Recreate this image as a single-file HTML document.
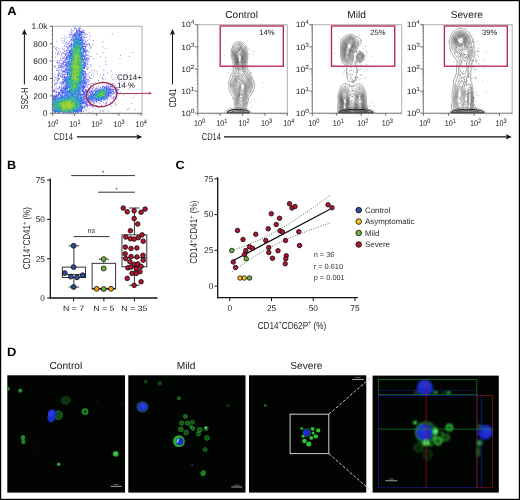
<!DOCTYPE html>
<html><head><meta charset="utf-8"><title>Figure</title>
<style>
html,body{margin:0;padding:0;background:#fff;}
body{width:520px;height:500px;overflow:hidden;}
svg{display:block;font-family:"Liberation Sans",sans-serif;text-rendering:geometricPrecision;will-change:transform;}
</style></head><body>
<svg width="520" height="500" viewBox="0 0 520 500">
<defs><filter id="dblur" x="-5%" y="-5%" width="110%" height="110%"><feGaussianBlur stdDeviation="0.3"/></filter>
<filter id="mblur" x="-5%" y="-5%" width="110%" height="110%"><feGaussianBlur stdDeviation="0.65"/></filter>
<filter id="mblur2" x="-5%" y="-5%" width="110%" height="110%"><feGaussianBlur stdDeviation="0.8"/></filter>
<clipPath id="c1"><rect x="7.3" y="375.3" width="117.7" height="117.3"/></clipPath>
<clipPath id="c5"><rect x="372.6" y="379.4" width="126.2" height="15.6"/></clipPath>
<clipPath id="c4"><rect x="372.6" y="375.6" width="126.2" height="117"/></clipPath></defs>
<rect x="0" y="0" width="520" height="500" fill="#fff"/>
<text transform="translate(7.2,15.3) scale(1.08,1)" font-size="12" font-weight="bold" fill="#000">A</text>
<g stroke-width="0.8" fill="none" filter="url(#dblur)">
<path d="M85.8 105.2h.8M85.3 109.5h.8M80.7 112.3h.8M86.2 109.9h.8M53.6 91.7h.8M85.9 106.1h.8M56.0 90.9h.8M81.2 111.3h.8M53.9 96.4h.8M53.7 112.3h.8M89.2 104.5h.8M57.9 92.3h.8M90.8 106.1h.8M53.3 95.6h.8M61.1 88.7h.8M80.9 111.6h.8M79.3 110.2h.8M82.6 29.3h.8M82.9 36.5h.8M72.6 31.0h.8M79.8 34.9h.8M63.8 86.9h.8M74.2 28.1h.8M83.6 30.6h.8M69.0 45.5h.8M87.4 67.4h.8M76.1 29.4h.8M84.4 71.8h.8M84.2 49.8h.8M73.7 26.5h.8M87.4 55.6h.8M74.0 29.0h.8M81.2 37.5h.8M64.4 51.7h.8M78.6 29.0h.8M71.0 30.6h.8M71.7 37.0h.8M83.7 39.6h.8M84.0 32.2h.8M89.2 39.0h.8M75.2 28.5h.8M87.7 59.5h.8M89.4 77.2h.8M84.0 46.5h.8M86.7 34.2h.8M72.7 35.6h.8M82.5 50.7h.8M73.1 34.6h.8M85.0 53.1h.8M78.9 28.8h.8M61.8 74.8h.8M68.5 51.6h.8M85.4 57.3h.8M82.3 34.7h.8M85.4 41.8h.8M69.2 46.0h.8M69.4 37.2h.8M85.7 89.9h.8M70.8 39.9h.8M66.7 54.9h.8M80.2 28.6h.8M86.4 82.1h.8M67.6 50.0h.8M82.6 32.8h.8M76.5 38.1h.8M86.2 44.5h.8M87.5 74.8h.8M69.1 34.8h.8M71.6 41.3h.8M83.9 37.7h.8M86.8 68.7h.8M76.6 29.7h.8M76.5 30.2h.8M77.6 34.5h.8M79.7 26.7h.8M82.8 30.6h.8M73.9 33.5h.8M86.3 37.5h.8M87.8 82.7h.8M84.5 56.8h.8M86.6 105.3h.8M86.2 51.9h.8M66.9 50.5h.8M87.6 80.6h.8M86.1 73.6h.8M89.8 48.5h.8M59.3 73.5h.8M86.9 59.3h.8M86.2 46.4h.8M63.8 56.7h.8M65.8 43.1h.8M86.5 50.3h.8M84.4 86.4h.8M81.1 33.0h.8M74.8 26.9h.8M66.1 56.8h.8M59.2 68.1h.8M64.6 59.8h.8M85.6 59.3h.8M65.5 58.4h.8M56.9 62.1h.8M61.8 84.2h.8M63.7 50.8h.8M57.0 80.3h.8M72.5 30.6h.8M89.3 46.0h.8M85.5 106.1h.8M88.6 72.8h.8M55.1 77.6h.8M85.5 67.0h.8M82.1 32.0h.8M85.1 41.1h.8M89.0 77.6h.8M90.8 105.6h.8M61.4 88.9h.8M65.2 64.8h.8M61.2 71.1h.8M86.9 69.2h.8M86.5 76.8h.8M56.0 92.4h.8M89.2 80.3h.8M88.5 53.0h.8M84.7 35.2h.8M87.7 89.7h.8M53.5 95.5h.8M70.8 32.2h.8M82.0 90.4h.8M87.6 55.4h.8M87.5 69.3h.8M96.8 54.0h.8M89.6 78.4h.8M90.4 56.5h.8M54.4 84.8h.8M84.3 101.0h.8M65.6 47.3h.8M88.6 32.9h.8M64.1 71.6h.8M82.7 95.4h.8M92.5 73.2h.8M65.1 62.6h.8M94.8 82.7h.8M65.9 42.2h.8M86.2 74.7h.8M89.5 72.2h.8M59.5 83.5h.8M59.6 67.6h.8M88.5 76.0h.8M86.2 44.6h.8M89.2 89.2h.8M87.9 43.5h.8M57.9 73.7h.8M68.5 46.4h.8M60.0 76.4h.8M61.0 65.8h.8M84.3 78.6h.8M87.0 44.9h.8M89.2 58.9h.8M88.7 105.8h.8M89.5 55.9h.8M84.5 95.1h.8M66.4 72.6h.8M62.7 57.8h.8M60.4 90.0h.8M65.8 51.0h.8M86.4 91.5h.8M90.9 75.3h.8M54.4 80.6h.8M93.2 87.2h.8M87.3 40.5h.8M85.4 34.1h.8M59.2 87.6h.8M60.2 65.9h.8M93.3 100.8h.8M90.9 65.8h.8M84.3 87.0h.8M73.8 28.5h.8M63.8 72.8h.8M85.6 103.5h.8M83.7 41.7h.8M70.2 34.1h.8M85.6 42.4h.8M64.1 36.1h.8M90.8 47.5h.8M89.3 44.9h.8M59.3 54.6h.8M89.1 44.4h.8M90.5 83.5h.8M70.8 34.5h.8M56.6 62.7h.8M75.7 33.0h.8M88.6 58.0h.8M93.2 40.5h.8M84.2 63.2h.8M61.9 48.2h.8M87.4 50.9h.8M83.5 43.3h.8M87.1 87.2h.8M72.6 39.8h.8M86.7 44.5h.8M86.3 86.2h.8M63.7 82.3h.8M70.3 40.2h.8M62.6 42.9h.8M83.9 33.6h.8M64.1 65.0h.8M70.4 38.8h.8M83.6 37.7h.8M85.1 75.6h.8M68.5 53.4h.8M88.7 67.2h.8M67.0 47.6h.8M86.7 81.6h.8M84.0 56.7h.8M71.6 35.5h.8M77.6 90.4h.8M75.7 32.8h.8M71.1 29.2h.8M88.6 51.4h.8M57.7 75.5h.8M89.7 35.8h.8M88.3 105.3h.8M68.5 37.1h.8M88.0 89.1h.8M60.8 74.4h.8M83.8 37.4h.8M62.2 72.7h.8M78.2 30.2h.8M86.5 51.7h.8M71.6 34.4h.8M88.8 61.1h.8M66.2 53.5h.8M60.9 83.3h.8M84.1 81.0h.8M67.3 61.7h.8M88.6 81.8h.8M87.6 84.8h.8M93.2 75.9h.8M62.3 70.8h.8M62.0 68.0h.8M87.1 80.1h.8M89.3 92.6h.8M62.8 95.8h.8M57.9 79.9h.8M69.3 32.0h.8M84.6 37.2h.8M90.2 46.8h.8M54.2 76.7h.8M86.4 103.1h.8M90.1 85.7h.8M57.7 63.6h.8M91.6 83.5h.8M55.8 84.1h.8M53.9 91.2h.8M58.8 87.0h.8M62.7 79.7h.8M55.1 48.7h.8M56.7 80.0h.8M58.5 72.7h.8M61.8 82.1h.8M57.7 70.4h.8M67.6 48.0h.8M53.8 90.7h.8M58.7 79.0h.8M53.6 89.3h.8M66.5 41.5h.8M58.6 75.2h.8M56.6 88.5h.8M58.0 66.8h.8M61.6 74.9h.8M55.0 89.1h.8M66.1 37.7h.8M57.2 54.1h.8M62.4 53.3h.8M87.1 50.6h.8M90.0 64.8h.8M53.6 65.8h.8M63.7 67.0h.8M67.1 52.8h.8M56.9 75.9h.8M56.6 68.4h.8M85.1 45.8h.8M89.8 92.6h.8M57.4 81.7h.8M57.9 74.2h.8M62.0 58.8h.8M54.9 66.9h.8M64.2 45.7h.8M86.4 79.4h.8M58.3 88.3h.8M93.0 107.2h.8M55.3 91.4h.8M69.4 41.3h.8M57.0 69.7h.8M54.3 79.6h.8M58.9 65.1h.8M61.2 86.2h.8M58.6 48.6h.8M62.5 52.5h.8M79.3 93.0h.8M56.6 82.5h.8M58.1 71.1h.8M81.0 89.0h.8M56.1 70.5h.8M63.3 53.5h.8M60.8 90.3h.8M63.8 83.0h.8M54.9 57.2h.8M60.9 73.2h.8M83.2 103.3h.8M57.9 53.4h.8M67.8 53.8h.8M62.8 75.2h.8M71.3 39.7h.8M63.6 61.2h.8M67.0 46.3h.8M61.0 85.1h.8M60.8 60.0h.8M57.4 52.9h.8M58.1 67.7h.8M55.7 95.2h.8M54.2 90.8h.8M58.2 76.1h.8M64.5 70.9h.8M57.8 77.5h.8M84.6 76.8h.8M63.4 49.3h.8M55.0 53.2h.8M59.0 78.6h.8M57.4 89.0h.8M61.2 69.3h.8M85.8 76.3h.8M59.4 62.2h.8M57.4 95.1h.8M95.9 88.0h.8M63.8 57.5h.8M59.8 87.4h.8M53.7 46.9h.8M66.6 44.9h.8M56.5 47.2h.8M54.7 74.0h.8M68.7 47.8h.8M63.4 77.2h.8M54.7 84.0h.8M63.6 38.3h.8M62.3 61.1h.8M59.4 66.8h.8M57.0 78.5h.8M61.5 55.7h.8M64.8 68.9h.8M67.9 43.9h.8M54.4 66.7h.8M59.8 75.3h.8M65.7 62.0h.8M61.9 92.6h.8M58.6 89.4h.8M54.3 85.2h.8M65.3 85.1h.8M63.9 40.8h.8M68.8 43.4h.8M66.3 50.3h.8M71.0 40.0h.8M61.6 40.7h.8M85.5 77.2h.8M64.5 39.0h.8M62.1 66.5h.8M62.5 66.5h.8M67.4 44.0h.8M57.1 60.9h.8M59.3 70.7h.8M62.0 66.1h.8M61.2 54.2h.8M113.7 87.0h.8M89.8 96.8h.8M110.7 89.2h.8M110.6 85.1h.8M112.1 89.4h.8M107.5 98.1h.8M107.0 97.6h.8M115.6 92.8h.8M89.2 101.0h.8M91.6 100.1h.8M102.8 102.9h.8M96.3 102.7h.8M112.4 91.5h.8M115.1 90.1h.8M106.6 99.6h.8M114.6 85.3h.8M93.6 103.5h.8M114.2 92.5h.8M86.3 95.0h.8M92.7 90.5h.8M95.9 89.3h.8M113.4 96.6h.8M89.3 91.3h.8M120.4 92.0h.8M105.9 102.8h.8M111.0 97.9h.8M116.6 88.1h.8M101.1 105.8h.8M116.4 88.1h.8M112.5 98.8h.8M109.9 95.5h.8M92.4 88.5h.8M102.8 79.7h.8M113.7 97.5h.8M116.7 97.2h.8M112.3 84.9h.8M102.3 87.9h.8M129.7 86.4h.8M106.1 98.4h.8M115.1 94.1h.8M107.7 85.3h.8M106.4 102.9h.8M90.8 91.6h.8M89.5 112.5h.8M94.0 103.2h.8M88.6 95.4h.8M93.7 102.3h.8M97.4 88.6h.8M117.6 92.3h.8M97.8 107.2h.8M117.1 89.7h.8M105.6 103.5h.8M105.4 101.2h.8M113.0 92.9h.8M110.6 87.0h.8M97.1 106.1h.8M95.9 87.8h.8M112.8 98.5h.8M95.0 89.3h.8M117.7 93.2h.8M102.0 83.6h.8M108.1 86.9h.8M99.7 87.0h.8M115.2 87.5h.8M116.8 91.6h.8M121.4 84.8h.8M99.4 103.3h.8M112.8 97.7h.8M89.2 88.1h.8M89.3 90.1h.8M92.7 87.7h.8M99.8 87.5h.8M115.0 89.5h.8M85.5 90.5h.8M106.1 86.2h.8M94.7 108.8h.8M114.6 88.3h.8M110.0 84.5h.8M115.7 91.2h.8M95.8 88.5h.8M114.0 87.3h.8M85.9 99.1h.8M118.7 89.9h.8M102.5 86.4h.8M115.3 99.1h.8M111.9 89.4h.8M102.3 86.8h.8M105.0 103.8h.8M111.4 84.6h.8M98.0 86.7h.8M100.6 106.5h.8M87.2 90.5h.8M113.0 91.7h.8M109.6 94.3h.8M105.6 85.0h.8M94.0 70.7h.8M135.3 76.5h.8M54.3 60.6h.8M58.1 51.4h.8M87.7 91.4h.8M112.8 79.8h.8M57.7 65.4h.8M100.7 105.1h.8M119.0 77.5h.8M102.3 106.6h.8M107.3 73.1h.8M58.5 60.5h.8M58.0 51.7h.8M109.8 99.1h.8M129.1 108.7h.8M55.9 50.3h.8M55.7 78.1h.8M116.6 91.0h.8M60.1 52.4h.8M62.9 74.3h.8M63.9 48.9h.8M69.1 41.7h.8M116.4 74.5h.8M67.2 73.0h.8M98.2 107.2h.8M59.5 63.8h.8M117.3 90.7h.8M87.8 110.5h.8M57.8 78.2h.8M53.7 81.8h.8M55.8 41.5h.8M63.3 62.0h.8M53.6 90.0h.8M56.7 54.7h.8M55.0 83.1h.8M119.2 80.9h.8M105.4 104.4h.8M107.3 84.9h.8M105.1 79.0h.8M131.0 103.4h.8M53.8 47.2h.8M88.4 84.7h.8M101.8 78.6h.8M108.3 86.8h.8M91.1 88.9h.8M96.9 73.7h.8M64.8 51.3h.8M64.8 44.1h.8M66.4 46.3h.8M90.1 105.1h.8M56.6 62.1h.8M105.7 64.4h.8M103.5 75.4h.8M82.8 111.6h.8M120.1 55.3h.8M102.8 52.7h.8M99.9 111.0h.8M60.9 82.6h.8M133.0 97.9h.8M99.1 66.2h.8M111.5 76.8h.8M102.0 110.9h.8M102.9 111.1h.8M91.1 78.5h.8M111.1 71.0h.8M119.0 85.4h.8M102.1 77.7h.8M56.0 49.5h.8M61.1 38.5h.8M89.6 87.9h.8M119.6 58.4h.8M105.0 48.4h.8M118.2 89.6h.8M132.3 52.5h.8M113.4 94.1h.8M60.2 58.5h.8M115.1 103.0h.8M89.4 108.3h.8M92.5 111.8h.8M61.7 81.2h.8M87.2 102.1h.8M111.9 33.9h.8M131.3 85.4h.8M58.0 79.0h.8M63.9 54.1h.8M128.8 88.8h.8M91.6 101.2h.8M92.7 106.7h.8M100.1 75.1h.8M60.6 94.9h.8M120.8 75.1h.8M56.5 83.2h.8M112.7 83.8h.8M98.1 80.4h.8M87.7 64.2h.8M111.7 74.4h.8M112.5 83.6h.8M105.4 61.5h.8M83.8 108.4h.8M134.6 109.6h.8M60.5 60.6h.8M126.2 77.0h.8M114.7 79.1h.8M126.8 73.8h.8M92.9 83.4h.8M92.7 59.0h.8M110.1 105.5h.8M62.7 57.9h.8M100.2 56.7h.8M114.5 97.7h.8M91.4 70.2h.8M96.6 71.2h.8M89.7 104.7h.8M116.2 87.5h.8M115.4 97.0h.8M114.5 105.0h.8M119.2 84.0h.8M102.8 74.5h.8M92.1 107.1h.8M63.6 42.3h.8M123.4 94.9h.8M59.1 73.0h.8M90.7 91.3h.8M126.6 85.8h.8M92.0 101.6h.8M120.6 81.7h.8M102.1 42.0h.8M116.2 105.2h.8M96.7 83.3h.8M61.2 87.9h.8M87.8 79.7h.8M96.3 105.6h.8M127.3 109.5h.8M99.8 112.0h.8M108.3 110.9h.8M110.3 101.8h.8M92.9 105.0h.8M129.1 56.5h.8M103.4 70.1h.8M106.3 105.6h.8M68.6 34.3h.8M108.1 83.8h.8M111.8 103.1h.8M88.3 44.1h.8M63.8 45.9h.8M111.5 107.0h.8M135.6 94.4h.8M54.3 67.0h.8M92.4 44.7h.8M112.7 93.8h.8M105.4 57.3h.8M102.6 46.9h.8M53.5 91.7h.8" stroke="#5a4ee6"/>
<path d="M66.2 112.0h.8M66.6 98.8h.8M59.6 107.7h.8M70.7 112.2h.8M53.4 105.1h.8M67.0 112.2h.8M55.3 108.7h.8M57.3 111.4h.8M53.7 110.2h.8M59.9 102.3h.8M83.9 107.4h.8M78.5 110.6h.8M53.6 111.1h.8M63.2 110.1h.8M54.7 108.1h.8M77.5 106.0h.8M83.3 110.8h.8M55.6 102.0h.8M59.8 95.0h.8M68.1 95.4h.8M84.3 105.7h.8M84.6 106.8h.8M64.8 95.6h.8M61.2 96.6h.8M56.4 94.7h.8M59.0 97.4h.8M59.0 93.5h.8M55.1 96.8h.8M59.8 105.3h.8M53.8 103.0h.8M68.5 96.7h.8M68.0 91.0h.8M69.6 112.1h.8M60.9 98.2h.8M53.6 97.1h.8M62.1 91.0h.8M55.0 99.3h.8M53.6 101.1h.8M81.7 105.2h.8M64.6 99.2h.8M57.4 102.8h.8M83.2 102.4h.8M78.6 111.2h.8M71.5 95.6h.8M62.5 112.2h.8M54.0 100.6h.8M83.8 101.3h.8M54.5 111.5h.8M73.8 99.9h.8M79.0 107.5h.8M61.0 111.2h.8M53.3 110.5h.8M77.5 112.3h.8M85.0 104.2h.8M77.2 111.3h.8M77.0 112.1h.8M54.8 112.4h.8M58.5 95.9h.8M79.5 109.9h.8M54.7 96.7h.8M61.0 99.5h.8M60.7 99.0h.8M65.3 112.0h.8M64.6 93.1h.8M87.4 105.5h.8M57.7 106.5h.8M62.8 96.6h.8M54.8 106.3h.8M54.4 110.0h.8M81.1 102.0h.8M59.0 93.1h.8M70.1 94.7h.8M54.1 97.6h.8M59.6 112.1h.8M82.7 100.6h.8M54.3 111.6h.8M61.4 95.6h.8M78.2 97.7h.8M64.2 96.3h.8M76.9 109.8h.8M81.9 108.6h.8M75.0 112.4h.8M81.0 110.0h.8M79.5 104.9h.8M58.1 112.4h.8M80.6 103.2h.8M76.3 111.1h.8M54.3 98.0h.8M53.9 97.6h.8M60.5 96.8h.8M81.1 110.1h.8M81.1 110.7h.8M73.9 111.4h.8M53.3 99.1h.8M70.2 112.1h.8M78.7 107.9h.8M53.7 109.5h.8M54.0 110.7h.8M77.3 96.9h.8M57.6 112.0h.8M61.8 111.6h.8M81.5 100.6h.8M80.3 111.4h.8M58.7 107.1h.8M77.1 103.0h.8M79.5 109.7h.8M57.7 98.9h.8M63.7 112.2h.8M79.3 111.1h.8M80.9 111.2h.8M57.1 112.2h.8M77.2 111.3h.8M78.7 101.5h.8M81.6 108.8h.8M80.4 106.7h.8M77.6 107.2h.8M79.3 109.5h.8M70.0 97.2h.8M78.0 112.3h.8M81.4 107.1h.8M57.5 98.9h.8M59.4 98.4h.8M80.4 108.2h.8M60.0 97.8h.8M80.0 107.0h.8M81.6 100.8h.8M80.9 107.3h.8M74.1 33.8h.8M80.1 31.8h.8M72.9 46.5h.8M76.8 34.0h.8M82.1 32.4h.8M77.1 97.8h.8M81.2 43.1h.8M84.3 73.2h.8M84.8 85.4h.8M79.2 42.2h.8M83.5 84.3h.8M80.7 37.7h.8M80.8 42.8h.8M68.0 43.1h.8M76.9 93.7h.8M78.6 29.9h.8M84.0 57.8h.8M80.2 42.9h.8M81.2 85.1h.8M80.7 32.3h.8M83.3 70.4h.8M74.2 34.8h.8M71.3 44.2h.8M84.1 46.9h.8M75.7 43.6h.8M80.5 31.6h.8M67.0 74.5h.8M78.0 44.8h.8M79.6 41.1h.8M83.8 59.5h.8M78.6 89.4h.8M70.7 47.8h.8M73.1 95.4h.8M80.2 97.2h.8M79.2 31.1h.8M78.7 34.7h.8M81.7 82.1h.8M82.3 60.1h.8M82.5 56.6h.8M82.6 32.4h.8M73.4 36.9h.8M80.6 95.7h.8M74.2 35.3h.8M83.6 86.8h.8M67.6 76.4h.8M83.3 82.5h.8M64.8 54.1h.8M66.1 64.0h.8M84.5 34.3h.8M80.8 49.1h.8M83.6 77.3h.8M69.7 56.8h.8M81.1 53.7h.8M82.1 57.2h.8M72.3 40.4h.8M82.2 76.1h.8M79.8 40.3h.8M70.7 77.6h.8M80.1 93.6h.8M84.1 67.4h.8M83.6 62.1h.8M84.0 80.4h.8M71.0 43.2h.8M84.9 46.7h.8M81.7 43.1h.8M78.2 37.9h.8M79.3 87.6h.8M71.6 60.6h.8M76.1 33.2h.8M73.6 41.1h.8M74.9 34.2h.8M66.8 73.8h.8M78.9 36.4h.8M79.8 35.2h.8M72.5 34.9h.8M85.5 51.2h.8M82.9 74.5h.8M87.0 64.3h.8M79.6 53.6h.8M83.5 49.4h.8M79.6 91.5h.8M82.1 46.8h.8M84.2 59.4h.8M65.4 88.9h.8M83.9 43.5h.8M84.7 51.8h.8M78.2 29.1h.8M84.9 64.6h.8M82.8 49.5h.8M68.7 78.7h.8M70.5 56.5h.8M82.7 62.7h.8M65.0 87.3h.8M83.7 55.4h.8M75.9 31.3h.8M70.0 36.0h.8M67.3 83.6h.8M77.7 94.7h.8M69.0 51.6h.8M67.0 66.5h.8M83.2 49.1h.8M69.1 72.8h.8M69.7 52.7h.8M69.2 61.4h.8M69.6 84.0h.8M73.6 35.6h.8M84.2 59.5h.8M81.3 38.3h.8M79.2 44.4h.8M83.3 53.1h.8M77.9 38.9h.8M70.8 58.5h.8M82.4 45.5h.8M69.8 78.9h.8M84.2 83.2h.8M79.4 27.5h.8M69.1 50.5h.8M77.4 32.4h.8M66.8 94.6h.8M83.7 71.5h.8M71.6 44.4h.8M77.2 35.6h.8M78.1 30.8h.8M68.7 86.9h.8M63.8 77.1h.8M83.0 94.1h.8M70.3 45.2h.8M79.5 31.2h.8M72.1 72.6h.8M66.4 89.2h.8M83.5 57.0h.8M83.1 32.3h.8M82.2 70.1h.8M71.3 32.9h.8M77.2 39.0h.8M66.6 57.1h.8M82.6 87.5h.8M70.1 54.9h.8M82.5 80.8h.8M74.3 38.9h.8M77.5 41.5h.8M82.5 38.0h.8M83.8 50.1h.8M79.8 40.4h.8M80.5 43.0h.8M74.0 51.9h.8M68.6 60.3h.8M72.6 39.0h.8M70.9 46.8h.8M81.3 54.6h.8M79.8 31.0h.8M81.7 77.5h.8M74.9 39.6h.8M80.3 39.2h.8M79.4 87.6h.8M75.3 42.9h.8M84.7 77.6h.8M80.1 66.7h.8M82.4 55.7h.8M77.9 40.5h.8M67.4 61.7h.8M64.6 85.5h.8M82.8 49.4h.8M66.5 68.5h.8M64.9 78.8h.8M71.4 38.9h.8M64.7 53.6h.8M81.2 56.1h.8M69.8 55.6h.8M68.9 69.3h.8M85.3 63.5h.8M80.6 36.8h.8M71.7 94.4h.8M83.2 46.2h.8M83.1 52.1h.8M66.7 76.0h.8M76.3 36.6h.8M84.6 64.3h.8M68.8 83.8h.8M80.3 84.4h.8M80.3 57.3h.8M83.4 89.6h.8M79.5 37.6h.8M68.9 68.7h.8M80.5 40.6h.8M70.0 45.2h.8M75.6 32.5h.8M79.4 55.8h.8M70.1 56.0h.8M69.2 58.6h.8M81.2 72.7h.8M79.0 32.3h.8M68.5 55.8h.8M85.4 49.4h.8M71.5 42.4h.8M82.0 74.3h.8M83.7 98.3h.8M83.5 74.9h.8M60.9 77.2h.8M85.6 54.7h.8M81.1 33.0h.8M82.7 86.7h.8M78.1 32.1h.8M67.4 88.3h.8M71.7 38.1h.8M80.7 41.1h.8M79.1 39.6h.8M80.0 37.7h.8M82.3 46.4h.8M83.2 78.0h.8M86.0 55.6h.8M78.9 30.3h.8M76.9 34.0h.8M79.2 49.7h.8M67.4 55.1h.8M74.5 42.7h.8M83.2 48.6h.8M74.5 45.6h.8M73.4 40.2h.8M80.6 46.2h.8M67.5 84.3h.8M78.8 30.0h.8M81.8 55.0h.8M82.5 75.0h.8M83.6 62.4h.8M74.4 35.7h.8M80.2 44.4h.8M67.3 73.3h.8M82.7 91.7h.8M85.7 54.1h.8M84.5 68.6h.8M81.4 40.3h.8M82.0 43.9h.8M79.8 42.9h.8M76.9 58.3h.8M79.5 37.3h.8M80.4 39.2h.8M70.4 53.8h.8M85.0 96.8h.8M66.7 72.6h.8M83.7 43.1h.8M67.1 94.5h.8M82.8 47.0h.8M84.5 78.4h.8M84.8 52.8h.8M78.9 33.6h.8M80.9 98.5h.8M84.4 75.7h.8M77.2 31.6h.8M85.0 47.9h.8M64.1 60.9h.8M79.5 95.3h.8M74.4 36.0h.8M85.5 64.4h.8M67.0 64.9h.8M71.2 46.5h.8M62.6 81.8h.8M68.6 66.7h.8M84.1 50.9h.8M70.0 54.1h.8M85.1 59.2h.8M68.0 72.7h.8M84.1 93.4h.8M80.1 104.2h.8M78.7 99.9h.8M76.2 32.9h.8M66.4 88.8h.8M83.2 93.3h.8M85.9 66.1h.8M83.4 52.7h.8M80.2 50.5h.8M82.1 34.7h.8M82.2 55.6h.8M86.7 57.6h.8M88.6 89.3h.8M83.2 61.6h.8M81.1 33.0h.8M67.2 57.9h.8M83.4 40.4h.8M63.5 62.2h.8M79.9 88.1h.8M84.7 94.9h.8M66.8 88.7h.8M85.0 73.0h.8M79.6 95.4h.8M85.0 83.4h.8M84.5 77.6h.8M82.2 94.6h.8M82.5 74.2h.8M81.9 83.2h.8M63.3 81.9h.8M64.5 91.4h.8M65.2 81.1h.8M65.3 88.4h.8M84.4 50.1h.8M82.4 80.5h.8M83.3 86.1h.8M65.4 81.3h.8M82.7 88.2h.8M84.1 62.2h.8M65.7 72.1h.8M69.0 87.5h.8M85.4 74.6h.8M83.1 92.4h.8M85.3 81.6h.8M64.1 77.6h.8M84.8 65.6h.8M76.0 31.9h.8M67.4 48.7h.8M69.3 50.9h.8M77.3 95.4h.8M84.6 44.4h.8M62.0 77.2h.8M86.4 85.2h.8M86.8 63.4h.8M69.7 45.1h.8M78.1 95.9h.8M69.0 93.5h.8M79.5 80.2h.8M81.3 33.5h.8M83.5 88.1h.8M84.7 63.4h.8M80.9 34.3h.8M55.4 94.7h.8M70.0 91.9h.8M69.8 61.5h.8M80.9 97.1h.8M84.4 78.2h.8M81.0 103.9h.8M65.6 64.1h.8M60.4 63.9h.8M85.2 56.1h.8M67.6 61.3h.8M81.4 31.6h.8M83.9 65.3h.8M66.5 82.8h.8M85.2 93.1h.8M60.9 88.5h.8M65.4 86.2h.8M86.1 100.1h.8M71.0 45.2h.8M82.3 99.9h.8M82.1 57.9h.8M82.1 70.6h.8M81.5 87.5h.8M74.3 97.2h.8M84.1 102.5h.8M67.0 56.8h.8M65.4 88.5h.8M86.2 83.2h.8M81.8 30.9h.8M70.8 43.6h.8M72.4 37.4h.8M80.7 95.2h.8M85.1 60.5h.8M66.6 59.8h.8M80.7 91.1h.8M73.9 34.8h.8M84.9 99.7h.8M62.0 77.4h.8M72.1 37.1h.8M84.5 106.5h.8M62.0 90.1h.8M70.8 61.3h.8M63.4 66.8h.8M62.0 90.6h.8M69.7 50.6h.8M84.6 76.9h.8M84.5 91.6h.8M59.2 92.4h.8M65.7 65.7h.8M82.3 47.3h.8M69.5 52.5h.8M83.3 97.7h.8M80.3 109.7h.8M85.8 82.8h.8M67.2 56.0h.8M79.8 86.7h.8M60.1 91.4h.8M61.0 97.6h.8M74.8 35.1h.8M68.6 47.7h.8M65.8 77.5h.8M65.0 95.7h.8M82.3 101.7h.8M80.4 94.8h.8M82.5 97.9h.8M77.1 34.5h.8M84.1 91.9h.8M82.9 52.0h.8M78.0 92.1h.8M63.3 81.2h.8M71.7 58.0h.8M83.4 32.7h.8M86.5 62.0h.8M84.7 102.0h.8M63.4 93.8h.8M75.8 42.3h.8M83.4 86.9h.8M75.5 36.8h.8M81.8 36.3h.8M68.7 55.7h.8M85.5 83.0h.8M71.5 84.7h.8M85.7 84.3h.8M82.5 40.0h.8M83.5 76.6h.8M81.8 94.3h.8M85.1 89.5h.8M60.5 76.4h.8M70.4 81.5h.8M86.1 92.1h.8M78.9 35.8h.8M83.3 79.8h.8M65.9 67.6h.8M80.6 52.5h.8M82.7 81.9h.8M76.7 34.1h.8M67.8 52.1h.8M84.0 103.9h.8M86.0 59.9h.8M83.7 51.1h.8M83.1 43.5h.8M63.6 90.4h.8M65.0 65.6h.8M84.3 93.2h.8M76.4 38.5h.8M80.4 91.4h.8M64.0 79.8h.8M68.4 59.6h.8M71.1 49.0h.8M63.2 68.2h.8M87.4 61.4h.8M77.3 92.6h.8M63.6 90.5h.8M83.2 71.3h.8M66.4 53.1h.8M53.3 90.8h.8M81.4 56.0h.8M83.9 44.0h.8M85.9 90.1h.8M84.3 87.2h.8M74.4 93.9h.8M81.8 106.3h.8M69.3 50.6h.8M82.0 87.2h.8M84.8 83.7h.8M76.1 31.2h.8M69.2 57.9h.8M65.8 77.1h.8M69.9 89.4h.8M79.2 90.1h.8M73.1 39.5h.8M83.2 102.8h.8M89.3 84.3h.8M68.8 92.6h.8M72.5 88.4h.8M82.4 41.9h.8M58.3 94.7h.8M82.4 39.9h.8M66.6 96.7h.8M82.5 106.7h.8M63.3 81.9h.8M78.9 94.6h.8M83.3 84.1h.8M73.7 45.7h.8M76.2 102.2h.8M77.1 101.8h.8M82.7 90.6h.8M86.6 92.1h.8M83.8 73.2h.8M84.0 58.6h.8M84.8 90.8h.8M83.0 75.5h.8M85.6 79.4h.8M67.2 75.5h.8M83.1 67.7h.8M67.5 68.2h.8M66.2 66.6h.8M65.1 77.4h.8M65.5 78.7h.8M67.2 66.2h.8M59.9 98.0h.8M79.0 93.6h.8M64.1 96.0h.8M60.8 91.1h.8M66.7 74.8h.8M65.6 68.2h.8M62.8 89.2h.8M86.5 91.8h.8M67.3 65.3h.8M88.1 58.2h.8M82.2 41.1h.8M84.9 66.6h.8M65.6 70.2h.8M81.8 85.7h.8M86.1 54.8h.8M86.3 83.3h.8M67.0 74.7h.8M82.7 103.6h.8M68.1 91.9h.8M85.5 61.3h.8M84.4 44.0h.8M84.5 84.6h.8M69.8 52.6h.8M63.3 61.8h.8M83.4 107.7h.8M85.3 51.4h.8M66.2 79.3h.8M81.9 82.4h.8M86.3 104.4h.8M66.7 91.8h.8M79.1 34.1h.8M84.2 68.5h.8M85.2 91.5h.8M85.6 99.1h.8M66.7 93.4h.8M69.3 53.4h.8M81.9 31.3h.8M60.1 89.7h.8M86.1 58.3h.8M77.2 94.0h.8M69.1 64.5h.8M84.2 82.0h.8M65.5 88.7h.8M84.4 77.8h.8M80.6 40.0h.8M78.2 92.4h.8M79.4 41.5h.8M80.3 32.2h.8M64.3 62.4h.8M72.6 94.8h.8M88.2 102.3h.8M76.4 30.5h.8M61.0 85.7h.8M63.8 62.3h.8M85.1 59.3h.8M72.7 91.2h.8M77.9 38.7h.8M79.1 90.7h.8M84.3 55.4h.8M83.3 54.2h.8M69.6 89.5h.8M70.8 82.6h.8M79.6 91.7h.8M84.7 71.7h.8M74.6 36.3h.8M67.7 86.1h.8M87.4 60.3h.8M62.9 74.9h.8M81.0 79.4h.8M85.1 47.0h.8M83.5 67.7h.8M82.7 86.6h.8M64.3 77.1h.8M66.9 62.7h.8M84.1 95.1h.8M85.7 82.0h.8M88.4 99.3h.8M64.8 58.4h.8M61.2 93.1h.8M79.0 109.3h.8M60.8 63.2h.8M83.0 82.3h.8M66.5 63.4h.8M65.7 84.4h.8M67.2 59.1h.8M81.0 107.1h.8M65.1 90.5h.8M67.4 52.9h.8M58.6 62.2h.8M65.9 95.5h.8M66.8 70.1h.8M65.8 64.1h.8M80.8 110.2h.8M66.6 69.5h.8M80.2 100.6h.8M67.2 84.0h.8M69.4 89.7h.8M70.0 62.5h.8M66.4 64.8h.8M66.8 89.4h.8M53.4 96.4h.8M83.6 101.5h.8M55.7 87.0h.8M64.3 66.7h.8M67.5 61.8h.8M80.4 98.7h.8M81.5 99.3h.8M63.3 87.6h.8M65.9 56.9h.8M79.4 110.6h.8M65.8 54.1h.8M60.6 92.5h.8M64.4 92.9h.8M77.5 109.8h.8M65.9 94.7h.8M65.8 94.2h.8M63.0 85.9h.8M62.3 63.4h.8M84.5 98.5h.8M84.2 67.2h.8M75.8 110.6h.8M64.6 83.8h.8M66.5 50.5h.8M58.0 93.0h.8M65.5 85.7h.8M70.3 95.1h.8M65.4 65.5h.8M69.2 59.8h.8M86.7 79.1h.8M54.9 111.7h.8M62.8 71.8h.8M65.4 69.5h.8M58.6 91.9h.8M65.4 80.8h.8M63.7 77.9h.8M61.5 65.0h.8M83.2 94.6h.8M55.7 92.1h.8M64.8 86.3h.8M64.1 71.8h.8M81.3 85.3h.8M81.8 103.3h.8M81.3 102.3h.8M64.0 71.5h.8M61.7 88.1h.8M59.2 87.0h.8M84.1 80.7h.8M64.9 80.8h.8M63.9 71.5h.8M70.2 94.9h.8M65.2 58.6h.8M64.6 97.1h.8M65.0 87.3h.8M70.4 58.6h.8M65.6 71.2h.8M83.6 87.6h.8M86.9 58.5h.8M61.0 98.6h.8M63.9 94.9h.8M61.2 67.1h.8M85.4 96.3h.8M64.7 84.8h.8M70.0 57.8h.8M65.7 62.6h.8M66.1 82.4h.8M82.3 106.5h.8M86.8 104.3h.8M66.0 92.7h.8M53.6 108.2h.8M73.8 96.2h.8M64.4 74.4h.8M64.5 90.2h.8M57.5 95.1h.8M60.1 66.0h.8M60.8 90.1h.8M60.4 94.6h.8M61.5 92.4h.8M67.7 97.9h.8M66.2 57.9h.8M59.7 82.7h.8M67.7 90.6h.8M77.6 109.3h.8M90.6 100.3h.8M61.1 90.7h.8M64.2 76.2h.8M66.4 83.7h.8M63.3 64.2h.8M85.1 80.9h.8M65.8 87.1h.8M59.9 76.3h.8M67.0 72.5h.8M65.1 55.6h.8M62.1 58.2h.8M64.7 69.8h.8M66.5 56.0h.8M63.1 63.3h.8M81.9 109.1h.8M65.1 79.7h.8M81.7 107.6h.8M62.8 70.5h.8M68.4 62.5h.8M68.7 84.7h.8M64.9 89.8h.8M70.0 46.6h.8M60.9 67.0h.8M63.5 71.0h.8M79.0 108.3h.8M85.3 62.9h.8M56.3 92.2h.8M57.4 98.1h.8M64.1 76.9h.8M63.8 80.5h.8M64.8 76.6h.8M65.8 91.7h.8M53.9 96.1h.8M84.4 82.2h.8M65.6 58.8h.8M63.0 71.6h.8M60.2 95.4h.8M78.7 93.1h.8M83.1 97.1h.8M59.3 93.1h.8M63.5 64.6h.8M64.2 87.8h.8M57.9 92.9h.8M62.3 79.2h.8M75.4 45.5h.8M60.9 95.8h.8M62.3 71.3h.8M85.8 104.9h.8M82.1 91.4h.8M83.4 74.7h.8M62.0 76.6h.8M80.2 84.9h.8M65.2 72.9h.8M65.1 74.4h.8M66.6 69.3h.8M62.4 63.6h.8M67.3 84.8h.8M66.7 91.0h.8M62.4 94.8h.8M78.8 93.7h.8M66.2 59.2h.8M64.9 60.4h.8M65.0 96.7h.8M88.0 93.8h.8M62.0 83.6h.8M104.2 96.0h.8M110.1 87.1h.8M92.3 93.5h.8M105.1 99.0h.8M103.4 97.6h.8M88.5 99.9h.8M106.3 89.7h.8M93.6 100.8h.8M88.9 92.4h.8M97.0 100.2h.8M90.3 101.9h.8M106.1 87.5h.8M108.8 87.4h.8M105.6 97.7h.8M93.2 93.9h.8M109.6 90.3h.8M107.2 87.9h.8M88.3 96.0h.8M91.9 100.2h.8M91.8 99.2h.8M96.9 99.0h.8M99.1 99.0h.8M107.4 92.0h.8M110.6 92.4h.8M91.3 92.6h.8M89.5 95.9h.8M99.2 100.5h.8M100.9 97.2h.8M89.8 94.0h.8M100.3 90.8h.8M110.4 86.2h.8M91.7 100.5h.8M93.1 98.2h.8M108.4 88.9h.8M110.9 89.1h.8M95.7 99.3h.8M109.3 93.4h.8M108.7 96.7h.8M96.4 98.6h.8M112.6 90.5h.8M88.5 97.6h.8M89.7 97.1h.8M105.5 96.5h.8M108.3 92.3h.8M104.4 88.9h.8M106.1 91.5h.8M111.2 89.6h.8M88.0 99.9h.8M104.4 87.0h.8M88.3 99.8h.8M98.5 98.2h.8M110.1 90.6h.8M111.9 93.9h.8M105.9 93.2h.8M108.6 91.7h.8M106.3 94.3h.8M106.0 97.9h.8M89.2 97.7h.8M108.3 95.3h.8M103.0 86.4h.8M100.3 89.5h.8M113.2 89.6h.8M94.0 94.4h.8M106.8 92.9h.8M108.7 95.8h.8M91.0 98.7h.8M87.4 98.7h.8M92.6 95.7h.8M93.5 96.6h.8M98.5 91.6h.8M106.0 88.8h.8M96.3 100.8h.8M99.3 91.3h.8M107.7 89.0h.8M105.5 94.2h.8M94.5 99.1h.8M89.9 90.6h.8M89.2 101.7h.8M106.2 96.2h.8M98.4 89.3h.8M103.7 88.4h.8M112.8 89.7h.8M96.8 97.8h.8M100.5 89.4h.8M86.2 103.2h.8M105.0 97.9h.8M112.0 87.4h.8M100.2 101.6h.8M93.3 98.6h.8M111.0 86.7h.8M86.1 91.4h.8M108.8 94.9h.8M96.0 91.4h.8M107.6 96.3h.8M85.7 95.9h.8M110.7 92.3h.8M97.8 102.1h.8M90.9 95.6h.8M94.5 90.8h.8M95.2 91.9h.8M86.0 101.8h.8M89.9 98.8h.8M94.1 99.7h.8M112.6 91.2h.8M108.9 92.7h.8M84.2 98.5h.8M107.1 87.1h.8M92.1 97.6h.8M110.0 93.5h.8M95.9 100.2h.8M90.1 93.2h.8M92.8 102.1h.8M101.5 99.5h.8M101.4 92.4h.8M82.2 103.1h.8M114.5 89.1h.8M91.8 93.0h.8M105.8 87.2h.8M91.1 91.7h.8M103.6 86.4h.8M107.1 97.1h.8M110.1 96.2h.8M92.9 96.5h.8M82.8 94.9h.8M85.4 94.4h.8M110.1 91.4h.8M110.6 93.6h.8M111.9 86.2h.8M104.0 87.3h.8M92.2 89.2h.8M82.2 91.4h.8M91.2 91.2h.8M108.4 86.5h.8M87.3 91.8h.8M108.3 93.1h.8M92.6 94.6h.8M88.4 99.0h.8M88.3 100.3h.8M110.2 88.9h.8M109.6 88.3h.8M97.0 96.1h.8M96.5 99.3h.8M104.2 98.5h.8M85.3 103.4h.8M94.5 89.0h.8M108.6 88.7h.8M106.5 89.4h.8M105.4 99.2h.8M85.6 101.6h.8M96.7 90.5h.8M89.3 97.7h.8M93.6 90.6h.8M104.2 87.7h.8M110.6 91.3h.8M86.3 101.9h.8M87.0 94.9h.8M91.2 94.1h.8M109.8 86.1h.8M113.9 93.2h.8M101.9 98.0h.8M97.2 91.9h.8M107.9 89.2h.8M108.6 89.7h.8M105.1 94.2h.8M96.0 92.1h.8M101.2 101.5h.8M108.5 89.2h.8M82.6 100.0h.8M87.8 97.6h.8M93.3 95.0h.8M106.2 96.2h.8M90.6 102.3h.8M98.8 96.2h.8M105.4 89.4h.8M101.2 88.7h.8M105.5 87.2h.8M106.0 91.7h.8M92.5 93.3h.8M83.7 87.4h.8M82.7 94.2h.8M87.5 98.3h.8M91.3 91.1h.8M84.3 99.2h.8M102.5 99.4h.8M103.7 100.4h.8M89.0 95.4h.8M110.7 96.3h.8M109.0 89.3h.8M98.1 89.9h.8M101.2 99.1h.8M87.1 100.1h.8M95.6 101.6h.8M94.0 93.5h.8M90.9 94.8h.8M108.3 95.2h.8M93.5 91.2h.8M107.2 99.5h.8M105.7 88.3h.8M100.8 100.4h.8M95.9 90.8h.8M103.5 99.7h.8M106.4 97.8h.8M92.3 92.2h.8M102.6 90.4h.8M114.9 90.1h.8M111.3 95.1h.8M107.4 95.6h.8M97.0 92.0h.8M90.7 105.3h.8M85.0 98.1h.8M81.8 95.0h.8M103.1 99.2h.8M92.7 91.5h.8M104.2 88.0h.8M90.9 98.9h.8M84.3 65.6h.8M83.2 86.8h.8M80.5 38.5h.8M57.9 94.2h.8M94.3 95.0h.8M58.0 96.2h.8M82.2 86.7h.8M115.1 91.7h.8M60.9 67.6h.8M87.2 107.0h.8M87.2 106.9h.8M65.2 69.9h.8M65.0 61.0h.8M86.3 86.7h.8M57.5 74.8h.8M86.9 104.4h.8M62.9 87.9h.8M57.2 96.6h.8M62.9 83.6h.8M85.3 72.1h.8M63.1 91.9h.8M66.5 59.7h.8M75.7 111.2h.8M96.0 101.5h.8M61.9 82.7h.8M57.9 94.3h.8M83.3 79.7h.8M66.7 66.2h.8M83.7 100.8h.8M83.2 99.5h.8M65.5 59.8h.8M83.3 96.6h.8M63.5 88.7h.8M98.5 90.7h.8M66.9 92.5h.8M82.3 88.3h.8M82.6 92.0h.8M55.0 96.0h.8M87.0 101.1h.8M92.3 91.7h.8M84.9 90.2h.8M64.4 74.3h.8M86.7 98.1h.8M60.4 91.0h.8M77.3 109.5h.8M106.5 86.5h.8M83.7 96.4h.8M60.4 69.7h.8M83.8 96.6h.8" stroke="#3b3fe8"/>
<path d="M53.4 104.5h.8M64.6 109.7h.8M57.9 108.8h.8M73.1 110.1h.8M60.3 101.8h.8M54.0 108.5h.8M73.4 109.1h.8M59.2 108.2h.8M76.3 102.7h.8M76.7 106.6h.8M80.3 97.7h.8M56.2 104.9h.8M73.4 110.7h.8M63.1 111.5h.8M56.1 111.1h.8M72.9 101.2h.8M79.7 104.2h.8M80.5 107.0h.8M69.7 111.2h.8M55.8 111.0h.8M64.9 100.0h.8M66.1 109.5h.8M72.0 110.3h.8M58.1 107.3h.8M56.1 105.7h.8M72.8 110.0h.8M66.6 112.3h.8M53.3 106.9h.8M59.6 106.1h.8M77.3 104.1h.8M73.4 109.4h.8M72.7 109.5h.8M79.8 100.3h.8M76.4 106.3h.8M55.2 101.1h.8M58.2 107.5h.8M90.6 99.2h.8M60.8 110.0h.8M71.7 112.4h.8M55.5 107.9h.8M60.0 102.5h.8M63.6 98.1h.8M76.9 107.2h.8M75.7 106.5h.8M65.1 111.3h.8M77.9 101.3h.8M69.0 112.5h.8M75.9 110.0h.8M65.3 105.4h.8M55.9 111.4h.8M57.8 106.8h.8M80.7 106.6h.8M63.9 108.6h.8M58.8 110.8h.8M82.2 107.8h.8M77.1 108.8h.8M75.2 108.5h.8M58.7 100.5h.8M75.9 90.7h.8M53.5 103.4h.8M53.3 98.6h.8M53.3 102.8h.8M54.2 104.1h.8M59.9 111.0h.8M57.6 97.9h.8M76.5 110.9h.8M72.4 110.6h.8M56.3 103.9h.8M60.5 98.8h.8M54.9 101.3h.8M61.3 111.5h.8M55.2 109.8h.8M56.6 96.1h.8M63.3 111.9h.8M66.8 111.1h.8M64.9 98.9h.8M55.2 109.6h.8M71.5 91.8h.8M89.7 97.1h.8M60.4 110.2h.8M77.4 111.5h.8M81.6 96.9h.8M73.7 102.2h.8M59.8 105.6h.8M56.6 111.5h.8M59.4 102.0h.8M62.3 96.9h.8M76.0 104.6h.8M60.5 100.3h.8M70.0 112.1h.8M61.0 105.3h.8M62.6 102.9h.8M54.7 109.2h.8M58.2 103.1h.8M76.4 101.9h.8M81.5 101.1h.8M71.8 110.1h.8M79.7 109.0h.8M62.0 100.6h.8M63.0 99.8h.8M55.9 101.9h.8M62.8 96.7h.8M55.4 99.7h.8M69.1 97.9h.8M67.9 97.7h.8M70.9 110.1h.8M55.4 101.4h.8M57.4 102.4h.8M82.5 99.3h.8M80.2 97.1h.8M71.3 97.7h.8M63.9 101.9h.8M53.4 110.4h.8M60.9 109.9h.8M58.0 107.0h.8M65.1 111.8h.8M80.8 105.3h.8M58.3 94.1h.8M64.7 95.7h.8M73.4 111.5h.8M62.6 104.3h.8M68.3 111.3h.8M55.6 108.9h.8M61.3 96.2h.8M54.7 108.3h.8M71.5 112.1h.8M62.2 98.0h.8M55.7 97.0h.8M67.7 111.7h.8M76.1 91.6h.8M74.8 110.7h.8M60.4 101.8h.8M78.3 101.9h.8M61.7 92.8h.8M73.2 96.7h.8M75.4 101.3h.8M55.6 97.6h.8M58.1 104.2h.8M73.8 110.2h.8M68.8 101.6h.8M54.6 111.0h.8M62.0 102.9h.8M55.0 104.5h.8M72.3 107.6h.8M56.1 111.3h.8M56.1 98.6h.8M76.7 98.0h.8M57.0 98.3h.8M60.6 111.5h.8M57.4 99.0h.8M55.9 101.0h.8M72.2 100.7h.8M73.7 98.3h.8M75.0 105.5h.8M74.4 106.0h.8M80.2 103.5h.8M55.0 99.9h.8M61.4 97.7h.8M80.0 105.6h.8M71.8 99.6h.8M73.5 112.2h.8M55.1 100.5h.8M54.4 102.9h.8M54.4 111.6h.8M55.9 110.2h.8M58.5 108.4h.8M60.9 110.5h.8M65.1 92.2h.8M64.4 112.1h.8M61.7 98.7h.8M62.3 92.5h.8M61.1 107.4h.8M70.2 109.1h.8M55.0 96.7h.8M62.4 112.1h.8M76.8 105.7h.8M80.1 95.9h.8M76.9 104.9h.8M62.1 111.9h.8M79.0 102.8h.8M69.7 99.1h.8M74.0 100.7h.8M78.0 111.3h.8M54.3 111.6h.8M59.0 99.2h.8M71.0 95.6h.8M54.9 97.8h.8M55.9 95.1h.8M60.4 107.1h.8M53.9 104.3h.8M61.3 110.1h.8M69.6 97.7h.8M53.4 97.4h.8M53.6 100.1h.8M57.8 109.7h.8M59.1 102.7h.8M54.4 104.3h.8M74.4 100.2h.8M56.9 111.8h.8M53.4 101.5h.8M66.5 97.0h.8M56.3 104.7h.8M54.4 101.0h.8M71.4 108.3h.8M56.2 96.6h.8M60.5 109.6h.8M77.8 104.2h.8M54.1 98.9h.8M58.4 108.2h.8M58.0 109.3h.8M82.2 100.6h.8M69.7 111.3h.8M55.2 100.3h.8M59.1 111.7h.8M55.1 112.0h.8M58.5 111.3h.8M61.2 111.4h.8M59.3 94.1h.8M78.2 110.8h.8M57.9 105.1h.8M79.5 101.9h.8M56.3 103.0h.8M64.0 111.4h.8M60.4 96.9h.8M80.9 109.8h.8M54.7 101.2h.8M79.7 104.0h.8M56.2 109.4h.8M65.8 98.2h.8M53.4 99.6h.8M72.5 111.7h.8M57.5 98.6h.8M78.6 105.3h.8M56.4 108.5h.8M59.7 102.1h.8M81.0 99.6h.8M62.7 100.9h.8M73.5 104.8h.8M70.4 101.9h.8M53.8 99.3h.8M75.2 98.6h.8M71.9 101.3h.8M80.7 100.6h.8M60.4 111.8h.8M77.2 100.4h.8M56.9 109.7h.8M75.4 107.2h.8M55.5 99.7h.8M75.8 105.0h.8M68.9 99.5h.8M73.3 111.4h.8M69.9 98.8h.8M78.5 107.2h.8M53.4 110.2h.8M78.2 101.2h.8M59.8 100.1h.8M78.8 104.3h.8M54.5 103.4h.8M54.0 99.0h.8M76.3 97.6h.8M58.6 110.8h.8M73.1 110.1h.8M65.3 100.5h.8M74.6 106.0h.8M58.4 110.9h.8M69.9 99.4h.8M76.4 98.5h.8M58.1 111.8h.8M81.2 101.2h.8M68.7 98.9h.8M71.1 108.7h.8M71.3 111.8h.8M75.2 109.4h.8M65.6 110.1h.8M81.0 98.8h.8M53.5 107.0h.8M71.0 110.3h.8M67.4 110.2h.8M72.2 107.3h.8M75.4 112.4h.8M80.0 103.7h.8M78.2 102.7h.8M54.7 98.1h.8M81.7 107.2h.8M57.8 99.4h.8M70.1 96.8h.8M56.5 108.9h.8M53.8 98.3h.8M80.6 102.8h.8M76.1 99.4h.8M74.8 110.5h.8M59.5 99.3h.8M57.7 108.7h.8M67.4 99.3h.8M76.4 111.8h.8M80.2 107.2h.8M53.9 106.3h.8M70.4 98.5h.8M79.6 104.4h.8M56.6 101.9h.8M81.1 103.4h.8M53.5 101.7h.8M53.6 103.8h.8M79.6 101.6h.8M75.4 111.9h.8M57.8 103.0h.8M78.0 108.6h.8M57.6 101.6h.8M58.3 108.7h.8M74.6 111.8h.8M58.3 109.0h.8M75.4 111.2h.8M80.3 101.7h.8M76.7 97.3h.8M75.1 96.9h.8M75.8 100.9h.8M56.3 111.1h.8M78.7 106.1h.8M81.6 98.0h.8M63.6 112.5h.8M54.9 111.5h.8M59.6 105.7h.8M57.9 99.0h.8M53.6 103.0h.8M74.7 103.7h.8M53.4 99.1h.8M74.1 100.8h.8M56.2 97.4h.8M53.4 109.4h.8M54.0 104.6h.8M62.6 109.1h.8M60.2 108.9h.8M58.0 101.2h.8M77.5 97.9h.8M76.8 109.0h.8M58.2 111.4h.8M56.8 110.1h.8M57.1 111.0h.8M54.4 98.8h.8M77.0 109.1h.8M73.4 106.2h.8M66.3 99.9h.8M79.6 98.7h.8M79.9 54.2h.8M65.8 65.9h.8M71.2 50.7h.8M82.6 83.5h.8M72.9 94.1h.8M70.1 83.4h.8M73.2 44.0h.8M78.9 62.3h.8M79.0 77.5h.8M69.2 56.3h.8M75.7 72.0h.8M76.7 49.5h.8M72.0 55.9h.8M82.4 68.0h.8M81.4 79.6h.8M77.6 43.1h.8M68.4 65.9h.8M73.5 93.4h.8M70.6 88.4h.8M75.5 82.9h.8M73.9 50.9h.8M76.5 84.9h.8M71.3 55.5h.8M71.3 87.1h.8M79.8 47.5h.8M63.0 84.0h.8M73.4 44.7h.8M77.2 94.1h.8M80.4 37.1h.8M79.5 81.2h.8M78.4 33.6h.8M68.3 87.1h.8M80.3 58.9h.8M75.1 86.3h.8M82.6 66.6h.8M73.7 48.1h.8M79.0 80.1h.8M81.3 56.1h.8M71.2 86.0h.8M67.1 86.5h.8M80.0 70.7h.8M72.1 75.9h.8M73.0 52.8h.8M78.8 40.2h.8M74.3 34.4h.8M76.5 87.9h.8M68.7 69.2h.8M75.2 41.2h.8M81.1 87.7h.8M68.1 79.5h.8M76.4 49.4h.8M71.4 93.8h.8M73.1 75.0h.8M81.7 78.7h.8M79.7 89.0h.8M71.3 63.0h.8M71.4 75.1h.8M72.9 70.9h.8M71.0 60.8h.8M79.6 86.2h.8M77.0 97.3h.8M73.5 36.0h.8M73.7 47.4h.8M83.7 86.4h.8M70.8 59.2h.8M76.0 83.1h.8M72.2 51.6h.8M70.9 54.2h.8M68.2 64.2h.8M77.7 55.9h.8M69.9 70.5h.8M72.8 69.5h.8M75.2 90.5h.8M76.2 42.1h.8M71.4 44.6h.8M80.2 33.1h.8M77.9 65.4h.8M80.1 53.7h.8M68.5 92.6h.8M84.3 78.5h.8M75.5 93.4h.8M79.3 45.6h.8M78.1 45.4h.8M70.1 78.6h.8M75.3 96.3h.8M71.9 56.4h.8M76.5 97.3h.8M80.2 49.9h.8M70.2 44.8h.8M69.3 69.7h.8M80.0 75.8h.8M77.2 44.5h.8M71.8 57.3h.8M76.9 74.5h.8M83.6 56.1h.8M80.2 83.2h.8M83.5 68.2h.8M78.7 33.3h.8M81.0 38.2h.8M81.7 72.5h.8M83.5 58.5h.8M75.3 42.2h.8M80.8 60.1h.8M84.1 92.3h.8M76.4 85.0h.8M72.3 73.8h.8M74.5 74.4h.8M77.4 44.5h.8M82.7 78.2h.8M81.7 58.9h.8M80.0 53.3h.8M71.4 51.4h.8M72.4 47.3h.8M81.0 84.0h.8M78.5 92.3h.8M70.6 50.8h.8M69.7 64.3h.8M79.7 89.9h.8M79.2 87.9h.8M76.3 97.7h.8M73.2 91.0h.8M73.2 82.2h.8M81.3 58.3h.8M67.4 95.5h.8M79.3 45.1h.8M83.4 62.9h.8M68.3 56.3h.8M71.5 68.1h.8M70.1 63.0h.8M76.6 43.7h.8M72.1 69.0h.8M75.5 86.2h.8M76.7 85.5h.8M69.7 51.9h.8M71.8 86.7h.8M79.2 40.4h.8M81.6 42.9h.8M82.9 44.1h.8M76.3 62.1h.8M74.5 89.3h.8M81.4 73.0h.8M81.7 38.0h.8M80.3 83.8h.8M81.1 39.3h.8M77.8 94.7h.8M68.0 54.4h.8M70.7 93.3h.8M73.6 46.2h.8M80.8 61.1h.8M74.3 91.6h.8M73.2 49.5h.8M78.0 90.7h.8M78.9 83.2h.8M68.3 55.2h.8M75.4 45.0h.8M70.5 86.6h.8M73.4 54.4h.8M82.4 84.2h.8M79.3 79.6h.8M69.9 52.5h.8M81.4 40.7h.8M77.9 37.0h.8M71.7 79.9h.8M78.7 39.0h.8M72.0 96.8h.8M75.8 44.3h.8M79.2 34.9h.8M78.1 95.7h.8M74.2 53.2h.8M80.9 53.1h.8M77.4 61.3h.8M74.0 90.6h.8M78.5 82.4h.8M80.9 95.0h.8M82.1 52.9h.8M74.7 35.5h.8M82.1 71.4h.8M77.6 39.2h.8M75.2 75.7h.8M78.1 82.3h.8M77.9 89.6h.8M67.0 80.8h.8M71.0 60.7h.8M78.4 97.8h.8M75.0 47.5h.8M80.7 63.3h.8M80.1 53.9h.8M69.5 90.8h.8M81.2 61.7h.8M72.7 64.9h.8M74.1 34.9h.8M78.1 91.6h.8M77.9 83.6h.8M81.4 48.2h.8M82.4 89.6h.8M75.5 51.8h.8M82.6 46.3h.8M74.6 37.9h.8M73.2 45.8h.8M77.8 38.6h.8M78.8 35.2h.8M72.9 46.1h.8M82.8 65.2h.8M74.8 43.9h.8M69.2 57.2h.8M72.4 52.2h.8M69.8 54.0h.8M69.5 87.6h.8M68.9 63.4h.8M77.6 62.6h.8M79.4 61.5h.8M82.2 71.1h.8M80.6 48.2h.8M71.3 59.0h.8M79.6 74.3h.8M70.4 53.9h.8M75.5 38.1h.8M85.1 80.0h.8M73.7 43.0h.8M80.5 39.9h.8M71.3 66.6h.8M70.8 93.4h.8M79.1 62.2h.8M73.2 91.7h.8M79.2 82.4h.8M77.7 65.5h.8M80.7 79.5h.8M74.3 91.6h.8M71.3 58.5h.8M80.7 55.4h.8M69.6 78.9h.8M72.6 86.9h.8M70.4 92.3h.8M78.9 68.0h.8M73.2 38.3h.8M73.0 66.5h.8M80.8 47.3h.8M81.2 70.3h.8M82.1 58.5h.8M78.8 46.5h.8M82.2 71.2h.8M75.8 38.3h.8M70.9 90.3h.8M74.8 76.8h.8M76.5 40.2h.8M69.5 84.7h.8M71.8 61.4h.8M79.5 69.8h.8M69.7 78.2h.8M80.0 48.7h.8M77.7 39.0h.8M80.2 40.0h.8M82.4 51.1h.8M68.0 81.9h.8M65.9 89.3h.8M69.3 75.9h.8M79.4 67.2h.8M66.5 80.0h.8M73.0 88.4h.8M78.2 56.3h.8M67.9 70.9h.8M71.3 75.7h.8M67.2 84.9h.8M82.8 52.6h.8M78.8 61.3h.8M78.7 35.3h.8M76.5 85.0h.8M77.9 42.7h.8M80.5 40.4h.8M72.3 49.3h.8M81.3 42.1h.8M79.2 90.6h.8M67.9 81.5h.8M74.0 90.7h.8M70.6 66.4h.8M75.8 34.6h.8M66.5 88.2h.8M68.7 73.4h.8M68.8 79.8h.8M78.9 80.1h.8M77.8 98.3h.8M78.7 42.8h.8M77.2 90.8h.8M72.1 95.8h.8M75.2 60.2h.8M80.3 47.5h.8M74.2 57.1h.8M76.5 43.5h.8M71.9 62.9h.8M70.5 64.6h.8M78.8 72.8h.8M83.5 79.2h.8M70.4 64.6h.8M81.1 63.0h.8M75.2 75.1h.8M75.2 43.1h.8M77.6 95.4h.8M75.6 91.7h.8M78.0 37.9h.8M80.9 81.4h.8M68.1 92.4h.8M68.8 86.2h.8M66.7 80.1h.8M77.8 35.5h.8M81.4 75.8h.8M68.8 74.5h.8M77.3 59.5h.8M79.8 55.5h.8M82.1 40.1h.8M74.7 93.2h.8M80.8 69.2h.8M80.7 61.6h.8M69.3 77.6h.8M75.9 40.2h.8M71.4 52.1h.8M79.1 79.0h.8M74.7 87.9h.8M77.6 39.4h.8M73.1 67.7h.8M74.1 63.8h.8M77.6 43.2h.8M75.7 39.5h.8M78.3 84.7h.8M68.4 76.5h.8M73.8 49.8h.8M81.4 69.8h.8M67.9 84.9h.8M66.4 98.9h.8M81.1 80.4h.8M70.6 83.8h.8M71.0 91.1h.8M72.8 56.4h.8M79.7 50.5h.8M78.1 40.9h.8M65.5 96.0h.8M72.1 86.2h.8M76.7 81.7h.8M69.3 80.1h.8M81.3 45.7h.8M80.3 77.2h.8M71.3 44.6h.8M77.4 78.9h.8M69.3 93.0h.8M82.9 54.6h.8M77.9 43.0h.8M74.1 42.7h.8M78.1 37.8h.8M80.6 35.5h.8M74.7 75.3h.8M72.4 57.2h.8M74.9 36.8h.8M77.3 38.2h.8M80.6 76.7h.8M83.6 70.4h.8M73.7 66.0h.8M70.6 80.9h.8M75.1 72.4h.8M73.2 60.2h.8M82.1 74.4h.8M71.3 96.0h.8M80.9 33.2h.8M80.6 48.0h.8M80.5 94.1h.8M77.6 44.6h.8M65.7 82.7h.8M75.2 59.3h.8M79.9 85.2h.8M74.4 43.9h.8M73.2 49.7h.8M81.8 44.2h.8M75.0 94.2h.8M81.9 52.6h.8M71.9 96.4h.8M69.4 81.3h.8M74.0 48.0h.8M76.6 88.8h.8M74.8 45.7h.8M84.4 64.0h.8M82.6 81.1h.8M74.9 42.1h.8M69.9 74.5h.8M78.7 88.6h.8M85.2 63.7h.8M82.3 42.3h.8M71.3 57.8h.8M79.2 48.0h.8M73.4 61.2h.8M75.5 45.4h.8M83.0 64.7h.8M79.4 31.8h.8M72.2 61.5h.8M78.6 37.4h.8M71.4 46.7h.8M79.8 40.1h.8M79.7 52.8h.8M69.7 97.8h.8M70.4 57.8h.8M82.1 67.1h.8M80.1 48.4h.8M75.8 40.7h.8M70.6 83.9h.8M79.5 62.8h.8M78.9 40.1h.8M75.2 96.2h.8M72.6 63.8h.8M71.8 94.5h.8M75.5 37.0h.8M67.9 69.8h.8M78.0 38.4h.8M78.3 62.8h.8M66.9 98.6h.8M71.1 54.0h.8M70.4 49.6h.8M81.3 47.9h.8M76.0 36.1h.8M70.5 63.4h.8M76.5 36.1h.8M74.6 92.9h.8M75.7 81.8h.8M73.6 61.5h.8M70.0 76.0h.8M79.6 52.7h.8M71.9 52.9h.8M68.5 68.3h.8M80.3 47.6h.8M79.1 67.9h.8M70.9 64.7h.8M69.9 56.7h.8M71.9 52.0h.8M80.9 38.8h.8M75.9 90.6h.8M68.6 81.5h.8M75.8 52.5h.8M77.3 80.8h.8M66.8 77.9h.8M72.4 51.2h.8M76.7 94.1h.8M70.0 77.4h.8M72.5 52.9h.8M73.1 87.6h.8M75.7 46.6h.8M81.0 52.8h.8M77.9 41.8h.8M67.9 49.2h.8M84.5 50.2h.8M78.0 59.0h.8M75.1 95.2h.8M76.1 35.8h.8M79.7 43.7h.8M73.5 86.1h.8M84.8 49.0h.8M70.4 98.1h.8M73.9 89.1h.8M70.6 51.8h.8M76.4 39.2h.8M76.1 68.2h.8M77.0 72.9h.8M66.4 84.5h.8M78.3 94.0h.8M75.5 93.8h.8M73.6 43.0h.8M70.6 77.0h.8M73.0 70.4h.8M72.7 62.7h.8M83.3 79.8h.8M69.1 70.9h.8M70.6 54.8h.8M66.4 85.7h.8M91.2 96.0h.8M56.7 100.3h.8M78.9 101.1h.8M84.5 73.6h.8M81.2 75.7h.8M85.4 102.2h.8M80.4 87.9h.8M80.1 74.6h.8M80.9 44.9h.8M79.5 81.8h.8M81.1 47.2h.8M79.2 53.8h.8M68.4 87.7h.8M83.0 46.0h.8M82.3 59.9h.8M68.9 86.8h.8M73.0 93.3h.8M82.6 62.1h.8M72.7 57.8h.8M66.5 94.8h.8M79.2 74.8h.8M76.6 98.1h.8M78.5 79.5h.8M67.7 91.7h.8M71.3 94.1h.8M69.0 94.0h.8M62.9 92.1h.8M77.8 84.7h.8M71.7 81.8h.8M64.9 93.4h.8M79.8 87.7h.8M67.1 89.0h.8M82.0 73.1h.8M68.9 86.8h.8M78.0 87.8h.8M78.0 94.9h.8M65.9 63.7h.8M88.8 99.6h.8M75.4 94.2h.8M80.2 88.6h.8M78.3 53.6h.8M65.4 89.6h.8M81.1 77.1h.8M83.3 79.2h.8M84.6 59.3h.8M67.0 76.6h.8M67.1 87.5h.8M81.8 60.1h.8M69.8 73.4h.8M80.7 94.9h.8M70.1 49.5h.8M82.0 65.4h.8M69.8 63.8h.8M71.5 78.1h.8M75.5 48.3h.8M80.7 73.9h.8M70.8 76.6h.8M71.5 55.0h.8M83.9 61.9h.8M81.1 59.5h.8M67.5 70.9h.8M71.2 46.4h.8M63.4 88.3h.8M69.3 51.2h.8M81.6 89.5h.8M68.8 56.9h.8M72.4 66.9h.8M68.0 78.0h.8M82.2 58.2h.8M79.1 96.5h.8M79.9 34.4h.8M80.1 84.7h.8M67.7 62.8h.8M83.9 82.9h.8M79.2 51.9h.8M83.8 82.9h.8M83.3 48.8h.8M65.9 80.9h.8M73.9 108.3h.8M79.3 62.6h.8M68.6 70.6h.8M71.7 93.5h.8M84.4 58.8h.8M64.2 88.4h.8M73.1 44.6h.8M70.7 86.3h.8M69.9 95.7h.8M69.0 89.4h.8M81.5 82.9h.8M89.3 101.4h.8M83.3 73.9h.8M79.5 74.7h.8M64.0 89.7h.8M75.5 103.7h.8M72.7 100.5h.8M65.4 97.5h.8M69.7 58.0h.8M73.1 98.3h.8M82.1 89.9h.8M82.6 88.5h.8M81.8 86.5h.8M72.9 95.5h.8M80.3 94.3h.8M75.4 84.4h.8M88.4 99.9h.8M67.1 94.8h.8M79.8 37.4h.8M76.2 41.7h.8M77.0 101.2h.8M70.9 64.1h.8M68.5 98.6h.8M81.3 70.2h.8M69.3 87.3h.8M79.8 75.6h.8M81.1 54.4h.8M73.6 92.4h.8M67.4 81.0h.8M67.7 70.5h.8M68.4 78.9h.8M65.9 78.4h.8M77.7 87.1h.8M66.7 94.2h.8M85.2 95.8h.8M74.4 94.5h.8M77.3 95.6h.8M67.4 82.3h.8M80.1 77.9h.8M65.8 93.9h.8M79.0 33.3h.8M78.7 44.3h.8M67.6 78.0h.8M71.4 62.6h.8M71.6 87.4h.8M70.4 71.8h.8M83.4 82.4h.8M77.4 43.8h.8M70.8 72.4h.8M76.9 96.9h.8M83.9 66.7h.8M82.6 72.6h.8M68.2 85.2h.8M81.4 91.3h.8M83.6 66.6h.8M81.1 79.7h.8M79.9 35.4h.8M80.6 75.3h.8M80.8 34.3h.8M71.1 91.3h.8M83.0 60.3h.8M76.4 61.4h.8M74.0 46.9h.8M72.2 75.1h.8M80.1 82.5h.8M81.9 73.6h.8M71.1 67.1h.8M67.6 80.8h.8M73.4 57.2h.8M78.7 86.9h.8M66.5 69.8h.8M72.6 97.2h.8M81.0 63.8h.8M81.7 89.9h.8M70.4 99.5h.8M83.3 91.2h.8M83.9 63.5h.8M75.8 38.0h.8M70.2 51.9h.8M76.3 83.6h.8M82.6 59.6h.8M75.7 53.2h.8M78.5 43.9h.8M65.3 89.0h.8M74.4 80.7h.8M70.7 71.6h.8M69.6 76.2h.8M77.0 74.8h.8M80.6 106.0h.8M64.3 89.9h.8M80.2 82.2h.8M78.7 46.4h.8M69.0 96.1h.8M67.3 73.9h.8M76.0 49.9h.8M67.3 73.0h.8M81.0 55.7h.8M70.6 68.0h.8M83.5 80.4h.8M71.0 62.9h.8M82.4 42.8h.8M69.6 58.3h.8M73.7 94.1h.8M70.7 85.2h.8M81.3 56.6h.8M80.1 84.3h.8M82.1 47.9h.8M76.5 50.4h.8M83.2 65.5h.8M80.5 92.6h.8M61.5 93.1h.8M78.6 94.3h.8M73.7 106.6h.8M75.1 37.4h.8M71.8 100.2h.8M84.5 51.5h.8M75.2 89.6h.8M69.8 90.3h.8M82.3 102.7h.8M81.8 59.6h.8M73.4 83.6h.8M81.4 35.9h.8M74.9 108.4h.8M64.8 88.0h.8M62.9 97.9h.8M60.5 94.9h.8M65.2 94.9h.8M83.0 89.5h.8M82.8 76.1h.8M62.0 98.7h.8M80.0 45.6h.8M79.1 42.9h.8M68.9 54.8h.8M82.7 97.6h.8M72.7 50.7h.8M73.1 52.8h.8M80.6 47.8h.8M83.0 50.8h.8M71.2 49.0h.8M77.7 31.8h.8M74.1 97.2h.8M83.3 56.2h.8M83.3 59.3h.8M71.0 71.4h.8M65.8 71.0h.8M71.0 53.5h.8M68.4 66.6h.8M81.3 66.1h.8M73.8 56.8h.8M84.9 87.6h.8M76.9 55.4h.8M81.3 76.6h.8M85.0 102.7h.8M66.4 67.6h.8M68.9 65.8h.8M67.4 73.2h.8M71.5 86.8h.8M70.1 95.0h.8M84.1 87.9h.8M62.2 90.5h.8M79.0 65.1h.8M80.4 50.0h.8M76.5 39.5h.8M68.0 96.7h.8M73.0 40.1h.8M82.2 102.3h.8M83.8 48.7h.8M83.8 94.2h.8M70.0 91.4h.8M80.0 51.4h.8M62.4 90.0h.8M69.2 71.0h.8M66.7 62.4h.8M68.4 87.5h.8M72.1 101.9h.8M73.5 61.2h.8M76.3 102.8h.8M53.4 102.9h.8M80.5 48.9h.8M71.2 92.0h.8M85.5 51.9h.8M84.3 96.3h.8M68.3 94.3h.8M78.6 50.0h.8M81.0 73.6h.8M75.4 42.1h.8M66.9 84.3h.8M79.3 64.6h.8M65.2 89.6h.8M71.6 54.9h.8M80.9 72.6h.8M71.8 95.5h.8M79.5 33.8h.8M63.5 92.7h.8M81.2 97.6h.8M71.2 48.7h.8M66.3 82.2h.8M83.8 93.4h.8M67.4 87.3h.8M76.8 88.8h.8M81.4 61.4h.8M66.7 88.3h.8M75.7 94.6h.8M66.7 72.4h.8M73.3 46.6h.8M69.9 65.5h.8M61.8 95.4h.8M65.2 80.7h.8M83.3 68.3h.8M82.1 70.7h.8M81.2 69.1h.8M73.1 59.8h.8M78.7 88.8h.8M76.8 97.3h.8M83.4 85.6h.8M70.4 86.0h.8M75.2 85.2h.8M83.6 51.3h.8M68.9 88.1h.8M74.9 35.1h.8M73.4 53.6h.8M76.0 98.0h.8M79.8 58.2h.8M78.5 89.2h.8M80.9 81.0h.8M81.5 82.7h.8M82.5 65.9h.8M80.6 52.5h.8M75.4 83.6h.8M77.1 70.2h.8M81.5 81.8h.8M80.3 80.9h.8M80.6 77.8h.8M65.3 79.2h.8M66.8 72.7h.8M79.9 107.2h.8M71.4 72.0h.8M82.2 48.5h.8M71.5 91.1h.8M73.6 82.6h.8M69.1 58.5h.8M70.9 75.7h.8M67.6 84.4h.8M77.8 77.1h.8M79.9 94.2h.8M82.7 46.2h.8M78.2 81.9h.8M67.7 82.9h.8M66.1 95.8h.8M71.6 61.2h.8M82.2 44.4h.8M75.0 93.9h.8M72.0 74.5h.8M73.6 41.1h.8M67.0 58.2h.8M81.3 86.0h.8M91.8 99.3h.8M84.7 71.7h.8M73.0 54.8h.8M81.8 83.8h.8M66.8 92.0h.8M78.1 89.2h.8M77.3 46.9h.8M73.0 88.7h.8M81.3 73.8h.8M67.1 70.7h.8M68.9 70.4h.8M76.7 96.5h.8M83.2 79.8h.8M67.7 94.4h.8M75.2 91.8h.8M76.1 99.5h.8M84.5 80.6h.8M74.9 92.8h.8M71.9 77.0h.8M71.3 62.5h.8M78.0 86.7h.8M80.3 77.0h.8M69.9 90.8h.8M78.6 34.6h.8M71.5 75.3h.8M78.3 100.6h.8M68.9 59.9h.8M75.9 87.6h.8M82.9 99.4h.8M82.9 73.3h.8M69.4 55.8h.8M83.7 84.9h.8M83.2 56.0h.8M80.1 58.4h.8M81.6 85.6h.8M53.6 97.1h.8M75.4 97.2h.8M74.2 97.6h.8M70.9 53.4h.8M79.6 87.9h.8M69.9 74.5h.8M69.4 76.7h.8M79.5 56.2h.8M74.4 81.1h.8M81.5 66.7h.8M62.3 97.6h.8M66.0 82.7h.8M79.3 109.7h.8M67.6 63.8h.8M65.3 55.6h.8M55.6 99.1h.8M76.6 101.6h.8M68.6 73.3h.8M64.0 101.7h.8M79.5 100.9h.8M66.8 79.2h.8M69.4 51.7h.8M92.1 97.2h.8M77.2 93.7h.8M71.0 58.2h.8M71.6 54.5h.8M58.5 102.5h.8M74.0 109.2h.8M77.0 90.9h.8M67.5 90.9h.8M67.4 72.0h.8M80.1 82.5h.8M80.6 108.7h.8M67.1 83.2h.8M69.6 51.8h.8M65.5 81.8h.8M77.5 98.2h.8M74.9 46.8h.8M57.4 102.4h.8M62.3 93.6h.8M61.7 64.6h.8M70.4 64.9h.8M68.4 109.8h.8M53.4 99.5h.8M81.1 53.7h.8M76.1 93.2h.8M56.4 95.4h.8M65.8 58.4h.8M70.5 88.8h.8M66.8 80.4h.8M70.1 83.2h.8M61.8 96.6h.8M70.8 95.0h.8M75.2 102.4h.8M71.7 60.3h.8M80.0 102.3h.8M65.9 78.0h.8M66.9 82.2h.8M80.4 64.6h.8M63.6 93.2h.8M68.5 85.4h.8M53.8 103.2h.8M79.9 103.3h.8M70.6 108.7h.8M63.8 94.6h.8M75.5 110.4h.8M88.3 91.9h.8M82.6 71.4h.8M68.8 74.5h.8M66.2 87.2h.8M70.6 80.5h.8M76.1 108.7h.8M77.7 72.6h.8M70.6 89.6h.8M70.7 86.4h.8M77.2 103.4h.8M69.2 99.4h.8M70.1 111.5h.8M68.6 90.7h.8M63.1 82.1h.8M81.6 81.0h.8M69.8 55.1h.8M70.4 77.5h.8M69.1 86.3h.8M81.6 104.3h.8M69.0 91.4h.8M73.3 110.4h.8M72.2 81.4h.8M63.8 98.2h.8M58.5 98.2h.8M71.5 55.3h.8M65.0 91.0h.8M66.6 86.8h.8M67.5 96.1h.8M81.0 107.4h.8M68.9 92.1h.8M68.5 78.8h.8M70.3 93.8h.8M79.2 100.8h.8M63.8 109.3h.8M83.5 92.5h.8M86.0 92.3h.8M65.2 97.9h.8M70.0 51.7h.8M77.9 100.5h.8M63.2 79.2h.8M71.1 92.7h.8M64.0 99.2h.8M76.0 91.1h.8M67.6 92.7h.8M70.7 83.4h.8M79.6 72.7h.8M64.3 79.8h.8M63.3 87.2h.8M71.2 55.2h.8M66.7 93.7h.8M81.0 97.2h.8M77.7 104.7h.8M67.6 96.4h.8M66.1 98.2h.8M62.2 92.9h.8M71.4 67.5h.8M79.6 81.5h.8M78.1 92.2h.8M66.6 92.1h.8M74.0 99.5h.8M66.0 88.0h.8M73.8 97.6h.8M68.8 82.0h.8M71.9 71.8h.8M82.0 90.6h.8M68.4 57.6h.8M80.6 84.9h.8M72.7 81.1h.8M77.8 78.6h.8M78.0 84.4h.8M69.3 81.2h.8M72.7 44.4h.8M76.7 92.6h.8M72.7 67.6h.8M63.3 91.5h.8M59.8 93.8h.8M62.3 91.6h.8M68.5 70.2h.8M80.6 107.0h.8M84.6 100.1h.8M71.1 60.5h.8M76.5 51.2h.8M72.8 100.5h.8M71.6 95.3h.8M65.1 92.0h.8M70.7 73.3h.8M73.4 110.9h.8M71.1 96.9h.8M69.4 78.4h.8M67.9 61.4h.8M66.0 98.3h.8M66.1 57.5h.8M68.8 46.0h.8M72.1 74.3h.8M72.3 96.7h.8M82.7 103.2h.8M81.4 98.6h.8M67.8 64.0h.8M70.7 95.0h.8M66.1 85.4h.8M66.0 89.2h.8M67.1 95.1h.8M65.5 80.3h.8M73.1 63.1h.8M78.2 54.5h.8M83.7 64.3h.8M69.2 63.5h.8M66.0 92.0h.8M69.9 68.2h.8M65.1 65.1h.8M80.3 110.3h.8M76.8 53.2h.8M75.4 90.4h.8M67.7 91.9h.8M77.2 98.5h.8M64.3 80.6h.8M64.1 81.1h.8M88.0 97.7h.8M104.3 92.2h.8M89.5 99.8h.8M95.5 96.6h.8M92.4 96.2h.8M84.3 103.0h.8M105.8 95.7h.8M97.8 97.6h.8M104.3 90.8h.8M106.0 90.5h.8M105.4 92.0h.8M95.7 99.4h.8M102.7 96.2h.8M94.8 97.2h.8M104.8 91.5h.8M98.6 99.3h.8M98.7 99.1h.8M95.4 96.2h.8M106.6 95.3h.8M102.3 98.3h.8M108.3 94.4h.8M105.9 89.1h.8M95.1 98.3h.8M88.2 97.2h.8M113.1 89.6h.8M95.4 95.4h.8M105.5 94.3h.8M107.5 91.8h.8M91.6 96.2h.8M100.3 93.8h.8M105.4 93.3h.8M99.8 98.8h.8M100.3 91.8h.8M107.0 93.1h.8M109.8 92.3h.8M99.9 92.8h.8M109.1 91.6h.8M107.0 93.2h.8M97.2 95.1h.8M92.3 97.3h.8M93.5 97.5h.8M96.9 99.0h.8M111.8 92.0h.8M110.9 92.2h.8M105.5 95.2h.8M101.6 96.9h.8M101.6 93.5h.8M109.4 89.7h.8M98.4 96.3h.8M96.3 94.4h.8M101.6 98.2h.8M102.0 87.4h.8M105.4 91.3h.8M93.0 95.6h.8M106.8 91.2h.8M99.4 93.4h.8M101.4 90.0h.8M103.9 95.5h.8M109.4 89.2h.8M93.9 97.3h.8M103.6 98.1h.8M108.2 92.3h.8M97.8 96.9h.8M106.7 88.6h.8M106.1 90.7h.8M108.6 91.3h.8M109.7 93.1h.8M95.6 91.8h.8M100.9 98.2h.8M95.0 93.0h.8M96.5 99.6h.8M102.9 90.0h.8M101.8 97.8h.8M110.1 93.3h.8M92.6 95.3h.8M103.2 95.8h.8M92.9 94.8h.8M90.8 97.8h.8M93.1 95.0h.8M106.5 88.4h.8M107.8 90.5h.8M94.8 95.1h.8M96.7 94.0h.8M98.6 98.8h.8M92.2 97.2h.8M104.0 96.3h.8M90.1 94.7h.8M110.5 90.5h.8M102.1 88.1h.8M91.0 96.4h.8M105.6 91.7h.8M99.9 96.0h.8M99.9 91.5h.8M92.2 98.5h.8M96.6 91.6h.8M96.7 98.8h.8M95.1 92.3h.8M108.1 95.3h.8M103.9 91.2h.8M93.8 98.9h.8M94.5 94.5h.8M94.6 94.5h.8M96.7 98.8h.8M101.2 91.8h.8M100.1 90.0h.8M93.7 95.7h.8M90.4 96.9h.8M99.5 98.8h.8M104.1 93.8h.8M94.4 93.9h.8M102.8 91.5h.8M93.1 94.9h.8M109.9 90.3h.8M88.7 96.4h.8M107.8 96.0h.8M103.1 90.5h.8M94.0 98.3h.8M94.7 101.1h.8M99.8 89.9h.8M93.0 100.7h.8M91.9 98.6h.8M95.9 97.8h.8M107.4 93.5h.8M96.9 93.6h.8M98.1 98.7h.8M100.0 92.0h.8M97.2 97.0h.8M91.9 93.5h.8M105.4 94.5h.8M90.2 95.9h.8M91.2 95.4h.8M90.2 93.4h.8M97.2 96.5h.8M95.4 92.3h.8M111.9 89.2h.8M89.3 96.4h.8M95.2 92.3h.8M103.5 98.2h.8M97.8 98.7h.8M95.1 96.0h.8M92.8 98.9h.8M101.2 99.2h.8M100.6 98.9h.8M83.9 92.9h.8M98.2 93.7h.8M106.9 89.4h.8M104.8 87.9h.8M89.5 98.3h.8M106.6 91.4h.8M94.9 99.8h.8M104.2 96.4h.8M91.1 98.8h.8M86.7 94.0h.8M97.3 94.1h.8M99.6 92.5h.8M111.4 93.1h.8M91.1 96.3h.8M97.3 92.8h.8M98.9 89.7h.8M105.7 92.5h.8M108.0 94.8h.8M100.3 91.1h.8M86.2 97.8h.8M91.6 98.2h.8M102.8 97.5h.8M104.1 97.1h.8M92.0 92.5h.8M107.5 93.4h.8M97.5 90.2h.8M101.4 99.5h.8M99.3 99.6h.8M98.2 100.4h.8M102.1 98.7h.8M108.3 93.8h.8M107.6 96.0h.8M100.2 91.3h.8M85.5 97.9h.8M80.9 97.8h.8M112.3 91.5h.8M94.3 97.9h.8M94.3 94.4h.8M90.4 99.7h.8M83.5 97.4h.8M102.5 96.7h.8M102.4 97.7h.8M105.4 94.4h.8M92.4 94.2h.8M109.6 90.5h.8M98.5 100.1h.8M89.9 98.1h.8M103.8 99.7h.8M100.1 97.8h.8M108.1 95.9h.8M88.5 94.0h.8M96.8 100.2h.8M102.5 88.0h.8M99.8 100.5h.8M105.0 93.3h.8M97.4 92.8h.8M89.5 98.0h.8M90.2 98.6h.8M98.1 90.6h.8M101.9 96.5h.8M99.3 88.7h.8M108.0 91.6h.8M103.2 90.9h.8M96.5 99.4h.8M100.1 90.5h.8M95.0 91.0h.8M104.0 88.2h.8M107.9 95.9h.8M95.2 92.6h.8M88.7 99.1h.8M103.5 89.3h.8M102.0 97.2h.8M111.2 92.8h.8M84.5 93.6h.8M94.9 94.3h.8M93.6 95.7h.8M101.1 90.6h.8M68.0 97.6h.8M67.8 63.4h.8M66.6 68.7h.8M54.4 99.5h.8M63.1 88.7h.8M75.4 95.6h.8M76.4 110.7h.8M64.5 92.1h.8M55.8 107.0h.8M75.3 111.9h.8M78.6 74.8h.8M75.3 109.4h.8M56.3 100.1h.8M89.2 98.2h.8M75.6 109.4h.8M71.6 53.9h.8M54.9 111.6h.8M80.2 44.7h.8M78.9 81.1h.8M69.5 111.4h.8M103.2 89.7h.8M55.2 99.5h.8M66.7 85.9h.8M67.5 79.0h.8M79.2 56.9h.8M65.6 81.6h.8M78.4 103.8h.8M61.8 97.6h.8M65.7 83.8h.8M81.8 94.4h.8M63.2 92.1h.8M53.8 99.5h.8M76.7 72.2h.8M55.7 105.1h.8M78.1 88.3h.8M64.3 78.2h.8M72.6 112.3h.8M68.7 94.3h.8M89.6 97.1h.8M78.5 36.5h.8M81.4 69.1h.8M77.4 90.3h.8M82.9 85.4h.8" stroke="#2a55ee"/>
<path d="M74.3 104.6h.8M62.5 100.1h.8M70.6 105.0h.8M71.6 102.2h.8M65.0 108.4h.8M55.7 103.6h.8M66.2 106.7h.8M72.1 109.0h.8M73.5 109.7h.8M57.3 109.8h.8M61.0 109.8h.8M68.7 103.2h.8M68.4 109.3h.8M71.3 104.3h.8M63.0 106.8h.8M70.1 109.3h.8M70.3 110.0h.8M74.6 104.7h.8M72.0 107.7h.8M57.4 104.0h.8M74.9 103.0h.8M53.9 111.8h.8M74.2 100.5h.8M83.5 105.8h.8M60.4 102.8h.8M67.3 101.9h.8M53.8 106.4h.8M69.9 110.6h.8M69.7 109.9h.8M67.7 103.1h.8M60.4 106.1h.8M67.4 104.7h.8M60.9 101.2h.8M64.9 109.3h.8M60.2 106.7h.8M55.4 105.8h.8M78.2 104.5h.8M70.3 110.7h.8M62.6 107.4h.8M77.5 108.3h.8M72.5 104.8h.8M55.7 107.6h.8M71.6 103.7h.8M68.1 110.0h.8M64.5 108.3h.8M70.8 110.3h.8M71.0 108.9h.8M74.6 104.3h.8M68.5 101.7h.8M57.9 108.8h.8M74.3 107.0h.8M58.1 103.7h.8M55.0 107.1h.8M70.3 105.2h.8M66.3 100.7h.8M67.0 110.2h.8M58.8 104.8h.8M68.3 110.2h.8M62.5 103.3h.8M77.1 109.1h.8M74.6 99.5h.8M79.1 107.3h.8M72.1 106.7h.8M55.5 108.4h.8M69.6 107.5h.8M58.1 109.7h.8M55.8 107.7h.8M72.7 107.6h.8M76.9 106.5h.8M54.0 106.2h.8M76.6 107.1h.8M68.5 101.6h.8M69.7 102.4h.8M64.1 112.0h.8M56.4 107.8h.8M55.9 107.8h.8M78.4 102.5h.8M61.3 110.4h.8M56.2 101.9h.8M55.7 100.2h.8M72.4 106.2h.8M54.3 108.6h.8M75.2 105.2h.8M63.5 109.2h.8M73.3 103.1h.8M54.9 107.1h.8M70.6 106.1h.8M55.5 111.0h.8M72.4 109.8h.8M55.5 106.2h.8M66.6 110.3h.8M62.9 98.5h.8M70.2 96.9h.8M64.1 97.6h.8M53.5 105.9h.8M61.6 109.4h.8M66.6 110.2h.8M71.3 98.2h.8M63.6 100.6h.8M55.0 104.3h.8M64.4 97.9h.8M56.6 104.4h.8M53.4 99.5h.8M53.5 101.2h.8M53.8 105.4h.8M53.4 101.7h.8M78.3 106.7h.8M55.1 104.0h.8M70.0 110.8h.8M69.3 106.2h.8M54.9 109.6h.8M64.2 104.0h.8M70.6 110.6h.8M75.7 101.7h.8M66.9 98.4h.8M71.2 105.4h.8M53.4 109.8h.8M79.4 99.8h.8M73.0 112.4h.8M56.3 110.1h.8M67.1 109.2h.8M70.9 111.9h.8M66.1 109.0h.8M77.1 105.6h.8M62.9 100.8h.8M73.0 107.0h.8M72.2 103.9h.8M64.0 103.5h.8M62.8 101.7h.8M69.4 105.3h.8M78.3 97.9h.8M55.6 108.9h.8M53.6 103.2h.8M79.4 101.0h.8M69.6 104.5h.8M76.9 105.2h.8M54.4 99.5h.8M71.5 106.9h.8M62.6 106.2h.8M56.2 102.3h.8M55.2 110.7h.8M59.4 105.0h.8M54.7 108.1h.8M68.0 111.7h.8M58.9 105.0h.8M72.4 111.1h.8M54.0 103.6h.8M54.0 100.0h.8M65.6 106.7h.8M67.2 97.2h.8M76.8 105.8h.8M77.1 105.6h.8M57.9 104.8h.8M63.7 100.5h.8M54.4 105.6h.8M57.9 110.1h.8M70.7 102.0h.8M62.0 110.0h.8M53.5 106.4h.8M57.3 96.2h.8M53.4 107.8h.8M64.0 106.9h.8M60.9 106.2h.8M54.5 111.2h.8M53.7 106.0h.8M74.1 103.3h.8M63.6 102.0h.8M57.4 103.9h.8M58.3 103.9h.8M55.5 110.1h.8M60.5 106.7h.8M62.0 98.6h.8M75.1 104.8h.8M75.6 107.3h.8M58.1 105.4h.8M59.3 104.6h.8M59.5 103.4h.8M78.4 99.4h.8M57.4 104.0h.8M56.7 106.8h.8M55.8 98.8h.8M75.8 106.6h.8M58.8 110.2h.8M67.8 109.2h.8M55.8 105.6h.8M53.5 106.4h.8M55.0 100.6h.8M59.8 102.3h.8M63.8 104.8h.8M76.3 111.5h.8M61.0 100.6h.8M60.9 108.2h.8M53.7 104.2h.8M60.5 108.7h.8M55.0 109.8h.8M70.3 103.0h.8M70.2 98.6h.8M71.7 99.7h.8M79.4 101.5h.8M79.8 94.0h.8M61.0 97.5h.8M70.5 101.9h.8M65.0 103.0h.8M71.1 102.2h.8M68.2 106.3h.8M55.2 101.8h.8M76.6 102.6h.8M69.0 98.2h.8M58.9 101.9h.8M53.6 106.7h.8M75.1 108.6h.8M57.8 102.2h.8M70.8 96.3h.8M68.1 111.0h.8M74.0 105.3h.8M59.9 99.2h.8M61.4 99.4h.8M75.4 101.3h.8M72.3 105.6h.8M59.8 109.3h.8M66.2 97.9h.8M71.9 101.4h.8M61.9 107.3h.8M54.7 108.8h.8M56.6 102.5h.8M59.3 101.4h.8M56.3 103.9h.8M69.2 107.5h.8M66.4 99.9h.8M61.4 108.3h.8M55.1 99.3h.8M62.4 101.7h.8M61.2 103.3h.8M77.4 99.6h.8M68.6 110.2h.8M55.0 108.4h.8M53.4 106.4h.8M54.5 103.9h.8M55.8 101.3h.8M62.5 102.3h.8M70.1 97.3h.8M55.3 102.0h.8M68.3 104.2h.8M66.9 96.1h.8M75.5 107.1h.8M72.2 105.9h.8M76.7 108.1h.8M73.7 104.6h.8M59.7 108.6h.8M63.4 112.4h.8M63.5 98.3h.8M73.9 109.3h.8M65.7 110.6h.8M56.2 111.2h.8M56.1 103.4h.8M56.8 102.3h.8M60.9 110.8h.8M65.9 106.0h.8M66.7 107.9h.8M56.8 108.4h.8M76.3 99.6h.8M69.7 101.5h.8M54.7 102.3h.8M53.6 110.4h.8M75.5 108.6h.8M63.5 106.7h.8M75.4 108.1h.8M69.4 101.3h.8M56.5 106.1h.8M56.8 104.4h.8M59.7 110.2h.8M66.9 101.5h.8M56.6 103.0h.8M63.7 101.8h.8M74.9 94.8h.8M62.4 109.7h.8M55.4 100.5h.8M62.9 102.9h.8M73.4 104.7h.8M54.1 108.5h.8M75.5 107.0h.8M58.0 100.5h.8M74.3 103.4h.8M81.0 103.3h.8M56.1 105.1h.8M72.6 93.4h.8M54.6 103.6h.8M69.4 103.8h.8M61.0 110.4h.8M78.4 104.7h.8M57.0 109.1h.8M62.5 109.1h.8M74.9 92.1h.8M54.0 108.7h.8M61.7 111.6h.8M64.0 106.8h.8M62.0 110.7h.8M59.7 112.0h.8M62.1 103.3h.8M80.1 100.8h.8M56.7 99.9h.8M60.9 100.1h.8M66.8 103.5h.8M68.0 111.8h.8M79.8 105.8h.8M79.8 104.7h.8M55.0 100.6h.8M55.1 106.6h.8M76.7 110.4h.8M68.6 111.1h.8M71.4 107.8h.8M63.9 111.7h.8M56.1 102.7h.8M77.4 99.2h.8M64.7 106.5h.8M75.1 106.6h.8M70.7 111.7h.8M73.8 111.6h.8M59.8 110.1h.8M76.0 104.3h.8M81.0 100.4h.8M67.0 111.3h.8M80.1 101.4h.8M56.5 103.6h.8M55.8 110.7h.8M59.8 110.7h.8M61.4 108.1h.8M56.0 105.8h.8M67.2 105.9h.8M55.9 105.9h.8M78.2 111.5h.8M78.7 103.8h.8M80.0 106.7h.8M58.2 110.5h.8M66.2 109.5h.8M72.2 110.8h.8M62.0 101.5h.8M67.3 107.4h.8M78.2 107.9h.8M59.9 107.4h.8M63.3 110.5h.8M78.1 105.4h.8M56.6 104.3h.8M80.8 103.4h.8M81.0 98.3h.8M58.2 111.8h.8M59.8 108.8h.8M75.4 98.9h.8M62.0 102.2h.8M55.0 102.1h.8M75.8 99.9h.8M63.2 111.1h.8M73.6 103.7h.8M64.5 109.8h.8M55.3 108.0h.8M75.3 99.2h.8M70.5 110.7h.8M56.2 109.1h.8M62.0 111.3h.8M55.8 102.3h.8M56.8 100.3h.8M71.0 109.1h.8M78.7 99.6h.8M53.7 106.4h.8M53.4 103.6h.8M58.2 101.6h.8M72.7 106.6h.8M67.3 102.4h.8M63.9 110.3h.8M57.6 110.7h.8M61.4 107.3h.8M58.6 102.8h.8M64.8 101.0h.8M81.0 108.1h.8M61.0 97.6h.8M78.7 106.3h.8M74.2 101.3h.8M65.3 105.8h.8M75.7 101.2h.8M54.9 100.1h.8M79.4 102.4h.8M64.1 102.9h.8M64.4 99.8h.8M62.2 105.1h.8M69.5 111.3h.8M77.5 111.1h.8M65.1 112.4h.8M78.7 103.4h.8M59.6 111.1h.8M66.1 98.5h.8M69.9 110.3h.8M80.7 98.3h.8M68.1 109.7h.8M68.5 98.2h.8M72.0 105.4h.8M61.5 109.3h.8M53.9 99.9h.8M60.6 103.8h.8M71.6 97.9h.8M70.5 110.0h.8M72.2 110.2h.8M63.3 105.6h.8M66.3 100.5h.8M54.0 106.0h.8M76.1 102.2h.8M69.9 104.8h.8M59.1 101.9h.8M73.5 104.2h.8M65.2 111.3h.8M76.8 108.0h.8M72.9 108.1h.8M68.7 111.2h.8M69.5 109.8h.8M62.4 107.9h.8M75.6 98.0h.8M67.1 101.2h.8M76.3 98.1h.8M57.1 104.0h.8M75.5 104.9h.8M61.6 111.8h.8M74.6 100.3h.8M73.6 98.0h.8M71.7 61.3h.8M76.3 95.7h.8M71.0 46.6h.8M72.7 67.7h.8M70.3 77.4h.8M74.1 61.5h.8M77.0 53.6h.8M80.3 60.5h.8M79.6 59.6h.8M80.4 65.2h.8M76.9 61.8h.8M76.1 77.7h.8M75.1 55.9h.8M77.1 62.1h.8M74.5 92.5h.8M78.8 70.7h.8M73.8 62.0h.8M71.1 85.1h.8M76.6 73.5h.8M78.3 38.5h.8M78.0 79.6h.8M71.3 71.5h.8M79.0 40.0h.8M71.8 58.2h.8M70.8 56.9h.8M72.2 55.5h.8M76.7 56.0h.8M76.2 63.6h.8M69.5 70.7h.8M79.5 62.9h.8M74.7 69.3h.8M76.0 44.2h.8M74.7 69.5h.8M63.6 90.1h.8M74.7 52.4h.8M74.9 43.9h.8M76.6 51.4h.8M74.3 55.1h.8M70.9 79.1h.8M72.6 89.2h.8M79.1 98.5h.8M75.8 62.4h.8M77.7 76.1h.8M76.5 88.2h.8M77.5 84.0h.8M74.4 40.9h.8M76.7 81.7h.8M81.5 42.5h.8M70.4 63.9h.8M78.7 84.6h.8M71.5 94.4h.8M72.6 51.8h.8M78.1 47.9h.8M70.3 69.4h.8M81.2 48.4h.8M77.8 58.0h.8M80.7 73.3h.8M79.8 55.8h.8M74.1 90.7h.8M80.1 68.7h.8M78.6 75.2h.8M75.8 83.8h.8M71.7 72.9h.8M77.5 77.8h.8M79.8 67.4h.8M70.2 70.3h.8M71.6 61.9h.8M79.3 47.6h.8M76.1 39.1h.8M70.3 66.4h.8M76.2 69.3h.8M76.5 34.1h.8M75.6 49.7h.8M75.0 70.2h.8M77.7 83.9h.8M69.6 74.7h.8M74.3 55.8h.8M77.2 74.9h.8M69.8 73.9h.8M80.3 61.0h.8M75.2 45.2h.8M80.4 57.5h.8M76.6 39.4h.8M73.7 73.1h.8M72.6 78.8h.8M82.0 48.9h.8M75.6 87.2h.8M76.6 79.7h.8M74.2 39.6h.8M71.9 67.2h.8M75.6 54.2h.8M79.8 65.0h.8M76.9 87.5h.8M71.5 68.6h.8M72.4 68.6h.8M80.5 50.4h.8M77.1 43.7h.8M75.3 49.9h.8M79.1 78.7h.8M75.2 64.9h.8M71.9 84.4h.8M76.9 81.5h.8M76.7 61.7h.8M73.4 59.6h.8M80.3 50.7h.8M77.0 73.6h.8M75.5 55.6h.8M74.7 40.1h.8M76.5 48.8h.8M74.7 65.3h.8M77.1 83.6h.8M75.9 47.2h.8M74.7 59.9h.8M75.1 46.8h.8M78.1 39.2h.8M80.0 66.9h.8M72.4 81.4h.8M74.1 79.6h.8M81.1 77.6h.8M75.4 66.3h.8M77.6 38.7h.8M71.9 76.7h.8M74.0 76.1h.8M70.5 88.6h.8M78.3 70.4h.8M69.9 88.2h.8M75.0 64.8h.8M76.5 76.9h.8M78.1 69.0h.8M66.9 84.2h.8M68.2 83.3h.8M79.3 67.2h.8M74.8 44.8h.8M78.5 54.2h.8M71.6 101.1h.8M81.0 77.0h.8M77.6 61.9h.8M77.1 87.2h.8M78.6 73.1h.8M78.1 64.7h.8M72.4 77.0h.8M78.6 62.5h.8M72.3 74.8h.8M74.0 92.6h.8M79.2 74.5h.8M75.4 50.1h.8M80.7 71.2h.8M72.7 97.1h.8M78.4 48.9h.8M72.3 98.0h.8M76.7 92.9h.8M75.3 74.8h.8M69.7 64.7h.8M77.1 79.0h.8M79.2 41.0h.8M76.9 71.4h.8M74.3 78.5h.8M80.8 42.4h.8M79.7 42.7h.8M79.1 70.1h.8M74.9 48.2h.8M77.8 40.1h.8M70.0 59.4h.8M78.4 67.4h.8M70.7 76.6h.8M70.4 81.8h.8M74.7 74.8h.8M75.9 48.8h.8M73.3 82.4h.8M75.8 73.0h.8M74.6 52.4h.8M78.2 50.1h.8M76.9 77.8h.8M68.1 76.9h.8M78.5 55.3h.8M76.0 76.5h.8M69.9 85.4h.8M78.6 54.7h.8M79.1 67.5h.8M72.2 54.3h.8M72.5 66.4h.8M77.2 37.8h.8M73.1 87.2h.8M80.3 65.9h.8M74.8 64.9h.8M77.7 50.2h.8M81.5 86.3h.8M75.2 81.3h.8M76.1 68.0h.8M71.5 78.3h.8M65.9 100.9h.8M76.6 60.1h.8M77.3 80.0h.8M71.5 81.4h.8M76.2 58.8h.8M72.7 63.4h.8M76.0 46.5h.8M73.0 74.7h.8M78.3 87.8h.8M77.3 65.1h.8M69.2 82.9h.8M74.9 86.4h.8M69.4 70.2h.8M78.5 59.0h.8M81.3 52.3h.8M74.8 67.6h.8M71.7 72.1h.8M74.4 67.6h.8M72.6 57.7h.8M70.1 80.4h.8M78.0 51.0h.8M71.2 64.2h.8M69.1 72.8h.8M76.9 41.4h.8M74.9 67.5h.8M75.9 51.2h.8M75.9 42.4h.8M73.8 75.9h.8M70.3 68.6h.8M66.2 79.6h.8M77.6 37.1h.8M71.6 68.4h.8M80.6 62.8h.8M75.0 63.1h.8M70.3 73.6h.8M80.4 57.1h.8M77.2 73.1h.8M73.6 73.2h.8M71.6 56.4h.8M73.4 46.0h.8M82.5 71.4h.8M77.0 71.3h.8M77.4 64.8h.8M75.6 42.1h.8M82.4 66.0h.8M73.0 55.3h.8M75.5 90.6h.8M77.8 83.6h.8M72.2 70.0h.8M77.0 40.7h.8M75.4 53.4h.8M73.0 53.7h.8M69.9 68.5h.8M78.5 61.6h.8M73.4 44.7h.8M78.8 49.0h.8M79.3 83.1h.8M73.5 63.6h.8M76.5 55.5h.8M79.5 55.9h.8M75.7 96.6h.8M77.5 63.7h.8M74.8 54.0h.8M81.7 47.6h.8M72.1 71.1h.8M80.5 62.2h.8M78.8 58.3h.8M79.5 62.3h.8M77.4 86.8h.8M74.2 52.5h.8M75.0 44.3h.8M70.8 65.3h.8M74.0 56.7h.8M80.8 82.5h.8M75.6 64.7h.8M77.0 78.3h.8M74.4 41.4h.8M83.3 51.0h.8M75.8 62.8h.8M72.5 70.7h.8M80.9 80.2h.8M81.2 59.6h.8M75.5 41.1h.8M70.7 76.6h.8M77.6 41.4h.8M75.4 59.6h.8M73.7 79.5h.8M78.3 58.0h.8M75.0 40.7h.8M75.1 76.1h.8M71.1 70.9h.8M76.1 49.3h.8M79.9 52.9h.8M82.8 59.2h.8M76.4 50.3h.8M82.2 71.5h.8M71.3 78.6h.8M71.4 58.7h.8M77.4 71.5h.8M76.0 64.0h.8M81.8 59.6h.8M73.0 72.8h.8M75.4 86.7h.8M71.5 70.7h.8M73.5 68.2h.8M74.6 55.0h.8M80.7 72.0h.8M70.4 56.7h.8M77.0 60.3h.8M76.3 69.3h.8M73.0 49.1h.8M71.2 91.3h.8M78.2 91.3h.8M72.1 49.6h.8M71.3 65.6h.8M82.5 60.9h.8M79.0 43.2h.8M72.2 89.1h.8M77.6 53.3h.8M79.8 53.6h.8M69.9 80.9h.8M79.7 73.7h.8M73.6 48.2h.8M73.3 73.7h.8M71.8 91.4h.8M80.7 72.8h.8M72.2 63.9h.8M75.6 36.6h.8M73.7 59.2h.8M77.8 83.5h.8M81.9 65.0h.8M76.5 88.0h.8M75.1 65.6h.8M81.6 67.7h.8M82.0 65.8h.8M79.4 73.8h.8M76.7 48.7h.8M74.2 87.1h.8M82.3 89.3h.8M81.1 82.5h.8M81.1 65.3h.8M74.2 41.5h.8M79.1 76.4h.8M73.3 86.4h.8M79.5 62.8h.8M75.9 69.7h.8M76.8 49.4h.8M78.0 41.6h.8M75.9 69.7h.8M80.7 64.9h.8M74.6 50.5h.8M69.3 96.0h.8M72.3 72.0h.8M70.6 69.1h.8M75.9 49.3h.8M75.9 72.1h.8M74.5 90.3h.8M75.3 54.2h.8M70.6 75.8h.8M79.7 84.7h.8M75.9 44.8h.8M72.9 58.6h.8M75.7 93.4h.8M70.4 67.6h.8M71.6 72.0h.8M76.8 84.5h.8M73.5 67.8h.8M78.4 67.1h.8M77.3 74.6h.8M74.1 79.8h.8M73.8 64.2h.8M77.1 52.9h.8M77.2 99.0h.8M69.4 65.1h.8M78.0 57.9h.8M75.8 66.0h.8M78.0 97.9h.8M75.6 57.8h.8M79.7 47.6h.8M73.1 85.6h.8M77.8 47.6h.8M75.5 90.0h.8M70.8 64.3h.8M70.1 94.4h.8M79.1 62.8h.8M72.1 53.6h.8M79.4 59.0h.8M77.6 65.0h.8M75.5 89.8h.8M72.3 91.7h.8M69.6 99.5h.8M81.4 55.3h.8M78.2 34.0h.8M76.1 40.5h.8M76.7 67.1h.8M76.9 82.8h.8M74.5 74.8h.8M74.9 71.0h.8M78.0 59.0h.8M80.7 53.8h.8M78.8 45.1h.8M74.9 88.2h.8M80.4 52.0h.8M78.3 99.9h.8M76.9 83.2h.8M79.0 61.0h.8M69.2 79.7h.8M80.0 79.7h.8M70.2 79.0h.8M71.9 83.8h.8M77.9 43.9h.8M74.7 89.9h.8M80.3 73.9h.8M76.9 43.2h.8M77.4 68.8h.8M78.4 59.5h.8M76.2 73.4h.8M76.5 64.6h.8M76.9 45.8h.8M78.0 50.5h.8M78.5 86.3h.8M72.4 71.1h.8M77.0 63.2h.8M76.7 50.1h.8M76.4 44.2h.8M79.4 50.6h.8M78.8 45.3h.8M72.9 78.8h.8M75.0 91.2h.8M79.0 40.0h.8M69.1 77.4h.8M78.2 93.1h.8M71.0 85.7h.8M75.9 41.0h.8M71.2 67.2h.8M78.2 83.2h.8M71.3 89.7h.8M76.0 38.7h.8M70.2 77.9h.8M72.4 91.5h.8M74.4 57.8h.8M75.5 67.6h.8M78.2 70.9h.8M79.7 53.1h.8M73.8 54.1h.8M71.2 90.3h.8M77.5 47.5h.8M71.7 84.5h.8M80.5 46.0h.8M78.4 60.4h.8M81.4 54.9h.8M79.4 47.6h.8M78.3 61.0h.8M77.0 88.6h.8M72.9 83.2h.8M75.7 57.7h.8M79.9 57.0h.8M78.9 57.8h.8M75.3 92.7h.8M76.3 83.5h.8M76.9 86.9h.8M76.5 55.8h.8M73.9 53.6h.8M74.9 60.5h.8M71.7 62.0h.8M75.4 74.7h.8M70.8 67.4h.8M76.4 72.9h.8M80.4 49.5h.8M80.0 56.5h.8M73.5 61.0h.8M79.5 64.7h.8M80.8 65.0h.8M75.8 56.6h.8M79.8 46.7h.8M76.9 55.3h.8M71.8 78.5h.8M79.5 72.6h.8M77.2 99.2h.8M80.2 52.0h.8M73.9 96.2h.8M74.5 82.1h.8M73.1 39.6h.8M71.1 67.3h.8M73.2 49.3h.8M71.9 45.6h.8M72.9 41.5h.8M79.6 79.4h.8M78.9 41.8h.8M78.2 61.8h.8M79.5 99.3h.8M78.9 46.9h.8M79.6 49.0h.8M76.8 47.7h.8M73.6 60.8h.8M74.5 88.2h.8M73.6 51.8h.8M75.3 95.4h.8M71.8 93.9h.8M71.6 54.8h.8M66.6 79.6h.8M73.0 41.3h.8M72.4 57.4h.8M78.8 52.6h.8M82.0 43.6h.8M75.3 97.5h.8M74.4 54.9h.8M77.1 73.4h.8M76.7 50.7h.8M76.3 40.8h.8M69.6 76.3h.8M77.4 38.3h.8M71.7 76.2h.8M74.4 70.0h.8M72.4 61.3h.8M80.5 43.0h.8M68.7 66.3h.8M76.3 53.2h.8M67.7 81.6h.8M71.0 79.5h.8M71.8 84.4h.8M79.3 46.8h.8M79.6 42.5h.8M76.1 99.5h.8M79.2 52.0h.8M78.1 45.4h.8M69.8 65.1h.8M81.3 50.6h.8M77.3 47.4h.8M77.3 85.4h.8M76.9 64.2h.8M78.9 63.3h.8M79.1 66.1h.8M77.2 48.5h.8M71.3 83.3h.8M80.1 71.1h.8M76.4 45.5h.8M68.9 74.8h.8M73.7 54.1h.8M77.6 76.3h.8M72.5 81.1h.8M70.1 88.8h.8M72.6 36.5h.8M70.0 69.5h.8M76.0 87.3h.8M79.5 90.6h.8M68.9 78.3h.8M80.6 64.1h.8M72.9 53.4h.8M73.4 81.3h.8M72.5 88.7h.8M72.8 68.0h.8M74.7 77.9h.8M76.7 49.5h.8M74.8 84.8h.8M75.6 91.3h.8M79.9 44.2h.8M72.8 85.2h.8M75.8 39.8h.8M76.5 90.8h.8M72.3 48.3h.8M75.7 80.7h.8M70.9 50.2h.8M79.4 34.0h.8M68.8 70.0h.8M79.5 64.7h.8M81.5 74.8h.8M78.0 39.9h.8M76.8 57.8h.8M69.2 73.7h.8M81.7 70.0h.8M74.1 64.2h.8M72.9 55.2h.8M77.6 75.3h.8M75.3 82.8h.8M79.1 77.2h.8M73.0 59.3h.8M78.0 66.5h.8M77.5 76.7h.8M79.0 43.9h.8M73.0 72.3h.8M77.4 42.4h.8M74.0 82.6h.8M71.8 66.3h.8M72.8 68.0h.8M78.1 45.5h.8M76.5 63.3h.8M73.7 60.6h.8M76.4 58.2h.8M79.6 53.0h.8M78.3 45.4h.8M72.9 91.2h.8M72.2 64.9h.8M77.3 88.9h.8M71.0 67.3h.8M75.2 46.2h.8M77.6 79.2h.8M78.9 67.8h.8M77.5 77.3h.8M78.6 56.1h.8M68.5 65.1h.8M79.9 68.8h.8M78.4 65.1h.8M76.6 55.9h.8M69.3 90.2h.8M75.3 38.3h.8M80.3 68.4h.8M77.3 61.4h.8M75.8 66.0h.8M74.1 58.4h.8M72.7 58.9h.8M79.8 65.6h.8M80.2 70.9h.8M77.6 65.3h.8M74.8 90.8h.8M75.6 41.8h.8M77.5 68.5h.8M78.2 55.1h.8M67.5 62.0h.8M77.1 63.2h.8M76.8 40.2h.8M83.5 61.7h.8M73.3 91.8h.8M76.8 85.4h.8M68.9 72.7h.8M80.4 97.3h.8M71.8 71.8h.8M71.8 91.2h.8M69.5 67.3h.8M74.0 58.8h.8M68.4 101.5h.8M66.9 103.5h.8M80.1 98.7h.8M71.9 75.1h.8M68.5 82.4h.8M73.5 86.1h.8M79.1 46.5h.8M74.4 49.2h.8M81.5 73.5h.8M79.5 79.5h.8M69.2 93.1h.8M66.7 91.2h.8M75.6 58.3h.8M78.6 59.6h.8M69.3 89.9h.8M73.3 52.7h.8M79.1 75.3h.8M70.4 83.0h.8M80.7 59.6h.8M74.5 77.3h.8M73.4 43.8h.8M82.0 57.2h.8M80.6 66.5h.8M77.3 101.3h.8M71.1 65.5h.8M75.6 43.5h.8M77.1 80.3h.8M73.6 86.8h.8M69.1 69.1h.8M80.3 97.2h.8M66.1 78.2h.8M78.6 82.1h.8M81.0 44.0h.8M71.1 68.7h.8M76.7 98.9h.8M68.3 77.8h.8M70.3 89.2h.8M78.2 102.3h.8M73.8 86.3h.8M71.8 87.0h.8M69.4 67.6h.8M72.1 76.2h.8M75.4 63.6h.8M81.0 52.7h.8M79.8 49.2h.8M71.5 88.7h.8M79.7 73.0h.8M70.9 101.6h.8M73.9 87.0h.8M63.9 100.6h.8M76.8 103.6h.8M78.5 77.9h.8M71.6 51.1h.8M80.0 77.3h.8M75.4 84.4h.8M77.7 43.6h.8M71.4 91.4h.8M76.2 56.6h.8M69.8 92.0h.8M71.4 90.3h.8M77.3 81.5h.8M73.8 42.5h.8M79.9 58.2h.8M77.3 61.9h.8M72.8 47.3h.8M73.4 86.1h.8M61.6 105.0h.8M84.9 61.1h.8M77.5 98.6h.8M75.5 62.2h.8M83.0 61.1h.8M73.0 58.0h.8M70.9 56.7h.8M78.2 64.2h.8M79.7 72.7h.8M76.2 76.1h.8M81.1 70.0h.8M66.2 85.9h.8M66.8 80.8h.8M80.0 75.7h.8M74.3 83.9h.8M72.8 72.9h.8M73.8 56.5h.8M70.3 78.8h.8M82.2 65.5h.8M72.4 72.4h.8M71.5 84.6h.8M79.3 59.2h.8M73.7 98.5h.8M81.8 64.8h.8M68.1 87.4h.8M81.2 59.9h.8M74.7 97.7h.8M71.2 84.9h.8M80.1 67.1h.8M69.9 82.2h.8M74.7 60.4h.8M67.9 65.5h.8M81.2 79.6h.8M76.2 86.0h.8M73.4 73.8h.8M71.7 77.5h.8M80.8 44.4h.8M78.4 45.3h.8M71.8 68.0h.8M71.4 89.5h.8M72.4 105.5h.8M78.8 54.7h.8M80.6 68.3h.8M81.3 80.4h.8M70.2 82.3h.8M72.5 60.4h.8M79.9 83.8h.8M69.8 87.1h.8M71.4 93.4h.8M70.6 103.4h.8M83.7 66.5h.8M69.6 84.2h.8M77.2 42.5h.8M73.3 103.3h.8M69.7 56.6h.8M76.0 41.2h.8M71.4 95.0h.8M81.0 98.8h.8M68.2 96.6h.8M69.6 100.8h.8M76.4 60.7h.8M75.5 91.2h.8M70.9 60.8h.8M74.8 89.1h.8M67.4 80.3h.8M77.9 84.7h.8M82.6 70.0h.8M84.9 65.4h.8M77.2 41.9h.8M69.5 52.6h.8M75.3 38.0h.8M77.1 53.0h.8M75.9 101.0h.8M67.7 106.0h.8M80.9 61.7h.8M78.8 46.6h.8M68.1 80.3h.8M83.5 80.2h.8M74.3 52.6h.8M72.4 91.5h.8M79.4 86.8h.8M78.9 82.9h.8M76.6 100.5h.8M74.7 87.5h.8M81.7 97.1h.8M65.3 91.5h.8M80.2 77.0h.8M77.2 81.1h.8M71.8 86.2h.8M72.1 83.6h.8M69.9 83.2h.8M74.0 48.8h.8M79.9 80.8h.8M70.8 93.2h.8M69.1 90.1h.8M77.3 90.5h.8M69.1 57.7h.8M69.4 91.6h.8M79.9 104.7h.8M78.2 56.2h.8M68.9 91.0h.8M73.9 63.8h.8M78.2 92.8h.8M74.5 106.7h.8M81.9 65.6h.8M80.0 55.0h.8M78.1 79.2h.8M72.1 71.2h.8M70.9 68.7h.8M79.1 83.5h.8M78.2 45.3h.8M73.0 81.0h.8M71.6 88.5h.8M71.1 62.2h.8M80.3 64.7h.8M74.1 93.7h.8M73.0 98.4h.8M76.2 57.5h.8M73.4 83.2h.8M81.1 66.4h.8M77.6 47.6h.8M75.8 89.4h.8M79.1 65.2h.8M77.3 51.4h.8M79.4 93.6h.8M75.8 48.1h.8M80.5 75.0h.8M75.0 39.6h.8M75.3 91.5h.8M78.6 61.8h.8M73.0 98.5h.8M72.9 58.4h.8M72.3 97.5h.8M74.9 97.0h.8M71.9 90.2h.8M76.7 103.0h.8M73.5 83.1h.8M73.3 80.6h.8M70.7 75.5h.8M74.6 83.9h.8M74.8 48.6h.8M78.7 67.2h.8M75.9 80.2h.8M69.9 105.8h.8M61.5 98.9h.8M82.7 74.5h.8M77.8 74.5h.8M82.7 79.2h.8M69.3 62.2h.8M82.8 93.6h.8M69.0 77.3h.8M81.3 68.6h.8M80.0 81.0h.8M71.6 82.2h.8M78.3 78.5h.8M70.2 93.4h.8M77.9 76.5h.8M80.2 79.9h.8M84.2 59.2h.8M82.1 64.9h.8M76.1 62.7h.8M66.4 99.7h.8M73.2 81.4h.8M67.5 84.7h.8M76.7 88.6h.8M72.6 61.4h.8M71.6 74.6h.8M71.6 68.3h.8M73.2 46.4h.8M80.9 78.1h.8M78.8 104.1h.8M69.5 74.5h.8M78.7 84.8h.8M76.4 87.8h.8M78.3 45.0h.8M78.5 98.3h.8M71.9 52.3h.8M69.9 90.7h.8M78.0 69.8h.8M69.5 83.6h.8M64.6 99.9h.8M82.8 65.6h.8M72.9 54.8h.8M76.7 100.6h.8M80.3 72.4h.8M61.7 100.3h.8M76.8 74.9h.8M71.4 61.8h.8M77.8 70.9h.8M71.6 93.2h.8M79.5 84.0h.8M79.4 76.1h.8M74.1 60.0h.8M60.4 96.6h.8M76.5 43.8h.8M77.0 87.9h.8M67.6 57.2h.8M67.6 95.4h.8M70.4 88.9h.8M67.9 74.5h.8M76.3 49.3h.8M69.5 72.7h.8M67.8 97.1h.8M78.5 67.4h.8M73.4 81.9h.8M73.1 84.0h.8M71.7 54.6h.8M75.7 84.6h.8M74.2 46.3h.8M79.5 81.7h.8M81.5 69.0h.8M76.5 50.4h.8M68.6 70.9h.8M71.6 84.5h.8M76.3 62.3h.8M70.4 88.1h.8M69.3 99.7h.8M79.0 87.6h.8M76.4 74.1h.8M75.1 82.0h.8M75.1 87.5h.8M74.1 84.5h.8M75.4 42.2h.8M72.1 66.9h.8M80.6 61.9h.8M72.7 50.4h.8M64.9 104.1h.8M80.1 64.9h.8M71.2 89.2h.8M77.4 47.6h.8M75.5 89.8h.8M69.7 60.3h.8M82.0 71.1h.8M70.4 80.3h.8M72.6 84.6h.8M66.9 99.7h.8M81.0 78.7h.8M74.9 36.4h.8M72.9 84.1h.8M80.4 44.8h.8M74.3 47.5h.8M74.3 102.8h.8M73.1 90.3h.8M76.0 57.7h.8M73.1 97.9h.8M68.9 97.0h.8M73.9 51.3h.8M67.1 95.3h.8M82.5 72.9h.8M76.8 65.4h.8M74.4 101.9h.8M81.5 40.8h.8M80.6 70.6h.8M75.7 91.0h.8M69.4 75.0h.8M69.1 76.4h.8M70.8 50.2h.8M81.3 59.0h.8M68.8 81.6h.8M67.9 96.1h.8M79.8 37.8h.8M70.4 68.3h.8M80.4 99.4h.8M76.8 46.5h.8M81.6 53.3h.8M73.7 45.3h.8M71.5 82.6h.8M68.0 97.5h.8M57.4 102.3h.8M79.3 53.8h.8M68.6 58.5h.8M75.3 45.5h.8M77.9 47.4h.8M71.1 60.4h.8M73.2 77.9h.8M72.4 92.8h.8M73.4 70.2h.8M71.9 65.6h.8M79.2 73.2h.8M77.1 81.3h.8M82.1 86.3h.8M70.5 80.4h.8M75.7 60.5h.8M70.9 68.9h.8M70.5 94.4h.8M75.5 75.3h.8M79.0 41.2h.8M73.8 64.7h.8M68.9 79.2h.8M71.6 97.1h.8M67.5 78.0h.8M67.6 98.8h.8M69.0 93.1h.8M75.6 95.6h.8M77.2 91.4h.8M69.2 82.2h.8M71.4 73.3h.8M79.1 96.9h.8M69.8 57.0h.8M73.9 49.0h.8M81.3 57.6h.8M78.1 102.7h.8M79.6 51.7h.8M66.1 77.8h.8M70.8 85.6h.8M75.8 90.4h.8M78.3 83.4h.8M80.1 78.6h.8M79.2 102.2h.8M74.6 64.9h.8M69.6 106.8h.8M71.7 51.2h.8M58.8 100.7h.8M69.6 61.5h.8M75.7 42.5h.8M78.7 80.4h.8M74.0 68.4h.8M66.4 107.0h.8M77.9 58.8h.8M67.2 81.3h.8M71.1 74.3h.8M73.8 89.9h.8M62.4 106.8h.8M74.1 44.5h.8M81.3 62.2h.8M80.9 68.7h.8M73.0 105.6h.8M78.7 92.0h.8M79.3 68.6h.8M76.4 67.5h.8M73.7 49.8h.8M65.2 101.4h.8M69.6 77.0h.8M82.6 73.8h.8M76.0 59.0h.8M81.1 53.7h.8M68.2 84.2h.8M74.7 108.5h.8M70.3 74.9h.8M68.8 98.0h.8M79.4 77.0h.8M80.8 55.0h.8M67.3 92.9h.8M75.3 56.3h.8M73.8 73.1h.8M74.6 90.3h.8M71.7 93.4h.8M83.5 73.5h.8M81.1 71.7h.8M74.4 99.1h.8M69.9 111.8h.8M68.0 78.2h.8M55.1 110.0h.8M66.6 98.7h.8M72.1 84.3h.8M63.9 109.6h.8M72.7 100.1h.8M72.6 87.9h.8M74.3 79.3h.8M76.2 106.6h.8M78.8 101.9h.8M72.6 49.1h.8M73.1 97.3h.8M64.9 111.7h.8M72.9 94.2h.8M76.1 95.4h.8M69.6 68.0h.8M65.2 99.9h.8M69.4 61.3h.8M71.2 101.0h.8M59.3 109.8h.8M70.9 68.3h.8M71.5 101.3h.8M67.7 67.2h.8M67.4 79.8h.8M64.3 99.0h.8M69.1 59.8h.8M75.6 95.7h.8M68.6 103.5h.8M71.8 82.0h.8M61.1 108.5h.8M77.1 95.0h.8M79.2 84.5h.8M71.8 89.8h.8M75.8 101.0h.8M70.3 86.5h.8M80.4 93.4h.8M69.5 94.6h.8M55.9 101.4h.8M75.4 67.6h.8M70.1 75.4h.8M65.3 82.1h.8M68.6 67.8h.8M69.5 98.9h.8M74.3 91.5h.8M70.6 84.0h.8M67.0 72.6h.8M71.2 100.9h.8M78.8 85.9h.8M79.0 47.9h.8M57.9 105.9h.8M71.2 95.5h.8M78.3 100.0h.8M78.3 76.1h.8M73.0 91.4h.8M75.2 85.4h.8M79.5 70.3h.8M64.5 100.8h.8M58.6 101.7h.8M70.6 110.4h.8M71.9 83.4h.8M72.5 59.6h.8M68.6 87.3h.8M68.9 72.4h.8M79.4 74.3h.8M76.0 100.5h.8M72.5 89.1h.8M67.9 99.7h.8M66.7 82.3h.8M72.8 77.2h.8M71.2 95.9h.8M64.2 110.1h.8M66.2 103.9h.8M53.9 105.5h.8M62.5 110.6h.8M70.7 99.4h.8M72.5 59.7h.8M78.4 107.0h.8M70.5 102.0h.8M68.0 78.2h.8M69.5 79.1h.8M76.9 109.3h.8M67.2 79.8h.8M69.6 67.8h.8M75.4 110.6h.8M68.8 63.1h.8M77.1 104.1h.8M79.4 72.2h.8M74.4 77.2h.8M71.3 67.4h.8M57.5 100.8h.8M73.7 103.9h.8M78.8 45.8h.8M68.8 57.9h.8M64.9 98.6h.8M78.1 98.7h.8M78.6 85.8h.8M76.7 89.8h.8M72.4 104.7h.8M59.4 98.0h.8M79.7 66.6h.8M58.7 98.0h.8M62.3 96.3h.8M75.1 108.4h.8M76.8 96.0h.8M75.9 55.2h.8M71.7 55.9h.8M73.6 86.3h.8M78.2 73.3h.8M80.4 89.4h.8M70.7 61.4h.8M69.9 94.3h.8M71.5 64.0h.8M73.2 91.9h.8M79.4 66.0h.8M73.1 85.7h.8M54.7 105.3h.8M74.4 106.8h.8M79.3 69.1h.8M67.2 97.4h.8M75.4 78.4h.8M80.0 71.6h.8M66.8 86.4h.8M70.0 95.5h.8M73.8 110.8h.8M58.1 110.7h.8M73.5 103.7h.8M56.3 109.6h.8M60.0 109.0h.8M67.1 97.0h.8M68.7 73.2h.8M59.1 101.2h.8M77.8 52.2h.8M69.6 65.8h.8M66.7 99.6h.8M72.3 68.5h.8M68.5 97.2h.8M83.0 97.6h.8M54.4 109.7h.8M67.2 80.9h.8M71.7 87.5h.8M66.3 107.3h.8M77.8 98.7h.8M72.2 83.8h.8M69.8 69.7h.8M74.9 90.8h.8M72.5 94.3h.8M70.3 79.7h.8M74.1 45.8h.8M75.1 100.6h.8M73.6 102.7h.8M78.6 85.5h.8M73.8 97.6h.8M74.4 102.2h.8M65.4 94.6h.8M62.8 97.4h.8M74.5 90.6h.8M76.6 51.5h.8M75.7 109.3h.8M71.6 81.3h.8M73.8 96.2h.8M70.3 94.4h.8M67.1 84.7h.8M69.6 67.5h.8M69.7 79.9h.8M80.8 105.6h.8M71.9 86.1h.8M69.5 107.5h.8M98.4 98.7h.8M103.6 92.3h.8M106.1 90.8h.8M106.4 92.1h.8M103.0 96.4h.8M94.7 98.0h.8M103.1 89.3h.8M104.2 90.8h.8M96.3 95.5h.8M96.0 98.8h.8M102.4 97.9h.8M102.8 91.7h.8M103.1 92.4h.8M97.4 95.2h.8M101.9 92.2h.8M98.9 93.8h.8M96.8 94.8h.8M99.1 90.8h.8M96.8 93.5h.8M102.8 90.5h.8M103.7 97.2h.8M97.4 98.7h.8M95.2 98.9h.8M101.3 92.2h.8M90.9 98.3h.8M102.8 89.7h.8M103.5 94.1h.8M98.4 94.0h.8M100.3 97.4h.8M95.2 97.3h.8M97.2 96.4h.8M91.4 96.7h.8M98.0 92.9h.8M99.1 92.6h.8M104.1 96.8h.8M102.2 92.9h.8M103.9 91.5h.8M97.0 98.4h.8M101.9 93.6h.8M101.7 92.4h.8M107.3 94.6h.8M95.8 95.0h.8M102.7 95.4h.8M104.8 91.6h.8M103.3 91.4h.8M99.7 90.7h.8M104.6 96.4h.8M99.0 96.9h.8M100.9 95.1h.8M93.1 96.2h.8M95.5 90.5h.8M104.4 91.1h.8M93.9 93.2h.8M96.3 94.3h.8M101.0 94.1h.8M98.0 93.7h.8M103.0 97.6h.8M100.6 91.8h.8M91.7 96.4h.8M99.0 95.9h.8M106.1 93.1h.8M101.3 95.4h.8M102.5 96.6h.8M100.8 92.5h.8M101.0 91.0h.8M96.5 95.4h.8M99.5 96.1h.8M101.6 95.5h.8M107.1 90.9h.8M100.7 89.8h.8M100.9 95.5h.8M98.3 96.6h.8M99.0 92.1h.8M99.0 97.0h.8M108.3 94.4h.8M103.1 95.0h.8M100.7 95.9h.8M103.6 94.1h.8M97.8 99.9h.8M98.7 93.9h.8M102.0 90.5h.8M99.4 92.0h.8M105.3 92.4h.8M96.6 95.8h.8M98.0 92.0h.8M95.5 99.6h.8M94.5 100.0h.8M97.5 93.9h.8M100.3 96.7h.8M93.9 98.3h.8M107.0 94.9h.8M96.6 95.5h.8M98.8 96.5h.8M92.6 96.3h.8M89.7 97.2h.8M98.2 94.9h.8M103.1 92.3h.8M95.6 94.1h.8M102.6 92.8h.8M99.8 97.4h.8M98.7 91.8h.8M95.2 93.8h.8M104.4 91.8h.8M99.1 96.0h.8M94.1 98.9h.8M101.2 97.2h.8M98.3 93.2h.8M108.5 93.2h.8M103.0 95.4h.8M93.1 98.5h.8M98.2 94.8h.8M97.8 97.0h.8M100.2 92.5h.8M100.8 98.0h.8M100.9 94.8h.8M103.9 94.3h.8M104.2 96.3h.8M105.8 90.0h.8M96.4 91.6h.8M104.2 90.2h.8M104.3 91.5h.8M98.6 92.3h.8M96.9 94.0h.8M96.6 94.1h.8M98.9 98.2h.8M89.8 98.7h.8M100.6 94.8h.8M105.9 88.7h.8M103.5 94.4h.8M101.4 95.8h.8M104.3 94.7h.8M101.6 93.7h.8M104.2 91.8h.8M96.7 95.6h.8M101.6 93.0h.8M106.3 91.5h.8M96.8 92.4h.8M95.9 95.4h.8M100.3 97.2h.8M97.8 94.4h.8M96.7 90.6h.8M87.8 99.3h.8M105.2 93.9h.8M103.1 94.4h.8M103.5 91.5h.8M104.4 93.7h.8M100.0 90.8h.8M91.5 96.7h.8M104.8 90.5h.8M99.8 94.3h.8M104.2 91.5h.8M93.7 97.2h.8M97.7 90.9h.8M95.5 99.7h.8M103.6 90.2h.8M103.1 94.4h.8M99.1 97.8h.8M100.5 99.5h.8M96.9 92.7h.8M104.2 92.0h.8M80.3 100.0h.8M102.6 90.0h.8M92.2 98.1h.8M97.8 97.8h.8M102.5 95.5h.8M101.8 92.4h.8M98.8 100.6h.8M104.9 95.7h.8M95.5 98.5h.8M101.1 90.4h.8M104.3 97.7h.8M96.5 92.2h.8M105.0 97.4h.8M97.9 96.0h.8M99.2 99.3h.8M101.1 98.0h.8M101.4 94.4h.8M102.3 97.5h.8M107.1 90.0h.8M100.7 91.1h.8M100.6 90.3h.8M94.5 91.2h.8M103.0 96.6h.8M98.1 96.9h.8M100.7 97.5h.8M106.7 91.1h.8M100.5 97.1h.8M97.2 92.9h.8M104.6 97.4h.8M103.8 95.2h.8M102.1 97.8h.8M73.1 100.2h.8M90.7 97.5h.8M104.2 91.6h.8M101.9 96.6h.8M105.8 92.5h.8M98.5 92.3h.8M103.9 92.0h.8M103.0 94.8h.8M91.9 97.5h.8M102.1 92.4h.8M87.9 99.3h.8M95.2 92.1h.8M58.4 110.2h.8M68.0 112.5h.8M82.1 54.2h.8M59.9 106.4h.8M76.0 69.4h.8M64.1 93.3h.8M104.2 92.1h.8M75.8 68.4h.8M75.7 105.1h.8M80.2 95.0h.8M66.2 86.7h.8M62.9 100.6h.8M56.1 108.5h.8M62.0 103.0h.8M55.5 106.1h.8M79.3 98.4h.8M82.5 67.9h.8M76.9 86.1h.8M62.1 106.5h.8M79.4 105.5h.8M74.1 101.8h.8M80.5 98.2h.8M75.8 99.0h.8M73.2 98.3h.8M79.0 56.1h.8M63.8 105.0h.8M66.3 102.5h.8M75.7 100.8h.8M93.9 95.5h.8M70.0 107.8h.8M103.6 90.4h.8M79.4 65.1h.8" stroke="#2a86e2"/>
<path d="M64.0 106.0h.8M62.4 103.5h.8M76.7 106.8h.8M65.1 109.8h.8M69.1 104.9h.8M60.1 107.2h.8M54.6 107.8h.8M60.5 107.3h.8M62.8 104.1h.8M55.9 109.0h.8M60.9 106.1h.8M64.0 108.7h.8M69.7 102.3h.8M64.6 103.9h.8M60.5 106.0h.8M67.7 107.9h.8M61.5 108.9h.8M54.2 104.4h.8M70.3 107.5h.8M72.5 103.2h.8M56.9 104.0h.8M70.2 107.5h.8M70.1 107.0h.8M64.3 102.2h.8M65.3 109.4h.8M62.5 105.7h.8M64.8 107.3h.8M78.2 103.8h.8M74.5 101.0h.8M63.9 102.7h.8M57.1 103.9h.8M79.8 106.3h.8M64.6 102.8h.8M61.0 110.4h.8M68.6 107.8h.8M64.5 110.9h.8M57.3 104.2h.8M56.2 101.7h.8M75.1 107.2h.8M66.4 107.4h.8M75.0 108.3h.8M70.1 110.9h.8M63.6 107.3h.8M62.0 107.3h.8M65.4 111.1h.8M54.1 106.2h.8M65.5 109.8h.8M67.5 101.9h.8M61.6 108.0h.8M61.1 107.8h.8M71.1 106.7h.8M78.5 104.5h.8M67.2 107.1h.8M71.6 107.1h.8M63.0 99.4h.8M68.6 102.2h.8M57.0 110.0h.8M62.2 103.1h.8M58.7 108.9h.8M74.9 104.5h.8M66.3 103.5h.8M66.1 100.5h.8M69.7 111.2h.8M68.0 102.7h.8M69.2 111.0h.8M71.4 106.4h.8M58.6 106.4h.8M59.0 108.5h.8M56.0 105.2h.8M63.1 110.8h.8M60.1 102.2h.8M56.0 108.0h.8M64.6 109.2h.8M77.7 109.8h.8M63.2 103.2h.8M70.8 104.3h.8M73.1 104.9h.8M63.4 111.9h.8M61.8 106.0h.8M70.1 105.5h.8M62.2 108.9h.8M57.5 105.5h.8M65.9 104.0h.8M61.3 107.1h.8M67.8 105.1h.8M74.0 104.2h.8M61.2 101.8h.8M68.3 109.7h.8M62.7 103.0h.8M75.1 103.6h.8M63.5 103.1h.8M67.0 101.9h.8M68.7 104.1h.8M67.3 109.8h.8M58.2 103.1h.8M67.2 103.7h.8M65.8 105.1h.8M66.9 111.6h.8M60.9 109.3h.8M65.0 102.3h.8M65.7 108.2h.8M74.7 104.4h.8M67.3 109.9h.8M60.6 105.9h.8M62.2 109.0h.8M61.7 107.9h.8M73.1 104.0h.8M69.0 102.7h.8M54.5 109.8h.8M65.2 101.1h.8M71.2 103.0h.8M68.7 110.5h.8M62.2 109.1h.8M60.9 107.1h.8M57.4 104.6h.8M62.3 104.4h.8M60.9 106.5h.8M60.5 102.9h.8M65.7 103.4h.8M64.5 106.1h.8M71.1 110.2h.8M70.1 104.8h.8M72.4 102.0h.8M67.1 110.1h.8M57.4 105.2h.8M60.9 106.6h.8M67.0 99.9h.8M64.7 102.0h.8M69.9 108.7h.8M67.0 109.8h.8M55.8 103.2h.8M70.8 104.9h.8M61.0 104.2h.8M70.9 107.2h.8M71.4 107.6h.8M73.2 107.4h.8M57.1 110.8h.8M74.5 102.9h.8M69.5 107.2h.8M56.4 103.9h.8M68.7 103.5h.8M68.5 102.6h.8M54.0 107.4h.8M65.7 104.5h.8M62.8 106.2h.8M66.1 98.2h.8M69.8 106.4h.8M55.7 106.1h.8M64.5 108.2h.8M54.2 106.5h.8M71.4 107.5h.8M63.9 103.0h.8M77.2 104.0h.8M64.5 106.2h.8M76.9 106.1h.8M78.0 104.8h.8M63.1 107.9h.8M65.2 104.7h.8M70.0 103.7h.8M68.4 109.9h.8M57.8 104.5h.8M62.1 110.9h.8M68.2 101.1h.8M62.2 104.9h.8M63.5 108.4h.8M61.4 99.9h.8M62.6 103.3h.8M62.1 101.8h.8M67.5 106.8h.8M66.5 109.2h.8M65.2 107.5h.8M57.2 107.4h.8M63.8 103.7h.8M71.0 106.3h.8M76.5 103.8h.8M57.4 103.6h.8M70.1 106.3h.8M68.6 100.7h.8M67.0 107.7h.8M61.4 109.9h.8M54.2 107.9h.8M65.6 99.5h.8M72.5 102.6h.8M61.0 99.1h.8M54.9 106.1h.8M64.3 107.2h.8M63.4 106.4h.8M57.6 108.1h.8M72.7 105.3h.8M68.2 107.9h.8M59.6 112.4h.8M71.2 106.7h.8M56.1 100.7h.8M60.3 102.7h.8M61.1 103.4h.8M55.6 106.9h.8M72.5 99.9h.8M55.6 103.5h.8M69.5 100.2h.8M64.6 111.8h.8M58.4 106.1h.8M67.7 108.6h.8M64.4 108.2h.8M61.5 111.2h.8M56.3 105.6h.8M56.9 102.1h.8M63.5 103.5h.8M63.8 106.4h.8M74.2 105.5h.8M72.6 106.4h.8M74.3 104.4h.8M66.4 106.5h.8M62.4 105.9h.8M55.1 106.7h.8M63.7 107.0h.8M70.9 106.3h.8M63.9 110.5h.8M63.7 96.6h.8M67.1 108.3h.8M70.4 106.0h.8M67.4 102.2h.8M59.4 108.8h.8M65.1 111.1h.8M79.5 100.2h.8M54.6 105.5h.8M70.6 107.8h.8M77.2 98.8h.8M75.5 107.9h.8M64.8 111.7h.8M62.5 106.8h.8M70.1 102.8h.8M66.5 100.5h.8M56.2 107.5h.8M62.5 109.7h.8M72.7 101.3h.8M54.8 105.9h.8M70.3 98.2h.8M60.9 101.8h.8M74.9 104.1h.8M62.7 109.8h.8M71.7 110.4h.8M67.2 99.4h.8M66.7 104.1h.8M68.5 107.5h.8M68.1 110.7h.8M68.0 101.6h.8M70.0 105.3h.8M55.2 98.0h.8M67.6 111.0h.8M68.0 99.8h.8M63.9 101.5h.8M67.2 106.3h.8M72.0 105.6h.8M72.3 106.1h.8M63.3 98.9h.8M64.2 110.1h.8M66.9 107.5h.8M64.2 102.4h.8M67.9 100.5h.8M67.9 106.0h.8M66.1 109.3h.8M78.3 103.6h.8M68.3 101.8h.8M68.3 106.2h.8M70.6 97.1h.8M70.7 100.6h.8M60.5 104.4h.8M69.0 105.4h.8M53.5 102.9h.8M74.9 101.8h.8M71.3 107.5h.8M60.1 100.2h.8M65.6 108.0h.8M61.6 103.9h.8M61.5 110.0h.8M73.3 101.2h.8M69.8 105.0h.8M56.6 107.9h.8M68.1 102.7h.8M77.4 105.6h.8M79.9 102.6h.8M71.0 111.1h.8M65.6 103.7h.8M61.2 106.0h.8M60.0 105.4h.8M61.3 102.0h.8M63.8 108.6h.8M63.2 103.5h.8M79.2 104.2h.8M65.8 111.9h.8M73.2 99.0h.8M55.7 105.8h.8M55.9 107.9h.8M68.8 105.4h.8M73.0 102.0h.8M67.2 103.8h.8M65.0 102.5h.8M73.6 102.6h.8M74.7 105.5h.8M69.9 109.9h.8M62.7 104.3h.8M67.3 109.3h.8M63.2 106.0h.8M57.0 105.5h.8M54.0 104.7h.8M65.4 108.3h.8M67.7 109.5h.8M70.5 106.7h.8M56.2 101.6h.8M62.5 106.0h.8M73.7 107.7h.8M78.8 103.4h.8M72.6 98.1h.8M73.4 106.7h.8M71.1 100.5h.8M69.8 108.8h.8M69.1 101.6h.8M78.4 105.2h.8M58.3 108.5h.8M56.0 108.8h.8M72.5 105.7h.8M54.6 106.4h.8M60.1 107.4h.8M66.2 108.3h.8M78.5 111.1h.8M64.5 105.4h.8M78.6 100.6h.8M67.6 103.6h.8M78.5 101.1h.8M77.4 101.0h.8M71.7 104.9h.8M62.2 102.2h.8M72.0 105.8h.8M65.1 100.3h.8M65.9 105.6h.8M62.6 100.9h.8M68.9 101.6h.8M74.0 106.2h.8M58.7 106.9h.8M62.8 101.7h.8M70.5 104.8h.8M66.9 100.1h.8M57.0 102.4h.8M69.5 105.7h.8M80.8 103.1h.8M69.8 101.8h.8M64.4 105.8h.8M61.4 108.5h.8M75.8 106.2h.8M69.2 99.4h.8M54.1 105.7h.8M77.6 108.6h.8M71.9 97.9h.8M60.4 110.2h.8M70.3 101.9h.8M64.3 100.7h.8M79.7 106.7h.8M56.7 101.8h.8M74.7 104.0h.8M55.1 108.5h.8M59.4 105.8h.8M56.4 106.5h.8M59.4 102.7h.8M68.7 107.1h.8M55.2 109.4h.8M60.1 101.6h.8M53.7 104.4h.8M54.9 104.2h.8M72.1 104.8h.8M72.2 109.3h.8M66.4 108.0h.8M75.5 104.1h.8M67.0 101.1h.8M76.9 108.9h.8M69.7 108.5h.8M79.1 100.2h.8M64.0 106.8h.8M55.9 110.3h.8M57.7 102.2h.8M57.1 106.8h.8M61.2 100.2h.8M71.2 103.0h.8M77.6 102.6h.8M58.6 102.2h.8M71.6 99.5h.8M67.2 102.9h.8M73.0 98.0h.8M69.5 104.2h.8M66.6 101.4h.8M60.0 104.0h.8M62.6 104.8h.8M56.8 106.4h.8M62.0 104.2h.8M56.6 101.1h.8M53.7 103.6h.8M65.4 110.6h.8M55.5 104.1h.8M64.1 99.6h.8M68.9 107.6h.8M64.1 109.6h.8M72.7 75.9h.8M74.4 77.2h.8M73.8 49.8h.8M68.5 98.1h.8M78.4 68.0h.8M76.1 81.5h.8M77.5 53.6h.8M75.9 68.2h.8M76.7 74.7h.8M74.5 69.9h.8M77.3 61.0h.8M77.9 50.4h.8M76.0 79.6h.8M69.4 80.6h.8M71.7 69.7h.8M77.5 79.4h.8M78.0 56.2h.8M76.2 50.7h.8M75.0 61.4h.8M76.7 66.3h.8M74.7 48.0h.8M80.5 65.4h.8M78.8 72.8h.8M79.1 48.0h.8M70.6 70.6h.8M75.9 64.5h.8M74.3 65.0h.8M75.9 53.8h.8M76.9 59.5h.8M72.7 88.4h.8M77.0 48.7h.8M75.0 63.1h.8M76.9 71.5h.8M79.4 63.2h.8M78.3 46.8h.8M76.5 48.5h.8M80.7 51.8h.8M75.9 49.9h.8M79.1 85.4h.8M78.4 65.9h.8M74.7 80.8h.8M79.2 65.0h.8M76.3 43.7h.8M75.5 52.7h.8M76.4 70.1h.8M79.0 72.8h.8M76.0 49.6h.8M74.8 62.3h.8M74.1 44.6h.8M76.8 60.3h.8M81.8 53.4h.8M75.0 58.0h.8M77.4 47.5h.8M77.9 73.0h.8M76.2 40.7h.8M69.4 64.0h.8M79.2 55.1h.8M78.9 65.8h.8M70.8 81.5h.8M79.9 71.9h.8M70.0 90.5h.8M73.6 85.0h.8M75.8 54.4h.8M73.7 68.9h.8M72.2 92.3h.8M69.4 82.5h.8M75.3 86.2h.8M80.0 80.4h.8M74.0 76.9h.8M77.3 57.3h.8M78.6 45.1h.8M74.8 65.2h.8M80.1 67.3h.8M72.1 85.3h.8M79.7 76.6h.8M77.9 54.5h.8M76.2 70.6h.8M81.8 75.4h.8M77.3 73.7h.8M71.3 63.6h.8M73.4 61.5h.8M81.8 58.2h.8M81.4 62.6h.8M69.7 82.8h.8M71.9 86.3h.8M78.0 84.9h.8M75.6 75.6h.8M73.4 72.7h.8M81.4 44.0h.8M79.2 49.6h.8M76.3 63.7h.8M71.4 70.2h.8M75.0 79.5h.8M74.0 55.3h.8M77.2 40.8h.8M68.7 86.0h.8M80.8 78.5h.8M73.2 45.4h.8M74.8 38.6h.8M74.1 59.7h.8M74.4 44.3h.8M74.1 82.3h.8M74.3 76.1h.8M70.5 83.3h.8M72.0 74.9h.8M72.1 66.0h.8M81.0 60.0h.8M72.3 71.1h.8M75.7 69.1h.8M78.1 78.3h.8M74.9 81.9h.8M73.1 82.3h.8M74.5 52.8h.8M72.8 85.0h.8M73.8 62.0h.8M79.1 58.6h.8M77.7 40.5h.8M73.0 53.2h.8M71.6 66.0h.8M71.0 64.7h.8M76.2 59.1h.8M75.0 88.7h.8M68.6 88.7h.8M71.3 57.0h.8M74.6 79.2h.8M76.6 77.1h.8M75.0 60.2h.8M80.9 56.0h.8M73.9 98.3h.8M76.1 50.2h.8M72.5 68.1h.8M70.6 77.6h.8M75.2 64.6h.8M75.6 49.0h.8M80.0 74.2h.8M77.7 73.8h.8M81.2 52.0h.8M81.4 76.4h.8M79.9 60.6h.8M76.1 50.5h.8M76.3 62.3h.8M76.4 48.9h.8M78.9 65.2h.8M76.0 65.6h.8M78.8 68.5h.8M78.9 45.3h.8M77.9 59.7h.8M70.7 77.9h.8M75.2 62.3h.8M75.9 70.2h.8M80.3 60.0h.8M71.1 69.3h.8M77.6 50.6h.8M70.4 74.2h.8M74.3 38.4h.8M72.4 71.1h.8M79.0 72.5h.8M76.3 44.7h.8M72.1 63.1h.8M77.8 76.9h.8M73.1 64.4h.8M73.9 60.8h.8M69.8 83.3h.8M77.7 48.5h.8M80.2 66.4h.8M73.9 55.4h.8M74.3 45.0h.8M74.1 38.1h.8M76.6 51.5h.8M78.1 58.0h.8M70.7 91.5h.8M74.0 72.5h.8M79.6 68.4h.8M76.8 50.3h.8M74.6 69.9h.8M71.8 79.0h.8M72.9 50.3h.8M75.3 77.5h.8M70.4 83.5h.8M72.4 76.4h.8M70.7 92.3h.8M71.6 71.5h.8M74.2 57.3h.8M74.8 82.6h.8M78.2 54.6h.8M73.4 71.3h.8M78.9 51.3h.8M67.1 83.7h.8M72.0 91.4h.8M74.5 92.4h.8M79.1 75.1h.8M76.8 65.0h.8M76.5 72.2h.8M79.6 48.6h.8M77.5 70.2h.8M70.2 63.5h.8M76.7 89.8h.8M77.7 59.2h.8M74.4 85.5h.8M71.9 83.7h.8M74.4 76.2h.8M80.2 73.2h.8M72.4 73.2h.8M77.2 82.0h.8M76.6 75.2h.8M71.8 88.4h.8M72.1 68.2h.8M75.6 52.5h.8M74.9 59.2h.8M77.8 68.0h.8M73.4 75.6h.8M76.1 77.1h.8M71.7 76.0h.8M77.1 46.2h.8M77.7 73.7h.8M78.9 75.4h.8M79.5 51.5h.8M75.3 55.9h.8M73.4 85.1h.8M81.2 49.2h.8M70.1 78.6h.8M74.8 60.1h.8M72.0 67.5h.8M76.0 49.3h.8M74.9 77.0h.8M80.2 67.6h.8M70.9 78.4h.8M74.0 79.1h.8M74.8 78.9h.8M79.8 83.6h.8M71.4 69.3h.8M77.6 76.9h.8M72.7 66.7h.8M79.3 48.9h.8M73.1 49.0h.8M77.7 77.9h.8M77.3 58.5h.8M70.8 64.6h.8M69.6 99.4h.8M78.9 51.5h.8M71.3 51.2h.8M75.3 48.4h.8M76.5 37.1h.8M70.0 88.6h.8M67.7 84.8h.8M77.0 46.0h.8M80.8 63.8h.8M74.0 65.2h.8M77.4 45.4h.8M77.0 86.4h.8M71.1 66.6h.8M72.0 74.8h.8M75.5 79.1h.8M74.2 68.6h.8M79.1 71.7h.8M69.8 98.2h.8M74.2 82.6h.8M75.2 59.9h.8M74.7 79.9h.8M78.5 47.4h.8M78.1 70.5h.8M74.6 71.1h.8M79.2 67.4h.8M78.8 61.2h.8M71.1 50.3h.8M76.2 90.0h.8M75.9 65.6h.8M72.4 71.4h.8M76.5 52.4h.8M77.3 51.4h.8M70.8 74.0h.8M76.3 70.6h.8M78.1 79.7h.8M73.4 83.9h.8M75.5 50.4h.8M76.5 64.2h.8M76.4 64.6h.8M72.8 68.4h.8M70.7 68.3h.8M74.1 83.1h.8M75.5 51.4h.8M81.3 62.8h.8M79.2 54.1h.8M77.8 70.3h.8M70.7 94.4h.8M74.0 49.5h.8M77.5 82.4h.8M73.0 68.3h.8M74.3 80.9h.8M77.4 67.3h.8M76.1 50.3h.8M73.0 60.0h.8M73.1 89.6h.8M78.0 49.4h.8M74.4 58.8h.8M71.6 75.3h.8M79.7 79.5h.8M71.9 71.6h.8M77.7 68.2h.8M81.0 55.4h.8M71.2 71.7h.8M74.2 82.1h.8M73.0 63.6h.8M71.1 50.7h.8M73.3 64.7h.8M76.7 50.6h.8M76.3 81.2h.8M74.5 85.7h.8M79.9 51.4h.8M79.4 70.6h.8M74.2 52.1h.8M77.3 65.2h.8M77.6 87.9h.8M73.5 69.8h.8M77.2 42.1h.8M74.6 77.2h.8M74.3 66.5h.8M72.2 76.8h.8M79.2 48.4h.8M73.4 78.0h.8M77.1 51.1h.8M71.7 60.0h.8M75.0 71.6h.8M72.5 62.3h.8M77.6 53.0h.8M76.7 57.8h.8M70.9 64.3h.8M80.6 64.3h.8M75.5 74.4h.8M70.5 67.5h.8M74.1 60.1h.8M73.5 53.9h.8M72.4 87.6h.8M72.3 58.5h.8M78.3 75.0h.8M74.5 56.1h.8M74.7 45.3h.8M73.2 84.7h.8M77.5 78.0h.8M78.5 79.3h.8M74.4 83.8h.8M76.8 66.7h.8M71.9 78.3h.8M75.5 85.7h.8M77.8 71.5h.8M81.6 59.9h.8M76.6 82.5h.8M72.2 74.6h.8M80.2 59.7h.8M75.5 44.9h.8M77.7 64.1h.8M77.3 82.9h.8M75.6 60.8h.8M74.4 88.7h.8M71.4 52.2h.8M70.9 62.4h.8M79.3 76.8h.8M72.4 83.1h.8M81.7 63.5h.8M74.1 80.0h.8M77.2 46.0h.8M70.3 82.3h.8M75.7 87.2h.8M73.6 83.8h.8M73.2 77.1h.8M74.1 89.3h.8M72.0 78.9h.8M66.2 95.1h.8M74.8 40.9h.8M77.5 70.0h.8M72.6 50.2h.8M72.7 92.7h.8M75.0 80.6h.8M72.4 64.3h.8M72.8 64.8h.8M69.3 75.3h.8M76.9 71.5h.8M76.5 83.6h.8M77.8 54.3h.8M73.2 61.2h.8M76.2 63.1h.8M76.5 68.8h.8M74.8 84.0h.8M73.3 52.1h.8M70.0 75.4h.8M77.3 67.1h.8M77.2 51.8h.8M74.0 74.8h.8M77.3 70.8h.8M77.2 81.1h.8M71.5 84.8h.8M78.4 65.1h.8M73.2 56.9h.8M73.6 54.8h.8M74.8 53.0h.8M76.1 87.3h.8M76.4 53.7h.8M69.9 88.5h.8M75.5 77.3h.8M78.5 52.1h.8M79.2 52.4h.8M70.8 59.4h.8M76.2 49.4h.8M77.5 89.2h.8M81.6 53.8h.8M75.4 73.4h.8M79.0 60.1h.8M75.6 74.5h.8M77.8 90.6h.8M76.0 82.6h.8M77.9 83.4h.8M77.7 75.5h.8M75.3 75.7h.8M80.7 71.6h.8M73.6 69.7h.8M79.1 46.7h.8M79.3 66.2h.8M74.5 48.5h.8M74.9 70.1h.8M73.2 74.2h.8M71.4 87.0h.8M74.8 48.5h.8M80.3 59.7h.8M77.4 65.7h.8M78.6 70.9h.8M79.0 68.9h.8M77.0 55.8h.8M74.1 72.8h.8M73.7 80.5h.8M69.7 89.0h.8M73.7 81.7h.8M77.4 53.4h.8M71.5 85.2h.8M77.8 53.5h.8M76.2 57.5h.8M72.4 79.7h.8M80.0 43.5h.8M77.2 69.0h.8M76.1 50.7h.8M78.9 70.8h.8M77.9 62.1h.8M80.1 75.7h.8M78.3 73.4h.8M79.3 47.8h.8M73.4 62.8h.8M75.3 54.9h.8M76.3 75.3h.8M79.6 62.7h.8M75.6 52.1h.8M74.2 76.6h.8M75.3 84.1h.8M76.5 65.3h.8M74.4 59.4h.8M71.6 56.7h.8M76.1 46.4h.8M77.5 70.5h.8M77.3 51.7h.8M73.9 86.3h.8M69.4 76.8h.8M74.1 86.2h.8M69.2 57.5h.8M81.8 67.6h.8M73.4 83.1h.8M76.3 68.8h.8M74.6 58.2h.8M74.3 78.9h.8M78.7 69.0h.8M74.5 51.1h.8M77.2 58.2h.8M77.9 53.0h.8M74.8 89.1h.8M74.3 92.9h.8M74.1 73.0h.8M73.9 82.7h.8M71.3 64.6h.8M81.1 59.9h.8M77.8 61.7h.8M75.8 89.0h.8M80.4 52.8h.8M79.2 64.6h.8M71.3 66.2h.8M74.3 73.9h.8M73.4 74.7h.8M76.4 53.9h.8M77.8 74.4h.8M76.3 76.5h.8M77.2 71.0h.8M72.7 54.2h.8M74.5 66.7h.8M73.2 88.9h.8M75.2 72.2h.8M75.7 63.5h.8M75.1 61.5h.8M69.9 71.9h.8M74.0 43.2h.8M72.0 57.4h.8M75.4 87.1h.8M75.2 64.1h.8M74.8 43.8h.8M78.9 64.5h.8M78.5 58.1h.8M76.7 51.1h.8M74.6 48.6h.8M77.5 57.9h.8M75.1 95.7h.8M72.6 53.3h.8M78.7 48.7h.8M76.3 67.0h.8M72.5 50.7h.8M70.3 69.0h.8M74.7 58.6h.8M75.8 97.7h.8M76.8 67.1h.8M76.2 55.3h.8M71.5 71.2h.8M78.4 86.7h.8M78.2 63.8h.8M79.5 45.2h.8M77.5 42.7h.8M72.9 70.1h.8M72.9 54.1h.8M76.4 83.6h.8M72.1 75.1h.8M75.7 62.6h.8M75.9 81.3h.8M79.1 69.1h.8M76.1 52.0h.8M75.5 54.8h.8M79.3 75.5h.8M76.2 76.4h.8M79.9 56.6h.8M70.7 71.3h.8M80.1 81.0h.8M75.3 44.7h.8M76.4 86.3h.8M79.7 47.4h.8M73.8 77.3h.8M78.3 61.6h.8M75.5 57.0h.8M76.1 70.3h.8M72.0 68.1h.8M70.9 83.5h.8M81.5 48.9h.8M74.2 90.5h.8M75.7 56.5h.8M71.0 81.7h.8M78.0 50.7h.8M74.6 81.0h.8M69.4 81.1h.8M73.6 63.2h.8M67.5 99.5h.8M68.7 73.2h.8M79.1 57.8h.8M73.9 48.9h.8M71.0 98.9h.8M76.1 45.9h.8M79.8 75.1h.8M75.3 71.0h.8M75.8 73.1h.8M73.7 76.5h.8M78.8 73.1h.8M82.0 65.7h.8M70.2 78.1h.8M73.3 58.5h.8M80.9 76.3h.8M72.8 72.1h.8M76.7 80.2h.8M65.2 78.9h.8M71.9 64.5h.8M78.4 45.9h.8M69.5 59.8h.8M78.2 47.6h.8M74.5 75.5h.8M69.6 72.9h.8M78.3 65.4h.8M68.0 83.3h.8M75.6 49.7h.8M75.0 49.7h.8M71.3 67.6h.8M72.0 98.8h.8M72.8 66.8h.8M74.5 80.0h.8M78.8 57.6h.8M77.1 62.6h.8M73.3 93.0h.8M79.4 53.5h.8M78.4 66.6h.8M76.0 82.7h.8M72.4 76.6h.8M61.8 102.9h.8M77.2 83.0h.8M79.2 61.3h.8M73.5 52.6h.8M72.8 90.0h.8M70.7 101.4h.8M76.1 90.6h.8M75.4 86.3h.8M76.5 63.2h.8M69.8 98.2h.8M77.3 85.8h.8M73.0 59.3h.8M73.2 61.4h.8M61.0 102.7h.8M74.2 47.4h.8M68.6 105.2h.8M75.2 81.2h.8M81.3 70.7h.8M73.1 77.3h.8M73.1 84.6h.8M72.6 53.5h.8M77.8 70.2h.8M78.2 70.3h.8M73.3 65.9h.8M74.6 76.9h.8M77.3 75.3h.8M78.5 67.9h.8M72.6 92.0h.8M82.0 60.8h.8M80.1 64.7h.8M72.3 92.5h.8M72.6 76.3h.8M74.4 50.3h.8M75.5 80.8h.8M79.2 49.5h.8M77.6 64.8h.8M72.0 68.7h.8M64.7 103.9h.8M77.9 75.4h.8M74.5 58.6h.8M79.7 71.4h.8M75.9 54.4h.8M81.0 67.3h.8M72.0 65.2h.8M74.1 79.6h.8M74.1 61.7h.8M77.9 60.4h.8M73.0 87.9h.8M65.6 99.6h.8M79.7 73.4h.8M74.6 88.8h.8M78.9 80.8h.8M71.2 77.3h.8M73.3 64.6h.8M73.5 63.0h.8M72.1 78.9h.8M77.2 102.1h.8M79.7 98.2h.8M70.7 57.3h.8M71.7 102.7h.8M79.0 53.1h.8M74.6 65.6h.8M77.4 61.7h.8M75.5 88.3h.8M76.1 60.6h.8M74.4 72.1h.8M70.0 65.0h.8M70.1 85.3h.8M72.0 80.8h.8M75.9 91.4h.8M66.4 101.9h.8M74.4 59.3h.8M77.8 48.9h.8M73.6 56.2h.8M75.1 81.1h.8M74.2 107.6h.8M72.2 65.9h.8M80.7 47.0h.8M78.8 86.2h.8M67.4 86.7h.8M72.4 91.3h.8M75.8 67.6h.8M76.3 93.1h.8M76.4 60.2h.8M78.2 95.3h.8M77.8 99.5h.8M79.0 61.5h.8M69.5 68.6h.8M76.1 91.6h.8M65.7 107.9h.8M74.1 70.3h.8M76.3 52.5h.8M73.8 78.3h.8M75.8 48.2h.8M72.2 75.1h.8M71.5 106.0h.8M78.8 85.2h.8M77.8 67.3h.8M70.2 67.6h.8M78.1 77.7h.8M77.3 48.5h.8M71.8 56.0h.8M74.9 60.1h.8M69.5 103.1h.8M80.7 61.6h.8M79.2 67.0h.8M76.5 54.2h.8M77.9 81.2h.8M77.1 53.7h.8M66.3 99.7h.8M73.6 81.7h.8M75.1 69.5h.8M74.3 64.8h.8M73.8 88.8h.8M75.1 71.7h.8M71.9 100.3h.8M69.4 68.9h.8M73.6 77.2h.8M69.9 84.9h.8M79.3 68.4h.8M75.9 72.1h.8M77.6 62.0h.8M70.2 62.5h.8M78.6 79.6h.8M79.3 78.4h.8M71.0 89.1h.8M68.2 104.3h.8M70.8 67.5h.8M74.1 72.5h.8M79.2 61.9h.8M74.9 70.9h.8M73.6 98.4h.8M74.5 85.9h.8M71.3 98.3h.8M73.8 84.3h.8M79.1 42.1h.8M64.8 109.0h.8M65.8 103.8h.8M77.9 41.8h.8M73.3 50.7h.8M68.2 82.9h.8M80.8 58.2h.8M74.3 57.6h.8M71.9 88.1h.8M74.7 97.2h.8M68.1 79.4h.8M76.4 36.5h.8M75.0 106.9h.8M75.9 55.6h.8M81.9 60.0h.8M80.2 53.1h.8M74.7 70.2h.8M77.7 46.0h.8M71.7 71.5h.8M77.4 48.6h.8M73.2 66.1h.8M81.7 98.5h.8M77.6 44.9h.8M75.3 96.7h.8M72.3 98.5h.8M76.1 52.0h.8M78.5 65.0h.8M72.3 76.2h.8M80.8 79.6h.8M69.0 84.5h.8M69.2 107.5h.8M78.1 74.5h.8M69.4 97.6h.8M73.4 87.4h.8M74.6 54.4h.8M74.2 61.1h.8M71.9 57.6h.8M75.4 53.5h.8M77.8 58.9h.8M72.8 88.1h.8M71.3 69.6h.8M73.8 81.7h.8M75.2 56.1h.8M69.0 104.7h.8M78.3 53.0h.8M72.1 74.3h.8M72.3 59.6h.8M77.2 72.3h.8M76.4 77.9h.8M79.4 60.0h.8M72.0 97.1h.8M77.8 74.3h.8M79.6 78.2h.8M74.0 67.5h.8M78.3 105.3h.8M80.0 56.9h.8M65.5 107.7h.8M68.8 99.5h.8M75.1 58.4h.8M71.5 93.9h.8M74.1 73.0h.8M69.8 71.7h.8M70.2 84.7h.8M77.4 49.1h.8M73.1 91.5h.8M75.1 87.4h.8M76.4 42.1h.8M77.5 84.7h.8M69.8 87.6h.8M75.0 38.3h.8M71.2 98.1h.8M80.9 79.7h.8M72.3 55.9h.8M75.6 64.9h.8M75.9 37.6h.8M76.8 82.4h.8M73.4 81.0h.8M73.7 62.7h.8M64.8 103.9h.8M66.0 84.6h.8M73.3 63.3h.8M80.1 67.7h.8M69.1 82.2h.8M75.0 44.2h.8M71.5 74.6h.8M76.7 103.6h.8M74.7 89.2h.8M71.7 67.7h.8M55.6 105.1h.8M79.0 73.2h.8M77.9 96.7h.8M80.7 58.4h.8M76.2 51.0h.8M76.8 59.6h.8M75.4 57.1h.8M75.9 69.0h.8M70.7 71.0h.8M76.7 95.7h.8M79.4 60.2h.8M64.1 103.7h.8M74.9 61.0h.8M57.4 100.6h.8M72.2 89.7h.8M74.5 84.6h.8M69.8 71.2h.8M71.8 75.2h.8M71.5 85.0h.8M76.7 75.3h.8M78.0 70.2h.8M75.6 106.5h.8M69.5 103.1h.8M77.9 77.3h.8M74.3 75.4h.8M64.1 107.4h.8M69.4 100.1h.8M54.3 102.9h.8M80.2 69.2h.8M76.7 76.5h.8M72.2 69.8h.8M68.7 103.3h.8M74.6 88.3h.8M74.1 47.7h.8M72.8 90.5h.8M62.5 98.0h.8M76.2 57.1h.8M72.3 101.6h.8M70.1 97.5h.8M71.0 94.8h.8M66.1 102.5h.8M80.9 66.6h.8M64.6 108.1h.8M77.3 107.1h.8M70.5 84.2h.8M67.2 81.1h.8M76.2 76.1h.8M67.6 100.3h.8M72.2 84.9h.8M69.6 83.2h.8M71.7 89.6h.8M70.8 82.4h.8M76.3 103.6h.8M75.1 96.8h.8M75.8 62.6h.8M75.9 109.4h.8M55.2 100.1h.8M75.6 80.4h.8M77.1 51.1h.8M77.1 100.0h.8M79.5 80.4h.8M71.1 78.0h.8M73.2 87.3h.8M69.6 91.5h.8M70.5 89.6h.8M67.2 96.0h.8M75.8 56.8h.8M72.3 103.2h.8M80.1 71.8h.8M70.6 103.3h.8M78.8 67.7h.8M71.5 101.9h.8M78.0 80.1h.8M76.6 102.3h.8M75.5 76.8h.8M74.8 102.2h.8M64.3 107.2h.8M64.9 100.9h.8M71.2 68.9h.8M69.8 79.1h.8M75.3 94.1h.8M76.6 103.9h.8M73.4 79.2h.8M77.1 82.1h.8M69.2 69.2h.8M81.4 75.2h.8M65.6 106.2h.8M78.5 73.5h.8M69.8 92.6h.8M61.8 110.0h.8M68.5 76.2h.8M73.5 60.5h.8M73.6 96.7h.8M60.5 98.8h.8M74.0 58.0h.8M64.1 89.3h.8M71.5 70.7h.8M67.2 108.7h.8M74.3 106.7h.8M77.3 51.7h.8M72.0 100.2h.8M68.7 108.4h.8M64.7 100.1h.8M71.6 89.0h.8M69.4 106.2h.8M73.2 57.9h.8M71.4 101.9h.8M68.3 110.8h.8M77.1 77.2h.8M74.1 70.7h.8M71.8 70.2h.8M71.0 81.2h.8M71.3 101.3h.8M63.1 90.4h.8M65.0 110.4h.8M74.1 107.9h.8M70.2 110.3h.8M73.0 79.9h.8M74.3 85.6h.8M77.8 80.4h.8M75.0 55.6h.8M68.8 104.5h.8M69.5 107.2h.8M66.5 89.9h.8M61.9 96.1h.8M75.6 96.7h.8M76.5 92.0h.8M75.3 43.0h.8M72.3 83.7h.8M78.2 86.1h.8M84.5 55.5h.8M67.2 108.5h.8M59.8 106.5h.8M74.4 61.9h.8M72.1 102.2h.8M76.1 98.2h.8M75.0 65.1h.8M71.5 93.6h.8M71.6 72.1h.8M75.7 92.8h.8M100.1 91.8h.8M98.1 92.6h.8M100.0 93.6h.8M102.1 95.0h.8M100.4 95.1h.8M98.8 94.2h.8M97.3 96.3h.8M100.8 95.0h.8M102.3 94.1h.8M102.6 93.9h.8M100.8 95.1h.8M98.6 94.0h.8M104.0 91.4h.8M101.6 94.7h.8M98.7 97.9h.8M101.3 93.4h.8M97.2 95.3h.8M95.0 94.1h.8M97.4 93.8h.8M101.1 93.3h.8M97.6 94.1h.8M100.8 93.1h.8M95.5 92.4h.8M98.4 94.1h.8M98.1 97.7h.8M103.1 93.9h.8M98.8 93.2h.8M105.5 92.3h.8M96.6 93.8h.8M96.3 97.0h.8M95.9 95.3h.8M101.5 95.3h.8M97.5 92.6h.8M100.1 93.0h.8M96.9 97.7h.8M100.6 91.2h.8M98.4 94.2h.8M96.9 94.3h.8M100.0 94.3h.8M100.4 95.3h.8M102.1 96.4h.8M104.4 95.5h.8M101.3 90.5h.8M101.5 92.8h.8M100.7 91.1h.8M98.0 95.4h.8M99.1 94.7h.8M102.5 95.6h.8M103.0 92.3h.8M101.1 96.3h.8M100.8 91.7h.8M98.3 94.3h.8M96.9 93.1h.8M95.9 97.7h.8M100.0 98.8h.8M100.4 91.6h.8M96.9 97.5h.8M100.4 94.6h.8M104.4 91.9h.8M102.7 91.5h.8M96.6 96.7h.8M99.9 95.1h.8M105.3 90.3h.8M92.5 96.1h.8M99.7 96.0h.8M96.8 96.1h.8M102.5 93.5h.8M96.6 93.4h.8M100.7 91.7h.8M98.0 95.9h.8M93.9 99.0h.8M103.5 94.4h.8M101.2 95.1h.8M101.6 93.7h.8M96.9 95.6h.8M102.7 91.3h.8M104.2 90.2h.8M97.4 99.6h.8M103.1 94.5h.8M96.1 95.1h.8M105.8 91.7h.8M102.9 95.0h.8M106.4 91.3h.8M99.0 91.7h.8M99.8 94.2h.8M99.8 95.2h.8M105.3 92.2h.8M104.0 92.2h.8M97.1 95.5h.8M104.0 96.3h.8M94.2 95.6h.8M100.3 95.8h.8M101.0 94.7h.8M101.4 93.6h.8M101.1 95.7h.8M101.4 90.1h.8M99.8 95.5h.8M100.4 95.8h.8M101.4 92.6h.8M102.3 93.6h.8M97.6 95.6h.8M99.8 95.2h.8M103.6 90.0h.8M105.7 90.8h.8M99.5 97.6h.8M98.9 93.5h.8M103.6 98.0h.8M102.7 94.3h.8M106.8 91.3h.8M89.9 98.7h.8M98.1 93.4h.8M106.5 92.4h.8M97.1 97.5h.8M100.7 93.7h.8M100.5 93.2h.8M103.3 92.1h.8M99.1 97.0h.8M101.6 93.1h.8M100.6 93.0h.8M98.2 95.7h.8M97.2 96.2h.8M76.0 82.1h.8M74.1 83.1h.8M71.2 98.6h.8M64.0 104.6h.8M55.2 102.1h.8M77.1 94.7h.8M74.6 71.2h.8M61.8 106.5h.8M63.3 105.7h.8M95.1 96.3h.8M67.2 102.5h.8M77.5 70.9h.8M75.2 107.8h.8M77.2 106.1h.8M80.0 85.2h.8M70.9 98.7h.8M78.3 105.5h.8M61.6 110.6h.8M73.2 71.6h.8M80.7 80.4h.8M65.8 101.7h.8M76.6 56.1h.8M69.8 81.9h.8M74.5 110.5h.8M79.0 67.1h.8M82.0 65.7h.8M73.5 87.0h.8M68.9 110.3h.8M73.0 93.4h.8M53.4 105.0h.8M62.9 104.7h.8" stroke="#27b4b4"/>
<path d="M66.2 102.5h.8M75.2 108.8h.8M69.9 107.0h.8M65.6 102.7h.8M71.1 109.1h.8M63.4 107.0h.8M68.7 103.1h.8M61.4 103.9h.8M70.9 105.9h.8M68.4 102.0h.8M75.4 106.3h.8M65.9 102.2h.8M68.3 104.5h.8M60.0 109.5h.8M69.3 106.2h.8M55.3 106.6h.8M69.2 107.5h.8M65.4 106.7h.8M69.9 106.5h.8M55.1 102.7h.8M67.7 105.6h.8M65.9 108.5h.8M68.1 100.1h.8M65.4 108.6h.8M62.7 109.3h.8M69.6 100.7h.8M61.6 108.2h.8M72.2 103.1h.8M75.0 108.5h.8M65.2 109.6h.8M61.3 103.6h.8M61.0 106.9h.8M62.3 102.5h.8M69.9 105.4h.8M68.6 104.1h.8M69.8 107.1h.8M66.9 102.6h.8M68.1 109.7h.8M62.6 106.9h.8M60.8 104.1h.8M68.0 108.7h.8M62.1 102.8h.8M72.5 103.3h.8M67.1 106.2h.8M62.5 106.7h.8M62.9 107.6h.8M65.2 105.7h.8M67.3 102.9h.8M65.8 104.4h.8M69.9 105.6h.8M72.4 106.4h.8M76.5 102.9h.8M68.4 104.1h.8M70.1 104.6h.8M63.1 109.2h.8M69.2 110.9h.8M64.6 103.9h.8M68.0 106.8h.8M69.7 106.2h.8M67.9 103.9h.8M61.5 107.9h.8M67.9 106.1h.8M64.5 102.7h.8M68.3 103.6h.8M61.2 105.5h.8M64.8 105.2h.8M72.3 108.0h.8M67.3 103.3h.8M74.8 109.3h.8M69.6 103.3h.8M65.5 107.6h.8M69.9 106.3h.8M64.4 108.2h.8M66.2 107.0h.8M72.5 109.0h.8M68.4 109.4h.8M69.1 105.3h.8M65.9 101.0h.8M62.0 109.6h.8M65.3 107.0h.8M66.8 106.4h.8M67.7 106.0h.8M70.2 109.4h.8M62.0 108.0h.8M65.4 106.0h.8M68.5 107.9h.8M68.4 107.4h.8M68.9 109.0h.8M72.7 103.1h.8M74.6 99.6h.8M66.8 109.5h.8M66.8 106.6h.8M71.1 105.7h.8M64.1 104.4h.8M63.6 103.0h.8M69.1 108.6h.8M67.8 105.6h.8M65.9 104.8h.8M70.9 108.6h.8M67.6 105.6h.8M65.6 109.0h.8M67.1 102.9h.8M66.8 111.8h.8M69.3 108.3h.8M66.3 101.6h.8M63.7 107.4h.8M68.4 103.2h.8M72.1 108.5h.8M66.2 104.2h.8M73.9 106.6h.8M66.9 103.1h.8M59.1 105.3h.8M64.0 104.9h.8M69.1 104.1h.8M69.8 105.1h.8M67.5 107.5h.8M67.4 108.3h.8M69.6 109.7h.8M67.0 102.5h.8M63.0 111.1h.8M70.9 107.2h.8M73.2 106.8h.8M72.1 108.2h.8M67.6 111.1h.8M56.2 105.8h.8M67.2 110.3h.8M73.8 105.0h.8M65.5 106.1h.8M53.6 108.5h.8M77.1 101.5h.8M64.1 107.8h.8M57.8 110.7h.8M66.7 105.0h.8M60.5 105.3h.8M66.0 106.0h.8M59.6 105.7h.8M55.8 99.3h.8M61.4 105.2h.8M55.8 104.8h.8M65.0 103.5h.8M64.6 104.7h.8M68.6 101.0h.8M62.3 100.2h.8M72.1 103.6h.8M71.2 104.0h.8M60.1 111.0h.8M69.2 108.9h.8M65.2 104.4h.8M64.9 109.3h.8M71.7 106.4h.8M70.1 103.2h.8M77.2 95.0h.8M71.0 96.8h.8M69.9 107.0h.8M72.1 107.0h.8M57.4 105.4h.8M64.0 103.2h.8M64.0 108.9h.8M61.5 102.9h.8M64.6 103.1h.8M60.5 105.5h.8M74.8 103.2h.8M67.1 103.4h.8M65.5 100.7h.8M73.9 106.2h.8M54.0 102.9h.8M71.4 106.8h.8M54.3 102.9h.8M65.6 100.6h.8M63.9 102.9h.8M70.7 106.9h.8M62.3 106.0h.8M66.0 103.3h.8M73.6 103.5h.8M61.9 105.5h.8M76.7 106.6h.8M61.3 107.5h.8M69.8 105.4h.8M57.3 106.7h.8M67.0 102.3h.8M67.0 111.2h.8M68.2 101.3h.8M69.6 107.9h.8M57.1 109.6h.8M67.8 106.3h.8M59.2 105.5h.8M67.0 106.8h.8M60.4 103.5h.8M65.5 105.3h.8M61.1 101.6h.8M65.1 105.9h.8M74.7 103.4h.8M68.6 106.4h.8M61.5 102.4h.8M61.1 107.2h.8M67.0 105.3h.8M64.9 104.2h.8M64.9 108.0h.8M57.1 106.8h.8M67.2 110.3h.8M69.8 107.1h.8M74.1 105.4h.8M70.3 101.6h.8M56.6 108.3h.8M64.2 105.5h.8M61.3 101.8h.8M69.3 105.0h.8M63.2 103.0h.8M60.8 103.2h.8M69.5 103.4h.8M55.9 106.1h.8M72.8 107.4h.8M63.3 104.2h.8M66.9 106.0h.8M60.5 107.0h.8M62.6 100.9h.8M67.2 105.0h.8M66.2 104.7h.8M58.8 108.0h.8M56.1 100.2h.8M75.4 92.9h.8M64.2 107.7h.8M79.6 104.9h.8M61.6 106.2h.8M66.0 103.0h.8M61.5 106.8h.8M61.6 102.5h.8M65.5 107.2h.8M62.9 101.7h.8M68.8 100.0h.8M67.4 101.4h.8M61.4 104.9h.8M54.9 105.7h.8M67.6 105.5h.8M59.3 102.2h.8M67.8 101.9h.8M65.5 104.3h.8M71.7 104.8h.8M65.4 103.4h.8M69.2 98.3h.8M55.0 107.5h.8M64.6 104.6h.8M69.7 107.9h.8M67.7 100.4h.8M72.0 105.7h.8M65.8 101.3h.8M75.5 106.5h.8M66.3 108.5h.8M63.0 103.6h.8M76.0 102.4h.8M61.3 104.3h.8M63.1 105.2h.8M67.5 103.9h.8M78.3 108.9h.8M73.2 108.1h.8M57.0 108.1h.8M76.0 107.4h.8M77.4 105.9h.8M55.2 107.0h.8M54.7 100.8h.8M63.5 111.0h.8M73.5 104.9h.8M76.6 105.7h.8M60.5 106.9h.8M65.9 102.6h.8M71.8 105.5h.8M67.5 103.6h.8M63.9 106.7h.8M64.3 101.1h.8M58.4 106.7h.8M62.3 111.4h.8M73.8 106.5h.8M72.8 101.9h.8M68.3 105.5h.8M64.1 109.1h.8M63.5 103.1h.8M77.0 105.2h.8M67.7 106.3h.8M69.5 107.0h.8M54.6 106.2h.8M74.6 102.2h.8M69.0 107.9h.8M69.1 110.6h.8M71.5 105.2h.8M62.0 110.4h.8M76.8 105.3h.8M71.2 111.6h.8M75.3 105.2h.8M61.2 101.2h.8M70.8 106.8h.8M77.8 101.0h.8M53.9 103.5h.8M60.1 109.5h.8M71.9 108.8h.8M69.2 100.8h.8M63.0 107.6h.8M59.1 106.6h.8M64.6 112.1h.8M66.0 104.2h.8M68.7 104.4h.8M60.8 101.6h.8M75.6 107.8h.8M61.3 102.8h.8M74.7 104.5h.8M60.7 107.0h.8M71.0 107.1h.8M63.7 109.1h.8M61.4 105.3h.8M63.3 106.5h.8M62.2 104.0h.8M59.5 102.2h.8M65.0 105.1h.8M66.8 100.2h.8M57.8 102.0h.8M76.2 58.5h.8M78.0 57.9h.8M78.1 67.6h.8M71.4 69.8h.8M78.4 61.0h.8M72.4 87.2h.8M75.8 70.9h.8M75.0 75.0h.8M74.2 84.3h.8M78.4 73.0h.8M78.7 59.0h.8M73.2 57.9h.8M73.2 73.5h.8M78.5 52.8h.8M74.3 59.2h.8M75.6 62.2h.8M79.6 76.3h.8M80.7 81.1h.8M71.7 66.0h.8M74.9 62.9h.8M78.4 40.3h.8M72.0 80.6h.8M75.9 75.9h.8M79.8 59.3h.8M76.9 67.8h.8M72.9 80.6h.8M79.7 68.7h.8M76.5 46.6h.8M76.5 75.5h.8M82.9 77.7h.8M75.3 74.1h.8M73.4 75.1h.8M75.1 53.5h.8M74.6 57.4h.8M72.0 77.9h.8M76.6 58.6h.8M77.8 62.0h.8M73.5 77.5h.8M75.2 72.6h.8M72.5 80.2h.8M77.9 60.6h.8M75.2 77.3h.8M77.9 71.7h.8M75.9 56.3h.8M76.7 40.9h.8M74.1 65.7h.8M76.2 48.0h.8M78.9 53.9h.8M74.1 50.7h.8M78.0 46.6h.8M72.1 62.8h.8M76.4 55.3h.8M78.1 60.4h.8M74.9 56.9h.8M78.9 63.0h.8M75.3 59.3h.8M74.6 71.1h.8M76.0 48.2h.8M76.7 68.7h.8M78.8 66.3h.8M78.8 53.0h.8M79.4 64.3h.8M78.5 57.2h.8M78.4 62.6h.8M77.5 51.2h.8M77.6 52.4h.8M74.5 72.2h.8M75.3 56.5h.8M78.5 59.6h.8M79.0 46.1h.8M78.2 70.0h.8M75.0 70.4h.8M77.5 69.3h.8M71.3 76.4h.8M76.0 77.2h.8M75.8 65.9h.8M75.2 63.8h.8M72.7 65.6h.8M75.5 58.0h.8M75.1 87.1h.8M74.6 47.8h.8M79.8 64.5h.8M77.1 62.0h.8M78.5 59.9h.8M75.8 79.6h.8M71.5 79.5h.8M75.9 71.2h.8M77.2 59.3h.8M75.0 72.2h.8M75.7 77.4h.8M76.0 57.4h.8M72.7 70.6h.8M75.2 69.6h.8M74.3 45.8h.8M72.8 57.5h.8M75.9 65.1h.8M76.1 52.4h.8M78.4 64.9h.8M73.3 81.3h.8M80.2 67.5h.8M76.0 71.1h.8M75.2 70.9h.8M75.8 73.2h.8M73.0 52.5h.8M78.9 55.1h.8M74.8 45.1h.8M75.4 49.6h.8M79.3 55.6h.8M77.5 65.5h.8M76.0 55.3h.8M74.5 73.5h.8M73.3 79.3h.8M74.8 79.9h.8M74.8 62.0h.8M76.1 71.2h.8M72.9 64.6h.8M74.6 99.2h.8M79.0 72.4h.8M74.1 64.7h.8M73.7 82.2h.8M76.2 55.1h.8M73.7 70.6h.8M74.5 72.0h.8M71.5 73.4h.8M77.7 55.5h.8M76.1 73.0h.8M78.7 59.2h.8M77.8 71.3h.8M70.2 91.8h.8M77.1 64.6h.8M76.4 62.5h.8M75.3 67.0h.8M76.1 82.5h.8M75.7 77.7h.8M74.6 87.3h.8M78.7 66.0h.8M74.2 83.3h.8M72.7 86.3h.8M80.8 60.2h.8M74.6 71.1h.8M74.9 52.7h.8M73.5 85.8h.8M76.0 66.7h.8M77.9 78.3h.8M74.1 75.7h.8M76.1 68.4h.8M74.6 49.9h.8M70.3 101.6h.8M72.3 67.6h.8M75.4 46.3h.8M71.5 85.7h.8M77.8 51.0h.8M70.5 80.7h.8M78.7 55.4h.8M76.4 73.2h.8M74.5 54.6h.8M74.7 55.0h.8M78.4 68.1h.8M76.5 66.1h.8M79.9 56.0h.8M77.0 73.1h.8M73.9 60.2h.8M77.7 49.5h.8M73.6 56.4h.8M75.3 70.5h.8M72.4 84.3h.8M71.8 79.9h.8M74.5 54.7h.8M79.1 73.8h.8M77.1 59.4h.8M76.8 50.4h.8M79.5 65.3h.8M80.0 52.7h.8M72.5 78.8h.8M76.9 56.2h.8M74.5 58.2h.8M78.0 49.6h.8M71.1 67.2h.8M71.6 63.3h.8M77.4 47.2h.8M74.1 78.6h.8M75.5 79.0h.8M76.9 66.0h.8M73.1 85.3h.8M76.4 63.5h.8M72.0 84.5h.8M78.6 70.6h.8M76.6 50.0h.8M78.1 70.5h.8M78.4 63.1h.8M73.6 55.9h.8M75.3 52.9h.8M74.7 58.9h.8M75.6 82.4h.8M74.1 89.2h.8M73.0 71.4h.8M75.8 75.9h.8M75.0 52.9h.8M74.2 61.9h.8M75.3 47.8h.8M76.2 58.1h.8M76.6 65.9h.8M76.9 56.8h.8M73.2 67.6h.8M77.7 55.7h.8M78.5 63.4h.8M78.3 52.1h.8M74.0 60.9h.8M75.7 74.8h.8M75.2 71.9h.8M75.2 71.3h.8M76.2 75.2h.8M76.8 65.0h.8M78.0 58.8h.8M76.2 68.0h.8M79.5 74.5h.8M74.7 49.5h.8M77.5 80.5h.8M73.5 76.6h.8M80.9 60.8h.8M75.7 51.1h.8M77.6 75.8h.8M74.8 73.7h.8M75.5 54.7h.8M76.9 76.2h.8M77.2 60.2h.8M77.4 80.0h.8M76.7 71.0h.8M77.3 89.1h.8M73.8 69.1h.8M74.5 77.5h.8M76.9 79.5h.8M76.6 66.5h.8M77.0 85.0h.8M75.3 81.8h.8M71.3 72.6h.8M77.1 79.0h.8M77.2 85.6h.8M73.4 65.8h.8M76.3 67.5h.8M74.2 57.0h.8M74.7 55.4h.8M75.2 85.9h.8M78.9 76.0h.8M74.4 77.2h.8M77.1 76.8h.8M75.2 87.0h.8M71.4 59.3h.8M73.0 79.0h.8M74.9 54.7h.8M72.5 90.8h.8M76.3 50.2h.8M74.9 73.1h.8M76.3 54.1h.8M74.1 77.8h.8M75.4 70.8h.8M73.9 98.1h.8M77.8 74.2h.8M76.8 71.3h.8M74.1 74.1h.8M74.4 65.5h.8M69.1 81.5h.8M73.9 62.8h.8M76.8 51.7h.8M76.5 58.9h.8M78.4 41.7h.8M74.4 54.5h.8M77.4 48.0h.8M76.5 63.2h.8M78.8 59.7h.8M78.5 64.4h.8M77.0 60.9h.8M75.4 69.1h.8M76.6 85.8h.8M73.5 69.9h.8M70.8 76.3h.8M75.7 74.6h.8M73.5 66.2h.8M76.6 44.9h.8M76.7 78.2h.8M80.2 77.1h.8M78.3 59.4h.8M73.7 86.0h.8M76.9 85.2h.8M78.7 61.0h.8M75.9 49.5h.8M75.2 79.0h.8M74.9 68.0h.8M72.4 55.3h.8M75.0 79.8h.8M75.5 62.1h.8M76.8 53.9h.8M78.0 65.8h.8M74.0 64.5h.8M76.1 59.1h.8M69.5 80.9h.8M76.1 59.7h.8M75.5 71.3h.8M75.1 66.0h.8M75.2 87.8h.8M78.4 63.4h.8M75.0 70.7h.8M73.8 69.9h.8M78.9 64.2h.8M75.6 77.7h.8M75.0 68.6h.8M77.7 63.1h.8M77.5 47.7h.8M76.9 67.8h.8M71.6 82.7h.8M71.8 73.2h.8M72.0 68.6h.8M75.6 74.0h.8M75.7 67.8h.8M76.3 71.9h.8M78.7 69.7h.8M77.6 70.7h.8M77.6 72.5h.8M78.9 70.2h.8M79.7 67.8h.8M73.5 71.0h.8M74.6 79.6h.8M72.5 62.9h.8M73.2 75.0h.8M78.0 81.4h.8M78.7 74.6h.8M73.9 61.8h.8M72.0 67.7h.8M76.2 85.7h.8M73.5 63.3h.8M72.0 85.2h.8M75.9 69.6h.8M71.3 73.6h.8M77.5 80.8h.8M74.9 79.7h.8M71.3 67.1h.8M78.5 51.1h.8M77.6 63.2h.8M74.5 78.6h.8M77.7 66.5h.8M79.2 63.3h.8M76.7 59.5h.8M75.6 71.0h.8M78.9 79.1h.8M78.7 75.0h.8M76.5 61.7h.8M75.6 57.0h.8M75.8 69.6h.8M71.2 100.4h.8M73.2 59.8h.8M73.2 67.3h.8M77.6 47.8h.8M74.3 76.3h.8M72.6 51.7h.8M77.0 55.3h.8M76.3 79.0h.8M75.8 58.5h.8M72.6 62.1h.8M76.1 60.9h.8M74.6 63.2h.8M70.9 80.9h.8M76.9 46.7h.8M80.0 62.2h.8M75.8 51.7h.8M72.8 56.2h.8M71.1 70.7h.8M73.3 72.1h.8M66.6 100.5h.8M68.5 99.6h.8M68.8 63.1h.8M79.6 74.2h.8M75.4 81.0h.8M67.3 80.8h.8M76.3 67.4h.8M76.8 47.1h.8M74.9 63.3h.8M75.6 83.4h.8M79.1 68.1h.8M71.8 90.6h.8M77.7 49.7h.8M67.5 100.6h.8M76.6 70.5h.8M73.3 63.3h.8M59.5 107.4h.8M77.1 65.5h.8M73.1 64.5h.8M70.1 73.9h.8M69.4 89.7h.8M76.8 49.4h.8M71.3 89.6h.8M73.1 78.5h.8M74.8 81.1h.8M75.3 66.4h.8M71.9 78.9h.8M74.5 48.8h.8M76.2 69.5h.8M70.9 100.3h.8M80.2 70.5h.8M77.7 61.2h.8M74.4 61.0h.8M74.1 55.3h.8M75.7 58.7h.8M71.7 76.2h.8M66.7 103.0h.8M75.3 102.6h.8M71.6 77.5h.8M76.5 74.3h.8M71.0 102.9h.8M70.8 81.8h.8M75.5 85.7h.8M77.8 79.9h.8M76.0 79.1h.8M72.7 102.5h.8M69.4 100.7h.8M69.6 76.2h.8M80.5 65.8h.8M77.1 62.5h.8M74.4 98.8h.8M69.1 102.2h.8M79.4 55.6h.8M69.3 71.6h.8M77.9 72.1h.8M76.6 67.1h.8M74.3 83.9h.8M79.5 62.7h.8M78.9 66.9h.8M70.7 68.7h.8M75.1 46.4h.8M76.2 64.3h.8M79.3 47.4h.8M71.4 62.6h.8M77.8 53.8h.8M77.4 64.7h.8M76.4 69.7h.8M75.3 64.0h.8M73.8 75.7h.8M76.8 67.1h.8M74.2 72.0h.8M75.2 60.5h.8M64.8 104.6h.8M73.6 75.0h.8M79.2 68.6h.8M77.0 70.6h.8M75.8 76.4h.8M70.6 82.6h.8M72.8 60.1h.8M73.6 97.5h.8M77.8 58.3h.8M77.0 39.9h.8M78.9 41.9h.8M78.0 63.0h.8M78.7 81.8h.8M74.7 76.7h.8M73.4 77.8h.8M77.8 68.9h.8M78.0 54.2h.8M74.7 72.1h.8M78.1 59.9h.8M75.1 55.5h.8M73.6 62.3h.8M75.2 45.9h.8M76.2 70.4h.8M78.8 79.8h.8M79.7 51.1h.8M71.3 107.2h.8M73.0 76.9h.8M63.9 101.7h.8M70.9 78.6h.8M64.6 101.8h.8M78.7 76.2h.8M71.9 89.6h.8M75.9 82.1h.8M71.9 68.6h.8M75.9 77.9h.8M80.5 68.9h.8M72.6 55.3h.8M79.3 65.9h.8M70.2 95.6h.8M78.0 73.2h.8M72.6 78.8h.8M75.5 74.8h.8M76.7 93.6h.8M72.8 87.6h.8M74.6 56.1h.8M75.2 105.0h.8M78.1 44.8h.8M61.6 103.4h.8M73.1 61.3h.8M79.5 78.0h.8M73.8 55.4h.8M72.4 79.5h.8M70.9 74.9h.8M80.8 86.6h.8M72.3 86.0h.8M79.6 80.1h.8M69.8 103.0h.8M78.6 77.7h.8M70.5 58.3h.8M79.1 53.7h.8M77.9 50.6h.8M78.7 53.2h.8M67.2 98.7h.8M80.1 66.4h.8M77.3 49.4h.8M76.2 86.7h.8M72.4 67.9h.8M65.8 106.1h.8M71.3 55.9h.8M69.4 80.1h.8M77.3 69.1h.8M78.4 70.6h.8M72.9 61.0h.8M74.5 57.2h.8M77.0 72.8h.8M77.8 62.4h.8M72.6 103.1h.8M74.4 68.8h.8M65.9 102.5h.8M73.3 78.5h.8M74.7 50.2h.8M76.0 78.2h.8M75.6 72.8h.8M76.9 81.2h.8M74.9 82.4h.8M69.2 101.9h.8M79.2 85.3h.8M77.8 78.7h.8M75.4 75.9h.8M75.5 65.9h.8M79.2 74.6h.8M75.1 79.7h.8M74.7 85.6h.8M80.1 64.4h.8M69.4 109.2h.8M76.5 77.1h.8M71.8 102.1h.8M76.6 78.1h.8M67.5 106.6h.8M61.6 101.1h.8M71.5 77.7h.8M75.1 50.5h.8M76.9 75.4h.8M57.8 102.8h.8M67.9 103.9h.8M70.6 71.3h.8M73.0 107.8h.8M74.6 79.2h.8M62.7 103.5h.8M74.0 63.9h.8M70.9 70.3h.8M67.0 105.6h.8M70.6 104.5h.8M66.0 108.6h.8M73.6 103.3h.8M62.6 100.5h.8M57.4 104.6h.8M74.6 108.4h.8M70.2 76.3h.8M74.7 60.4h.8M69.4 106.8h.8M77.5 82.0h.8M78.3 75.4h.8M59.8 101.4h.8M77.9 70.9h.8M72.2 80.6h.8M60.2 99.7h.8M77.7 69.8h.8M73.2 79.5h.8M67.2 105.5h.8M72.6 71.6h.8M75.6 51.0h.8M75.0 81.2h.8M58.8 107.3h.8M79.7 61.2h.8M73.1 81.0h.8M72.6 109.7h.8M69.0 71.5h.8M75.2 76.7h.8M65.9 102.9h.8M73.0 103.8h.8M75.5 62.9h.8M55.0 105.4h.8M78.1 80.4h.8M64.6 106.4h.8M72.6 83.3h.8M55.5 106.7h.8M73.6 107.4h.8M75.1 65.9h.8M79.8 74.2h.8M76.2 82.5h.8M63.7 107.1h.8M80.2 105.5h.8M66.0 105.2h.8M69.3 107.6h.8M71.7 66.8h.8M71.5 66.6h.8M58.7 100.2h.8M63.5 104.7h.8M75.2 105.3h.8M69.2 82.7h.8M76.5 71.0h.8M56.1 99.7h.8M74.7 80.4h.8M71.8 72.3h.8M70.0 78.8h.8M71.9 101.1h.8M75.5 74.0h.8M74.9 86.4h.8M61.2 102.5h.8M76.8 83.8h.8M72.2 66.0h.8M72.0 54.6h.8M72.1 59.4h.8M75.6 86.4h.8M77.3 83.1h.8M102.5 93.3h.8M103.3 92.1h.8M97.1 92.5h.8M100.2 96.7h.8M104.8 95.0h.8M104.0 92.7h.8M102.0 93.3h.8M97.8 94.7h.8M102.4 90.2h.8M97.7 95.5h.8M100.9 92.9h.8M100.1 96.6h.8M95.9 94.1h.8M101.9 94.6h.8M99.0 96.6h.8M100.2 92.8h.8M98.5 94.3h.8M98.9 94.6h.8M99.8 91.2h.8M98.8 96.8h.8M102.6 95.4h.8M99.4 95.1h.8M96.2 93.2h.8M104.8 91.4h.8M104.0 94.6h.8M100.1 92.9h.8M99.1 94.6h.8M104.6 91.7h.8M101.1 94.8h.8M101.4 93.4h.8M102.5 94.5h.8M100.9 94.0h.8M101.5 96.3h.8M102.2 94.1h.8M100.0 89.9h.8M96.5 96.6h.8M101.1 93.1h.8M98.9 93.4h.8M101.0 91.9h.8M98.9 98.3h.8M97.6 95.1h.8M103.0 92.2h.8M99.9 93.8h.8M97.6 97.3h.8M102.2 94.6h.8M103.8 94.8h.8M103.7 94.0h.8M98.9 91.2h.8M94.9 94.6h.8M102.7 92.4h.8M105.5 92.5h.8M102.3 91.7h.8M100.9 95.4h.8M95.5 98.9h.8M96.6 94.2h.8M100.1 92.2h.8M99.3 97.3h.8M102.8 95.1h.8M99.5 93.3h.8M99.4 92.1h.8M73.9 85.9h.8M66.5 104.1h.8M69.9 104.8h.8M78.9 73.6h.8M80.5 77.2h.8M77.9 64.3h.8M103.8 97.0h.8M64.3 103.3h.8M66.1 109.6h.8" stroke="#34c25c"/>
<path d="M65.3 104.5h.8M64.4 105.4h.8M68.6 107.5h.8M66.9 104.8h.8M69.6 103.3h.8M62.1 105.9h.8M70.8 109.8h.8M68.9 102.7h.8M60.9 105.7h.8M68.0 103.2h.8M60.4 105.5h.8M64.2 108.0h.8M71.4 106.6h.8M71.5 101.8h.8M62.7 103.1h.8M58.3 106.0h.8M63.7 105.9h.8M73.4 105.8h.8M69.1 106.0h.8M62.8 106.0h.8M70.2 109.4h.8M61.0 103.1h.8M64.7 108.8h.8M55.6 108.7h.8M67.8 105.6h.8M68.3 104.0h.8M65.1 105.3h.8M68.5 108.6h.8M64.2 104.1h.8M69.4 104.3h.8M67.1 106.8h.8M64.1 103.6h.8M63.9 102.5h.8M69.1 101.7h.8M65.7 103.2h.8M65.7 102.1h.8M67.4 105.7h.8M68.3 105.7h.8M72.9 104.4h.8M64.5 106.9h.8M68.5 106.5h.8M67.5 107.1h.8M62.3 103.6h.8M68.9 106.9h.8M62.7 107.2h.8M65.7 108.0h.8M62.4 107.3h.8M65.7 108.8h.8M65.5 102.2h.8M62.6 103.4h.8M64.8 108.9h.8M74.8 107.0h.8M69.4 103.6h.8M63.0 102.0h.8M73.1 103.3h.8M62.9 104.5h.8M61.0 104.1h.8M64.7 108.4h.8M64.9 105.7h.8M56.8 104.1h.8M62.2 104.4h.8M62.0 109.4h.8M69.5 103.4h.8M65.5 109.0h.8M62.2 110.0h.8M65.8 111.6h.8M66.1 109.0h.8M62.8 102.6h.8M72.9 103.5h.8M65.1 105.1h.8M63.4 108.1h.8M61.4 110.0h.8M67.5 104.8h.8M66.4 105.1h.8M71.2 110.8h.8M61.8 109.7h.8M63.7 102.5h.8M67.6 108.1h.8M70.1 108.8h.8M63.5 105.9h.8M70.1 107.1h.8M61.8 103.5h.8M67.8 104.1h.8M63.8 106.7h.8M68.5 101.3h.8M63.0 102.3h.8M63.3 105.6h.8M65.7 107.6h.8M68.7 103.3h.8M64.1 103.8h.8M70.2 108.9h.8M66.5 102.1h.8M70.1 103.8h.8M64.7 109.9h.8M66.9 108.0h.8M66.2 100.2h.8M71.5 101.8h.8M66.3 108.8h.8M61.1 109.8h.8M58.0 104.9h.8M67.0 103.4h.8M68.6 102.8h.8M55.8 103.3h.8M63.9 104.6h.8M64.5 105.9h.8M64.6 102.9h.8M65.6 102.3h.8M53.9 106.3h.8M57.1 105.7h.8M67.9 109.1h.8M71.9 105.9h.8M63.7 109.2h.8M66.8 106.1h.8M68.2 101.9h.8M66.1 101.9h.8M72.0 101.3h.8M66.7 104.7h.8M65.9 105.2h.8M70.4 107.2h.8M64.6 110.5h.8M71.6 104.8h.8M65.5 110.0h.8M67.3 108.2h.8M64.3 102.8h.8M63.8 106.7h.8M67.7 102.1h.8M59.1 104.0h.8M70.0 103.7h.8M78.3 102.7h.8M67.0 106.8h.8M68.5 106.8h.8M71.6 107.3h.8M70.2 104.5h.8M62.0 102.1h.8M61.4 105.9h.8M69.0 107.5h.8M76.7 103.1h.8M72.0 103.6h.8M67.2 105.5h.8M75.2 101.9h.8M63.2 104.9h.8M67.2 106.5h.8M63.4 106.1h.8M67.3 102.2h.8M69.1 100.7h.8M64.3 109.1h.8M68.6 103.1h.8M64.8 104.8h.8M72.2 103.6h.8M70.5 102.5h.8M72.5 107.2h.8M67.7 109.6h.8M65.8 107.5h.8M61.4 107.5h.8M73.9 104.5h.8M64.1 109.0h.8M78.5 104.3h.8M72.0 106.8h.8M67.8 106.8h.8M66.7 103.4h.8M67.2 101.8h.8M73.3 78.7h.8M75.6 54.1h.8M77.3 53.6h.8M73.7 66.5h.8M78.4 78.7h.8M76.6 73.4h.8M74.7 73.0h.8M74.7 65.4h.8M76.8 56.9h.8M72.1 76.9h.8M76.5 57.5h.8M78.8 57.3h.8M73.0 86.5h.8M74.5 62.2h.8M76.8 74.2h.8M73.0 68.9h.8M74.1 63.0h.8M74.4 70.2h.8M74.7 81.3h.8M73.7 67.6h.8M79.4 55.3h.8M74.4 76.3h.8M74.3 68.5h.8M71.0 81.8h.8M77.5 70.2h.8M75.2 78.2h.8M78.4 68.6h.8M79.9 47.0h.8M77.9 59.1h.8M79.1 68.8h.8M76.6 58.7h.8M75.4 64.4h.8M75.0 72.3h.8M78.3 81.3h.8M76.4 80.0h.8M75.2 80.4h.8M72.9 62.9h.8M75.3 74.1h.8M73.6 71.9h.8M80.3 62.1h.8M76.7 66.8h.8M73.9 61.9h.8M78.6 50.6h.8M73.5 59.8h.8M77.7 67.8h.8M74.6 76.5h.8M74.4 71.6h.8M74.6 80.3h.8M76.9 80.5h.8M75.8 65.3h.8M76.8 71.7h.8M74.1 68.2h.8M74.5 75.6h.8M76.1 61.1h.8M76.5 70.2h.8M76.1 56.1h.8M76.0 57.6h.8M76.4 87.9h.8M75.6 57.8h.8M79.9 93.9h.8M76.8 56.2h.8M76.7 69.8h.8M75.9 63.0h.8M75.6 72.5h.8M75.4 59.1h.8M75.4 69.8h.8M71.9 68.1h.8M76.2 61.3h.8M79.6 68.9h.8M79.1 62.6h.8M76.2 65.1h.8M77.6 53.2h.8M73.2 66.1h.8M75.1 51.1h.8M77.5 65.2h.8M73.3 73.3h.8M76.9 71.5h.8M78.0 82.3h.8M73.4 75.2h.8M76.4 60.5h.8M79.7 71.0h.8M71.7 66.0h.8M75.0 48.7h.8M73.6 56.0h.8M76.2 49.3h.8M81.4 66.5h.8M71.0 84.9h.8M80.0 69.4h.8M75.0 66.4h.8M71.5 62.2h.8M80.7 69.7h.8M75.2 65.1h.8M76.6 57.0h.8M76.8 69.7h.8M73.2 65.7h.8M75.2 65.5h.8M78.7 57.9h.8M75.2 55.6h.8M75.2 56.2h.8M75.7 65.9h.8M76.3 50.1h.8M72.9 68.8h.8M71.8 66.5h.8M79.4 67.6h.8M75.7 59.4h.8M78.5 65.1h.8M73.7 75.9h.8M72.6 66.9h.8M75.6 73.8h.8M79.6 59.9h.8M77.1 64.5h.8M77.3 71.9h.8M77.3 74.6h.8M74.5 71.2h.8M73.7 54.2h.8M72.0 70.7h.8M76.8 54.9h.8M72.4 69.8h.8M78.6 70.9h.8M77.9 73.4h.8M76.0 78.5h.8M73.5 73.8h.8M75.3 54.5h.8M78.0 74.2h.8M73.9 69.9h.8M76.9 56.7h.8M75.2 54.3h.8M75.2 58.0h.8M73.1 72.2h.8M76.7 77.6h.8M75.1 77.2h.8M78.3 51.7h.8M69.5 81.0h.8M75.0 76.5h.8M72.2 67.1h.8M74.4 57.6h.8M75.6 79.5h.8M75.6 59.1h.8M77.5 56.4h.8M75.1 81.3h.8M72.2 83.7h.8M75.1 74.8h.8M74.8 68.3h.8M73.4 81.6h.8M77.3 60.4h.8M77.9 49.5h.8M73.8 84.4h.8M76.3 70.3h.8M73.1 82.1h.8M76.8 60.2h.8M78.4 56.4h.8M74.3 79.0h.8M78.2 67.0h.8M79.9 61.3h.8M75.4 57.9h.8M76.2 70.9h.8M71.5 77.8h.8M75.7 62.4h.8M74.5 65.8h.8M74.1 72.9h.8M76.4 58.0h.8M75.2 70.9h.8M73.3 89.3h.8M78.0 49.3h.8M71.3 66.8h.8M77.6 57.1h.8M72.9 67.8h.8M76.4 72.2h.8M74.6 86.3h.8M78.1 78.5h.8M76.0 79.0h.8M73.2 61.6h.8M75.1 73.2h.8M74.8 77.1h.8M72.3 71.9h.8M74.5 67.2h.8M75.2 71.3h.8M73.7 82.3h.8M76.0 68.0h.8M76.3 60.3h.8M77.3 67.0h.8M76.9 74.8h.8M72.7 61.0h.8M75.3 63.8h.8M76.1 44.4h.8M76.2 64.4h.8M68.3 103.0h.8M73.2 65.1h.8M73.3 84.4h.8M74.9 61.3h.8M72.1 62.0h.8M78.6 67.7h.8M79.3 49.7h.8M73.0 88.2h.8M73.7 53.6h.8M74.1 74.7h.8M71.8 76.9h.8M68.0 100.6h.8M74.5 77.4h.8M75.5 70.8h.8M78.6 65.5h.8M69.8 104.2h.8M76.6 56.8h.8M79.8 67.3h.8M71.6 97.2h.8M74.3 85.1h.8M74.8 83.5h.8M74.3 59.1h.8M74.6 85.3h.8M72.4 79.7h.8M75.1 67.0h.8M70.9 88.8h.8M68.3 105.8h.8M76.4 49.4h.8M74.5 72.9h.8M76.2 51.9h.8M77.2 50.5h.8M70.8 107.6h.8M76.1 59.1h.8M76.7 66.7h.8M77.9 45.5h.8M71.4 108.1h.8M77.3 70.0h.8M75.9 64.8h.8M74.6 71.8h.8M74.1 90.7h.8M71.0 65.7h.8M75.5 56.6h.8M74.3 77.2h.8M76.1 83.1h.8M73.5 64.6h.8M70.4 105.6h.8M72.9 50.1h.8M74.2 56.3h.8M72.1 76.3h.8M74.3 68.0h.8M70.5 89.8h.8M64.5 103.6h.8M77.6 51.5h.8M71.0 105.3h.8M72.4 88.8h.8M75.7 79.1h.8M78.8 63.0h.8M77.9 106.3h.8M77.0 81.6h.8M80.0 65.2h.8M77.6 68.2h.8M75.3 65.1h.8M69.2 104.5h.8M77.5 75.2h.8M71.8 108.7h.8M77.6 70.4h.8M71.8 104.3h.8M77.8 75.1h.8M72.4 75.2h.8M74.6 75.8h.8M74.0 74.5h.8M70.4 102.5h.8M77.8 52.8h.8M74.5 72.9h.8M75.6 56.3h.8M72.8 53.5h.8M75.2 87.0h.8M76.7 67.6h.8M76.6 58.3h.8M73.7 66.2h.8M77.5 73.2h.8M79.7 59.8h.8M75.9 73.5h.8M74.9 74.4h.8M73.8 64.2h.8M72.1 74.9h.8M75.2 68.6h.8M68.2 107.0h.8M64.4 107.4h.8M63.0 108.8h.8M69.6 104.9h.8M59.2 104.2h.8M58.7 107.1h.8M68.1 105.5h.8M70.5 86.0h.8M74.1 52.7h.8M74.7 66.0h.8M70.3 74.5h.8M74.3 69.5h.8M77.0 65.0h.8M66.6 102.7h.8M73.7 103.8h.8M69.0 101.3h.8M66.9 107.4h.8M78.0 74.7h.8M74.4 79.9h.8M74.3 74.5h.8M75.8 74.1h.8M73.0 79.5h.8M73.8 79.8h.8M74.9 78.5h.8M61.2 108.9h.8M73.0 72.1h.8M68.4 108.4h.8M62.5 107.3h.8M55.6 105.9h.8M71.3 86.8h.8M65.5 109.0h.8M75.2 56.2h.8M72.5 71.5h.8M75.8 83.0h.8M100.5 93.5h.8M100.6 94.1h.8M102.0 91.7h.8M101.3 93.8h.8M101.7 94.4h.8M100.7 94.5h.8M101.5 94.3h.8M102.4 94.4h.8M100.0 94.4h.8M102.4 95.0h.8M101.8 95.2h.8M94.0 96.4h.8M104.4 94.1h.8M100.0 94.4h.8M102.9 92.7h.8M102.3 92.4h.8M102.9 92.5h.8M99.9 92.6h.8M98.6 94.5h.8M103.5 95.4h.8M101.7 92.6h.8M66.6 104.9h.8M76.7 82.2h.8M76.7 70.4h.8M60.5 102.9h.8M74.4 57.1h.8M68.7 102.3h.8M102.4 91.0h.8M103.5 92.1h.8" stroke="#7ccf3a"/>
<path d="M70.7 105.0h.8M71.6 105.9h.8M70.1 104.9h.8M62.9 111.1h.8M68.2 106.3h.8M68.1 105.4h.8M70.0 101.4h.8M61.3 103.7h.8M69.0 104.4h.8M63.6 106.5h.8M71.5 106.2h.8M70.2 103.9h.8M69.0 106.3h.8M63.0 102.7h.8M68.2 105.7h.8M69.4 106.1h.8M64.6 107.0h.8M63.8 105.6h.8M66.7 104.9h.8M63.6 102.1h.8M61.9 105.7h.8M66.8 103.9h.8M63.5 107.2h.8M69.1 102.8h.8M65.2 107.6h.8M68.9 102.4h.8M68.3 103.5h.8M61.9 105.7h.8M69.4 108.2h.8M70.0 106.9h.8M60.5 103.3h.8M62.6 106.5h.8M67.8 103.3h.8M68.9 106.4h.8M66.7 106.6h.8M71.7 105.2h.8M70.7 109.8h.8M68.7 107.8h.8M63.4 104.3h.8M66.7 105.1h.8M67.7 107.3h.8M64.3 105.5h.8M62.5 104.1h.8M73.6 104.0h.8M72.9 104.0h.8M65.4 102.8h.8M70.4 101.2h.8M66.0 105.6h.8M71.0 107.7h.8M70.4 100.7h.8M69.8 102.3h.8M68.2 104.7h.8M68.2 104.8h.8M71.2 106.7h.8M70.1 109.4h.8M62.7 108.5h.8M65.8 103.7h.8M72.4 98.0h.8M62.4 104.4h.8M73.7 86.1h.8M75.8 79.6h.8M75.0 63.4h.8M75.8 79.7h.8M74.1 78.6h.8M76.9 66.9h.8M78.2 66.0h.8M74.2 76.7h.8M73.8 66.3h.8M76.2 59.7h.8M76.2 63.2h.8M72.6 74.4h.8M77.8 75.4h.8M73.4 66.4h.8M74.6 77.6h.8M79.9 60.8h.8M75.2 66.7h.8M75.3 70.8h.8M72.3 75.4h.8M77.7 70.9h.8M75.5 55.6h.8M76.3 62.1h.8M76.7 56.8h.8M76.5 56.3h.8M79.2 56.6h.8M74.9 71.2h.8M73.7 68.7h.8M75.6 79.3h.8M74.1 71.6h.8M74.8 55.5h.8M76.6 68.2h.8M73.4 49.7h.8M76.2 78.0h.8M74.9 57.1h.8M74.6 85.9h.8M77.4 51.6h.8M74.7 80.8h.8M75.3 59.9h.8M78.4 72.9h.8M75.9 77.3h.8M76.5 54.2h.8M76.1 59.2h.8M77.0 74.5h.8M75.4 61.5h.8M74.9 71.8h.8M76.0 61.2h.8M78.0 55.5h.8M74.7 68.3h.8M72.5 74.7h.8M78.4 60.7h.8M77.7 55.1h.8M76.7 68.7h.8M74.7 76.6h.8M77.5 67.2h.8M68.1 101.0h.8M72.5 78.5h.8M75.1 73.3h.8M73.6 67.5h.8M78.1 79.4h.8M79.0 59.2h.8M72.2 78.5h.8M75.4 61.6h.8M73.6 86.8h.8M76.1 69.3h.8M75.5 56.8h.8M75.7 77.0h.8M67.9 105.1h.8M72.5 71.8h.8M75.1 99.9h.8M65.8 101.1h.8M73.9 60.2h.8M75.3 63.9h.8M72.9 105.6h.8M72.0 72.7h.8M74.3 57.9h.8M66.1 105.4h.8M71.8 87.9h.8M73.1 76.1h.8M68.2 102.8h.8M74.8 108.2h.8M74.3 101.6h.8M63.2 105.3h.8M63.7 100.2h.8M72.3 65.0h.8M74.9 77.1h.8M68.5 104.7h.8M72.4 62.4h.8M67.5 103.6h.8M63.3 103.8h.8M66.4 102.8h.8M77.2 75.4h.8M65.5 102.7h.8M71.7 103.6h.8M103.4 95.2h.8M99.9 94.1h.8M98.1 95.3h.8M100.8 96.5h.8M100.0 94.5h.8M72.8 106.0h.8M71.6 111.0h.8M64.5 105.0h.8" stroke="#cfdc30"/>
<path d="M64.7 107.0h.8M69.3 102.3h.8M69.9 106.2h.8M67.3 104.2h.8M63.5 109.7h.8M61.7 104.8h.8M66.2 108.0h.8M73.2 61.8h.8M77.2 61.8h.8M76.3 67.1h.8M73.0 63.9h.8M75.8 73.8h.8M75.5 75.5h.8M102.1 95.0h.8M62.2 108.4h.8" stroke="#f2b428"/>
</g>
<path d="M52.5 26.2H142V113.25" fill="none" stroke="#9c9c9c" stroke-width="0.8"/>
<path d="M52.5 25.8V113.25H142.3" fill="none" stroke="#777" stroke-width="1"/>
<line x1="49.9" y1="113.25" x2="52.5" y2="113.25" stroke="#555" stroke-width="0.9"/>
<text transform="translate(47.4,116.15) scale(1.03,1)" font-size="8.2" text-anchor="end" fill="#222">0</text>
<line x1="51.2" y1="108.9" x2="52.5" y2="108.9" stroke="#777" stroke-width="0.5"/>
<line x1="51.2" y1="104.55" x2="52.5" y2="104.55" stroke="#777" stroke-width="0.5"/>
<line x1="51.2" y1="100.2" x2="52.5" y2="100.2" stroke="#777" stroke-width="0.5"/>
<line x1="49.9" y1="95.85" x2="52.5" y2="95.85" stroke="#555" stroke-width="0.9"/>
<text transform="translate(47.4,98.75) scale(1.03,1)" font-size="8.2" text-anchor="end" fill="#222">200</text>
<line x1="51.2" y1="91.5" x2="52.5" y2="91.5" stroke="#777" stroke-width="0.5"/>
<line x1="51.2" y1="87.15" x2="52.5" y2="87.15" stroke="#777" stroke-width="0.5"/>
<line x1="51.2" y1="82.8" x2="52.5" y2="82.8" stroke="#777" stroke-width="0.5"/>
<line x1="49.9" y1="78.45" x2="52.5" y2="78.45" stroke="#555" stroke-width="0.9"/>
<text transform="translate(47.4,81.35) scale(1.03,1)" font-size="8.2" text-anchor="end" fill="#222">400</text>
<line x1="51.2" y1="74.1" x2="52.5" y2="74.1" stroke="#777" stroke-width="0.5"/>
<line x1="51.2" y1="69.75" x2="52.5" y2="69.75" stroke="#777" stroke-width="0.5"/>
<line x1="51.2" y1="65.4" x2="52.5" y2="65.4" stroke="#777" stroke-width="0.5"/>
<line x1="49.9" y1="61.05" x2="52.5" y2="61.05" stroke="#555" stroke-width="0.9"/>
<text transform="translate(47.4,63.95) scale(1.03,1)" font-size="8.2" text-anchor="end" fill="#222">600</text>
<line x1="51.2" y1="56.7" x2="52.5" y2="56.7" stroke="#777" stroke-width="0.5"/>
<line x1="51.2" y1="52.35" x2="52.5" y2="52.35" stroke="#777" stroke-width="0.5"/>
<line x1="51.2" y1="48" x2="52.5" y2="48" stroke="#777" stroke-width="0.5"/>
<line x1="49.9" y1="43.65" x2="52.5" y2="43.65" stroke="#555" stroke-width="0.9"/>
<text transform="translate(47.4,46.55) scale(1.03,1)" font-size="8.2" text-anchor="end" fill="#222">800</text>
<line x1="51.2" y1="39.3" x2="52.5" y2="39.3" stroke="#777" stroke-width="0.5"/>
<line x1="51.2" y1="34.95" x2="52.5" y2="34.95" stroke="#777" stroke-width="0.5"/>
<line x1="51.2" y1="30.6" x2="52.5" y2="30.6" stroke="#777" stroke-width="0.5"/>
<line x1="49.9" y1="26.25" x2="52.5" y2="26.25" stroke="#555" stroke-width="0.9"/>
<text transform="translate(47.4,29.15) scale(1.03,1)" font-size="8.2" text-anchor="end" fill="#222">1.0k</text>
<line x1="52.6" y1="113.25" x2="52.6" y2="115.85" stroke="#555" stroke-width="0.9"/>
<text transform="translate(52.8,126.5) scale(0.88,1)" font-size="8.3" text-anchor="middle" fill="#222">10<tspan dy="-2.9" font-size="6.4">0</tspan></text>
<line x1="59.25" y1="113.25" x2="59.25" y2="114.55" stroke="#777" stroke-width="0.45"/>
<line x1="63.14" y1="113.25" x2="63.14" y2="114.55" stroke="#777" stroke-width="0.45"/>
<line x1="65.91" y1="113.25" x2="65.91" y2="114.55" stroke="#777" stroke-width="0.45"/>
<line x1="68.05" y1="113.25" x2="68.05" y2="114.55" stroke="#777" stroke-width="0.45"/>
<line x1="69.8" y1="113.25" x2="69.8" y2="114.55" stroke="#777" stroke-width="0.45"/>
<line x1="71.28" y1="113.25" x2="71.28" y2="114.55" stroke="#777" stroke-width="0.45"/>
<line x1="72.56" y1="113.25" x2="72.56" y2="114.55" stroke="#777" stroke-width="0.45"/>
<line x1="73.69" y1="113.25" x2="73.69" y2="114.55" stroke="#777" stroke-width="0.45"/>
<line x1="74.7" y1="113.25" x2="74.7" y2="115.85" stroke="#555" stroke-width="0.9"/>
<text transform="translate(74.9,126.5) scale(0.88,1)" font-size="8.3" text-anchor="middle" fill="#222">10<tspan dy="-2.9" font-size="6.4">1</tspan></text>
<line x1="81.35" y1="113.25" x2="81.35" y2="114.55" stroke="#777" stroke-width="0.45"/>
<line x1="85.24" y1="113.25" x2="85.24" y2="114.55" stroke="#777" stroke-width="0.45"/>
<line x1="88.01" y1="113.25" x2="88.01" y2="114.55" stroke="#777" stroke-width="0.45"/>
<line x1="90.15" y1="113.25" x2="90.15" y2="114.55" stroke="#777" stroke-width="0.45"/>
<line x1="91.9" y1="113.25" x2="91.9" y2="114.55" stroke="#777" stroke-width="0.45"/>
<line x1="93.38" y1="113.25" x2="93.38" y2="114.55" stroke="#777" stroke-width="0.45"/>
<line x1="94.66" y1="113.25" x2="94.66" y2="114.55" stroke="#777" stroke-width="0.45"/>
<line x1="95.79" y1="113.25" x2="95.79" y2="114.55" stroke="#777" stroke-width="0.45"/>
<line x1="96.8" y1="113.25" x2="96.8" y2="115.85" stroke="#555" stroke-width="0.9"/>
<text transform="translate(97,126.5) scale(0.88,1)" font-size="8.3" text-anchor="middle" fill="#222">10<tspan dy="-2.9" font-size="6.4">2</tspan></text>
<line x1="103.45" y1="113.25" x2="103.45" y2="114.55" stroke="#777" stroke-width="0.45"/>
<line x1="107.34" y1="113.25" x2="107.34" y2="114.55" stroke="#777" stroke-width="0.45"/>
<line x1="110.11" y1="113.25" x2="110.11" y2="114.55" stroke="#777" stroke-width="0.45"/>
<line x1="112.25" y1="113.25" x2="112.25" y2="114.55" stroke="#777" stroke-width="0.45"/>
<line x1="114" y1="113.25" x2="114" y2="114.55" stroke="#777" stroke-width="0.45"/>
<line x1="115.48" y1="113.25" x2="115.48" y2="114.55" stroke="#777" stroke-width="0.45"/>
<line x1="116.76" y1="113.25" x2="116.76" y2="114.55" stroke="#777" stroke-width="0.45"/>
<line x1="117.89" y1="113.25" x2="117.89" y2="114.55" stroke="#777" stroke-width="0.45"/>
<line x1="118.9" y1="113.25" x2="118.9" y2="115.85" stroke="#555" stroke-width="0.9"/>
<text transform="translate(119.1,126.5) scale(0.88,1)" font-size="8.3" text-anchor="middle" fill="#222">10<tspan dy="-2.9" font-size="6.4">3</tspan></text>
<line x1="125.55" y1="113.25" x2="125.55" y2="114.55" stroke="#777" stroke-width="0.45"/>
<line x1="129.44" y1="113.25" x2="129.44" y2="114.55" stroke="#777" stroke-width="0.45"/>
<line x1="132.21" y1="113.25" x2="132.21" y2="114.55" stroke="#777" stroke-width="0.45"/>
<line x1="134.35" y1="113.25" x2="134.35" y2="114.55" stroke="#777" stroke-width="0.45"/>
<line x1="136.1" y1="113.25" x2="136.1" y2="114.55" stroke="#777" stroke-width="0.45"/>
<line x1="137.58" y1="113.25" x2="137.58" y2="114.55" stroke="#777" stroke-width="0.45"/>
<line x1="138.86" y1="113.25" x2="138.86" y2="114.55" stroke="#777" stroke-width="0.45"/>
<line x1="139.99" y1="113.25" x2="139.99" y2="114.55" stroke="#777" stroke-width="0.45"/>
<line x1="141" y1="113.25" x2="141" y2="115.85" stroke="#555" stroke-width="0.9"/>
<text transform="translate(141.2,126.5) scale(0.88,1)" font-size="8.3" text-anchor="middle" fill="#222">10<tspan dy="-2.9" font-size="6.4">4</tspan></text>
<text transform="translate(28,109.2) rotate(-90) scale(0.69,1)" font-size="10" fill="#222">SSC-H</text>
<line x1="24.4" y1="84.4" x2="24.4" y2="34" stroke="#111" stroke-width="1"/>
<path d="M24.4 29L27 35L24.4 33.8L21.8 35Z" fill="#111"/>
<text transform="translate(53.8,140) scale(0.745,1)" font-size="10" fill="#222">CD14</text>
<line x1="77" y1="136.9" x2="137.3" y2="136.9" stroke="#111" stroke-width="1.1"/>
<path d="M142.3 136.9L136.3 139.5L137.5 136.9L136.3 134.3Z" fill="#111"/>
<ellipse cx="101.7" cy="94.6" rx="15.3" ry="12" transform="rotate(-12 101.7 94.6)" fill="none" stroke="#a51e3c" stroke-width="1.3"/>
<line x1="116.8" y1="93.6" x2="149.4" y2="93.32" stroke="#a51e3c" stroke-width="0.9"/>
<path d="M152 93.3L148.41 94.83L149.6 93.32L148.39 91.83Z" fill="#a51e3c"/>
<text transform="translate(117,79.6)" font-size="7.9" fill="#222">CD14+</text>
<text transform="translate(117,88.4)" font-size="7.9" fill="#222">14 %</text>
<path d="M238.9 113.5L238.5 113.1L238.2 112.7L237.8 112.1L237.5 111.5L237.2 111.1L237.0 110.7L236.6 110.2L236.2 109.5L236.0 109.1L235.8 108.7L235.4 107.9L235.2 107.5L235.0 106.8L234.8 106.3L234.6 105.5L234.5 105.1L234.4 104.3L234.3 103.5L234.3 102.7L234.2 101.9L234.2 101.5L234.0 100.7L233.8 99.9L233.7 99.5L233.5 98.7L233.3 98.3L233.0 97.5L232.8 97.1L232.6 96.7L232.2 96.1L231.9 95.5L231.7 95.1L231.4 94.5L231.1 93.9L230.9 93.5L230.6 92.9L230.2 92.3L230.0 91.9L229.7 91.5L229.4 90.8L229.2 90.3L229.1 89.5L229.0 88.7L229.0 87.9L229.0 87.1L229.0 86.7L228.9 85.9L228.8 85.1L228.7 84.3L228.6 83.5L228.6 82.7L228.7 81.9L228.9 81.1L229.0 80.7L229.3 79.9L229.4 79.5L229.7 78.7L229.8 78.3L230.1 77.5L230.3 77.1L230.5 76.3L230.7 75.9L231.0 75.2L231.2 74.7L231.4 74.3L231.8 73.7L232.1 73.1L232.3 72.7L232.6 72.1L232.9 71.5L233.0 71.1L233.2 70.3L233.4 69.5L233.4 69.1L233.5 68.3L233.5 67.5L233.4 66.7L233.4 66.0L233.3 65.5L233.2 64.7L233.1 63.9L233.0 63.4L232.8 62.7L232.7 61.9L232.6 61.4L232.4 60.7L232.2 59.9L232.1 59.5L231.8 58.7L231.7 58.3L231.5 57.5L231.4 57.1L231.2 56.3L231.1 55.5L231.1 54.7L231.1 53.9L231.1 53.1L231.2 52.3L231.2 51.5L231.3 50.7L231.4 49.9L231.5 49.5L231.7 48.7L231.8 48.3L232.1 47.5L232.2 47.1L232.6 46.3L232.8 45.9L233.1 45.5L233.4 44.9L233.8 44.3L234.0 43.9L234.4 43.5L234.7 43.1L235.2 42.7L235.8 42.3L236.2 42.1L237.0 41.9L237.4 41.8L238.2 41.7L239.0 41.7L239.8 41.7L240.6 41.8L241.0 42.0L241.8 42.3L242.2 42.5L242.6 42.7L243.1 43.1L243.6 43.5L244.0 43.9L244.4 44.3L244.8 44.7L245.1 45.1L245.5 45.5L245.8 46.0L246.2 46.6L246.5 47.1L246.7 47.5L246.9 48.3L247.0 48.7L247.2 49.5L247.3 50.3L247.4 51.1L247.4 51.5L247.5 52.3L247.6 53.1L247.7 53.9L247.7 54.7L247.7 55.5L247.7 56.3L247.8 57.1L247.7 57.9L247.6 58.7L247.5 59.5L247.4 60.2L247.4 60.7L247.3 61.5L247.2 62.3L247.1 63.1L247.1 63.9L247.0 64.7L247.1 65.5L247.1 66.3L247.2 67.1L247.3 67.9L247.4 68.3L247.7 69.1L247.9 69.5L248.2 70.1L248.6 70.7L248.9 71.1L249.2 71.5L249.5 71.9L249.8 72.4L250.2 73.1L250.4 73.5L250.7 73.9L251.0 74.5L251.3 75.1L251.5 75.5L251.8 76.2L252.0 76.7L252.2 77.4L252.4 77.9L252.6 78.4L252.9 79.1L253.1 79.5L253.4 80.2L253.6 80.7L253.8 81.3L254.0 81.9L254.1 82.7L254.2 83.5L254.2 84.0L254.2 84.7L254.2 85.5L254.2 85.9L254.2 86.7L254.2 87.5L254.1 88.3L253.8 89.1L253.7 89.5L253.4 90.2L253.2 90.7L253.0 91.2L252.8 91.9L252.6 92.3L252.3 93.1L252.1 93.5L251.8 94.0L251.4 94.6L251.0 95.0L250.6 95.5L250.2 95.9L249.8 96.3L249.6 96.7L249.3 97.1L249.0 97.9L248.9 98.3L248.7 99.1L248.6 99.5L248.4 100.3L248.2 100.9L248.1 101.5L247.9 102.3L247.8 102.7L247.6 103.5L247.4 104.3L247.3 104.7L247.1 105.5L247.0 105.9L246.7 106.7L246.6 107.2L246.4 107.9L246.2 108.5L246.0 109.1L245.8 109.6L245.5 110.3L245.3 110.7L245.0 111.2L244.6 111.8L244.2 112.3L243.9 112.7L243.6 113.1L243.1 113.5M237.5 43.5L238.2 43.3L239.0 43.3L239.8 43.3L240.6 43.4L241.0 43.6L241.6 43.9L242.2 44.3L242.6 44.6L243.0 45.0L243.4 45.3L243.8 45.8L244.2 46.3L244.5 46.7L244.8 47.1L245.0 47.5L245.3 48.3L245.5 48.7L245.7 49.5L245.8 50.1L245.9 50.7L246.1 51.5L246.2 51.9L246.4 52.7L246.5 53.5L246.5 54.3L246.6 55.1L246.6 55.9L246.6 56.3L246.6 57.1L246.6 57.5L246.5 58.3L246.4 59.1L246.3 59.9L246.3 60.7L246.2 61.5L246.2 61.9L246.1 62.7L246.0 63.5L245.9 64.3L245.8 64.8L245.7 65.5L245.7 66.3L245.7 67.1L245.7 67.9L245.8 68.6L245.9 69.1L246.2 69.9L246.3 70.3L246.6 70.9L247.0 71.5L247.3 71.9L247.6 72.3L248.0 72.7L248.3 73.1L248.6 73.5L249.0 74.0L249.4 74.7L249.7 75.1L249.9 75.5L250.2 76.1L250.5 76.7L250.6 77.1L250.9 77.9L251.0 78.3L251.3 79.1L251.5 79.5L251.8 80.3L252.0 80.7L252.2 81.5L252.3 81.9L252.4 82.7L252.5 83.5L252.5 84.3L252.5 85.1L252.5 85.9L252.5 86.7L252.4 87.5L252.2 88.3L252.1 88.7L251.8 89.5L251.6 89.9L251.4 90.6L251.2 91.1L251.0 91.8L250.8 92.3L250.6 92.7L250.2 93.3L249.8 93.7L249.4 94.1L249.0 94.6L248.6 95.1L248.4 95.5L248.2 95.9L247.8 96.7L247.7 97.1L247.5 97.9L247.4 98.3L247.2 99.1L247.1 99.9L247.0 100.3L246.8 101.1L246.7 101.9L246.6 102.7L246.5 103.1L246.4 103.9L246.2 104.5L246.0 105.1L245.8 105.7L245.6 106.3L245.4 106.7L245.1 107.5L244.9 107.9L244.6 108.6L244.3 109.1L244.1 109.5L243.8 110.1L243.4 110.6L243.0 111.0L242.6 111.2L241.9 111.5L241.4 111.6L240.6 111.5L240.2 111.4L239.4 111.1L239.0 110.8L238.6 110.5L238.2 110.0L237.8 109.5L237.6 109.1L237.3 108.7L237.0 108.0L236.7 107.5L236.5 107.1L236.2 106.5L236.0 105.9L235.8 105.4L235.6 104.7L235.5 103.9L235.5 103.1L235.4 102.3L235.3 101.9L235.2 101.1L235.1 100.3L235.0 99.8L234.9 99.1L234.7 98.3L234.6 97.5L234.6 97.1L234.4 96.3L234.2 95.6L233.9 95.1L233.7 94.7L233.4 94.2L233.1 93.5L232.9 93.1L232.6 92.4L232.3 91.9L232.1 91.5L231.8 91.0L231.5 90.3L231.3 89.9L231.1 89.1L231.0 88.7L230.8 87.9L230.7 87.1L230.6 86.7L230.4 85.9L230.3 85.1L230.2 84.6L230.1 83.9L230.1 83.1L230.2 82.6L230.3 81.9L230.6 81.1L230.7 80.7L231.0 80.2L231.4 79.5L231.6 79.1L231.8 78.6L232.1 77.9L232.2 77.5L232.4 76.7L232.6 76.2L232.9 75.5L233.0 75.1L233.4 74.4L233.6 73.9L233.8 73.5L234.2 72.8L234.4 72.3L234.6 71.9L235.0 71.1L235.1 70.7L235.2 69.9L235.2 69.1L235.1 68.3L235.0 67.7L234.9 67.1L234.7 66.3L234.6 65.5L234.5 65.1L234.4 64.3L234.3 63.5L234.2 62.8L234.1 62.3L234.0 61.5L233.8 60.7L233.7 60.3L233.4 59.5L233.3 59.1L233.0 58.4L232.8 57.9L232.6 57.3L232.4 56.7L232.3 55.9L232.2 55.1L232.2 54.7L232.2 53.9L232.2 53.2L232.2 52.7L232.3 51.9L232.3 51.1L232.5 50.3L232.6 49.8L232.8 49.1L233.0 48.5L233.2 47.9L233.4 47.5L233.8 46.8L234.1 46.3L234.4 45.9L234.7 45.5L235.0 45.1L235.4 44.7L235.8 44.3L236.5 43.9L237.0 43.7L237.5 43.5ZM239.2 44.3L239.6 44.3L240.2 44.4L241.0 44.7L241.4 44.9L241.8 45.2L242.2 45.6L242.6 46.0L243.0 46.4L243.4 46.9L243.8 47.5L244.1 47.9L244.2 48.3L244.6 49.1L244.7 49.5L245.0 50.3L245.1 50.7L245.3 51.5L245.4 51.9L245.6 52.7L245.7 53.5L245.8 54.3L245.8 54.7L245.9 55.5L245.9 56.3L245.9 57.1L245.8 57.8L245.8 58.3L245.7 59.1L245.6 59.9L245.6 60.7L245.5 61.5L245.4 62.3L245.4 62.7L245.2 63.5L245.1 64.3L245.0 64.8L244.9 65.5L244.8 66.3L244.8 67.1L244.8 67.9L244.8 68.7L245.0 69.5L245.0 69.9L245.2 70.7L245.4 71.2L245.8 71.9L246.1 72.3L246.5 72.7L246.9 73.1L247.3 73.5L247.7 73.9L248.0 74.3L248.3 74.7L248.6 75.2L249.0 75.9L249.2 76.3L249.4 76.7L249.7 77.5L249.9 77.9L250.2 78.7L250.3 79.1L250.6 79.9L250.8 80.3L251.0 81.0L251.1 81.5L251.3 82.3L251.4 83.1L251.4 83.5L251.5 84.3L251.5 85.1L251.5 85.9L251.5 86.7L251.4 87.1L251.2 87.9L251.0 88.5L250.7 89.1L250.6 89.5L250.3 90.3L250.2 90.7L249.8 91.5L249.6 91.9L249.3 92.3L249.0 92.7L248.6 93.1L248.2 93.6L247.8 94.3L247.6 94.7L247.4 95.3L247.2 95.9L247.0 96.4L246.8 97.1L246.6 97.8L246.5 98.3L246.3 99.1L246.2 99.7L246.1 100.3L245.9 101.1L245.8 101.8L245.7 102.3L245.6 103.1L245.5 103.9L245.4 104.3L245.1 105.1L245.0 105.5L244.6 106.3L244.4 106.7L244.2 107.1L243.8 107.7L243.4 108.3L243.1 108.7L242.8 109.1L242.3 109.5L241.8 109.8L241.4 109.9L240.6 110.0L240.2 109.9L239.4 109.6L239.0 109.2L238.6 108.8L238.3 108.3L238.1 107.9L237.8 107.4L237.4 106.7L237.2 106.3L236.9 105.9L236.6 105.1L236.5 104.7L236.4 103.9L236.3 103.1L236.2 102.3L236.1 101.9L236.0 101.1L235.9 100.3L235.8 99.8L235.7 99.1L235.7 98.3L235.7 97.5L235.7 96.7L235.7 95.9L235.5 95.1L235.3 94.7L235.0 94.2L234.6 93.6L234.3 93.1L234.1 92.7L233.8 92.1L233.5 91.5L233.3 91.1L233.0 90.5L232.7 89.9L232.6 89.5L232.3 88.7L232.1 88.3L231.9 87.5L231.8 87.1L231.6 86.3L231.4 85.5L231.3 85.1L231.2 84.3L231.2 83.5L231.3 82.7L231.4 82.2L231.6 81.5L231.8 81.1L232.2 80.4L232.5 79.9L232.8 79.5L233.1 79.1L233.4 78.6L233.7 77.9L233.9 77.5L234.0 76.7L234.2 75.9L234.3 75.5L234.6 74.8L234.8 74.3L235.0 73.9L235.4 73.3L235.8 72.7L236.1 72.3L236.3 71.9L236.6 71.2L236.7 70.7L236.7 69.9L236.6 69.5L236.3 68.7L236.2 68.3L235.9 67.5L235.8 67.0L235.6 66.3L235.4 65.5L235.3 65.1L235.2 64.3L235.0 63.5L235.0 63.1L234.9 62.3L234.8 61.5L234.6 60.7L234.5 60.3L234.3 59.5L234.1 59.1L233.8 58.4L233.6 57.9L233.4 57.3L233.2 56.7L233.0 55.9L233.0 55.5L232.9 54.7L232.9 53.9L232.9 53.1L233.0 52.3L233.0 51.9L233.1 51.1L233.3 50.3L233.5 49.9L233.8 49.1L233.9 48.7L234.2 48.1L234.5 47.5L234.8 47.1L235.1 46.7L235.5 46.3L235.8 45.9L236.3 45.5L236.8 45.1L237.4 44.8L237.8 44.6L238.6 44.4L239.2 44.3ZM238.6 45.5L239.0 45.4L239.8 45.3L240.4 45.5L241.0 45.8L241.4 46.1L241.8 46.4L242.2 46.8L242.6 47.2L243.0 47.8L243.3 48.3L243.6 48.7L243.8 49.3L244.1 49.9L244.2 50.3L244.5 51.1L244.7 51.5L244.9 52.3L245.0 52.9L245.1 53.5L245.2 54.3L245.2 55.1L245.3 55.9L245.2 56.7L245.2 57.5L245.1 58.3L245.0 59.1L245.0 59.5L245.0 60.3L244.9 61.1L244.9 61.9L244.7 62.7L244.6 63.3L244.5 63.9L244.3 64.7L244.2 65.4L244.1 65.9L244.1 66.7L244.1 67.5L244.1 68.3L244.1 69.1L244.1 69.9L244.2 70.7L244.3 71.1L244.5 71.9L244.7 72.3L245.0 72.7L245.4 73.1L245.9 73.5L246.3 73.9L246.8 74.3L247.1 74.7L247.4 75.1L247.8 75.7L248.2 76.3L248.4 76.7L248.6 77.2L248.9 77.9L249.0 78.3L249.4 79.1L249.5 79.5L249.8 80.2L250.0 80.7L250.2 81.3L250.3 81.9L250.5 82.7L250.6 83.5L250.6 84.2L250.6 84.7L250.6 85.5L250.6 86.1L250.5 86.7L250.3 87.5L250.2 87.9L249.8 88.7L249.6 89.1L249.4 89.7L249.1 90.3L249.0 90.7L248.6 91.3L248.2 91.9L247.9 92.3L247.6 92.7L247.4 93.1L247.0 93.9L246.9 94.3L246.6 95.1L246.5 95.5L246.2 96.3L246.1 96.7L245.9 97.5L245.8 97.9L245.6 98.7L245.5 99.5L245.4 99.9L245.2 100.7L245.0 101.4L244.9 101.9L244.8 102.7L244.7 103.5L244.6 104.0L244.4 104.7L244.2 105.3L243.9 105.9L243.7 106.3L243.4 106.7L243.0 107.2L242.6 107.6L242.2 108.0L241.7 108.3L241.0 108.6L240.2 108.5L239.8 108.3L239.3 107.9L239.0 107.5L238.6 106.9L238.2 106.3L237.9 105.9L237.7 105.5L237.4 104.9L237.2 104.3L237.1 103.5L237.0 102.9L236.9 102.3L236.8 101.5L236.7 100.7L236.6 100.3L236.5 99.5L236.5 98.7L236.5 97.9L236.6 97.1L236.6 96.7L236.6 95.9L236.6 95.5L236.4 94.7L236.2 94.3L235.8 93.6L235.5 93.1L235.2 92.7L235.0 92.3L234.6 91.6L234.3 91.1L234.2 90.7L233.8 89.9L233.7 89.5L233.4 88.9L233.2 88.3L233.0 87.8L232.8 87.1L232.6 86.3L232.5 85.9L232.4 85.1L232.3 84.3L232.3 83.5L232.4 82.7L232.6 82.1L232.8 81.5L233.1 81.1L233.4 80.6L233.8 80.0L234.2 79.5L234.4 79.1L234.6 78.7L235.0 77.9L235.1 77.5L235.3 76.7L235.4 76.2L235.6 75.5L235.8 75.1L236.2 74.5L236.6 74.0L237.0 73.6L237.4 73.2L237.8 72.8L238.1 72.3L238.3 71.9L238.4 71.1L238.3 70.3L238.1 69.9L237.8 69.2L237.5 68.7L237.3 68.3L237.0 67.7L236.7 67.1L236.5 66.7L236.2 65.9L236.1 65.5L235.9 64.7L235.8 64.3L235.6 63.5L235.5 62.7L235.4 61.9L235.4 61.5L235.2 60.7L235.0 59.9L234.9 59.5L234.6 58.7L234.5 58.3L234.2 57.6L234.0 57.1L233.8 56.4L233.7 55.9L233.6 55.1L233.5 54.3L233.5 53.5L233.6 52.7L233.7 51.9L233.8 51.5L234.1 50.7L234.2 50.3L234.6 49.5L234.8 49.1L235.0 48.7L235.4 48.1L235.8 47.6L236.2 47.2L236.6 46.8L237.0 46.5L237.4 46.2L237.8 45.9L238.6 45.5ZM238.9 46.7L239.4 46.5L240.2 46.5L240.7 46.7L241.3 47.1L241.8 47.5L242.2 47.9L242.5 48.3L242.7 48.7L243.0 49.2L243.3 49.9L243.5 50.3L243.8 50.9L244.0 51.5L244.2 52.1L244.4 52.7L244.5 53.5L244.6 54.3L244.6 54.8L244.6 55.5L244.6 56.3L244.6 56.9L244.5 57.5L244.5 58.3L244.4 59.1L244.4 59.9L244.4 60.7L244.3 61.5L244.2 62.1L244.1 62.7L243.9 63.5L243.8 64.0L243.7 64.7L243.5 65.5L243.5 66.3L243.4 67.1L243.4 67.5L243.3 68.3L243.3 69.1L243.2 69.9L243.1 70.7L243.1 71.5L243.2 72.3L243.5 72.7L243.8 73.1L244.3 73.5L244.8 73.9L245.3 74.3L245.8 74.7L246.2 75.1L246.5 75.5L246.8 75.9L247.0 76.3L247.4 77.0L247.6 77.5L247.8 77.9L248.2 78.7L248.4 79.1L248.6 79.6L249.0 80.3L249.1 80.7L249.4 81.5L249.5 81.9L249.6 82.7L249.7 83.5L249.8 84.3L249.8 85.1L249.8 85.9L249.6 86.7L249.4 87.3L249.1 87.9L248.9 88.3L248.6 89.0L248.4 89.5L248.2 89.9L247.8 90.7L247.6 91.1L247.4 91.5L247.0 92.1L246.7 92.7L246.5 93.1L246.2 93.9L246.1 94.3L245.9 95.1L245.7 95.5L245.5 96.3L245.4 96.7L245.1 97.5L245.0 98.1L244.9 98.7L244.7 99.5L244.6 100.1L244.4 100.7L244.2 101.4L244.1 101.9L243.9 102.7L243.8 103.5L243.7 103.9L243.5 104.7L243.4 105.1L243.0 105.8L242.6 106.3L242.2 106.7L241.8 106.9L241.4 107.1L240.6 107.2L240.2 107.0L239.8 106.7L239.4 106.3L239.0 105.9L238.6 105.4L238.2 104.7L238.0 104.3L237.8 103.5L237.8 103.1L237.6 102.3L237.5 101.5L237.4 100.8L237.3 100.3L237.3 99.5L237.2 98.7L237.3 97.9L237.3 97.1L237.3 96.3L237.3 95.5L237.1 94.7L237.0 94.2L236.7 93.5L236.5 93.1L236.2 92.7L235.8 92.1L235.5 91.5L235.2 91.1L235.0 90.5L234.8 89.9L234.6 89.5L234.3 88.7L234.2 88.3L233.9 87.5L233.8 87.1L233.6 86.3L233.5 85.5L233.4 84.9L233.4 84.3L233.4 83.7L233.5 83.1L233.7 82.3L233.8 81.9L234.2 81.1L234.4 80.7L234.7 80.3L235.0 79.7L235.3 79.1L235.5 78.7L235.8 78.2L236.1 77.5L236.3 77.1L236.6 76.5L236.9 75.9L237.2 75.5L237.5 75.1L237.9 74.7L238.3 74.3L238.7 73.9L239.1 73.5L239.5 73.1L239.8 72.7L240.2 71.9L240.1 71.1L239.8 70.6L239.4 69.9L239.2 69.5L238.9 69.1L238.6 68.6L238.2 68.0L237.8 67.5L237.6 67.1L237.4 66.7L237.0 66.0L236.8 65.5L236.6 65.1L236.3 64.3L236.2 63.7L236.1 63.1L236.0 62.3L235.9 61.5L235.8 60.9L235.7 60.3L235.5 59.5L235.4 59.1L235.1 58.3L234.9 57.9L234.6 57.1L234.5 56.7L234.3 55.9L234.2 55.4L234.1 54.7L234.1 53.9L234.1 53.1L234.2 52.7L234.4 51.9L234.6 51.4L234.9 50.7L235.2 50.3L235.4 49.9L235.8 49.4L236.2 49.0L236.6 48.6L237.0 48.2L237.4 47.9L237.8 47.5L238.3 47.1L238.9 46.7ZM239.6 47.5L240.2 47.5L240.6 47.6L241.2 47.9L241.6 48.3L242.0 48.7L242.3 49.1L242.6 49.7L242.9 50.3L243.1 50.7L243.4 51.4L243.6 51.9L243.8 52.6L243.9 53.1L244.0 53.9L244.1 54.7L244.1 55.5L244.1 56.3L244.0 57.1L243.9 57.9L243.9 58.7L243.8 59.5L243.8 60.3L243.8 60.7L243.7 61.5L243.6 62.3L243.4 63.1L243.3 63.5L243.2 64.3L243.0 65.1L243.0 65.5L242.9 66.3L242.8 67.1L242.7 67.9L242.6 68.5L242.4 69.1L242.2 69.7L241.8 70.1L241.0 70.0L240.6 69.7L240.2 69.4L239.8 68.9L239.4 68.4L239.0 67.9L238.7 67.5L238.4 67.1L238.1 66.7L237.8 66.2L237.4 65.6L237.2 65.1L237.0 64.7L236.7 63.9L236.6 63.5L236.4 62.7L236.3 61.9L236.2 61.1L236.2 60.7L236.0 59.9L235.8 59.1L235.7 58.7L235.5 57.9L235.3 57.5L235.0 56.7L234.9 56.3L234.7 55.5L234.6 54.7L234.6 53.9L234.7 53.1L234.9 52.3L235.1 51.9L235.4 51.3L235.8 50.7L236.1 50.3L236.5 49.9L236.9 49.5L237.4 49.1L237.8 48.7L238.2 48.4L238.6 48.0L239.0 47.7L239.6 47.5ZM240.8 73.9L241.4 73.7L242.2 73.8L242.6 73.9L243.4 74.2L243.8 74.5L244.2 74.7L244.7 75.1L245.1 75.5L245.5 75.9L245.8 76.3L246.2 76.8L246.6 77.5L246.8 77.9L247.0 78.3L247.4 79.0L247.7 79.5L247.9 79.9L248.2 80.5L248.5 81.1L248.6 81.5L248.8 82.3L248.9 83.1L249.0 83.9L249.0 84.3L249.0 85.1L249.0 85.7L248.9 86.3L248.6 87.1L248.5 87.5L248.2 88.0L247.9 88.7L247.7 89.1L247.4 89.7L247.2 90.3L247.0 90.7L246.6 91.4L246.4 91.9L246.2 92.3L245.8 93.1L245.7 93.5L245.4 94.3L245.3 94.7L245.1 95.5L245.0 95.9L244.7 96.7L244.6 97.1L244.4 97.9L244.2 98.7L244.1 99.1L244.0 99.9L243.8 100.5L243.6 101.1L243.4 101.7L243.2 102.3L243.1 103.1L243.0 103.5L242.8 104.3L242.6 104.8L242.2 105.4L241.8 105.7L241.4 105.9L240.6 105.9L240.2 105.7L239.8 105.5L239.4 105.1L239.0 104.6L238.7 103.9L238.5 103.5L238.4 102.7L238.2 101.9L238.2 101.5L238.1 100.7L238.0 99.9L237.9 99.1L237.9 98.3L237.9 97.5L237.9 96.7L237.9 95.9L237.8 95.1L237.8 94.7L237.6 93.9L237.4 93.2L237.1 92.7L236.9 92.3L236.6 91.9L236.2 91.3L235.9 90.7L235.7 90.3L235.4 89.5L235.3 89.1L235.0 88.3L234.9 87.9L234.6 87.1L234.5 86.7L234.3 85.9L234.2 85.1L234.2 84.3L234.3 83.5L234.4 82.7L234.6 82.2L234.9 81.5L235.0 81.1L235.4 80.4L235.7 79.9L235.9 79.5L236.2 78.9L236.6 78.3L236.9 77.9L237.3 77.5L237.7 77.1L238.0 76.7L238.3 76.3L238.6 75.9L239.0 75.3L239.4 74.9L239.8 74.5L240.2 74.2L240.8 73.9ZM239.1 48.7L239.8 48.4L240.6 48.5L241.0 48.7L241.4 49.1L241.8 49.6L242.2 50.3L242.4 50.7L242.6 51.1L243.0 51.9L243.1 52.3L243.3 53.1L243.4 53.8L243.4 54.3L243.5 55.1L243.5 55.9L243.5 56.7L243.4 57.5L243.4 57.9L243.3 58.7L243.3 59.5L243.3 60.3L243.2 61.1L243.1 61.9L243.0 62.3L242.8 63.1L242.6 63.9L242.5 64.3L242.4 65.1L242.3 65.9L242.2 66.4L242.0 67.1L241.8 67.8L241.4 68.3L241.0 68.3L240.6 68.2L240.2 67.9L239.8 67.5L239.4 67.1L239.0 66.7L238.6 66.2L238.2 65.7L237.8 65.2L237.5 64.7L237.3 64.3L237.0 63.5L236.9 63.1L236.8 62.3L236.7 61.5L236.6 60.8L236.5 60.3L236.4 59.5L236.2 58.7L236.1 58.3L235.8 57.5L235.7 57.1L235.5 56.3L235.4 55.9L235.2 55.1L235.2 54.3L235.2 53.5L235.4 52.8L235.6 52.3L235.8 51.9L236.2 51.3L236.6 50.8L237.0 50.4L237.4 50.0L237.8 49.7L238.2 49.3L238.6 49.0L239.1 48.7ZM240.9 75.5L241.4 75.4L242.2 75.4L242.7 75.5L243.4 75.8L243.8 76.1L244.2 76.5L244.6 76.9L245.0 77.4L245.4 77.9L245.6 78.3L245.9 78.7L246.2 79.1L246.6 79.6L247.0 80.2L247.3 80.7L247.5 81.1L247.8 81.9L247.9 82.3L248.0 83.1L248.1 83.9L248.2 84.7L248.2 85.5L248.0 86.3L247.8 87.0L247.6 87.5L247.4 87.9L247.1 88.7L246.9 89.1L246.6 89.8L246.4 90.3L246.2 90.7L245.9 91.5L245.7 91.9L245.4 92.6L245.2 93.1L245.0 93.6L244.8 94.3L244.6 94.8L244.4 95.5L244.2 96.0L244.0 96.7L243.8 97.1L243.6 97.9L243.4 98.7L243.4 99.1L243.2 99.9L243.0 100.6L242.8 101.1L242.6 101.6L242.3 102.3L242.2 102.8L242.0 103.5L241.8 103.9L241.4 104.3L240.6 104.5L240.1 104.3L239.7 103.9L239.4 103.3L239.2 102.7L239.0 101.9L239.0 101.5L238.8 100.7L238.7 99.9L238.6 99.1L238.6 98.5L238.6 97.9L238.5 97.1L238.5 96.3L238.4 95.5L238.4 94.7L238.4 93.9L238.2 93.1L238.1 92.7L237.8 92.0L237.5 91.5L237.2 91.1L237.0 90.7L236.6 89.9L236.5 89.5L236.2 88.7L236.1 88.3L235.8 87.5L235.7 87.1L235.4 86.4L235.3 85.9L235.1 85.1L235.0 84.3L235.1 83.5L235.3 82.7L235.4 82.3L235.7 81.5L235.9 81.1L236.2 80.4L236.4 79.9L236.7 79.5L237.0 79.0L237.4 78.6L237.8 78.3L238.3 77.9L238.9 77.5L239.3 77.1L239.7 76.7L240.0 76.3L240.4 75.9L240.9 75.5ZM239.1 49.5L239.8 49.2L240.6 49.4L241.0 49.7L241.4 50.2L241.7 50.7L242.0 51.1L242.2 51.6L242.5 52.3L242.6 52.7L242.8 53.5L242.9 54.3L242.9 55.1L243.0 55.9L243.0 56.7L242.9 57.5L242.9 58.3L242.8 59.1L242.8 59.9L242.7 60.7L242.6 61.5L242.5 61.9L242.3 62.7L242.2 63.3L242.0 63.9L241.8 64.7L241.7 65.1L241.5 65.9L241.3 66.3L240.7 66.7L240.6 66.7L239.8 66.4L239.4 66.1L239.0 65.7L238.6 65.3L238.2 64.9L237.8 64.3L237.6 63.9L237.4 63.3L237.3 62.7L237.1 61.9L237.0 61.1L236.9 60.7L236.8 59.9L236.7 59.1L236.6 58.6L236.4 57.9L236.2 57.1L236.1 56.7L235.9 55.9L235.8 55.5L235.7 54.7L235.7 53.9L235.8 53.5L236.1 52.7L236.3 52.3L236.6 51.7L237.0 51.2L237.4 50.8L237.8 50.4L238.2 50.1L238.6 49.8L239.1 49.5ZM240.3 77.9L241.0 77.6L241.8 77.6L242.6 77.8L243.0 78.1L243.4 78.4L243.8 78.7L244.3 79.1L244.9 79.5L245.4 79.9L245.8 80.3L246.1 80.7L246.4 81.1L246.6 81.6L246.8 82.3L247.0 83.1L247.0 83.5L247.2 84.3L247.3 85.1L247.3 85.9L247.1 86.7L247.0 87.1L246.7 87.9L246.6 88.3L246.2 89.1L246.0 89.5L245.8 90.1L245.6 90.7L245.4 91.1L245.1 91.9L244.9 92.3L244.6 93.0L244.4 93.5L244.2 93.9L243.9 94.7L243.8 95.1L243.5 95.9L243.3 96.3L243.0 97.1L242.9 97.5L242.6 98.3L242.6 98.7L242.4 99.5L242.2 100.3L242.0 100.7L241.8 101.1L241.4 101.7L241.0 102.2L240.2 101.9L240.0 101.5L239.8 101.0L239.6 100.3L239.4 99.5L239.4 99.1L239.3 98.3L239.2 97.5L239.1 96.7L239.0 95.9L239.0 95.1L239.1 94.3L239.1 93.5L239.0 93.0L238.8 92.3L238.6 91.7L238.3 91.1L238.2 90.7L237.9 89.9L237.8 89.3L237.6 88.7L237.4 88.0L237.2 87.5L236.9 87.1L236.6 86.5L236.3 85.9L236.2 85.5L236.0 84.7L236.0 83.9L236.1 83.1L236.2 82.7L236.5 81.9L236.6 81.4L236.9 80.7L237.0 80.3L237.4 79.7L237.8 79.3L238.2 78.9L238.6 78.7L239.4 78.3L239.8 78.1L240.3 77.9ZM239.1 50.3L239.8 50.1L240.4 50.3L240.9 50.7L241.1 51.1L241.4 51.5L241.8 52.3L241.9 52.7L242.1 53.5L242.2 54.0L242.3 54.7L242.4 55.5L242.5 56.3L242.5 57.1L242.5 57.9L242.4 58.7L242.4 59.5L242.3 60.3L242.2 60.9L242.1 61.5L241.9 62.3L241.8 62.7L241.5 63.5L241.4 63.9L241.1 64.7L240.8 65.1L240.2 65.4L239.4 65.1L239.0 64.9L238.6 64.5L238.2 64.0L237.9 63.5L237.8 63.1L237.6 62.3L237.4 61.5L237.3 61.1L237.2 60.3L237.1 59.5L237.0 58.7L236.9 58.3L236.7 57.5L236.6 57.0L236.4 56.3L236.3 55.5L236.2 54.7L236.3 53.9L236.5 53.1L236.7 52.7L237.0 52.2L237.4 51.7L237.8 51.2L238.2 50.9L238.6 50.6L239.1 50.3ZM240.1 79.1L240.6 79.0L241.2 79.1L241.8 79.3L242.3 79.5L243.0 79.9L243.4 80.1L243.8 80.3L244.5 80.7L245.0 81.1L245.3 81.5L245.5 81.9L245.8 82.7L245.9 83.1L246.1 83.9L246.2 84.3L246.4 85.1L246.5 85.9L246.4 86.7L246.2 87.5L246.1 87.9L245.8 88.7L245.6 89.1L245.4 89.6L245.1 90.3L245.0 90.7L244.6 91.5L244.5 91.9L244.2 92.4L243.8 93.1L243.6 93.5L243.4 93.9L243.1 94.7L243.0 95.1L242.7 95.9L242.5 96.3L242.2 97.0L241.9 97.5L241.6 97.9L241.4 98.4L241.0 99.0L240.5 98.7L240.2 98.0L240.0 97.5L239.8 96.8L239.7 96.3L239.7 95.5L239.8 94.7L239.8 94.3L239.8 93.5L239.8 93.1L239.5 92.3L239.4 91.9L239.1 91.1L239.0 90.6L238.9 89.9L238.7 89.1L238.7 88.3L238.6 87.8L238.5 87.1L238.2 86.3L238.1 85.9L237.8 85.3L237.5 84.7L237.4 84.0L237.4 83.5L237.4 83.1L237.6 82.3L237.7 81.5L237.8 81.0L238.1 80.3L238.4 79.9L239.0 79.5L239.4 79.3L240.1 79.1ZM238.9 51.5L239.4 51.4L239.9 51.5L240.3 51.9L240.6 52.4L240.9 53.1L241.1 53.5L241.4 54.0L241.6 54.7L241.8 55.2L242.0 55.9L242.1 56.7L242.1 57.5L242.1 58.3L242.0 59.1L241.9 59.9L241.8 60.4L241.6 61.1L241.4 61.9L241.3 62.3L241.0 63.0L240.8 63.5L240.5 63.9L239.8 64.3L239.0 64.0L238.6 63.6L238.3 63.1L238.1 62.7L237.9 61.9L237.8 61.5L237.7 60.7L237.5 59.9L237.4 59.1L237.4 58.7L237.3 57.9L237.1 57.1L237.0 56.6L236.9 55.9L236.8 55.1L236.9 54.3L237.0 53.9L237.4 53.1L237.6 52.7L237.9 52.3L238.3 51.9L238.9 51.5ZM240.4 80.7L241.0 80.6L241.8 80.6L242.2 80.7L243.0 81.0L243.4 81.2L243.8 81.5L244.2 81.9L244.6 82.5L244.9 83.1L245.1 83.5L245.4 84.3L245.5 84.7L245.7 85.5L245.8 86.3L245.7 87.1L245.5 87.9L245.3 88.3L245.0 89.0L244.8 89.5L244.6 89.9L244.3 90.7L244.1 91.1L243.8 91.7L243.4 92.3L243.1 92.7L242.7 93.1L242.4 93.5L242.0 93.9L241.7 94.3L241.5 95.1L241.4 95.5L241.0 95.5L241.0 95.1L241.2 94.3L241.0 93.7L240.8 93.1L240.5 92.7L240.2 92.0L240.0 91.5L239.8 90.9L239.6 90.3L239.5 89.5L239.4 88.7L239.4 88.0L239.4 87.5L239.3 86.7L239.3 85.9L239.2 85.1L239.2 84.3L239.2 83.5L239.4 82.7L239.5 82.3L239.7 81.5L239.9 81.1L240.4 80.7ZM238.4 53.5L239.0 53.3L239.5 53.5L240.1 53.9L240.5 54.3L240.9 54.7L241.1 55.1L241.4 55.7L241.6 56.3L241.7 57.1L241.7 57.9L241.6 58.7L241.5 59.5L241.4 60.1L241.3 60.7L241.0 61.5L240.8 61.9L240.6 62.3L240.2 62.9L239.8 63.2L239.2 63.1L238.8 62.7L238.5 62.3L238.3 61.5L238.2 61.1L238.0 60.3L237.9 59.5L237.8 58.9L237.7 58.3L237.6 57.5L237.5 56.7L237.4 55.9L237.4 55.5L237.4 55.1L237.7 54.3L238.0 53.9L238.4 53.5ZM241.5 81.9L242.2 81.8L242.8 81.9L243.4 82.3L243.8 82.7L244.1 83.1L244.3 83.5L244.6 84.1L244.9 84.7L245.0 85.1L245.2 85.9L245.2 86.7L245.1 87.5L244.9 87.9L244.6 88.5L244.3 89.1L244.0 89.5L243.8 90.0L243.4 90.7L243.2 91.1L242.9 91.5L242.4 91.9L241.8 92.1L241.3 91.9L240.9 91.5L240.6 91.1L240.3 90.3L240.2 89.9L240.1 89.1L240.0 88.3L240.0 87.5L240.0 86.7L240.0 85.9L240.0 85.1L240.1 84.3L240.2 83.9L240.5 83.1L240.7 82.7L241.0 82.3L241.5 81.9ZM238.4 55.1L239.0 54.8L239.8 54.9L240.2 55.2L240.6 55.6L241.0 56.3L241.1 56.7L241.2 57.5L241.2 58.3L241.1 59.1L241.0 59.6L240.8 60.3L240.6 60.8L240.2 61.5L239.8 61.8L239.0 61.6L238.8 61.1L238.6 60.7L238.4 59.9L238.3 59.1L238.2 58.3L238.2 57.9L238.1 57.1L238.1 56.3L238.2 55.5L238.4 55.1ZM241.8 83.1L242.2 82.9L243.0 83.1L243.4 83.4L243.8 83.9L244.0 84.3L244.2 84.7L244.5 85.5L244.6 85.9L244.6 86.7L244.5 87.1L244.2 87.9L243.9 88.3L243.6 88.7L243.3 89.1L243.0 89.5L242.6 89.9L242.1 90.3L241.6 90.3L241.2 89.9L241.0 89.5L240.8 88.7L240.6 87.9L240.6 87.5L240.6 86.7L240.6 85.9L240.6 85.5L240.8 84.7L241.0 84.1L241.4 83.5L241.8 83.1Z" fill="none" stroke="#2a2a2a" stroke-width="0.4" stroke-linejoin="round"/>
<path d="M239.5 50.3h.6M238.1 61.7h.6M246.0 54.7h.6M237.6 58.9h.6M240.0 47.2h.6M236.5 52.5h.6M246.8 62.2h.6M241.2 48.2h.6M246.9 41.0h.6M253.2 51.4h.6M242.9 51.1h.6M236.6 50.3h.6M244.4 61.4h.6M232.2 52.4h.6M247.6 57.6h.6M236.0 53.1h.6M244.7 51.0h.6M245.3 49.0h.6M232.9 70.7h.6M238.6 63.0h.6M234.5 56.1h.6M240.3 52.8h.6M242.7 62.6h.6M233.5 53.2h.6M238.4 48.8h.6M245.0 47.1h.6M239.2 50.0h.6M241.1 67.1h.6M245.7 62.3h.6M238.8 67.0h.6M238.0 59.4h.6M236.7 62.2h.6M248.9 48.9h.6M223.9 55.6h.6M239.5 58.0h.6M241.1 53.8h.6M246.0 46.6h.6M240.6 46.5h.6M240.5 46.5h.6M239.6 56.9h.6M241.6 42.7h.6M241.2 51.6h.6M248.3 54.0h.6M240.9 49.1h.6M241.8 60.0h.6M240.4 54.3h.6M247.9 49.9h.6M234.6 59.7h.6M232.2 58.7h.6M234.5 58.9h.6M239.3 49.8h.6M242.1 62.0h.6M236.7 51.7h.6M230.8 50.8h.6M238.0 53.0h.6M240.4 65.3h.6M241.1 49.2h.6M245.3 56.1h.6M253.1 54.5h.6M241.1 54.2h.6M232.3 47.1h.6M236.1 48.1h.6M242.8 54.3h.6M239.1 51.5h.6M240.8 68.5h.6M235.3 55.4h.6M245.6 59.7h.6M231.0 69.7h.6M244.2 57.9h.6M234.1 65.4h.6M236.3 85.5h.6M230.1 86.4h.6M242.0 76.6h.6M237.8 81.9h.6M234.5 95.0h.6M238.8 79.2h.6M250.2 95.1h.6M231.4 84.7h.6M232.2 98.7h.6M241.2 100.5h.6M245.1 78.8h.6M242.7 105.3h.6M245.7 90.6h.6M244.5 83.7h.6M251.8 106.8h.6M245.3 103.5h.6M262.9 82.6h.6M240.7 79.9h.6M245.4 82.6h.6M242.5 84.4h.6M247.1 77.5h.6M236.4 85.7h.6M234.2 79.0h.6M248.9 80.1h.6M246.2 96.2h.6M239.0 76.5h.6M238.5 73.6h.6M255.7 101.4h.6M242.1 71.3h.6M243.6 63.0h.6M237.5 90.3h.6M244.3 88.3h.6M241.3 65.4h.6M242.3 77.8h.6M240.7 94.5h.6M248.6 87.6h.6M229.9 84.4h.6M237.4 82.2h.6M232.6 92.0h.6M250.5 92.1h.6M235.1 81.3h.6M236.4 91.8h.6M237.1 76.8h.6M242.5 82.4h.6M239.2 94.4h.6M235.0 76.7h.6M254.6 86.6h.6M243.6 105.9h.6M242.3 94.5h.6M240.4 103.7h.6M239.5 92.5h.6M237.8 70.3h.6M239.8 81.0h.6M234.9 93.3h.6M239.4 95.4h.6M245.6 90.0h.6M228.2 73.3h.6M241.1 78.3h.6M239.8 88.2h.6M242.4 99.0h.6M234.9 94.4h.6M240.9 76.1h.6M250.9 78.3h.6M250.2 102.4h.6M248.1 98.8h.6M247.1 103.2h.6M246.2 86.1h.6M230.3 86.2h.6M234.2 89.7h.6M246.8 102.3h.6M242.3 81.5h.6M238.8 94.4h.6M243.5 98.9h.6M239.6 69.4h.6M235.7 89.0h.6M232.2 76.1h.6M254.0 99.5h.6M247.2 80.0h.6M237.5 88.2h.6M254.7 83.5h.6M237.1 68.6h.6M246.8 83.5h.6M241.3 87.7h.6M235.7 71.2h.6M250.9 69.4h.6M249.9 91.4h.6M253.8 68.1h.6M233.1 85.5h.6M251.1 99.8h.6M240.5 100.8h.6M238.6 73.3h.6M238.1 68.0h.6M232.2 67.6h.6M243.5 59.3h.6M242.0 71.1h.6M237.6 66.6h.6M247.0 69.0h.6M237.8 75.7h.6M250.9 72.9h.6M238.5 69.7h.6M245.3 62.3h.6M238.6 77.0h.6M242.3 69.6h.6M235.2 68.2h.6M247.9 80.0h.6M234.5 73.0h.6M235.8 78.3h.6M250.6 72.9h.6M235.6 62.0h.6M241.4 67.3h.6M238.0 62.0h.6M238.8 64.5h.6M237.1 73.2h.6M249.7 66.8h.6M236.9 68.8h.6M242.4 67.6h.6M238.1 61.0h.6M248.9 68.0h.6M243.5 72.1h.6M243.5 75.7h.6" fill="none" stroke="#444" stroke-width="0.6" opacity="0.85"/>
<path d="M227.2 112.9A11 3.7 0 0 1 249.2 112.9Z" fill="#666" fill-opacity="0.35" stroke="#1e1e1e" stroke-width="1.15"/>
<path d="M230.7 112.9A7.5 2.1 0 0 1 245.7 112.9" fill="none" stroke="#222" stroke-width="0.7"/>
<path d="M225 112.9A13.2 5.2 0 0 1 251.4 112.9" fill="none" stroke="#444" stroke-width="0.4"/>
<path d="M197.8 24.7H287.3V113.2" fill="none" stroke="#9c9c9c" stroke-width="0.8"/>
<path d="M197.8 24.3V113.2H287.6" fill="none" stroke="#777" stroke-width="1"/>
<line x1="194.7" y1="113.2" x2="197.8" y2="113.2" stroke="#666" stroke-width="0.9"/>
<text transform="translate(194.4,115.9) scale(1.1,1)" font-size="7.8" text-anchor="end" fill="#222">10<tspan dy="-3.0" font-size="6.0">0</tspan></text>
<line x1="196.5" y1="106.54" x2="197.8" y2="106.54" stroke="#777" stroke-width="0.45"/>
<line x1="196.5" y1="102.64" x2="197.8" y2="102.64" stroke="#777" stroke-width="0.45"/>
<line x1="196.5" y1="99.88" x2="197.8" y2="99.88" stroke="#777" stroke-width="0.45"/>
<line x1="196.5" y1="97.74" x2="197.8" y2="97.74" stroke="#777" stroke-width="0.45"/>
<line x1="196.5" y1="95.98" x2="197.8" y2="95.98" stroke="#777" stroke-width="0.45"/>
<line x1="196.5" y1="94.5" x2="197.8" y2="94.5" stroke="#777" stroke-width="0.45"/>
<line x1="196.5" y1="93.22" x2="197.8" y2="93.22" stroke="#777" stroke-width="0.45"/>
<line x1="196.5" y1="92.09" x2="197.8" y2="92.09" stroke="#777" stroke-width="0.45"/>
<line x1="194.7" y1="91.08" x2="197.8" y2="91.08" stroke="#666" stroke-width="0.9"/>
<text transform="translate(194.4,93.78) scale(1.1,1)" font-size="7.8" text-anchor="end" fill="#222">10<tspan dy="-3.0" font-size="6.0">1</tspan></text>
<line x1="196.5" y1="84.41" x2="197.8" y2="84.41" stroke="#777" stroke-width="0.45"/>
<line x1="196.5" y1="80.52" x2="197.8" y2="80.52" stroke="#777" stroke-width="0.45"/>
<line x1="196.5" y1="77.75" x2="197.8" y2="77.75" stroke="#777" stroke-width="0.45"/>
<line x1="196.5" y1="75.61" x2="197.8" y2="75.61" stroke="#777" stroke-width="0.45"/>
<line x1="196.5" y1="73.86" x2="197.8" y2="73.86" stroke="#777" stroke-width="0.45"/>
<line x1="196.5" y1="72.38" x2="197.8" y2="72.38" stroke="#777" stroke-width="0.45"/>
<line x1="196.5" y1="71.09" x2="197.8" y2="71.09" stroke="#777" stroke-width="0.45"/>
<line x1="196.5" y1="69.96" x2="197.8" y2="69.96" stroke="#777" stroke-width="0.45"/>
<line x1="194.7" y1="68.95" x2="197.8" y2="68.95" stroke="#666" stroke-width="0.9"/>
<text transform="translate(194.4,71.65) scale(1.1,1)" font-size="7.8" text-anchor="end" fill="#222">10<tspan dy="-3.0" font-size="6.0">2</tspan></text>
<line x1="196.5" y1="62.29" x2="197.8" y2="62.29" stroke="#777" stroke-width="0.45"/>
<line x1="196.5" y1="58.39" x2="197.8" y2="58.39" stroke="#777" stroke-width="0.45"/>
<line x1="196.5" y1="55.63" x2="197.8" y2="55.63" stroke="#777" stroke-width="0.45"/>
<line x1="196.5" y1="53.49" x2="197.8" y2="53.49" stroke="#777" stroke-width="0.45"/>
<line x1="196.5" y1="51.73" x2="197.8" y2="51.73" stroke="#777" stroke-width="0.45"/>
<line x1="196.5" y1="50.25" x2="197.8" y2="50.25" stroke="#777" stroke-width="0.45"/>
<line x1="196.5" y1="48.97" x2="197.8" y2="48.97" stroke="#777" stroke-width="0.45"/>
<line x1="196.5" y1="47.84" x2="197.8" y2="47.84" stroke="#777" stroke-width="0.45"/>
<line x1="194.7" y1="46.83" x2="197.8" y2="46.83" stroke="#666" stroke-width="0.9"/>
<text transform="translate(194.4,49.53) scale(1.1,1)" font-size="7.8" text-anchor="end" fill="#222">10<tspan dy="-3.0" font-size="6.0">3</tspan></text>
<line x1="196.5" y1="40.16" x2="197.8" y2="40.16" stroke="#777" stroke-width="0.45"/>
<line x1="196.5" y1="36.27" x2="197.8" y2="36.27" stroke="#777" stroke-width="0.45"/>
<line x1="196.5" y1="33.5" x2="197.8" y2="33.5" stroke="#777" stroke-width="0.45"/>
<line x1="196.5" y1="31.36" x2="197.8" y2="31.36" stroke="#777" stroke-width="0.45"/>
<line x1="196.5" y1="29.61" x2="197.8" y2="29.61" stroke="#777" stroke-width="0.45"/>
<line x1="196.5" y1="28.13" x2="197.8" y2="28.13" stroke="#777" stroke-width="0.45"/>
<line x1="196.5" y1="26.84" x2="197.8" y2="26.84" stroke="#777" stroke-width="0.45"/>
<line x1="196.5" y1="25.71" x2="197.8" y2="25.71" stroke="#777" stroke-width="0.45"/>
<line x1="194.7" y1="24.7" x2="197.8" y2="24.7" stroke="#666" stroke-width="0.9"/>
<text transform="translate(194.4,27.4) scale(1.1,1)" font-size="7.8" text-anchor="end" fill="#222">10<tspan dy="-3.0" font-size="6.0">4</tspan></text>
<line x1="197.9" y1="113.2" x2="197.9" y2="115.8" stroke="#555" stroke-width="0.9"/>
<text transform="translate(193.9,125.5) scale(0.88,1)" font-size="8.2" fill="#222">10<tspan dy="-2.9" font-size="6.4">0</tspan></text>
<line x1="204.63" y1="113.2" x2="204.63" y2="114.5" stroke="#777" stroke-width="0.45"/>
<line x1="208.56" y1="113.2" x2="208.56" y2="114.5" stroke="#777" stroke-width="0.45"/>
<line x1="211.36" y1="113.2" x2="211.36" y2="114.5" stroke="#777" stroke-width="0.45"/>
<line x1="213.52" y1="113.2" x2="213.52" y2="114.5" stroke="#777" stroke-width="0.45"/>
<line x1="215.29" y1="113.2" x2="215.29" y2="114.5" stroke="#777" stroke-width="0.45"/>
<line x1="216.79" y1="113.2" x2="216.79" y2="114.5" stroke="#777" stroke-width="0.45"/>
<line x1="218.08" y1="113.2" x2="218.08" y2="114.5" stroke="#777" stroke-width="0.45"/>
<line x1="219.23" y1="113.2" x2="219.23" y2="114.5" stroke="#777" stroke-width="0.45"/>
<line x1="220.25" y1="113.2" x2="220.25" y2="115.8" stroke="#555" stroke-width="0.9"/>
<text transform="translate(216.25,125.5) scale(0.88,1)" font-size="8.2" fill="#222">10<tspan dy="-2.9" font-size="6.4">1</tspan></text>
<line x1="226.98" y1="113.2" x2="226.98" y2="114.5" stroke="#777" stroke-width="0.45"/>
<line x1="230.91" y1="113.2" x2="230.91" y2="114.5" stroke="#777" stroke-width="0.45"/>
<line x1="233.71" y1="113.2" x2="233.71" y2="114.5" stroke="#777" stroke-width="0.45"/>
<line x1="235.87" y1="113.2" x2="235.87" y2="114.5" stroke="#777" stroke-width="0.45"/>
<line x1="237.64" y1="113.2" x2="237.64" y2="114.5" stroke="#777" stroke-width="0.45"/>
<line x1="239.14" y1="113.2" x2="239.14" y2="114.5" stroke="#777" stroke-width="0.45"/>
<line x1="240.43" y1="113.2" x2="240.43" y2="114.5" stroke="#777" stroke-width="0.45"/>
<line x1="241.58" y1="113.2" x2="241.58" y2="114.5" stroke="#777" stroke-width="0.45"/>
<line x1="242.6" y1="113.2" x2="242.6" y2="115.8" stroke="#555" stroke-width="0.9"/>
<text transform="translate(238.6,125.5) scale(0.88,1)" font-size="8.2" fill="#222">10<tspan dy="-2.9" font-size="6.4">2</tspan></text>
<line x1="249.33" y1="113.2" x2="249.33" y2="114.5" stroke="#777" stroke-width="0.45"/>
<line x1="253.26" y1="113.2" x2="253.26" y2="114.5" stroke="#777" stroke-width="0.45"/>
<line x1="256.06" y1="113.2" x2="256.06" y2="114.5" stroke="#777" stroke-width="0.45"/>
<line x1="258.22" y1="113.2" x2="258.22" y2="114.5" stroke="#777" stroke-width="0.45"/>
<line x1="259.99" y1="113.2" x2="259.99" y2="114.5" stroke="#777" stroke-width="0.45"/>
<line x1="261.49" y1="113.2" x2="261.49" y2="114.5" stroke="#777" stroke-width="0.45"/>
<line x1="262.78" y1="113.2" x2="262.78" y2="114.5" stroke="#777" stroke-width="0.45"/>
<line x1="263.93" y1="113.2" x2="263.93" y2="114.5" stroke="#777" stroke-width="0.45"/>
<line x1="264.95" y1="113.2" x2="264.95" y2="115.8" stroke="#555" stroke-width="0.9"/>
<text transform="translate(260.95,125.5) scale(0.88,1)" font-size="8.2" fill="#222">10<tspan dy="-2.9" font-size="6.4">3</tspan></text>
<line x1="271.68" y1="113.2" x2="271.68" y2="114.5" stroke="#777" stroke-width="0.45"/>
<line x1="275.61" y1="113.2" x2="275.61" y2="114.5" stroke="#777" stroke-width="0.45"/>
<line x1="278.41" y1="113.2" x2="278.41" y2="114.5" stroke="#777" stroke-width="0.45"/>
<line x1="280.57" y1="113.2" x2="280.57" y2="114.5" stroke="#777" stroke-width="0.45"/>
<line x1="282.34" y1="113.2" x2="282.34" y2="114.5" stroke="#777" stroke-width="0.45"/>
<line x1="283.84" y1="113.2" x2="283.84" y2="114.5" stroke="#777" stroke-width="0.45"/>
<line x1="285.13" y1="113.2" x2="285.13" y2="114.5" stroke="#777" stroke-width="0.45"/>
<line x1="286.28" y1="113.2" x2="286.28" y2="114.5" stroke="#777" stroke-width="0.45"/>
<line x1="287.3" y1="113.2" x2="287.3" y2="115.8" stroke="#555" stroke-width="0.9"/>
<text transform="translate(283.3,125.5) scale(0.88,1)" font-size="8.2" fill="#222">10<tspan dy="-2.9" font-size="6.4">4</tspan></text>
<rect x="220.2" y="26" width="63.10000000000002" height="40.2" fill="none" stroke="#b5284b" stroke-width="1.35"/>
<text transform="translate(259.3,35.3)" font-size="7.7" fill="#222">14%</text>
<text transform="translate(241.6,17.6)" font-size="10.2" text-anchor="middle" fill="#222">Control</text>
<path d="M349.2 34.3L349.9 34.2L350.7 34.1L351.5 34.2L351.9 34.3L352.7 34.7L353.1 34.9L353.5 35.2L354.1 35.5L354.7 35.8L355.1 36.0L355.9 36.3L356.3 36.5L356.9 36.7L357.5 36.9L357.9 37.1L358.6 37.5L359.1 37.9L359.5 38.2L359.9 38.6L360.3 39.1L360.5 39.5L360.7 39.9L361.0 40.7L361.1 41.3L361.1 41.8L361.0 42.3L360.8 43.1L360.6 43.5L360.3 44.0L359.9 44.5L359.5 45.0L359.1 45.5L358.8 45.9L358.5 46.3L358.3 46.7L357.9 47.4L357.7 47.9L357.5 48.3L357.1 49.1L356.9 49.5L356.7 50.0L356.4 50.7L356.3 51.1L356.1 51.9L356.3 52.5L357.1 52.3L357.5 52.1L358.0 51.9L358.7 51.6L359.1 51.4L359.9 51.3L360.7 51.4L361.2 51.5L361.9 51.8L362.3 52.1L362.7 52.4L363.1 52.9L363.5 53.5L363.7 53.9L363.9 54.5L364.1 55.1L364.2 55.9L364.2 56.7L364.2 57.5L364.1 58.3L363.9 59.0L363.8 59.5L363.5 60.1L363.1 60.7L362.8 61.1L362.4 61.5L361.9 61.9L361.5 62.1L361.0 62.3L360.3 62.5L359.5 62.6L358.7 62.5L357.9 62.4L357.5 62.2L356.7 61.9L356.3 61.7L355.9 61.5L355.2 61.5L355.1 61.9L355.1 62.7L355.1 63.1L355.3 63.9L355.5 64.6L355.6 65.1L355.9 65.9L356.0 66.3L356.3 67.0L356.5 67.5L356.7 68.2L356.8 68.7L356.9 69.5L356.9 70.3L356.9 71.1L357.0 71.9L356.9 72.7L356.8 73.5L356.6 73.9L356.4 74.7L356.3 75.1L356.1 75.9L355.9 76.7L355.8 77.1L355.8 77.9L355.9 78.7L355.9 79.1L355.9 79.7L355.8 80.3L355.5 80.7L355.1 81.1L354.3 81.4L353.9 81.5L353.1 81.6L352.3 81.7L351.5 81.8L350.7 81.8L349.9 81.5L349.5 81.3L349.1 81.0L348.7 80.7L348.3 80.3L347.9 79.6L347.7 79.1L347.5 78.4L347.4 77.9L347.3 77.1L347.1 76.3L347.0 75.9L346.9 75.1L346.7 74.3L346.7 73.9L346.7 73.1L346.7 72.3L346.6 71.5L346.6 70.7L346.6 69.9L346.7 69.1L346.7 68.7L346.7 67.9L346.7 67.5L346.3 66.7L346.0 66.3L345.6 65.9L345.2 65.5L344.8 65.1L344.4 64.7L344.0 64.3L343.7 63.9L343.4 63.5L343.1 63.1L342.7 62.6L342.3 62.0L342.0 61.5L341.9 61.1L341.6 60.3L341.5 59.9L341.3 59.1L341.1 58.4L340.9 57.9L340.7 57.1L340.7 56.7L340.5 55.9L340.4 55.1L340.4 54.3L340.5 53.5L340.5 52.7L340.5 51.9L340.5 51.1L340.5 50.3L340.4 49.5L340.4 48.7L340.3 47.9L340.4 47.1L340.4 46.3L340.4 45.5L340.5 44.7L340.6 43.9L340.7 43.3L340.8 42.7L340.9 41.9L341.1 41.3L341.3 40.7L341.5 40.2L341.8 39.5L342.0 39.1L342.3 38.7L342.7 38.1L343.1 37.7L343.5 37.3L343.9 37.0L344.3 36.7L344.9 36.3L345.5 35.9L345.9 35.6L346.3 35.4L346.9 35.1L347.5 34.9L347.9 34.7L348.7 34.4L349.2 34.3ZM338.8 113.5L338.6 113.1L338.3 112.3L338.2 111.9L338.0 111.1L337.9 110.6L337.8 109.9L337.7 109.1L337.6 108.3L337.6 107.5L337.7 106.7L337.8 105.9L337.9 105.1L337.9 104.7L338.0 103.9L338.1 103.1L338.1 102.3L338.1 101.5L338.1 100.7L338.0 99.9L338.0 99.1L337.9 98.3L337.9 97.5L337.9 96.7L337.9 95.9L338.0 95.1L338.2 94.3L338.3 93.8L338.5 93.1L338.7 92.5L338.9 91.9L339.1 91.4L339.3 90.7L339.5 90.1L339.7 89.5L339.9 88.9L340.1 88.3L340.3 87.9L340.7 87.1L340.9 86.7L341.1 86.3L341.5 85.7L341.9 85.2L342.3 84.8L342.7 84.5L343.1 84.3L343.9 83.9L344.3 83.7L345.1 83.6L345.9 83.7L346.4 83.9L347.1 84.3L347.5 84.5L347.9 84.8L348.6 85.1L349.1 85.3L349.7 85.5L350.3 85.8L350.7 85.9L351.5 86.3L351.9 86.4L352.7 86.4L353.5 86.4L353.9 86.3L354.7 86.0L355.1 85.9L355.7 85.5L356.3 85.1L356.7 84.8L357.1 84.5L357.5 84.3L358.3 83.9L358.7 83.8L359.5 83.9L359.9 83.9L360.7 84.2L361.1 84.4L361.6 84.7L362.1 85.1L362.4 85.5L362.8 85.9L363.1 86.4L363.5 87.1L363.7 87.5L363.9 87.9L364.2 88.7L364.4 89.1L364.7 89.8L364.9 90.3L365.1 90.8L365.4 91.5L365.5 91.9L365.7 92.7L365.8 93.5L365.9 94.1L366.0 94.7L366.1 95.5L366.2 96.3L366.3 97.1L366.4 97.5L366.5 98.3L366.6 99.1L366.7 99.9L366.7 100.7L366.6 101.5L366.6 102.3L366.6 103.1L366.6 103.9L366.7 104.7L366.8 105.1L366.9 105.9L367.1 106.7L367.2 107.1L367.3 107.9L367.3 108.7L367.2 109.5L367.1 110.3L367.1 110.7L366.9 111.5L366.7 112.1L366.4 112.7L366.2 113.1M353.6 113.5L353.5 113.4L353.2 113.1L353.1 112.9L352.8 112.7L352.7 112.6L352.3 112.5L351.9 112.5L351.6 112.7L351.5 112.8L351.1 113.1L351.1 113.1L350.8 113.5M349.0 35.9L349.5 35.7L350.3 35.6L351.1 35.7L351.9 35.9L352.3 36.1L352.8 36.3L353.5 36.7L353.9 36.9L354.3 37.1L355.0 37.5L355.5 37.8L355.9 38.1L356.3 38.4L356.7 38.7L357.2 39.1L357.6 39.5L358.1 39.9L358.4 40.3L358.7 40.7L359.0 41.5L359.0 42.3L358.8 43.1L358.6 43.5L358.3 44.1L357.9 44.7L357.6 45.1L357.4 45.5L357.1 46.1L356.9 46.7L356.7 47.1L356.3 47.9L356.2 48.3L355.9 48.8L355.6 49.5L355.4 49.9L355.1 50.4L354.8 51.1L354.6 51.5L354.4 52.3L354.2 52.7L354.0 53.5L353.9 53.9L353.7 54.7L353.6 55.5L353.6 56.3L353.6 57.1L353.6 57.9L353.5 58.7L353.4 59.1L353.2 59.9L353.1 60.3L352.8 61.1L352.6 61.5L352.4 62.3L352.3 62.7L352.0 63.5L351.9 63.9L351.5 64.5L351.1 64.8L350.3 65.0L349.5 65.0L348.7 64.9L347.9 64.8L347.4 64.7L346.7 64.4L346.3 64.2L345.8 63.9L345.3 63.5L344.9 63.1L344.4 62.7L344.1 62.3L343.7 61.9L343.4 61.5L343.1 61.1L342.7 60.3L342.5 59.9L342.3 59.1L342.2 58.7L342.0 57.9L341.9 57.4L341.7 56.7L341.6 55.9L341.5 55.2L341.5 54.7L341.5 53.9L341.5 53.5L341.6 52.7L341.6 51.9L341.6 51.1L341.5 50.3L341.5 49.9L341.4 49.1L341.4 48.3L341.4 47.5L341.4 46.7L341.5 46.2L341.6 45.5L341.7 44.7L341.9 43.9L341.9 43.5L342.0 42.7L342.2 41.9L342.4 41.5L342.6 40.7L342.8 40.3L343.1 39.8L343.5 39.2L343.9 38.7L344.3 38.4L344.7 38.0L345.1 37.8L345.6 37.5L346.3 37.1L346.7 36.9L347.1 36.7L347.9 36.3L348.3 36.2L349.0 35.9ZM359.1 52.7L359.9 52.5L360.7 52.5L361.4 52.7L361.9 53.0L362.3 53.4L362.7 53.9L362.9 54.3L363.1 54.7L363.4 55.5L363.4 56.3L363.4 57.1L363.3 57.9L363.1 58.7L363.0 59.1L362.7 59.7L362.3 60.3L361.9 60.7L361.5 61.0L361.1 61.2L360.3 61.4L359.5 61.5L358.7 61.3L358.1 61.1L357.5 60.7L357.1 60.4L356.8 59.9L356.5 59.5L356.3 58.8L356.2 58.3L356.1 57.5L356.1 56.7L356.3 55.9L356.4 55.5L356.7 54.7L356.9 54.3L357.3 53.9L357.7 53.5L358.3 53.1L358.7 52.9L359.1 52.7ZM340.1 113.5L339.8 113.1L339.5 112.4L339.3 111.9L339.1 111.1L339.1 110.7L339.0 109.9L338.9 109.1L338.8 108.3L338.8 107.5L338.8 106.7L338.9 105.9L339.0 105.1L339.1 104.7L339.2 103.9L339.3 103.1L339.3 102.3L339.2 101.5L339.2 100.7L339.1 99.9L339.1 99.5L339.0 98.7L339.0 97.9L339.0 97.1L339.1 96.3L339.1 95.9L339.3 95.1L339.4 94.3L339.5 93.9L339.8 93.1L339.9 92.7L340.1 91.9L340.3 91.5L340.6 90.7L340.8 90.3L341.1 89.6L341.4 89.1L341.7 88.7L342.0 88.3L342.3 87.9L342.7 87.4L343.1 87.0L343.6 86.7L344.3 86.4L344.7 86.3L345.3 86.3L345.9 86.4L346.5 86.7L347.1 87.1L347.5 87.4L347.9 87.9L348.2 88.3L348.5 88.7L348.7 89.1L349.1 89.9L349.3 90.3L349.7 90.7L350.3 91.1L350.7 91.2L351.5 91.2L352.1 91.1L352.7 90.9L353.2 90.7L353.9 90.3L354.3 90.0L354.7 89.7L355.1 89.3L355.5 88.9L355.9 88.5L356.3 88.1L356.7 87.7L357.1 87.3L357.5 87.0L357.9 86.7L358.5 86.3L359.1 86.1L359.9 86.1L360.5 86.3L361.1 86.6L361.5 86.9L361.9 87.3L362.3 87.9L362.6 88.3L362.8 88.7L363.1 89.4L363.3 89.9L363.5 90.4L363.8 91.1L364.0 91.5L364.3 92.3L364.4 92.7L364.6 93.5L364.7 94.0L364.8 94.7L364.9 95.5L365.1 96.3L365.1 96.7L365.3 97.5L365.4 98.3L365.4 99.1L365.5 99.9L365.5 100.7L365.5 101.5L365.5 102.3L365.4 103.1L365.5 103.9L365.5 104.3L365.7 105.1L365.8 105.9L365.9 106.3L366.0 107.1L366.1 107.9L366.2 108.7L366.1 109.5L366.0 110.3L365.9 110.9L365.7 111.5L365.5 112.1L365.2 112.7L364.9 113.1L364.6 113.5M355.1 113.5L354.7 113.0L354.3 112.4L354.0 111.9L353.8 111.5L353.5 110.9L353.2 110.3L353.1 109.9L352.8 109.1L352.8 108.3L352.8 107.5L352.8 106.7L352.8 105.9L352.6 105.5L351.9 105.4L351.6 105.9L351.5 106.3L351.4 107.1L351.5 107.9L351.5 108.7L351.4 109.5L351.1 110.3L351.0 110.7L350.7 111.3L350.4 111.9L350.1 112.3L349.9 112.7L349.5 113.2M349.3 36.7L349.9 36.6L350.7 36.5L351.5 36.7L351.9 36.8L352.6 37.1L353.1 37.4L353.5 37.6L354.1 37.9L354.6 38.3L355.1 38.7L355.5 39.1L355.8 39.5L356.1 39.9L356.4 40.3L356.7 40.9L357.1 41.5L357.2 41.9L357.4 42.7L357.2 43.5L357.1 43.9L356.8 44.7L356.6 45.1L356.3 45.9L356.2 46.3L355.9 46.9L355.7 47.5L355.5 47.9L355.1 48.7L354.9 49.1L354.7 49.5L354.3 50.2L354.1 50.7L353.9 51.1L353.5 51.9L353.4 52.3L353.1 53.1L353.0 53.5L352.9 54.3L352.8 55.1L352.7 55.9L352.7 56.7L352.7 57.5L352.7 58.0L352.6 58.7L352.4 59.5L352.2 59.9L351.9 60.6L351.7 61.1L351.4 61.5L351.1 62.1L350.7 62.6L350.3 62.9L349.9 63.1L349.1 63.4L348.3 63.5L347.5 63.4L346.7 63.2L346.3 63.0L345.9 62.7L345.3 62.3L344.9 61.9L344.4 61.5L344.1 61.1L343.8 60.7L343.5 60.3L343.2 59.5L343.0 59.1L342.8 58.3L342.7 57.7L342.6 57.1L342.4 56.3L342.3 55.6L342.2 55.1L342.2 54.3L342.2 53.5L342.3 52.7L342.3 52.3L342.3 51.5L342.3 51.1L342.2 50.3L342.2 49.5L342.1 48.7L342.1 47.9L342.1 47.1L342.2 46.3L342.3 45.9L342.4 45.1L342.6 44.3L342.7 43.6L342.8 43.1L343.0 42.3L343.1 41.8L343.4 41.1L343.6 40.7L343.9 40.1L344.3 39.6L344.7 39.2L345.1 38.9L345.5 38.6L346.0 38.3L346.7 37.9L347.1 37.7L347.5 37.5L348.3 37.1L348.7 36.9L349.3 36.7ZM359.1 53.5L359.5 53.3L360.3 53.2L361.1 53.3L361.5 53.5L361.9 53.9L362.3 54.4L362.7 55.1L362.8 55.5L362.9 56.3L362.9 57.1L362.8 57.9L362.7 58.3L362.3 59.1L362.1 59.5L361.8 59.9L361.3 60.3L360.7 60.6L360.2 60.7L359.5 60.7L359.1 60.7L358.3 60.4L357.9 60.1L357.5 59.7L357.2 59.1L357.0 58.7L356.8 57.9L356.8 57.1L356.8 56.3L357.1 55.5L357.2 55.1L357.5 54.7L357.9 54.2L358.3 53.9L359.1 53.5ZM341.1 113.5L340.7 113.0L340.3 112.3L340.1 111.9L339.9 111.1L339.9 110.7L339.8 109.9L339.7 109.1L339.6 108.3L339.5 107.5L339.6 106.7L339.6 105.9L339.8 105.1L339.9 104.4L340.0 103.9L340.0 103.1L340.0 102.3L339.9 101.5L339.9 101.1L339.8 100.3L339.7 99.5L339.6 98.7L339.6 97.9L339.7 97.1L339.8 96.3L339.9 95.6L340.0 95.1L340.2 94.3L340.3 93.9L340.5 93.1L340.7 92.6L341.0 91.9L341.1 91.5L341.5 90.7L341.7 90.3L342.0 89.9L342.3 89.5L342.7 89.0L343.1 88.7L343.6 88.3L344.3 87.9L344.7 87.8L345.5 87.8L345.9 87.9L346.5 88.3L346.9 88.7L347.3 89.1L347.5 89.5L347.9 90.3L348.1 90.7L348.3 91.1L348.7 91.8L349.1 92.2L349.5 92.6L349.9 92.9L350.3 93.2L350.8 93.5L351.5 93.8L351.9 93.9L352.3 93.9L353.1 93.6L353.5 93.3L353.9 92.9L354.3 92.5L354.7 92.1L355.1 91.7L355.5 91.2L355.9 90.7L356.3 90.3L356.6 89.9L356.9 89.5L357.3 89.1L357.7 88.7L358.2 88.3L358.7 88.0L359.1 87.9L359.9 87.8L360.3 87.9L361.0 88.3L361.5 88.7L361.8 89.1L362.1 89.5L362.3 89.9L362.7 90.7L362.9 91.1L363.1 91.6L363.4 92.3L363.5 92.7L363.8 93.5L363.9 93.9L364.1 94.7L364.2 95.5L364.3 96.0L364.4 96.7L364.6 97.5L364.6 98.3L364.7 98.9L364.8 99.5L364.8 100.3L364.8 101.1L364.8 101.9L364.8 102.7L364.8 103.5L364.9 104.3L365.0 105.1L365.1 105.6L365.2 106.3L365.3 107.1L365.4 107.9L365.4 108.7L365.4 109.5L365.3 110.3L365.1 111.0L364.9 111.5L364.7 112.0L364.3 112.6L363.9 113.1L363.5 113.5M356.1 113.5L355.7 113.1L355.4 112.7L355.1 112.2L354.7 111.5L354.5 111.1L354.3 110.5L354.1 109.9L353.9 109.1L353.9 108.6L353.9 107.9L353.9 107.1L353.9 106.7L353.9 105.9L353.9 105.1L353.9 104.7L353.6 103.9L353.4 103.5L353.0 103.1L352.3 102.8L351.5 103.0L351.1 103.4L350.8 103.9L350.6 104.3L350.4 105.1L350.3 105.6L350.2 106.3L350.2 107.1L350.3 107.9L350.3 108.3L350.3 108.9L350.3 109.5L350.1 110.3L349.9 110.8L349.6 111.5L349.4 111.9L349.1 112.4L348.7 112.9L348.3 113.4M349.2 37.5L349.9 37.3L350.7 37.2L351.5 37.4L351.9 37.5L352.7 37.9L353.1 38.1L353.5 38.4L354.0 38.7L354.4 39.1L354.8 39.5L355.1 39.9L355.5 40.7L355.7 41.1L355.9 41.7L356.1 42.3L356.1 43.1L356.0 43.9L355.9 44.6L355.8 45.1L355.6 45.9L355.4 46.3L355.1 47.1L355.0 47.5L354.7 48.1L354.4 48.7L354.1 49.1L353.9 49.5L353.5 50.2L353.2 50.7L353.0 51.1L352.7 51.7L352.5 52.3L352.3 52.7L352.1 53.5L352.0 54.3L352.0 55.1L352.0 55.9L351.9 56.7L351.9 57.5L351.9 57.9L351.8 58.7L351.5 59.5L351.3 59.9L351.1 60.3L350.7 61.0L350.3 61.4L349.9 61.8L349.5 62.1L348.9 62.3L348.3 62.4L347.5 62.4L347.1 62.3L346.3 62.0L345.9 61.7L345.5 61.4L345.1 61.1L344.7 60.7L344.3 60.2L343.9 59.5L343.7 59.1L343.5 58.3L343.4 57.9L343.3 57.1L343.1 56.3L343.0 55.9L342.9 55.1L342.9 54.3L342.9 53.5L342.9 52.7L342.9 51.9L342.9 51.1L342.9 50.3L342.8 49.5L342.7 48.7L342.7 47.9L342.8 47.1L342.9 46.3L343.1 45.5L343.2 45.1L343.3 44.3L343.4 43.5L343.5 43.0L343.7 42.3L343.9 41.6L344.1 41.1L344.4 40.7L344.7 40.3L345.1 39.8L345.5 39.5L346.1 39.1L346.7 38.8L347.1 38.6L347.6 38.3L348.3 37.9L348.7 37.7L349.2 37.5ZM359.9 53.9L360.3 53.9L360.7 53.9L361.4 54.3L361.8 54.7L362.1 55.1L362.3 55.8L362.4 56.3L362.4 57.1L362.3 57.6L362.1 58.3L361.9 58.7L361.5 59.3L361.1 59.7L360.7 59.9L359.9 60.1L359.1 60.0L358.7 59.8L358.2 59.5L357.9 59.1L357.5 58.3L357.4 57.9L357.3 57.1L357.4 56.3L357.5 55.9L357.9 55.1L358.3 54.7L358.7 54.4L359.1 54.2L359.9 53.9ZM342.2 113.5L341.7 113.1L341.4 112.7L341.1 112.3L340.8 111.5L340.6 111.1L340.5 110.3L340.4 109.5L340.3 109.0L340.2 108.3L340.2 107.5L340.2 106.7L340.3 105.9L340.3 105.5L340.5 104.7L340.6 103.9L340.6 103.1L340.6 102.3L340.5 101.5L340.3 100.7L340.3 100.3L340.2 99.5L340.2 98.7L340.2 97.9L340.2 97.1L340.3 96.6L340.4 95.9L340.6 95.1L340.7 94.7L341.0 93.9L341.1 93.5L341.4 92.7L341.6 92.3L341.9 91.6L342.2 91.1L342.4 90.7L342.7 90.3L343.1 89.9L343.6 89.5L344.3 89.1L344.7 89.0L345.5 89.0L345.9 89.2L346.3 89.5L346.7 89.9L347.1 90.6L347.4 91.1L347.5 91.5L347.9 92.2L348.2 92.7L348.5 93.1L348.8 93.5L349.1 93.9L349.5 94.4L349.9 94.9L350.3 95.4L350.7 95.8L351.1 96.1L351.6 96.3L352.3 96.4L352.7 96.3L353.5 95.9L353.9 95.5L354.2 95.1L354.4 94.7L354.7 94.3L355.1 93.7L355.5 93.1L355.8 92.7L356.1 92.3L356.5 91.9L356.8 91.5L357.2 91.1L357.6 90.7L358.1 90.3L358.7 89.9L359.1 89.7L359.9 89.6L360.7 89.8L361.1 90.1L361.5 90.5L361.9 91.1L362.1 91.5L362.3 91.9L362.7 92.6L362.9 93.1L363.1 93.5L363.4 94.3L363.5 94.9L363.6 95.5L363.8 96.3L363.9 97.1L363.9 97.5L364.0 98.3L364.1 99.1L364.2 99.9L364.2 100.7L364.2 101.5L364.2 102.3L364.2 103.1L364.3 103.9L364.3 104.3L364.5 105.1L364.6 105.9L364.7 106.7L364.8 107.1L364.8 107.9L364.8 108.7L364.8 109.5L364.7 109.9L364.5 110.7L364.3 111.3L364.0 111.9L363.7 112.3L363.3 112.7L362.8 113.1L362.3 113.5M357.0 113.5L356.6 113.1L356.3 112.7L355.9 112.2L355.5 111.5L355.3 111.1L355.1 110.6L354.8 109.9L354.7 109.3L354.6 108.7L354.5 107.9L354.5 107.1L354.6 106.3L354.6 105.5L354.7 104.7L354.6 103.9L354.4 103.1L354.3 102.7L353.9 101.9L353.6 101.5L353.3 101.1L352.9 100.7L352.3 100.4L351.5 100.3L350.9 100.7L350.7 101.1L350.3 101.9L350.2 102.3L350.0 103.1L349.9 103.5L349.7 104.3L349.6 105.1L349.5 105.5L349.4 106.3L349.5 107.1L349.5 107.9L349.5 108.3L349.5 109.1L349.5 109.5L349.3 110.3L349.1 110.9L348.8 111.5L348.6 111.9L348.3 112.3L347.9 112.8L347.5 113.1L347.1 113.5M348.9 38.3L349.5 38.1L350.3 37.9L351.1 38.0L351.9 38.2L352.3 38.4L352.8 38.7L353.4 39.1L353.9 39.5L354.2 39.9L354.5 40.3L354.7 40.7L355.0 41.5L355.1 41.9L355.2 42.7L355.2 43.5L355.2 44.3L355.1 44.9L355.0 45.5L354.8 46.3L354.7 46.7L354.3 47.5L354.2 47.9L353.9 48.3L353.5 49.0L353.1 49.5L352.9 49.9L352.6 50.3L352.3 50.8L351.9 51.5L351.7 51.9L351.5 52.4L351.3 53.1L351.1 53.9L351.1 54.7L351.1 55.5L351.1 56.2L351.1 56.7L351.1 57.5L351.0 58.3L350.8 59.1L350.6 59.5L350.3 60.1L349.9 60.6L349.5 61.0L349.1 61.3L348.4 61.5L347.9 61.6L347.3 61.5L346.7 61.3L346.3 61.1L345.7 60.7L345.3 60.3L344.9 59.9L344.6 59.5L344.3 58.8L344.2 58.3L344.0 57.5L343.9 56.9L343.8 56.3L343.6 55.5L343.5 54.7L343.5 54.1L343.5 53.5L343.5 53.1L343.5 52.3L343.5 51.5L343.5 50.7L343.5 50.3L343.4 49.5L343.3 48.7L343.3 47.9L343.5 47.1L343.5 46.7L343.7 45.9L343.8 45.1L343.9 44.4L344.0 43.9L344.1 43.1L344.3 42.4L344.5 41.9L344.7 41.5L345.1 40.9L345.5 40.4L345.9 40.1L346.3 39.8L346.8 39.5L347.5 39.1L347.9 38.9L348.3 38.6L348.9 38.3ZM359.4 54.7L359.9 54.6L360.7 54.6L361.1 54.8L361.5 55.3L361.8 55.9L361.9 56.7L361.8 57.5L361.5 58.3L361.2 58.7L360.8 59.1L360.3 59.3L359.5 59.4L358.8 59.1L358.4 58.7L358.1 58.3L357.9 57.5L357.9 57.1L357.9 56.6L358.1 55.9L358.4 55.5L358.7 55.1L359.4 54.7ZM343.9 113.5L343.5 113.4L343.0 113.1L342.4 112.7L342.0 112.3L341.7 111.9L341.5 111.5L341.2 110.7L341.1 110.2L341.0 109.5L340.8 108.7L340.7 107.9L340.7 107.1L340.8 106.3L340.9 105.5L341.0 104.7L341.1 104.3L341.2 103.5L341.1 102.7L341.1 102.3L340.9 101.5L340.8 100.7L340.7 99.9L340.7 99.5L340.6 98.7L340.6 97.9L340.7 97.2L340.8 96.7L341.0 95.9L341.1 95.5L341.3 94.7L341.5 94.2L341.8 93.5L341.9 93.1L342.3 92.3L342.5 91.9L342.8 91.5L343.1 91.1L343.5 90.6L344.0 90.3L344.7 90.0L345.5 90.1L345.9 90.4L346.3 90.8L346.7 91.5L346.9 91.9L347.1 92.3L347.5 93.1L347.7 93.5L348.0 93.9L348.3 94.4L348.7 95.1L348.9 95.5L349.1 96.3L349.2 96.7L349.3 97.5L349.4 98.3L349.5 99.1L349.5 99.9L349.5 100.7L349.4 101.5L349.3 102.3L349.2 103.1L349.1 103.8L349.0 104.3L348.9 105.1L348.8 105.9L348.8 106.7L348.8 107.5L348.9 108.3L348.9 109.1L348.7 109.9L348.6 110.3L348.3 111.1L348.0 111.5L347.8 111.9L347.4 112.3L347.0 112.7L346.4 113.1L345.9 113.3L345.4 113.5M358.2 113.5L357.6 113.1L357.1 112.7L356.8 112.3L356.5 111.9L356.2 111.5L355.9 110.9L355.6 110.3L355.5 109.9L355.3 109.1L355.1 108.3L355.1 107.9L355.1 107.1L355.1 106.7L355.2 105.9L355.3 105.1L355.4 104.3L355.3 103.5L355.2 102.7L355.1 102.3L354.9 101.5L354.7 100.7L354.7 100.1L354.7 99.5L354.7 99.1L354.8 98.3L355.0 97.5L355.1 97.1L355.3 96.3L355.5 95.6L355.7 95.1L355.9 94.5L356.2 93.9L356.4 93.5L356.7 93.1L357.1 92.6L357.5 92.3L358.0 91.9L358.7 91.5L359.1 91.4L359.9 91.3L360.7 91.5L361.1 91.8L361.5 92.2L361.9 92.7L362.2 93.1L362.4 93.5L362.7 94.2L362.9 94.7L363.1 95.5L363.2 95.9L363.3 96.7L363.4 97.5L363.5 98.3L363.5 98.7L363.6 99.5L363.6 100.3L363.7 101.1L363.7 101.9L363.7 102.7L363.7 103.5L363.8 104.3L363.9 104.8L364.0 105.5L364.2 106.3L364.2 107.1L364.3 107.9L364.3 108.7L364.2 109.5L364.0 110.3L363.9 110.7L363.5 111.4L363.2 111.9L362.8 112.3L362.3 112.7L361.9 113.0L361.5 113.2L360.9 113.5M349.4 38.7L349.9 38.6L350.7 38.5L351.5 38.7L351.9 38.8L352.4 39.1L353.0 39.5L353.4 39.9L353.8 40.3L354.1 40.7L354.3 41.3L354.5 41.9L354.6 42.7L354.6 43.5L354.6 44.3L354.5 45.1L354.4 45.9L354.3 46.3L354.0 47.1L353.8 47.5L353.5 48.1L353.1 48.7L352.8 49.1L352.5 49.5L352.2 49.9L351.9 50.3L351.5 51.0L351.2 51.5L351.0 51.9L350.7 52.6L350.5 53.1L350.4 53.9L350.3 54.7L350.3 55.5L350.3 56.3L350.3 56.7L350.3 57.5L350.2 58.3L350.0 59.1L349.8 59.5L349.5 60.0L349.1 60.4L348.5 60.7L347.9 60.8L347.1 60.7L346.7 60.6L346.3 60.3L345.8 59.9L345.4 59.5L345.1 59.1L344.8 58.3L344.6 57.9L344.5 57.1L344.3 56.3L344.3 55.9L344.1 55.1L344.0 54.3L344.0 53.5L344.0 52.7L344.1 51.9L344.1 51.1L344.0 50.3L343.9 49.5L343.9 49.1L343.9 48.3L343.9 47.8L344.0 47.1L344.2 46.3L344.3 45.7L344.4 45.1L344.5 44.3L344.6 43.5L344.7 43.0L344.9 42.3L345.1 41.9L345.5 41.3L345.9 40.9L346.3 40.5L346.7 40.2L347.2 39.9L347.9 39.5L348.3 39.3L348.7 39.0L349.4 38.7ZM359.2 55.5L359.9 55.2L360.7 55.4L361.1 55.8L361.3 56.3L361.3 57.1L361.1 57.8L360.8 58.3L360.3 58.6L359.9 58.7L359.5 58.7L358.9 58.3L358.6 57.9L358.4 57.1L358.6 56.3L358.8 55.9L359.2 55.5ZM344.3 91.1L345.1 91.0L345.5 91.2L345.9 91.6L346.3 92.2L346.5 92.7L346.7 93.1L347.1 93.8L347.4 94.3L347.6 94.7L347.9 95.3L348.1 95.9L348.3 96.6L348.4 97.1L348.5 97.9L348.7 98.7L348.7 99.1L348.8 99.9L348.9 100.7L348.9 101.5L348.8 102.3L348.7 103.0L348.6 103.5L348.5 104.3L348.3 105.1L348.3 105.5L348.2 106.3L348.2 107.1L348.3 107.9L348.3 108.3L348.3 109.1L348.3 109.5L348.0 110.3L347.9 110.7L347.5 111.3L347.1 111.8L346.7 112.1L346.3 112.4L345.7 112.7L345.1 112.9L344.3 112.9L343.8 112.7L343.1 112.3L342.7 112.0L342.3 111.5L342.0 111.1L341.8 110.7L341.6 109.9L341.5 109.5L341.3 108.7L341.2 107.9L341.2 107.1L341.2 106.3L341.4 105.5L341.5 104.7L341.6 104.3L341.6 103.5L341.5 102.7L341.5 102.3L341.3 101.5L341.2 100.7L341.1 100.1L341.0 99.5L341.0 98.7L341.0 97.9L341.1 97.3L341.2 96.7L341.5 95.9L341.6 95.5L341.9 94.7L342.1 94.3L342.3 93.8L342.6 93.1L342.9 92.7L343.1 92.3L343.5 91.8L343.9 91.4L344.3 91.1ZM358.4 92.7L359.1 92.4L359.9 92.4L360.7 92.6L361.1 92.9L361.5 93.3L361.9 93.8L362.2 94.3L362.3 94.7L362.6 95.5L362.7 95.9L362.8 96.7L362.9 97.5L363.0 98.3L363.1 99.1L363.1 99.7L363.1 100.3L363.2 101.1L363.2 101.9L363.2 102.7L363.2 103.5L363.4 104.3L363.5 104.9L363.6 105.5L363.8 106.3L363.8 107.1L363.9 107.9L363.8 108.7L363.7 109.5L363.5 110.2L363.3 110.7L363.1 111.1L362.7 111.6L362.3 112.0L361.9 112.3L361.2 112.7L360.7 112.9L360.2 113.1L359.5 113.2L358.9 113.1L358.3 112.9L357.9 112.6L357.5 112.2L357.1 111.8L356.7 111.2L356.4 110.7L356.2 110.3L355.9 109.5L355.8 109.1L355.6 108.3L355.6 107.5L355.6 106.7L355.7 105.9L355.8 105.1L355.9 104.6L356.0 103.9L356.0 103.1L355.9 102.6L355.8 101.9L355.7 101.1L355.6 100.3L355.7 99.5L355.8 98.7L355.9 97.9L356.0 97.5L356.1 96.7L356.3 96.1L356.4 95.5L356.7 94.7L356.8 94.3L357.1 93.9L357.5 93.4L357.9 93.0L358.4 92.7ZM349.2 39.5L349.9 39.3L350.7 39.2L351.5 39.4L351.9 39.6L352.4 39.9L352.9 40.3L353.3 40.7L353.5 41.1L353.8 41.9L353.9 42.5L353.9 43.1L354.0 43.9L354.0 44.7L353.9 45.5L353.9 45.9L353.6 46.7L353.5 47.1L353.1 47.8L352.8 48.3L352.4 48.7L352.1 49.1L351.8 49.5L351.5 49.9L351.1 50.6L350.8 51.1L350.6 51.5L350.3 52.0L350.0 52.7L349.8 53.1L349.7 53.9L349.6 54.7L349.6 55.5L349.5 56.3L349.5 57.1L349.5 57.5L349.4 58.3L349.1 59.1L348.8 59.5L348.3 59.9L347.9 60.0L347.1 59.9L346.7 59.7L346.3 59.5L345.9 59.1L345.5 58.4L345.3 57.9L345.1 57.2L345.0 56.7L344.8 55.9L344.7 55.3L344.6 54.7L344.5 53.9L344.6 53.1L344.6 52.3L344.6 51.5L344.6 50.7L344.5 49.9L344.4 49.1L344.4 48.3L344.5 47.5L344.7 46.7L344.8 46.3L344.9 45.5L345.0 44.7L345.1 43.9L345.2 43.5L345.4 42.7L345.6 42.3L345.9 41.8L346.3 41.3L346.7 41.0L347.1 40.7L347.7 40.3L348.3 40.0L348.7 39.7L349.2 39.5ZM359.7 56.3L359.9 56.2L360.2 56.3L360.3 56.4L360.5 56.7L360.5 57.1L360.3 57.5L360.3 57.5L359.9 57.7L359.5 57.6L359.4 57.5L359.3 57.1L359.3 56.7L359.5 56.5L359.7 56.3ZM344.6 92.3L345.0 92.3L345.5 92.6L345.8 93.1L346.1 93.5L346.3 93.9L346.7 94.5L347.0 95.1L347.2 95.5L347.5 96.3L347.6 96.7L347.8 97.5L347.9 97.9L348.1 98.7L348.2 99.5L348.3 100.1L348.4 100.7L348.4 101.5L348.3 102.3L348.3 102.7L348.1 103.5L348.0 104.3L347.9 104.7L347.7 105.5L347.7 106.3L347.7 107.1L347.8 107.9L347.8 108.7L347.7 109.5L347.5 110.2L347.2 110.7L346.9 111.1L346.4 111.5L345.9 111.8L345.5 112.0L344.7 112.1L343.9 111.9L343.5 111.7L343.1 111.3L342.7 110.9L342.3 110.3L342.1 109.9L341.9 109.3L341.8 108.7L341.6 107.9L341.6 107.1L341.7 106.3L341.8 105.5L341.9 105.1L342.0 104.3L342.0 103.5L341.9 102.7L341.8 102.3L341.7 101.5L341.6 100.7L341.5 100.3L341.4 99.5L341.4 98.7L341.4 97.9L341.5 97.5L341.7 96.7L341.9 96.1L342.2 95.5L342.4 95.1L342.7 94.5L343.0 93.9L343.3 93.5L343.6 93.1L343.9 92.7L344.6 92.3ZM358.6 93.5L359.1 93.3L359.9 93.3L360.7 93.5L361.1 93.8L361.5 94.3L361.7 94.7L361.9 95.1L362.2 95.9L362.3 96.4L362.4 97.1L362.5 97.9L362.5 98.7L362.6 99.5L362.6 100.3L362.6 101.1L362.6 101.9L362.7 102.7L362.7 103.1L362.8 103.9L363.0 104.7L363.1 105.1L363.3 105.9L363.4 106.7L363.4 107.5L363.4 108.3L363.3 109.1L363.1 109.8L362.9 110.3L362.7 110.7L362.3 111.2L361.9 111.5L361.4 111.9L360.7 112.2L360.3 112.4L359.5 112.5L358.7 112.3L358.3 112.1L357.9 111.7L357.5 111.3L357.1 110.8L356.8 110.3L356.6 109.9L356.3 109.1L356.2 108.7L356.1 107.9L356.1 107.1L356.1 106.3L356.3 105.5L356.4 105.1L356.6 104.3L356.7 103.7L356.7 103.1L356.7 102.6L356.6 101.9L356.5 101.1L356.5 100.3L356.5 99.5L356.6 98.7L356.7 97.9L356.7 97.5L356.9 96.7L357.1 96.0L357.2 95.5L357.5 94.7L357.7 94.3L358.1 93.9L358.6 93.5ZM349.0 40.3L349.5 40.1L350.3 39.9L351.1 40.0L351.7 40.3L352.3 40.7L352.7 41.0L353.0 41.5L353.2 41.9L353.3 42.7L353.4 43.5L353.4 44.3L353.5 45.1L353.4 45.9L353.2 46.7L353.0 47.1L352.7 47.6L352.3 48.2L351.9 48.7L351.5 49.1L351.2 49.5L350.9 49.9L350.7 50.3L350.3 51.0L350.0 51.5L349.8 51.9L349.5 52.5L349.3 53.1L349.1 53.8L349.0 54.3L349.0 55.1L348.9 55.9L348.8 56.7L348.7 57.5L348.7 57.9L348.3 58.7L347.9 59.0L347.5 59.1L347.1 59.0L346.6 58.7L346.2 58.3L345.9 57.7L345.7 57.1L345.5 56.4L345.4 55.9L345.2 55.1L345.1 54.5L345.1 53.9L345.1 53.1L345.1 52.7L345.1 51.9L345.1 51.1L345.1 50.7L345.0 49.9L344.9 49.1L344.9 48.3L345.0 47.5L345.1 47.1L345.3 46.3L345.4 45.5L345.5 44.7L345.5 44.3L345.7 43.5L345.9 42.9L346.2 42.3L346.5 41.9L346.9 41.5L347.5 41.1L347.9 40.9L348.3 40.6L349.0 40.3ZM343.9 94.3L344.7 93.9L345.4 94.3L345.8 94.7L346.1 95.1L346.4 95.5L346.7 96.1L347.0 96.7L347.1 97.1L347.3 97.9L347.5 98.4L347.7 99.1L347.9 99.9L347.9 100.3L348.0 101.1L347.9 101.9L347.9 102.3L347.8 103.1L347.6 103.9L347.5 104.3L347.3 105.1L347.2 105.9L347.2 106.7L347.3 107.5L347.3 108.3L347.3 109.1L347.1 109.8L346.8 110.3L346.5 110.7L345.9 111.1L345.5 111.2L344.7 111.3L344.0 111.1L343.5 110.8L343.1 110.4L342.7 109.9L342.5 109.5L342.3 109.0L342.1 108.3L342.0 107.5L342.1 106.7L342.2 105.9L342.3 105.2L342.4 104.7L342.4 103.9L342.4 103.1L342.3 102.7L342.1 101.9L342.0 101.1L341.9 100.7L341.8 99.9L341.7 99.1L341.8 98.3L341.9 97.6L342.1 97.1L342.3 96.5L342.6 95.9L342.9 95.5L343.2 95.1L343.5 94.7L343.9 94.3ZM358.8 94.3L359.5 94.0L360.3 94.1L360.7 94.4L361.1 94.7L361.5 95.4L361.7 95.9L361.9 96.7L361.9 97.1L362.0 97.9L362.0 98.7L362.0 99.5L362.0 100.3L362.1 101.1L362.1 101.9L362.1 102.7L362.2 103.5L362.3 103.9L362.6 104.7L362.7 105.1L362.9 105.9L363.0 106.7L363.1 107.5L363.0 108.3L362.9 109.1L362.7 109.6L362.3 110.3L362.0 110.7L361.5 111.1L361.1 111.4L360.7 111.6L359.9 111.8L359.1 111.7L358.7 111.5L358.1 111.1L357.8 110.7L357.5 110.3L357.1 109.6L356.9 109.1L356.7 108.3L356.6 107.9L356.6 107.1L356.7 106.3L356.8 105.9L357.0 105.1L357.1 104.7L357.4 103.9L357.5 103.5L357.6 102.7L357.5 101.9L357.5 101.5L357.3 100.7L357.2 99.9L357.2 99.1L357.2 98.3L357.4 97.5L357.5 96.9L357.7 96.3L357.9 95.5L358.1 95.1L358.4 94.7L358.8 94.3ZM348.8 41.1L349.5 40.9L350.3 40.8L351.1 40.9L351.6 41.1L352.1 41.5L352.4 41.9L352.7 42.7L352.7 43.1L352.9 43.9L353.0 44.7L353.0 45.5L352.9 46.3L352.7 46.8L352.3 47.5L352.0 47.9L351.7 48.3L351.3 48.7L351.0 49.1L350.7 49.5L350.3 50.1L349.9 50.7L349.7 51.1L349.5 51.5L349.1 52.2L348.9 52.7L348.7 53.1L348.5 53.9L348.4 54.7L348.3 55.5L348.2 55.9L348.0 56.7L347.9 57.1L347.5 57.7L346.9 57.5L346.5 57.1L346.3 56.7L346.0 55.9L345.8 55.5L345.7 54.7L345.6 53.9L345.6 53.1L345.7 52.3L345.7 51.5L345.6 50.7L345.5 50.2L345.4 49.5L345.3 48.7L345.4 47.9L345.5 47.4L345.7 46.7L345.8 45.9L345.9 45.1L345.9 44.7L346.1 43.9L346.3 43.3L346.6 42.7L346.9 42.3L347.3 41.9L347.9 41.5L348.3 41.3L348.8 41.1ZM359.0 95.1L359.5 94.8L360.3 94.9L360.7 95.2L361.1 95.8L361.3 96.3L361.4 97.1L361.5 97.9L361.4 98.7L361.4 99.5L361.3 100.3L361.3 101.1L361.3 101.9L361.4 102.7L361.5 103.1L361.8 103.9L362.0 104.3L362.3 105.1L362.4 105.5L362.6 106.3L362.7 106.9L362.7 107.5L362.7 107.9L362.6 108.7L362.3 109.4L362.0 109.9L361.6 110.3L361.1 110.7L360.7 110.9L359.9 111.1L359.1 110.9L358.7 110.7L358.2 110.3L357.9 109.9L357.5 109.1L357.4 108.7L357.3 107.9L357.2 107.1L357.3 106.3L357.5 105.5L357.7 105.1L357.9 104.6L358.2 103.9L358.4 103.5L358.7 102.7L358.7 102.3L358.7 101.9L358.4 101.1L358.3 100.7L358.0 99.9L357.9 99.5L357.8 98.7L357.9 97.9L357.9 97.5L358.1 96.7L358.3 96.2L358.6 95.5L359.0 95.1ZM343.7 95.9L344.3 95.6L345.1 95.6L345.5 95.9L345.9 96.3L346.3 96.9L346.6 97.5L346.8 97.9L347.1 98.6L347.3 99.1L347.5 99.9L347.5 100.3L347.6 101.1L347.6 101.9L347.5 102.5L347.4 103.1L347.2 103.9L347.1 104.3L346.8 105.1L346.7 105.9L346.8 106.7L346.8 107.5L346.9 108.3L346.8 109.1L346.7 109.5L346.3 110.1L345.9 110.4L345.1 110.6L344.3 110.5L343.8 110.3L343.3 109.9L343.0 109.5L342.7 108.9L342.5 108.3L342.4 107.5L342.5 106.7L342.6 105.9L342.7 105.3L342.8 104.7L342.8 103.9L342.7 103.1L342.6 102.7L342.5 101.9L342.3 101.1L342.2 100.7L342.1 99.9L342.1 99.1L342.2 98.3L342.3 97.8L342.6 97.1L342.9 96.7L343.2 96.3L343.7 95.9ZM348.6 41.9L349.1 41.7L349.9 41.6L350.7 41.8L351.1 41.9L351.5 42.3L351.9 42.9L352.1 43.5L352.3 44.1L352.4 44.7L352.5 45.5L352.4 46.3L352.3 46.7L351.9 47.4L351.5 47.9L351.1 48.3L350.7 48.7L350.4 49.1L350.1 49.5L349.8 49.9L349.5 50.5L349.1 51.1L348.9 51.5L348.6 51.9L348.3 52.4L347.9 53.1L347.7 53.5L347.6 54.3L347.4 54.7L347.1 55.2L346.7 54.9L346.5 54.3L346.5 53.5L346.5 52.7L346.5 51.9L346.3 51.1L346.2 50.7L346.0 49.9L345.9 49.2L345.9 48.7L345.9 48.2L346.0 47.5L346.1 46.7L346.2 45.9L346.3 45.5L346.4 44.7L346.6 43.9L346.8 43.5L347.1 43.0L347.5 42.6L347.9 42.3L348.6 41.9ZM359.5 95.9L360.0 95.9L360.5 96.3L360.7 96.7L360.8 97.5L360.7 98.3L360.6 98.7L360.4 99.5L360.0 99.9L359.5 100.0L359.1 99.7L358.7 99.1L358.6 98.7L358.6 97.9L358.7 97.2L358.9 96.7L359.1 96.3L359.5 95.9ZM343.9 97.1L344.3 97.0L344.9 97.1L345.5 97.4L345.9 97.7L346.3 98.2L346.6 98.7L346.8 99.1L347.1 99.9L347.2 100.3L347.2 101.1L347.2 101.9L347.1 102.5L347.0 103.1L346.7 103.9L346.6 104.3L346.3 105.1L346.3 105.5L346.2 106.3L346.3 106.9L346.4 107.5L346.4 108.3L346.3 108.9L346.0 109.5L345.5 109.8L345.1 109.9L344.5 109.9L343.9 109.6L343.5 109.2L343.2 108.7L343.0 108.3L342.9 107.5L343.0 106.7L343.1 105.9L343.2 105.5L343.2 104.7L343.2 103.9L343.1 103.1L343.0 102.7L342.8 101.9L342.7 101.3L342.6 100.7L342.5 99.9L342.5 99.1L342.7 98.3L342.9 97.9L343.2 97.5L343.9 97.1ZM359.7 103.5L360.3 103.3L360.7 103.5L361.1 103.9L361.5 104.5L361.8 105.1L362.0 105.5L362.2 106.3L362.3 106.9L362.3 107.5L362.3 107.9L362.1 108.7L361.9 109.1L361.5 109.6L361.1 109.9L360.3 110.2L359.5 110.2L359.0 109.9L358.6 109.5L358.3 108.9L358.2 108.3L358.1 107.5L358.0 106.7L358.2 105.9L358.3 105.5L358.7 104.7L358.9 104.3L359.3 103.9L359.7 103.5ZM348.5 42.7L349.1 42.5L349.9 42.5L350.5 42.7L351.1 43.1L351.4 43.5L351.6 43.9L351.9 44.7L352.0 45.1L352.0 45.9L351.9 46.4L351.6 47.1L351.3 47.5L350.9 47.9L350.5 48.3L350.1 48.7L349.7 49.1L349.4 49.5L349.1 50.0L348.7 50.6L348.3 51.0L347.9 51.3L347.3 51.1L347.0 50.7L346.7 50.0L346.6 49.5L346.5 48.7L346.5 47.9L346.6 47.1L346.6 46.3L346.7 45.7L346.8 45.1L347.0 44.3L347.2 43.9L347.5 43.4L347.9 43.0L348.5 42.7ZM343.5 98.3L343.9 98.1L344.7 98.0L345.5 98.3L345.9 98.6L346.3 99.1L346.5 99.5L346.7 100.0L346.8 100.7L346.9 101.5L346.7 102.3L346.6 102.7L346.4 103.5L346.2 103.9L345.9 104.6L345.7 105.1L345.6 105.9L345.7 106.7L345.8 107.5L345.8 108.3L345.5 109.0L345.1 109.2L344.3 109.1L343.9 108.8L343.6 108.3L343.5 107.9L343.5 107.1L343.5 106.7L343.7 105.9L343.8 105.1L343.7 104.3L343.6 103.5L343.5 103.1L343.3 102.3L343.1 101.5L343.0 101.1L342.9 100.3L342.9 99.5L343.1 98.8L343.5 98.3ZM359.7 104.7L360.3 104.5L360.8 104.7L361.2 105.1L361.5 105.6L361.7 106.3L361.9 107.1L361.8 107.9L361.5 108.7L361.1 109.1L360.7 109.3L359.9 109.3L359.5 109.0L359.1 108.3L359.0 107.9L358.9 107.1L358.9 106.3L359.1 105.5L359.3 105.1L359.7 104.7ZM348.4 43.5L349.1 43.3L349.9 43.4L350.3 43.6L350.7 43.9L351.1 44.5L351.4 45.1L351.4 45.9L351.2 46.7L351.0 47.1L350.7 47.5L350.2 47.9L349.7 48.3L349.3 48.7L348.8 49.1L348.3 49.5L347.9 49.5L347.5 49.2L347.3 48.7L347.2 47.9L347.1 47.1L347.1 46.3L347.2 45.5L347.4 44.7L347.6 44.3L347.9 43.9L348.4 43.5ZM343.8 99.1L344.3 98.8L345.1 98.9L345.5 99.1L345.9 99.5L346.3 100.3L346.4 100.7L346.4 101.5L346.3 102.2L346.1 102.7L345.9 103.2L345.5 103.8L345.1 104.2L344.4 103.9L344.2 103.5L343.9 102.7L343.8 102.3L343.6 101.5L343.5 101.1L343.4 100.3L343.5 99.6L343.8 99.1ZM360.2 105.9L360.3 105.8L360.7 105.9L360.7 105.9L361.0 106.3L361.1 106.5L361.1 106.7L361.2 107.1L361.1 107.5L361.1 107.6L360.9 107.9L360.7 108.0L360.3 107.9L360.3 107.9L360.0 107.5L359.9 107.2L359.9 107.1L359.8 106.7L359.9 106.3L359.9 106.3L360.2 105.9Z" fill="none" stroke="#2a2a2a" stroke-width="0.4" stroke-linejoin="round"/>
<path d="M341.7 48.0h.6M352.9 42.6h.6M361.3 40.4h.6M360.4 74.7h.6M353.8 30.8h.6M365.0 46.1h.6M346.1 43.1h.6M352.1 40.7h.6M343.9 55.3h.6M339.9 51.8h.6M371.7 56.8h.6M350.3 45.4h.6M356.1 47.7h.6M352.2 52.4h.6M356.8 59.2h.6M357.2 43.0h.6M354.9 50.5h.6M344.3 51.1h.6M344.5 49.9h.6M350.3 50.5h.6M361.7 45.6h.6M352.2 58.9h.6M348.5 43.9h.6M358.3 44.4h.6M352.4 52.5h.6M355.5 52.1h.6M349.7 51.9h.6M354.0 44.2h.6M352.1 45.4h.6M347.4 49.2h.6M358.2 43.3h.6M350.4 50.1h.6M352.7 52.2h.6M338.6 37.4h.6M351.4 62.9h.6M347.7 56.1h.6M349.8 35.5h.6M334.9 53.4h.6M358.0 31.6h.6M346.2 66.3h.6M359.0 57.3h.6M359.0 35.3h.6M356.5 49.0h.6M349.9 56.1h.6M350.3 47.6h.6M356.4 60.0h.6M357.0 41.4h.6M347.4 55.5h.6M348.2 45.6h.6M350.2 37.2h.6M345.3 40.9h.6M357.7 46.1h.6M358.1 54.2h.6M351.9 39.4h.6M352.1 60.8h.6M349.5 66.4h.6M360.6 52.3h.6M340.6 63.1h.6M342.2 48.1h.6M345.9 49.8h.6M354.3 64.0h.6M350.3 51.0h.6M348.2 58.0h.6M337.8 42.6h.6M344.6 52.8h.6M357.5 54.0h.6M341.8 45.5h.6M350.4 51.2h.6M354.2 50.9h.6M354.4 51.9h.6M365.1 51.0h.6M359.8 53.4h.6M340.1 38.7h.6M352.1 50.7h.6M347.6 46.9h.6M346.2 47.1h.6M349.8 53.4h.6M339.6 66.8h.6M351.4 50.8h.6M365.3 46.5h.6M353.7 81.9h.6M353.0 84.8h.6M351.6 85.8h.6M344.3 70.9h.6M351.3 67.6h.6M351.7 88.0h.6M353.3 60.7h.6M353.8 86.0h.6M361.0 75.8h.6M347.1 82.2h.6M349.1 70.7h.6M350.1 63.9h.6M357.7 70.1h.6M354.8 62.6h.6M343.0 74.9h.6M350.7 76.2h.6M352.6 80.4h.6M354.5 77.4h.6M348.0 75.8h.6M350.1 70.2h.6M357.2 70.3h.6M352.7 64.5h.6M365.3 78.8h.6M364.8 65.4h.6M346.2 72.6h.6M353.2 70.2h.6M352.3 75.0h.6M350.1 73.8h.6M355.0 80.1h.6M345.3 70.6h.6M348.9 85.1h.6M351.6 81.1h.6M354.8 77.9h.6M352.7 73.4h.6M352.1 90.6h.6M358.9 79.8h.6M345.5 64.7h.6M356.6 65.1h.6M346.7 69.4h.6M355.1 77.6h.6M349.2 85.8h.6M359.8 78.5h.6M353.1 82.4h.6M356.8 65.7h.6M357.5 65.8h.6M350.2 78.4h.6M357.2 95.2h.6M359.5 62.1h.6M357.1 72.2h.6M359.9 66.2h.6M352.2 82.8h.6M360.3 61.4h.6M349.4 75.0h.6M352.5 79.6h.6M357.6 77.9h.6M355.6 79.6h.6M348.1 73.8h.6M351.8 88.1h.6M347.2 73.4h.6M353.0 81.1h.6M351.5 70.1h.6M348.9 83.7h.6M351.7 75.3h.6M351.6 70.9h.6M347.5 59.3h.6M355.8 68.7h.6M353.3 66.7h.6M350.6 86.1h.6M351.8 88.2h.6M355.3 72.6h.6M351.3 78.4h.6M350.4 77.3h.6M356.7 77.1h.6M351.4 74.4h.6M350.5 78.9h.6M364.3 71.2h.6M363.6 77.9h.6M359.9 75.2h.6M352.9 93.8h.6M347.1 77.5h.6M355.9 77.3h.6M350.3 67.4h.6M356.4 71.4h.6M366.1 77.0h.6M358.0 68.5h.6M342.3 72.1h.6M360.6 64.1h.6M344.6 86.2h.6M351.2 58.5h.6M346.6 55.7h.6M345.3 84.5h.6M352.8 80.5h.6M346.7 60.0h.6M347.8 55.9h.6M354.6 80.2h.6M353.2 82.7h.6M349.0 87.4h.6M343.5 67.3h.6M362.7 74.1h.6M362.3 82.8h.6M349.8 95.3h.6M353.2 56.9h.6M355.7 83.0h.6M360.9 96.0h.6M357.3 77.4h.6M346.3 72.5h.6M353.2 82.1h.6M343.2 67.0h.6M352.9 91.1h.6M357.7 77.4h.6M374.4 106.0h.6M355.0 91.5h.6M338.2 103.2h.6M346.9 95.7h.6M346.7 101.9h.6M349.3 102.9h.6M340.8 89.2h.6M347.7 90.3h.6M354.6 99.0h.6M351.0 104.8h.6M360.5 97.4h.6M360.1 100.3h.6M355.5 94.7h.6M338.7 96.2h.6M352.0 90.4h.6M350.5 95.0h.6M357.0 105.9h.6M366.1 105.1h.6M345.0 90.1h.6M352.1 96.8h.6M348.7 86.1h.6M367.1 107.0h.6M354.6 93.7h.6M360.9 111.0h.6M358.1 96.9h.6M343.5 100.9h.6M355.4 95.7h.6M344.3 100.8h.6M369.2 106.4h.6M343.9 105.0h.6M351.2 101.4h.6M356.7 96.3h.6M346.1 104.5h.6M359.7 103.4h.6M361.6 94.6h.6M350.4 97.1h.6M346.7 99.0h.6M358.1 105.1h.6M353.5 109.9h.6M349.1 98.1h.6M352.1 104.3h.6M345.1 105.2h.6M372.2 102.3h.6M359.3 88.3h.6M340.7 86.3h.6M354.7 103.9h.6M339.4 102.0h.6M362.3 110.5h.6M357.1 101.9h.6M345.4 96.6h.6M339.2 100.2h.6M356.8 97.5h.6M342.4 103.4h.6M351.7 103.6h.6M339.8 95.8h.6M359.2 89.3h.6M357.2 107.8h.6M355.1 103.7h.6M348.9 109.0h.6M356.2 104.6h.6M357.5 106.5h.6M352.6 97.4h.6M356.2 91.0h.6M341.0 98.8h.6M343.6 97.2h.6M366.4 108.4h.6M354.7 96.1h.6M362.3 56.5h.6M363.8 66.8h.6M363.1 53.8h.6M361.6 55.3h.6M361.4 65.3h.6M358.3 43.4h.6M365.2 66.7h.6M371.3 66.2h.6M363.7 55.3h.6M363.4 48.6h.6M364.8 55.9h.6M359.3 50.5h.6M361.3 55.6h.6M355.8 51.4h.6M366.7 52.1h.6M351.2 50.6h.6M364.4 60.1h.6M355.6 60.3h.6M365.9 68.2h.6M358.6 70.5h.6M365.7 69.5h.6M360.4 57.6h.6M366.4 56.1h.6M362.3 54.4h.6M367.7 61.9h.6M356.1 60.7h.6M359.8 54.5h.6M365.8 53.3h.6M358.3 59.9h.6M361.5 68.8h.6M351.5 54.1h.6M366.5 64.2h.6M365.0 50.0h.6M366.9 70.9h.6M361.1 59.3h.6M356.4 63.3h.6M356.9 61.4h.6M366.6 64.3h.6M360.6 69.2h.6M366.2 59.4h.6" fill="none" stroke="#444" stroke-width="0.6" opacity="0.85"/>
<path d="M338.9 112.9A17.15 3.7 0 0 1 373.2 112.9Z" fill="#666" fill-opacity="0.35" stroke="#1e1e1e" stroke-width="1.15"/>
<path d="M342.4 112.9A13.65 2.1 0 0 1 369.7 112.9" fill="none" stroke="#222" stroke-width="0.7"/>
<path d="M336.7 112.9A19.35 5.2 0 0 1 375.4 112.9" fill="none" stroke="#444" stroke-width="0.4"/>
<path d="M312.3 24.7H401.7V113.2" fill="none" stroke="#9c9c9c" stroke-width="0.8"/>
<path d="M312.3 24.3V113.2H402.0" fill="none" stroke="#777" stroke-width="1"/>
<line x1="309.2" y1="113.2" x2="312.3" y2="113.2" stroke="#666" stroke-width="0.9"/>
<text transform="translate(308.9,115.9) scale(1.1,1)" font-size="7.8" text-anchor="end" fill="#222">10<tspan dy="-3.0" font-size="6.0">0</tspan></text>
<line x1="311" y1="106.54" x2="312.3" y2="106.54" stroke="#777" stroke-width="0.45"/>
<line x1="311" y1="102.64" x2="312.3" y2="102.64" stroke="#777" stroke-width="0.45"/>
<line x1="311" y1="99.88" x2="312.3" y2="99.88" stroke="#777" stroke-width="0.45"/>
<line x1="311" y1="97.74" x2="312.3" y2="97.74" stroke="#777" stroke-width="0.45"/>
<line x1="311" y1="95.98" x2="312.3" y2="95.98" stroke="#777" stroke-width="0.45"/>
<line x1="311" y1="94.5" x2="312.3" y2="94.5" stroke="#777" stroke-width="0.45"/>
<line x1="311" y1="93.22" x2="312.3" y2="93.22" stroke="#777" stroke-width="0.45"/>
<line x1="311" y1="92.09" x2="312.3" y2="92.09" stroke="#777" stroke-width="0.45"/>
<line x1="309.2" y1="91.08" x2="312.3" y2="91.08" stroke="#666" stroke-width="0.9"/>
<text transform="translate(308.9,93.78) scale(1.1,1)" font-size="7.8" text-anchor="end" fill="#222">10<tspan dy="-3.0" font-size="6.0">1</tspan></text>
<line x1="311" y1="84.41" x2="312.3" y2="84.41" stroke="#777" stroke-width="0.45"/>
<line x1="311" y1="80.52" x2="312.3" y2="80.52" stroke="#777" stroke-width="0.45"/>
<line x1="311" y1="77.75" x2="312.3" y2="77.75" stroke="#777" stroke-width="0.45"/>
<line x1="311" y1="75.61" x2="312.3" y2="75.61" stroke="#777" stroke-width="0.45"/>
<line x1="311" y1="73.86" x2="312.3" y2="73.86" stroke="#777" stroke-width="0.45"/>
<line x1="311" y1="72.38" x2="312.3" y2="72.38" stroke="#777" stroke-width="0.45"/>
<line x1="311" y1="71.09" x2="312.3" y2="71.09" stroke="#777" stroke-width="0.45"/>
<line x1="311" y1="69.96" x2="312.3" y2="69.96" stroke="#777" stroke-width="0.45"/>
<line x1="309.2" y1="68.95" x2="312.3" y2="68.95" stroke="#666" stroke-width="0.9"/>
<text transform="translate(308.9,71.65) scale(1.1,1)" font-size="7.8" text-anchor="end" fill="#222">10<tspan dy="-3.0" font-size="6.0">2</tspan></text>
<line x1="311" y1="62.29" x2="312.3" y2="62.29" stroke="#777" stroke-width="0.45"/>
<line x1="311" y1="58.39" x2="312.3" y2="58.39" stroke="#777" stroke-width="0.45"/>
<line x1="311" y1="55.63" x2="312.3" y2="55.63" stroke="#777" stroke-width="0.45"/>
<line x1="311" y1="53.49" x2="312.3" y2="53.49" stroke="#777" stroke-width="0.45"/>
<line x1="311" y1="51.73" x2="312.3" y2="51.73" stroke="#777" stroke-width="0.45"/>
<line x1="311" y1="50.25" x2="312.3" y2="50.25" stroke="#777" stroke-width="0.45"/>
<line x1="311" y1="48.97" x2="312.3" y2="48.97" stroke="#777" stroke-width="0.45"/>
<line x1="311" y1="47.84" x2="312.3" y2="47.84" stroke="#777" stroke-width="0.45"/>
<line x1="309.2" y1="46.83" x2="312.3" y2="46.83" stroke="#666" stroke-width="0.9"/>
<text transform="translate(308.9,49.53) scale(1.1,1)" font-size="7.8" text-anchor="end" fill="#222">10<tspan dy="-3.0" font-size="6.0">3</tspan></text>
<line x1="311" y1="40.16" x2="312.3" y2="40.16" stroke="#777" stroke-width="0.45"/>
<line x1="311" y1="36.27" x2="312.3" y2="36.27" stroke="#777" stroke-width="0.45"/>
<line x1="311" y1="33.5" x2="312.3" y2="33.5" stroke="#777" stroke-width="0.45"/>
<line x1="311" y1="31.36" x2="312.3" y2="31.36" stroke="#777" stroke-width="0.45"/>
<line x1="311" y1="29.61" x2="312.3" y2="29.61" stroke="#777" stroke-width="0.45"/>
<line x1="311" y1="28.13" x2="312.3" y2="28.13" stroke="#777" stroke-width="0.45"/>
<line x1="311" y1="26.84" x2="312.3" y2="26.84" stroke="#777" stroke-width="0.45"/>
<line x1="311" y1="25.71" x2="312.3" y2="25.71" stroke="#777" stroke-width="0.45"/>
<line x1="309.2" y1="24.7" x2="312.3" y2="24.7" stroke="#666" stroke-width="0.9"/>
<text transform="translate(308.9,27.4) scale(1.1,1)" font-size="7.8" text-anchor="end" fill="#222">10<tspan dy="-3.0" font-size="6.0">4</tspan></text>
<line x1="312.3" y1="113.2" x2="312.3" y2="115.8" stroke="#555" stroke-width="0.9"/>
<text transform="translate(308.3,125.5) scale(0.88,1)" font-size="8.2" fill="#222">10<tspan dy="-2.9" font-size="6.4">0</tspan></text>
<line x1="319.68" y1="113.2" x2="319.68" y2="114.5" stroke="#777" stroke-width="0.45"/>
<line x1="323.99" y1="113.2" x2="323.99" y2="114.5" stroke="#777" stroke-width="0.45"/>
<line x1="327.05" y1="113.2" x2="327.05" y2="114.5" stroke="#777" stroke-width="0.45"/>
<line x1="329.42" y1="113.2" x2="329.42" y2="114.5" stroke="#777" stroke-width="0.45"/>
<line x1="331.36" y1="113.2" x2="331.36" y2="114.5" stroke="#777" stroke-width="0.45"/>
<line x1="333" y1="113.2" x2="333" y2="114.5" stroke="#777" stroke-width="0.45"/>
<line x1="334.43" y1="113.2" x2="334.43" y2="114.5" stroke="#777" stroke-width="0.45"/>
<line x1="335.68" y1="113.2" x2="335.68" y2="114.5" stroke="#777" stroke-width="0.45"/>
<line x1="336.8" y1="113.2" x2="336.8" y2="115.8" stroke="#555" stroke-width="0.9"/>
<text transform="translate(332.8,125.5) scale(0.88,1)" font-size="8.2" fill="#222">10<tspan dy="-2.9" font-size="6.4">1</tspan></text>
<line x1="344.18" y1="113.2" x2="344.18" y2="114.5" stroke="#777" stroke-width="0.45"/>
<line x1="348.49" y1="113.2" x2="348.49" y2="114.5" stroke="#777" stroke-width="0.45"/>
<line x1="351.55" y1="113.2" x2="351.55" y2="114.5" stroke="#777" stroke-width="0.45"/>
<line x1="353.92" y1="113.2" x2="353.92" y2="114.5" stroke="#777" stroke-width="0.45"/>
<line x1="355.86" y1="113.2" x2="355.86" y2="114.5" stroke="#777" stroke-width="0.45"/>
<line x1="357.5" y1="113.2" x2="357.5" y2="114.5" stroke="#777" stroke-width="0.45"/>
<line x1="358.93" y1="113.2" x2="358.93" y2="114.5" stroke="#777" stroke-width="0.45"/>
<line x1="360.18" y1="113.2" x2="360.18" y2="114.5" stroke="#777" stroke-width="0.45"/>
<line x1="361.3" y1="113.2" x2="361.3" y2="115.8" stroke="#555" stroke-width="0.9"/>
<text transform="translate(357.3,125.5) scale(0.88,1)" font-size="8.2" fill="#222">10<tspan dy="-2.9" font-size="6.4">2</tspan></text>
<line x1="368.68" y1="113.2" x2="368.68" y2="114.5" stroke="#777" stroke-width="0.45"/>
<line x1="372.99" y1="113.2" x2="372.99" y2="114.5" stroke="#777" stroke-width="0.45"/>
<line x1="376.05" y1="113.2" x2="376.05" y2="114.5" stroke="#777" stroke-width="0.45"/>
<line x1="378.42" y1="113.2" x2="378.42" y2="114.5" stroke="#777" stroke-width="0.45"/>
<line x1="380.36" y1="113.2" x2="380.36" y2="114.5" stroke="#777" stroke-width="0.45"/>
<line x1="382" y1="113.2" x2="382" y2="114.5" stroke="#777" stroke-width="0.45"/>
<line x1="383.43" y1="113.2" x2="383.43" y2="114.5" stroke="#777" stroke-width="0.45"/>
<line x1="384.68" y1="113.2" x2="384.68" y2="114.5" stroke="#777" stroke-width="0.45"/>
<line x1="385.8" y1="113.2" x2="385.8" y2="115.8" stroke="#555" stroke-width="0.9"/>
<text transform="translate(381.8,125.5) scale(0.88,1)" font-size="8.2" fill="#222">10<tspan dy="-2.9" font-size="6.4">3</tspan></text>
<line x1="393.18" y1="113.2" x2="393.18" y2="114.5" stroke="#777" stroke-width="0.45"/>
<line x1="397.49" y1="113.2" x2="397.49" y2="114.5" stroke="#777" stroke-width="0.45"/>
<line x1="400.55" y1="113.2" x2="400.55" y2="114.5" stroke="#777" stroke-width="0.45"/>
<rect x="331.5" y="26" width="63.19999999999999" height="40.2" fill="none" stroke="#b5284b" stroke-width="1.35"/>
<text transform="translate(370.3,35.3)" font-size="7.7" fill="#222">25%</text>
<text transform="translate(356.6,17.6)" font-size="10.2" text-anchor="middle" fill="#222">Mild</text>
<path d="M454.1 113.5L453.8 113.1L453.5 112.7L453.2 112.3L452.9 111.8L452.5 111.1L452.3 110.7L452.1 110.0L451.9 109.5L451.7 108.7L451.6 108.3L451.4 107.5L451.4 106.7L451.4 105.9L451.6 105.1L451.7 104.6L451.8 103.9L451.9 103.1L452.0 102.3L452.1 101.5L452.1 101.1L452.2 100.3L452.2 99.5L452.1 98.7L452.1 97.9L452.1 97.1L452.2 96.3L452.2 95.5L452.2 94.7L452.2 93.9L452.2 93.1L452.2 92.3L452.3 91.5L452.4 90.7L452.5 89.9L452.6 89.5L452.7 88.7L452.8 87.9L452.9 87.5L453.0 86.7L453.2 85.9L453.3 85.1L453.3 84.7L453.4 83.9L453.4 83.1L453.4 82.3L453.5 81.5L453.6 80.7L453.7 80.3L454.0 79.5L454.2 79.1L454.5 78.3L454.6 77.9L454.9 77.2L455.1 76.7L455.3 76.2L455.6 75.5L455.8 75.1L456.1 74.3L456.2 73.9L456.4 73.1L456.4 72.3L456.5 71.6L456.5 71.1L456.6 70.3L456.6 69.5L456.5 68.7L456.5 67.9L456.5 67.1L456.7 66.3L456.8 65.5L456.9 65.1L457.0 64.3L457.1 63.5L457.1 62.7L457.0 61.9L456.9 61.1L456.8 60.7L456.5 59.9L456.3 59.5L456.0 59.1L455.7 58.7L455.3 58.2L454.9 57.8L454.5 57.3L454.1 56.8L453.7 56.3L453.4 55.9L453.2 55.5L452.9 55.1L452.5 54.4L452.1 53.9L451.9 53.5L451.6 53.1L451.3 52.6L450.9 51.9L450.7 51.5L450.5 51.0L450.3 50.3L450.2 49.5L450.1 48.8L450.1 48.3L450.1 47.5L450.0 46.7L449.9 45.9L449.8 45.1L449.7 44.5L449.6 43.9L449.5 43.1L449.4 42.3L449.4 41.5L449.4 40.7L449.4 39.9L449.5 39.1L449.7 38.4L449.9 37.9L450.1 37.4L450.4 36.7L450.6 36.3L450.9 35.7L451.1 35.1L451.3 34.7L451.7 33.9L451.9 33.5L452.1 33.1L452.5 32.6L452.9 32.2L453.3 31.8L453.7 31.5L454.2 31.1L454.7 30.7L455.3 30.3L455.7 30.0L456.1 29.8L456.6 29.5L457.3 29.1L457.7 28.9L458.3 28.7L458.9 28.5L459.7 28.3L460.1 28.2L460.9 28.2L461.6 28.3L462.1 28.4L462.9 28.7L463.3 28.8L463.9 29.1L464.5 29.4L464.9 29.7L465.3 29.9L465.8 30.3L466.4 30.7L466.9 31.0L467.3 31.3L467.7 31.6L468.1 32.0L468.5 32.3L468.9 32.7L469.3 33.1L469.7 33.6L470.1 34.1L470.5 34.7L470.7 35.1L470.9 35.6L471.3 36.3L471.5 36.7L471.7 37.2L472.1 37.9L472.3 38.3L472.5 39.0L472.6 39.5L472.8 40.3L472.8 41.1L472.9 41.6L473.0 42.3L473.2 43.1L473.3 43.5L473.6 44.3L473.7 44.8L473.9 45.5L474.0 46.3L474.1 47.1L474.1 47.9L474.1 48.7L474.1 49.3L474.2 49.9L474.3 50.7L474.5 51.5L474.6 51.9L474.7 52.7L474.8 53.5L474.8 54.3L474.7 55.1L474.5 55.8L474.3 56.3L474.1 56.9L473.9 57.5L473.7 58.2L473.6 58.7L473.4 59.5L473.2 59.9L473.0 60.7L472.9 61.1L472.5 61.9L472.3 62.3L472.1 62.8L471.8 63.5L471.7 63.9L471.5 64.7L471.3 65.4L471.2 65.9L471.2 66.7L471.2 67.5L471.2 68.3L471.2 69.1L471.1 69.9L470.9 70.7L470.9 71.1L470.8 71.9L470.8 72.7L470.7 73.5L470.6 74.3L470.5 75.1L470.5 75.5L470.5 76.3L470.5 76.8L470.6 77.5L470.7 78.3L470.9 79.1L470.9 79.5L471.0 80.3L471.0 81.1L471.1 81.9L471.2 82.7L471.4 83.1L471.7 83.8L471.9 84.3L472.1 84.9L472.3 85.5L472.4 86.3L472.5 87.1L472.6 87.5L472.7 88.3L472.8 89.1L472.9 89.9L472.9 90.3L473.0 91.1L473.1 91.9L473.1 92.7L473.1 93.5L473.1 94.3L473.1 95.1L473.2 95.9L473.2 96.7L473.2 97.5L473.3 98.3L473.3 99.1L473.3 99.5L473.4 100.3L473.4 101.1L473.5 101.9L473.6 102.7L473.7 103.1L474.0 103.9L474.2 104.3L474.5 104.9L474.9 105.5L475.0 105.9L475.3 106.6L475.5 107.1L475.7 107.8L475.9 108.3L476.1 108.9L476.2 109.5L476.1 110.1L475.8 110.7L475.5 111.1L475.1 111.5L474.7 111.9L474.3 112.3L473.9 112.7L473.6 113.1L473.2 113.5M456.8 113.5L456.3 113.1L455.9 112.7L455.5 112.3L455.1 111.9L454.8 111.5L454.5 111.0L454.1 110.3L454.0 109.9L453.7 109.2L453.5 108.7L453.3 107.9L453.2 107.5L453.1 106.7L453.1 105.9L453.2 105.1L453.3 104.5L453.4 103.9L453.4 103.1L453.5 102.3L453.6 101.5L453.6 100.7L453.6 99.9L453.5 99.1L453.5 98.3L453.5 97.5L453.6 96.7L453.6 95.9L453.7 95.1L453.7 94.7L453.7 93.9L453.7 93.1L453.8 92.3L453.9 91.5L454.0 90.7L454.1 89.9L454.2 89.5L454.3 88.7L454.4 87.9L454.5 87.1L454.6 86.7L454.8 85.9L454.9 85.5L455.2 84.7L455.4 84.3L455.6 83.5L455.7 83.1L455.9 82.3L456.0 81.5L456.2 81.1L456.5 80.3L456.6 79.9L456.8 79.1L457.0 78.7L457.3 77.9L457.4 77.5L457.7 77.0L458.0 76.3L458.2 75.9L458.5 75.1L458.6 74.7L458.7 73.9L458.7 73.1L458.7 72.3L458.6 71.5L458.5 70.7L458.5 70.3L458.4 69.5L458.4 68.7L458.4 67.9L458.5 67.1L458.6 66.7L458.8 65.9L458.9 65.5L459.1 64.7L459.1 63.9L459.2 63.1L459.2 62.3L459.3 61.5L459.3 60.7L459.1 59.9L458.9 59.1L458.7 58.7L458.5 58.3L458.1 57.6L457.7 57.1L457.3 56.7L456.9 56.3L456.5 55.9L456.1 55.6L455.7 55.2L455.4 54.7L455.1 54.3L454.9 53.8L454.6 53.1L454.4 52.7L454.1 52.1L453.7 51.5L453.3 51.1L453.0 50.7L452.7 50.3L452.5 49.9L452.2 49.1L452.1 48.7L452.0 47.9L451.9 47.1L451.8 46.3L451.7 45.8L451.6 45.1L451.4 44.3L451.3 43.5L451.2 43.1L451.2 42.3L451.1 41.5L451.1 40.7L451.2 39.9L451.3 39.1L451.4 38.7L451.6 37.9L451.7 37.5L452.0 36.7L452.2 36.3L452.5 35.6L452.7 35.1L452.9 34.7L453.3 34.1L453.7 33.6L454.1 33.2L454.5 32.9L454.9 32.6L455.3 32.3L456.0 31.9L456.5 31.6L456.9 31.4L457.7 31.1L458.1 30.9L458.7 30.7L459.3 30.5L460.1 30.4L460.9 30.3L461.7 30.4L462.5 30.5L463.0 30.7L463.7 31.0L464.1 31.3L464.5 31.5L465.1 31.9L465.7 32.3L466.1 32.5L466.5 32.8L466.9 33.1L467.4 33.5L467.9 33.9L468.3 34.3L468.6 34.7L468.9 35.2L469.3 35.9L469.5 36.3L469.7 36.8L470.0 37.5L470.1 37.9L470.5 38.7L470.6 39.1L470.8 39.9L470.9 40.3L471.0 41.1L471.0 41.9L471.0 42.7L471.0 43.5L471.2 44.3L471.3 44.7L471.7 45.5L471.8 45.9L472.1 46.7L472.2 47.1L472.3 47.9L472.4 48.7L472.5 49.5L472.5 49.9L472.7 50.7L472.8 51.5L472.9 52.0L473.0 52.7L473.1 53.5L473.0 54.3L472.9 54.8L472.7 55.5L472.5 56.0L472.1 56.7L471.9 57.1L471.7 57.6L471.3 58.3L471.1 58.7L470.9 59.1L470.5 59.9L470.4 60.3L470.1 60.8L469.8 61.5L469.6 61.9L469.3 62.5L469.0 63.1L468.9 63.5L468.8 64.3L468.8 65.1L468.8 65.9L468.7 66.7L468.6 67.5L468.5 67.9L468.3 68.7L468.2 69.5L468.1 70.3L468.2 71.1L468.3 71.9L468.4 72.7L468.3 73.5L468.1 74.3L468.0 74.7L467.7 75.4L467.5 75.9L467.3 76.5L467.0 77.1L466.9 77.5L466.6 78.3L466.5 79.0L466.5 79.5L466.5 79.9L466.6 80.7L466.5 81.5L466.5 81.9L466.4 82.7L466.4 83.5L466.5 84.2L466.6 84.7L466.9 85.4L467.5 85.1L467.9 84.7L468.3 84.3L468.9 84.0L469.7 84.2L470.1 84.5L470.5 85.1L470.7 85.5L470.9 85.9L471.2 86.7L471.3 87.1L471.5 87.9L471.7 88.5L471.9 89.1L472.0 89.9L472.1 90.3L472.2 91.1L472.3 91.9L472.3 92.7L472.3 93.5L472.4 94.3L472.4 95.1L472.5 95.9L472.5 96.7L472.5 97.1L472.5 97.9L472.6 98.7L472.6 99.5L472.6 100.3L472.6 101.1L472.6 101.9L472.7 102.7L472.8 103.5L472.9 104.2L473.0 104.7L473.3 105.5L473.4 105.9L473.5 106.7L473.6 107.5L473.7 108.3L473.7 108.7L473.7 109.2L473.6 109.9L473.3 110.6L473.0 111.1L472.8 111.5L472.5 112.0L472.1 112.6L471.8 113.1L471.5 113.5M458.7 31.9L459.3 31.8L460.1 31.6L460.9 31.5L461.7 31.5L462.5 31.7L463.2 31.9L463.7 32.2L464.1 32.4L464.6 32.7L465.2 33.1L465.7 33.4L466.1 33.7L466.5 34.0L466.9 34.3L467.4 34.7L467.7 35.1L468.1 35.7L468.4 36.3L468.5 36.7L468.8 37.5L468.9 37.9L469.2 38.7L469.3 39.1L469.5 39.9L469.7 40.7L469.7 41.1L469.7 41.9L469.7 42.7L469.7 43.5L469.8 44.3L470.0 45.1L470.1 45.5L470.4 46.3L470.5 46.7L470.8 47.5L470.9 47.9L471.1 48.7L471.3 49.4L471.4 49.9L471.6 50.7L471.7 51.3L471.8 51.9L471.9 52.7L471.9 53.5L471.8 54.3L471.7 54.8L471.5 55.5L471.3 55.9L470.9 56.5L470.5 57.1L470.2 57.5L469.9 57.9L469.6 58.3L469.3 58.8L468.9 59.4L468.6 59.9L468.3 60.3L468.0 60.7L467.7 61.1L467.3 61.6L466.9 62.2L466.7 62.7L466.5 63.5L466.5 63.9L466.5 64.3L466.8 65.1L466.9 65.5L467.1 66.3L467.1 67.1L466.9 67.9L466.8 68.3L466.5 69.1L466.4 69.5L466.2 70.3L466.1 71.0L466.0 71.5L465.7 72.3L465.5 72.7L465.3 73.1L464.9 73.6L464.4 73.9L463.8 73.9L463.3 73.7L462.8 73.5L462.1 73.1L461.7 72.9L461.3 72.5L460.9 72.0L460.7 71.5L460.5 71.1L460.2 70.3L460.1 69.8L460.0 69.1L459.9 68.3L460.0 67.5L460.2 67.1L460.5 66.3L460.6 65.9L460.8 65.1L460.9 64.3L460.9 63.7L461.0 63.1L461.1 62.3L461.3 61.5L461.3 60.7L461.1 59.9L460.9 59.4L460.6 58.7L460.4 58.3L460.1 57.7L459.8 57.1L459.5 56.7L459.3 56.2L459.0 55.5L458.8 55.1L458.5 54.4L458.1 53.9L457.7 53.7L457.3 53.5L456.8 53.1L456.4 52.7L456.0 52.3L455.7 51.8L455.3 51.2L455.0 50.7L454.7 50.3L454.5 49.8L454.2 49.1L454.1 48.7L453.8 47.9L453.7 47.5L453.4 46.7L453.3 46.3L453.0 45.5L452.9 45.0L452.7 44.3L452.5 43.5L452.4 43.1L452.3 42.3L452.3 41.5L452.3 40.7L452.3 39.9L452.4 39.1L452.5 38.5L452.6 37.9L452.9 37.1L453.0 36.7L453.3 36.1L453.6 35.5L453.8 35.1L454.1 34.7L454.5 34.2L454.9 33.8L455.3 33.5L455.9 33.1L456.5 32.8L456.9 32.6L457.5 32.3L458.1 32.1L458.7 31.9ZM460.7 113.5L460.1 113.2L459.7 113.1L458.9 112.8L458.5 112.7L457.7 112.4L457.3 112.1L456.9 111.8L456.5 111.5L456.1 110.9L455.7 110.3L455.6 109.9L455.3 109.2L455.1 108.7L454.9 108.2L454.6 107.5L454.5 107.1L454.3 106.3L454.3 105.5L454.4 104.7L454.5 103.9L454.5 103.5L454.6 102.7L454.6 101.9L454.6 101.1L454.6 100.3L454.5 99.8L454.4 99.1L454.4 98.3L454.4 97.5L454.5 96.7L454.5 96.3L454.6 95.5L454.7 94.7L454.7 93.9L454.8 93.1L454.8 92.3L454.9 91.9L455.0 91.1L455.2 90.3L455.3 89.5L455.3 89.1L455.3 88.3L455.4 87.5L455.7 86.7L455.8 86.3L456.1 85.8L456.5 85.3L456.9 84.9L457.3 84.6L457.7 84.2L458.1 83.7L458.4 83.1L458.5 82.7L458.7 81.9L458.9 81.2L459.0 80.7L459.2 79.9L459.3 79.5L459.7 78.7L460.0 78.3L460.4 77.9L460.9 77.6L461.3 77.5L462.1 77.5L462.5 77.5L463.3 77.9L463.7 78.3L464.0 78.7L464.2 79.1L464.5 79.7L464.7 80.3L464.9 81.1L464.9 81.5L464.9 82.3L464.9 82.7L464.9 83.5L464.8 84.3L464.7 85.1L464.5 85.8L464.3 86.3L464.2 87.1L464.5 87.9L464.7 88.3L464.9 88.9L465.1 89.5L465.2 90.3L465.3 91.0L465.3 91.5L465.4 92.3L465.4 93.1L465.3 93.9L465.3 94.3L465.1 95.1L465.0 95.9L464.9 96.7L464.9 97.1L464.8 97.9L464.7 98.7L464.7 99.5L464.9 100.3L465.0 100.7L465.3 101.5L465.5 101.9L465.7 102.3L466.5 102.5L466.9 102.1L467.1 101.5L467.3 101.1L467.4 100.3L467.5 99.5L467.5 98.7L467.5 97.9L467.4 97.1L467.4 96.3L467.4 95.5L467.4 94.7L467.4 93.9L467.4 93.1L467.5 92.3L467.7 91.5L467.7 91.1L467.9 90.3L468.0 89.5L468.1 89.1L468.4 88.3L468.6 87.9L468.9 87.4L469.7 87.1L470.2 87.5L470.5 87.9L470.9 88.7L471.1 89.1L471.3 89.8L471.4 90.3L471.6 91.1L471.7 91.9L471.7 92.3L471.8 93.1L471.8 93.9L471.9 94.7L471.9 95.5L472.0 96.3L472.0 97.1L472.0 97.9L472.1 98.7L472.1 99.5L472.1 99.9L472.1 100.7L472.1 101.5L472.1 101.9L472.1 102.7L472.1 103.1L472.2 103.9L472.3 104.7L472.5 105.5L472.5 105.9L472.6 106.7L472.6 107.5L472.6 108.3L472.5 108.9L472.4 109.5L472.1 110.3L472.0 110.7L471.7 111.3L471.3 111.9L471.1 112.3L470.7 112.7L470.1 113.1L469.7 113.2L469.3 113.1L468.5 112.8L468.1 112.6L467.4 112.3L466.9 112.2L466.1 112.2L465.7 112.3L464.9 112.7L464.5 112.9L464.1 113.1L463.3 113.5M459.4 32.7L460.1 32.6L460.9 32.5L461.7 32.5L462.5 32.6L462.9 32.7L463.7 33.1L464.1 33.3L464.5 33.5L465.1 33.9L465.7 34.3L466.1 34.6L466.5 34.9L466.9 35.4L467.3 35.9L467.5 36.3L467.7 37.0L467.8 37.5L468.0 38.3L468.1 38.7L468.3 39.5L468.5 40.2L468.6 40.7L468.6 41.5L468.6 42.3L468.5 43.1L468.5 43.9L468.6 44.7L468.6 45.5L468.7 46.3L468.9 46.9L469.1 47.5L469.3 47.9L469.7 48.6L470.0 49.1L470.2 49.5L470.5 50.3L470.6 50.7L470.8 51.5L470.9 52.3L470.9 52.7L470.9 53.5L470.9 53.9L470.7 54.7L470.5 55.2L470.1 55.9L469.9 56.3L469.5 56.7L469.2 57.1L468.8 57.5L468.3 57.9L467.8 58.3L467.3 58.7L466.9 59.0L466.5 59.3L466.1 59.5L465.6 59.9L465.0 60.3L464.5 60.6L464.0 60.3L463.7 59.9L463.3 59.4L462.9 58.8L462.5 58.3L462.3 57.9L462.0 57.5L461.7 57.1L461.3 56.5L460.9 55.9L460.7 55.5L460.5 55.0L460.3 54.3L460.1 53.5L459.9 53.1L459.6 52.7L459.0 52.3L458.5 52.2L457.7 51.9L457.3 51.7L456.9 51.4L456.5 51.0L456.1 50.4L455.8 49.9L455.7 49.5L455.4 48.7L455.3 48.1L455.1 47.5L454.9 46.9L454.7 46.3L454.5 45.6L454.3 45.1L454.1 44.4L453.9 43.9L453.7 43.5L453.4 42.7L453.3 42.2L453.2 41.5L453.2 40.7L453.2 39.9L453.3 39.1L453.3 38.7L453.5 37.9L453.7 37.2L453.9 36.7L454.1 36.3L454.5 35.6L454.9 35.1L455.2 34.7L455.7 34.3L456.1 34.0L456.5 33.7L456.9 33.5L457.7 33.1L458.1 33.0L458.9 32.8L459.4 32.7ZM461.6 80.7L462.1 80.6L462.5 80.8L462.9 81.3L463.1 81.9L463.2 82.7L463.2 83.5L463.1 84.3L462.9 84.9L462.7 85.5L462.5 86.1L462.4 86.7L462.5 87.1L462.8 87.9L463.0 88.3L463.3 88.7L463.7 89.4L463.9 89.9L464.1 90.5L464.2 91.1L464.4 91.9L464.4 92.7L464.4 93.5L464.3 94.3L464.3 95.1L464.1 95.9L464.1 96.3L463.9 97.1L463.7 97.6L463.4 98.3L463.3 99.0L463.3 99.1L463.5 99.9L463.7 100.3L464.0 101.1L464.2 101.5L464.4 102.3L464.5 102.7L464.8 103.5L465.0 103.9L465.3 104.5L465.7 105.0L466.1 105.1L466.5 104.9L466.9 104.5L467.2 103.9L467.4 103.5L467.7 102.7L467.8 102.3L468.0 101.5L468.1 101.0L468.2 100.3L468.2 99.5L468.2 98.7L468.2 97.9L468.1 97.1L468.1 96.7L468.0 95.9L468.0 95.1L468.1 94.3L468.1 93.9L468.2 93.1L468.4 92.3L468.5 91.7L468.7 91.1L468.9 90.3L469.1 89.9L469.5 89.5L470.0 89.5L470.4 89.9L470.6 90.3L470.9 91.1L471.0 91.5L471.1 92.3L471.2 93.1L471.3 93.9L471.3 94.4L471.4 95.1L471.4 95.9L471.5 96.7L471.5 97.5L471.6 98.3L471.6 99.1L471.6 99.9L471.6 100.7L471.6 101.5L471.6 102.3L471.6 103.1L471.6 103.9L471.7 104.5L471.8 105.1L471.9 105.9L471.9 106.7L471.8 107.5L471.7 108.3L471.6 108.7L471.4 109.5L471.3 109.9L470.9 110.7L470.6 111.1L470.2 111.5L469.7 111.8L468.9 111.7L468.3 111.5L467.7 111.3L467.3 111.1L466.5 111.0L465.7 111.0L465.3 111.2L464.6 111.5L464.1 111.8L463.7 112.0L463.1 112.3L462.5 112.5L461.7 112.5L461.0 112.3L460.5 112.1L460.0 111.9L459.3 111.6L458.9 111.5L458.1 111.1L457.7 110.8L457.3 110.4L457.0 109.9L456.8 109.5L456.5 108.8L456.3 108.3L456.1 107.9L455.7 107.1L455.6 106.7L455.4 105.9L455.4 105.1L455.5 104.3L455.6 103.5L455.6 102.7L455.6 101.9L455.5 101.1L455.4 100.3L455.3 99.6L455.2 99.1L455.2 98.3L455.2 97.5L455.3 96.7L455.4 96.3L455.5 95.5L455.5 94.7L455.6 93.9L455.7 93.1L455.7 92.7L455.8 91.9L456.0 91.1L456.1 90.7L456.2 89.9L456.3 89.1L456.3 88.3L456.5 87.5L456.6 87.1L456.9 86.6L457.3 86.2L457.7 85.9L458.3 85.5L458.9 85.1L459.3 84.8L459.7 84.3L460.0 83.9L460.3 83.5L460.5 83.1L460.8 82.3L460.9 81.9L461.2 81.1L461.6 80.7ZM459.5 33.5L460.1 33.4L460.9 33.4L461.7 33.4L462.5 33.5L462.9 33.6L463.7 33.9L464.1 34.1L464.5 34.3L465.1 34.7L465.7 35.1L466.1 35.5L466.4 35.9L466.7 36.3L466.9 36.9L467.1 37.5L467.2 38.3L467.3 38.8L467.5 39.5L467.6 40.3L467.7 41.1L467.6 41.9L467.4 42.7L467.3 43.4L467.2 43.9L467.2 44.7L467.3 45.5L467.3 45.9L467.5 46.7L467.7 47.3L467.9 47.9L468.1 48.4L468.5 49.0L468.8 49.5L469.1 49.9L469.3 50.3L469.6 51.1L469.8 51.5L469.9 52.3L469.9 53.1L469.8 53.9L469.7 54.4L469.4 55.1L469.2 55.5L468.9 56.0L468.5 56.4L468.1 56.7L467.5 57.1L466.9 57.4L466.5 57.5L465.7 57.7L464.9 57.6L464.5 57.4L464.1 57.1L463.7 56.7L463.3 56.2L462.9 55.8L462.5 55.3L462.1 54.7L461.9 54.3L461.7 53.9L461.4 53.1L461.2 52.7L460.9 52.2L460.5 51.7L460.1 51.4L459.4 51.1L458.9 50.9L458.2 50.7L457.7 50.4L457.3 50.0L457.0 49.5L456.8 49.1L456.6 48.3L456.5 47.9L456.2 47.1L456.0 46.7L455.7 45.9L455.6 45.5L455.3 44.7L455.1 44.3L454.9 43.8L454.5 43.1L454.4 42.7L454.1 42.0L454.0 41.5L453.9 40.7L453.9 39.9L453.9 39.1L454.1 38.3L454.2 37.9L454.5 37.1L454.7 36.7L455.0 36.3L455.3 35.8L455.7 35.3L456.1 35.0L456.5 34.6L457.0 34.3L457.7 33.9L458.1 33.8L458.9 33.6L459.5 33.5ZM460.0 86.3L460.1 86.3L460.8 86.7L461.1 87.1L461.3 87.5L461.7 88.2L462.0 88.7L462.3 89.1L462.5 89.5L462.9 90.3L463.0 90.7L463.3 91.5L463.4 91.9L463.5 92.7L463.5 93.5L463.5 94.3L463.4 95.1L463.3 95.7L463.2 96.3L462.9 96.9L462.5 97.5L462.2 97.9L461.9 98.3L461.7 98.7L461.6 99.5L461.7 99.9L462.1 100.4L462.5 100.8L462.9 101.3L463.2 101.9L463.3 102.3L463.6 103.1L463.7 103.6L463.9 104.3L464.0 105.1L464.1 105.7L464.3 106.3L464.5 106.7L464.9 107.1L465.7 107.4L466.5 107.1L466.9 106.8L467.2 106.3L467.5 105.9L467.7 105.4L467.9 104.7L468.1 104.2L468.3 103.5L468.5 102.7L468.6 102.3L468.8 101.5L468.9 100.7L468.9 100.3L468.9 99.5L468.9 98.7L468.9 98.3L468.8 97.5L468.8 96.7L468.7 95.9L468.7 95.1L468.8 94.3L468.9 93.5L469.0 93.1L469.3 92.3L469.6 91.9L469.9 91.9L470.3 92.3L470.5 93.1L470.6 93.5L470.6 94.3L470.7 95.1L470.8 95.9L470.9 96.7L470.9 97.1L471.0 97.9L471.0 98.7L471.0 99.5L471.0 100.3L471.0 101.1L471.0 101.9L471.0 102.7L471.0 103.5L471.0 104.3L471.2 105.1L471.2 105.9L471.2 106.7L471.2 107.5L471.0 108.3L470.8 108.7L470.5 109.5L470.2 109.9L469.8 110.3L469.3 110.5L468.5 110.5L468.0 110.3L467.3 110.0L466.9 109.8L466.1 109.6L465.3 109.7L464.8 109.9L464.2 110.3L463.7 110.7L463.3 110.9L462.9 111.1L462.1 111.3L461.3 111.2L460.9 111.1L460.1 110.8L459.7 110.6L459.1 110.3L458.6 109.9L458.2 109.5L457.9 109.1L457.7 108.7L457.3 108.0L457.0 107.5L456.8 107.1L456.5 106.3L456.5 105.9L456.4 105.1L456.5 104.3L456.5 103.9L456.6 103.1L456.6 102.3L456.5 101.5L456.5 101.1L456.3 100.3L456.1 99.5L456.0 99.1L456.0 98.3L456.0 97.5L456.1 96.7L456.1 96.3L456.2 95.5L456.3 94.7L456.4 93.9L456.4 93.1L456.5 92.7L456.7 91.9L456.9 91.1L457.0 90.7L457.2 89.9L457.3 89.1L457.3 88.7L457.5 87.9L457.7 87.5L458.1 87.1L458.6 86.7L459.3 86.4L460.0 86.3ZM458.7 34.3L459.3 34.2L460.1 34.1L460.9 34.0L461.7 34.0L462.5 34.1L463.1 34.3L463.7 34.5L464.1 34.7L464.7 35.1L465.3 35.5L465.7 35.9L466.0 36.3L466.2 36.7L466.5 37.5L466.5 37.9L466.7 38.7L466.8 39.5L466.9 40.3L466.9 40.7L466.9 41.2L466.8 41.9L466.6 42.7L466.5 43.1L466.3 43.9L466.2 44.7L466.3 45.5L466.5 46.3L466.6 46.7L466.8 47.5L466.9 48.1L467.0 48.7L467.1 49.5L467.3 50.1L467.6 50.7L468.0 51.1L468.2 51.5L468.5 52.1L468.6 52.7L468.7 53.5L468.6 54.3L468.5 54.7L468.1 55.4L467.7 55.8L467.3 56.1L466.8 56.3L466.1 56.4L465.7 56.3L465.1 55.9L464.7 55.5L464.5 55.0L464.2 54.3L464.1 53.9L463.7 53.3L463.3 52.9L462.9 52.6L462.5 52.2L462.1 51.8L461.7 51.3L461.3 51.0L460.9 50.6L460.5 50.3L459.9 49.9L459.3 49.5L458.9 49.1L458.6 48.7L458.4 48.3L458.1 47.9L457.7 47.4L457.3 47.0L456.9 46.4L456.6 45.9L456.4 45.5L456.1 44.9L455.8 44.3L455.7 43.9L455.3 43.1L455.1 42.7L454.9 42.3L454.6 41.5L454.5 40.7L454.5 40.3L454.5 39.5L454.5 39.0L454.6 38.3L454.9 37.5L455.1 37.1L455.4 36.7L455.7 36.3L456.1 35.8L456.5 35.5L457.0 35.1L457.6 34.7L458.1 34.5L458.7 34.3ZM459.3 87.9L459.7 87.8L460.1 88.0L460.6 88.3L460.9 88.7L461.3 89.2L461.7 89.9L461.9 90.3L462.1 90.8L462.3 91.5L462.5 92.3L462.5 92.7L462.6 93.5L462.6 94.3L462.5 95.1L462.5 95.5L462.2 96.3L461.9 96.7L461.6 97.1L461.3 97.5L460.9 98.0L460.5 98.7L460.4 99.1L460.2 99.9L460.4 100.7L460.8 101.1L461.3 101.5L461.7 101.8L462.1 102.2L462.4 102.7L462.6 103.1L462.8 103.9L462.9 104.3L463.0 105.1L463.1 105.9L463.2 106.7L463.3 107.5L463.3 107.9L463.4 108.7L463.3 109.1L462.9 109.7L462.5 110.0L461.7 110.2L460.9 110.1L460.5 109.9L459.8 109.5L459.3 109.1L459.0 108.7L458.7 108.3L458.4 107.9L458.1 107.5L457.7 106.8L457.5 106.3L457.3 105.5L457.3 104.7L457.4 103.9L457.4 103.1L457.5 102.3L457.5 101.5L457.4 100.7L457.3 100.3L457.0 99.5L456.9 99.1L456.8 98.3L456.7 97.5L456.8 96.7L456.8 95.9L456.9 95.4L457.0 94.7L457.0 93.9L457.1 93.1L457.3 92.4L457.4 91.9L457.7 91.1L457.8 90.7L458.1 89.9L458.2 89.5L458.4 88.7L458.7 88.3L459.3 87.9ZM469.7 103.1L469.8 103.1L470.1 103.8L470.2 104.3L470.4 105.1L470.5 105.5L470.6 106.3L470.6 107.1L470.5 107.5L470.3 108.3L470.1 108.7L469.7 109.2L468.9 109.5L468.9 109.5L468.1 109.2L467.7 108.8L467.5 108.3L467.7 107.5L467.9 107.1L468.1 106.5L468.4 105.9L468.5 105.5L468.8 104.7L469.0 104.3L469.3 103.7L469.7 103.1ZM460.3 34.7L460.9 34.7L461.7 34.7L462.1 34.7L462.9 34.8L463.6 35.1L464.1 35.3L464.5 35.6L464.9 35.9L465.3 36.3L465.7 37.0L465.9 37.5L466.0 38.3L466.1 38.9L466.2 39.5L466.3 40.3L466.2 41.1L466.1 41.8L466.0 42.3L465.7 43.0L465.6 43.5L465.4 44.3L465.4 45.1L465.5 45.9L465.7 46.7L465.8 47.1L465.8 47.9L465.7 48.7L465.5 49.1L465.1 49.5L464.5 49.9L464.1 50.1L463.3 50.2L462.5 50.0L462.1 49.7L461.7 49.4L461.3 49.0L460.9 48.4L460.5 48.0L460.1 47.6L459.7 47.3L459.3 47.0L458.7 46.7L458.1 46.3L457.7 46.0L457.3 45.6L456.9 45.1L456.7 44.7L456.5 44.3L456.1 43.5L455.9 43.1L455.7 42.6L455.4 41.9L455.3 41.5L455.1 40.7L455.0 39.9L455.0 39.1L455.2 38.3L455.3 37.9L455.7 37.2L456.1 36.7L456.5 36.3L456.9 35.9L457.3 35.6L457.7 35.4L458.4 35.1L458.9 34.9L459.7 34.8L460.3 34.7ZM459.6 89.9L460.1 89.8L460.5 90.1L460.9 90.7L461.1 91.1L461.3 91.9L461.3 92.3L461.4 93.1L461.4 93.9L461.4 94.7L461.3 95.5L461.1 95.9L460.9 96.3L460.5 96.9L460.1 97.4L459.7 97.9L459.4 98.3L458.9 98.7L458.5 98.8L458.1 98.5L457.8 97.9L457.7 97.4L457.7 96.7L457.7 95.9L457.7 95.4L457.8 94.7L457.8 93.9L458.0 93.1L458.1 92.7L458.4 91.9L458.5 91.5L458.9 90.7L459.2 90.3L459.6 89.9ZM459.3 103.1L459.7 103.0L460.2 103.1L460.9 103.4L461.3 103.7L461.7 104.3L461.8 104.7L461.9 105.5L461.9 106.3L461.8 107.1L461.7 107.6L461.3 108.3L460.5 108.1L460.1 107.7L459.7 107.3L459.3 106.8L459.0 106.3L458.8 105.9L458.6 105.1L458.6 104.3L458.8 103.5L459.3 103.1ZM459.1 35.5L459.7 35.3L460.5 35.2L461.3 35.2L462.1 35.2L462.9 35.3L463.4 35.5L464.1 35.9L464.5 36.2L464.9 36.6L465.2 37.1L465.4 37.5L465.5 38.3L465.6 39.1L465.7 39.9L465.7 40.7L465.6 41.5L465.4 42.3L465.2 42.7L464.9 43.5L464.8 43.9L464.6 44.7L464.6 45.5L464.6 46.3L464.6 47.1L464.5 47.6L464.1 48.1L463.3 48.0L462.9 47.8L462.5 47.5L461.9 47.1L461.3 46.8L460.9 46.7L460.1 46.4L459.7 46.3L458.9 45.9L458.5 45.7L458.1 45.5L457.7 45.1L457.3 44.7L456.9 44.0L456.7 43.5L456.5 43.1L456.1 42.3L455.9 41.9L455.7 41.2L455.6 40.7L455.4 39.9L455.5 39.1L455.7 38.3L455.9 37.9L456.1 37.5L456.5 37.0L456.9 36.6L457.4 36.3L458.0 35.9L458.5 35.7L459.1 35.5ZM459.6 35.9L460.1 35.8L460.9 35.7L461.7 35.7L462.5 35.7L463.1 35.9L463.7 36.1L464.1 36.4L464.5 36.8L464.9 37.5L465.0 37.9L465.1 38.7L465.1 39.5L465.2 40.3L465.2 41.1L465.0 41.9L464.8 42.3L464.5 43.1L464.3 43.5L464.1 44.0L463.8 44.7L463.6 45.1L463.2 45.5L462.5 45.8L461.7 45.8L460.9 45.8L460.1 45.7L459.5 45.5L458.9 45.3L458.5 45.0L458.0 44.7L457.7 44.3L457.3 43.8L457.0 43.1L456.8 42.7L456.5 42.1L456.3 41.5L456.1 41.0L455.9 40.3L455.9 39.5L456.0 38.7L456.2 38.3L456.5 37.7L456.9 37.3L457.3 37.0L457.7 36.7L458.5 36.3L458.9 36.1L459.6 35.9ZM460.5 36.3L460.9 36.2L461.7 36.2L462.5 36.3L462.9 36.3L463.6 36.7L464.1 37.1L464.3 37.5L464.5 38.3L464.5 38.7L464.6 39.5L464.6 40.3L464.6 41.1L464.5 41.7L464.3 42.3L464.1 42.7L463.7 43.3L463.3 43.9L462.9 44.3L462.5 44.6L462.1 44.8L461.3 45.0L460.5 45.0L459.7 44.9L459.2 44.7L458.5 44.3L458.1 44.0L457.7 43.5L457.5 43.1L457.3 42.7L456.9 41.9L456.8 41.5L456.5 40.7L456.4 40.3L456.4 39.5L456.5 38.8L456.7 38.3L457.1 37.9L457.5 37.5L458.1 37.1L458.5 36.9L459.0 36.7L459.7 36.5L460.5 36.3ZM459.6 37.1L460.1 37.0L460.9 36.8L461.7 36.7L462.5 36.8L463.3 37.1L463.7 37.5L463.9 37.9L464.0 38.7L464.1 39.5L464.1 39.9L464.1 40.7L464.1 41.1L463.9 41.9L463.7 42.3L463.3 42.9L462.9 43.4L462.5 43.7L462.1 44.0L461.3 44.3L460.9 44.4L460.1 44.3L459.7 44.2L459.0 43.9L458.5 43.6L458.1 43.1L457.8 42.7L457.6 42.3L457.3 41.6L457.1 41.1L456.9 40.3L456.9 39.9L456.9 39.4L457.2 38.7L457.5 38.3L458.0 37.9L458.5 37.6L458.9 37.4L459.6 37.1ZM460.8 37.5L461.3 37.4L462.1 37.4L462.5 37.5L463.0 37.9L463.3 38.5L463.4 39.1L463.5 39.9L463.5 40.7L463.4 41.5L463.2 41.9L462.9 42.4L462.5 42.8L462.1 43.1L461.4 43.5L460.9 43.6L460.1 43.6L459.7 43.5L458.9 43.1L458.5 42.7L458.2 42.3L458.0 41.9L457.7 41.2L457.6 40.7L457.5 39.9L457.7 39.2L458.1 38.7L458.5 38.4L458.9 38.2L459.5 37.9L460.1 37.7L460.8 37.5Z" fill="none" stroke="#2a2a2a" stroke-width="0.4" stroke-linejoin="round"/>
<path d="M459.4 28.9h.6M468.4 55.7h.6M486.6 51.7h.6M475.9 61.1h.6M466.3 39.6h.6M462.1 38.2h.6M466.3 42.4h.6M477.7 41.4h.6M466.5 46.7h.6M468.9 63.4h.6M470.0 50.8h.6M459.8 56.5h.6M456.4 47.3h.6M472.7 42.0h.6M452.6 31.9h.6M467.3 44.7h.6M472.7 42.0h.6M473.8 39.3h.6M457.8 45.4h.6M459.2 39.1h.6M461.2 53.7h.6M464.3 48.3h.6M465.5 58.2h.6M456.2 52.5h.6M467.1 71.8h.6M463.4 54.1h.6M465.1 43.8h.6M472.3 40.6h.6M455.5 41.7h.6M462.4 49.3h.6M452.1 48.1h.6M464.8 54.3h.6M472.3 50.3h.6M463.1 45.3h.6M470.5 67.0h.6M456.2 41.1h.6M472.9 56.0h.6M469.9 42.9h.6M462.9 55.3h.6M463.2 39.8h.6M461.8 54.8h.6M462.2 41.3h.6M457.7 41.3h.6M463.6 57.6h.6M469.0 43.0h.6M461.2 44.0h.6M467.1 35.9h.6M468.8 37.3h.6M476.7 52.0h.6M459.4 37.1h.6M460.5 63.8h.6M464.1 34.3h.6M473.6 51.9h.6M470.9 47.5h.6M469.7 64.5h.6M466.9 51.2h.6M474.3 41.8h.6M458.1 56.9h.6M461.0 50.5h.6M477.2 52.1h.6M465.5 60.9h.6M467.0 41.2h.6M460.7 50.0h.6M463.8 42.9h.6M467.2 46.8h.6M461.5 62.9h.6M469.2 53.3h.6M462.1 48.8h.6M462.5 56.1h.6M448.2 42.0h.6M459.4 53.4h.6M453.4 43.5h.6M460.0 55.2h.6M448.7 60.0h.6M460.6 44.4h.6M469.5 47.6h.6M457.1 61.4h.6M462.2 67.4h.6M463.8 51.8h.6M461.8 57.4h.6M471.1 59.9h.6M474.7 41.9h.6M471.3 43.4h.6M473.3 46.4h.6M454.8 58.8h.6M477.9 48.4h.6M461.0 38.2h.6M458.6 42.5h.6M470.7 36.2h.6M468.4 56.6h.6M459.7 32.2h.6M467.0 52.9h.6M469.6 33.3h.6M471.1 47.2h.6M463.6 41.6h.6M455.2 49.0h.6M461.4 40.7h.6M465.0 49.5h.6M465.1 28.2h.6M456.4 51.2h.6M460.7 45.5h.6M464.8 43.0h.6M464.2 45.6h.6M466.5 28.6h.6M459.1 48.3h.6M464.5 54.5h.6M461.6 49.6h.6M455.8 47.0h.6M461.3 55.9h.6M474.8 69.3h.6M465.3 44.9h.6M456.1 57.0h.6M466.4 63.1h.6M457.3 39.5h.6M455.1 42.6h.6M463.7 58.2h.6M462.1 46.1h.6M454.9 52.6h.6M460.4 75.8h.6M470.5 85.0h.6M456.0 65.5h.6M471.5 61.1h.6M460.0 74.3h.6M463.9 97.8h.6M467.0 100.2h.6M459.0 75.6h.6M455.6 75.0h.6M464.6 85.1h.6M466.2 79.1h.6M473.2 69.0h.6M468.9 74.3h.6M464.8 60.7h.6M456.9 77.3h.6M471.4 78.2h.6M460.1 75.0h.6M475.4 78.6h.6M473.5 61.1h.6M473.3 96.7h.6M465.8 86.0h.6M468.8 70.4h.6M461.5 94.2h.6M468.0 77.6h.6M482.6 80.7h.6M470.7 87.1h.6M461.2 78.0h.6M462.4 66.8h.6M458.9 81.3h.6M464.0 76.9h.6M461.3 87.7h.6M464.0 76.8h.6M476.4 78.3h.6M467.6 93.2h.6M470.0 87.6h.6M462.9 70.2h.6M467.1 65.5h.6M467.8 58.9h.6M468.7 76.6h.6M467.1 73.7h.6M469.5 89.7h.6M467.8 54.5h.6M460.5 71.5h.6M466.0 81.4h.6M458.1 81.6h.6M475.2 60.9h.6M475.8 69.6h.6M471.9 101.8h.6M455.7 96.7h.6M454.1 56.4h.6M463.6 76.8h.6M466.0 90.9h.6M462.6 60.7h.6M462.3 100.6h.6M464.6 81.6h.6M464.4 79.2h.6M474.1 78.1h.6M468.5 76.9h.6M467.8 76.9h.6M465.8 66.6h.6M459.4 75.3h.6M466.8 70.7h.6M461.0 62.6h.6M457.8 74.1h.6M459.8 61.1h.6M472.0 67.4h.6M465.7 76.2h.6M457.4 74.0h.6M471.7 75.4h.6M473.4 97.9h.6M469.4 96.3h.6M465.3 83.0h.6M467.0 67.9h.6M468.2 101.8h.6M466.6 80.7h.6M462.1 74.3h.6M465.1 75.3h.6M460.1 65.2h.6M463.2 83.7h.6M468.4 93.7h.6M453.7 61.9h.6M471.5 66.6h.6M467.8 70.2h.6M464.2 91.9h.6M461.1 80.0h.6M466.4 93.5h.6M468.1 74.2h.6M458.9 77.1h.6M462.3 73.7h.6M462.6 86.8h.6M474.2 97.7h.6M466.7 73.5h.6M469.4 73.2h.6M463.4 71.5h.6M469.2 77.5h.6M467.9 75.4h.6M463.3 98.7h.6M472.1 83.2h.6M472.6 66.2h.6M462.2 67.0h.6M470.2 46.5h.6M473.3 105.4h.6M463.1 78.0h.6M465.6 94.7h.6M474.8 76.6h.6M467.6 84.5h.6M466.4 77.9h.6M474.5 67.8h.6M450.8 69.6h.6M464.8 67.2h.6M467.7 75.7h.6M473.6 57.4h.6M458.8 72.4h.6M473.8 47.5h.6M466.9 51.1h.6M475.7 56.0h.6M476.8 60.3h.6M470.5 71.3h.6M461.9 60.8h.6M474.6 70.0h.6M469.2 55.9h.6M471.9 60.0h.6M476.5 62.0h.6M473.4 72.1h.6M473.4 66.1h.6M467.7 38.6h.6M478.3 63.9h.6M472.9 35.8h.6M471.9 78.1h.6M460.4 53.9h.6M469.4 59.2h.6M483.4 68.7h.6M478.1 63.8h.6M466.9 57.9h.6M462.5 73.3h.6M472.6 60.5h.6M475.2 60.1h.6M467.4 60.8h.6M470.0 61.1h.6M471.0 63.7h.6M468.5 58.1h.6M477.9 56.2h.6M466.4 54.5h.6M473.3 66.0h.6M468.2 49.8h.6M473.1 60.5h.6M483.7 60.6h.6M467.5 55.1h.6M468.0 67.4h.6M469.5 59.4h.6M475.8 60.1h.6M474.7 29.1h.6M472.3 63.8h.6M471.2 63.3h.6M465.1 66.1h.6M467.0 76.5h.6M477.3 50.6h.6M475.7 51.7h.6M470.2 57.8h.6M469.3 61.6h.6M475.2 58.2h.6M475.0 77.0h.6M477.3 55.4h.6M463.7 38.0h.6M479.0 51.1h.6M466.0 54.5h.6M478.1 51.5h.6M468.8 57.2h.6M475.7 62.4h.6M469.1 66.5h.6M461.1 61.7h.6M454.9 84.6h.6M467.3 111.8h.6M478.4 105.6h.6M469.4 93.2h.6M465.2 91.3h.6M475.5 101.3h.6M485.6 91.7h.6M461.9 104.6h.6M459.7 88.1h.6M474.4 94.3h.6M470.1 103.0h.6M467.7 101.9h.6M453.9 77.0h.6M465.7 94.7h.6M458.4 108.0h.6M457.8 96.1h.6M460.8 92.2h.6M459.2 106.9h.6M470.2 104.5h.6M473.8 97.9h.6M473.1 93.3h.6M474.0 88.3h.6M469.2 85.0h.6M463.6 82.5h.6M473.8 99.1h.6M466.1 86.4h.6M473.1 100.2h.6M471.5 98.7h.6M468.3 99.8h.6M478.6 95.3h.6M475.9 95.3h.6M470.7 100.7h.6M456.8 96.6h.6M473.4 100.3h.6M457.0 108.9h.6M472.6 101.5h.6M466.9 103.3h.6M465.5 100.8h.6M460.8 100.7h.6M469.8 97.3h.6M466.0 96.4h.6M470.9 88.4h.6M476.2 92.8h.6M473.2 98.5h.6M455.1 103.1h.6M475.5 92.0h.6M458.3 102.7h.6M474.5 104.5h.6M463.1 86.3h.6M456.6 98.6h.6" fill="none" stroke="#444" stroke-width="0.6" opacity="0.85"/>
<path d="M451.3 112.9A16.35 3.7 0 0 1 484 112.9Z" fill="#666" fill-opacity="0.35" stroke="#1e1e1e" stroke-width="1.15"/>
<path d="M454.8 112.9A12.85 2.1 0 0 1 480.5 112.9" fill="none" stroke="#222" stroke-width="0.7"/>
<path d="M449.1 112.9A18.55 5.2 0 0 1 486.2 112.9" fill="none" stroke="#444" stroke-width="0.4"/>
<path d="M423.3 24.7H512.2V113.2" fill="none" stroke="#9c9c9c" stroke-width="0.8"/>
<path d="M423.3 24.3V113.2H512.5" fill="none" stroke="#777" stroke-width="1"/>
<line x1="420.2" y1="113.2" x2="423.3" y2="113.2" stroke="#666" stroke-width="0.9"/>
<text transform="translate(419.9,115.9) scale(1.1,1)" font-size="7.8" text-anchor="end" fill="#222">10<tspan dy="-3.0" font-size="6.0">0</tspan></text>
<line x1="422" y1="106.54" x2="423.3" y2="106.54" stroke="#777" stroke-width="0.45"/>
<line x1="422" y1="102.64" x2="423.3" y2="102.64" stroke="#777" stroke-width="0.45"/>
<line x1="422" y1="99.88" x2="423.3" y2="99.88" stroke="#777" stroke-width="0.45"/>
<line x1="422" y1="97.74" x2="423.3" y2="97.74" stroke="#777" stroke-width="0.45"/>
<line x1="422" y1="95.98" x2="423.3" y2="95.98" stroke="#777" stroke-width="0.45"/>
<line x1="422" y1="94.5" x2="423.3" y2="94.5" stroke="#777" stroke-width="0.45"/>
<line x1="422" y1="93.22" x2="423.3" y2="93.22" stroke="#777" stroke-width="0.45"/>
<line x1="422" y1="92.09" x2="423.3" y2="92.09" stroke="#777" stroke-width="0.45"/>
<line x1="420.2" y1="91.08" x2="423.3" y2="91.08" stroke="#666" stroke-width="0.9"/>
<text transform="translate(419.9,93.78) scale(1.1,1)" font-size="7.8" text-anchor="end" fill="#222">10<tspan dy="-3.0" font-size="6.0">1</tspan></text>
<line x1="422" y1="84.41" x2="423.3" y2="84.41" stroke="#777" stroke-width="0.45"/>
<line x1="422" y1="80.52" x2="423.3" y2="80.52" stroke="#777" stroke-width="0.45"/>
<line x1="422" y1="77.75" x2="423.3" y2="77.75" stroke="#777" stroke-width="0.45"/>
<line x1="422" y1="75.61" x2="423.3" y2="75.61" stroke="#777" stroke-width="0.45"/>
<line x1="422" y1="73.86" x2="423.3" y2="73.86" stroke="#777" stroke-width="0.45"/>
<line x1="422" y1="72.38" x2="423.3" y2="72.38" stroke="#777" stroke-width="0.45"/>
<line x1="422" y1="71.09" x2="423.3" y2="71.09" stroke="#777" stroke-width="0.45"/>
<line x1="422" y1="69.96" x2="423.3" y2="69.96" stroke="#777" stroke-width="0.45"/>
<line x1="420.2" y1="68.95" x2="423.3" y2="68.95" stroke="#666" stroke-width="0.9"/>
<text transform="translate(419.9,71.65) scale(1.1,1)" font-size="7.8" text-anchor="end" fill="#222">10<tspan dy="-3.0" font-size="6.0">2</tspan></text>
<line x1="422" y1="62.29" x2="423.3" y2="62.29" stroke="#777" stroke-width="0.45"/>
<line x1="422" y1="58.39" x2="423.3" y2="58.39" stroke="#777" stroke-width="0.45"/>
<line x1="422" y1="55.63" x2="423.3" y2="55.63" stroke="#777" stroke-width="0.45"/>
<line x1="422" y1="53.49" x2="423.3" y2="53.49" stroke="#777" stroke-width="0.45"/>
<line x1="422" y1="51.73" x2="423.3" y2="51.73" stroke="#777" stroke-width="0.45"/>
<line x1="422" y1="50.25" x2="423.3" y2="50.25" stroke="#777" stroke-width="0.45"/>
<line x1="422" y1="48.97" x2="423.3" y2="48.97" stroke="#777" stroke-width="0.45"/>
<line x1="422" y1="47.84" x2="423.3" y2="47.84" stroke="#777" stroke-width="0.45"/>
<line x1="420.2" y1="46.83" x2="423.3" y2="46.83" stroke="#666" stroke-width="0.9"/>
<text transform="translate(419.9,49.53) scale(1.1,1)" font-size="7.8" text-anchor="end" fill="#222">10<tspan dy="-3.0" font-size="6.0">3</tspan></text>
<line x1="422" y1="40.16" x2="423.3" y2="40.16" stroke="#777" stroke-width="0.45"/>
<line x1="422" y1="36.27" x2="423.3" y2="36.27" stroke="#777" stroke-width="0.45"/>
<line x1="422" y1="33.5" x2="423.3" y2="33.5" stroke="#777" stroke-width="0.45"/>
<line x1="422" y1="31.36" x2="423.3" y2="31.36" stroke="#777" stroke-width="0.45"/>
<line x1="422" y1="29.61" x2="423.3" y2="29.61" stroke="#777" stroke-width="0.45"/>
<line x1="422" y1="28.13" x2="423.3" y2="28.13" stroke="#777" stroke-width="0.45"/>
<line x1="422" y1="26.84" x2="423.3" y2="26.84" stroke="#777" stroke-width="0.45"/>
<line x1="422" y1="25.71" x2="423.3" y2="25.71" stroke="#777" stroke-width="0.45"/>
<line x1="420.2" y1="24.7" x2="423.3" y2="24.7" stroke="#666" stroke-width="0.9"/>
<text transform="translate(419.9,27.4) scale(1.1,1)" font-size="7.8" text-anchor="end" fill="#222">10<tspan dy="-3.0" font-size="6.0">4</tspan></text>
<line x1="423.3" y1="113.2" x2="423.3" y2="115.8" stroke="#555" stroke-width="0.9"/>
<text transform="translate(419.3,125.5) scale(0.88,1)" font-size="8.2" fill="#222">10<tspan dy="-2.9" font-size="6.4">0</tspan></text>
<line x1="430.95" y1="113.2" x2="430.95" y2="114.5" stroke="#777" stroke-width="0.45"/>
<line x1="435.42" y1="113.2" x2="435.42" y2="114.5" stroke="#777" stroke-width="0.45"/>
<line x1="438.59" y1="113.2" x2="438.59" y2="114.5" stroke="#777" stroke-width="0.45"/>
<line x1="441.05" y1="113.2" x2="441.05" y2="114.5" stroke="#777" stroke-width="0.45"/>
<line x1="443.07" y1="113.2" x2="443.07" y2="114.5" stroke="#777" stroke-width="0.45"/>
<line x1="444.77" y1="113.2" x2="444.77" y2="114.5" stroke="#777" stroke-width="0.45"/>
<line x1="446.24" y1="113.2" x2="446.24" y2="114.5" stroke="#777" stroke-width="0.45"/>
<line x1="447.54" y1="113.2" x2="447.54" y2="114.5" stroke="#777" stroke-width="0.45"/>
<line x1="448.7" y1="113.2" x2="448.7" y2="115.8" stroke="#555" stroke-width="0.9"/>
<text transform="translate(444.7,125.5) scale(0.88,1)" font-size="8.2" fill="#222">10<tspan dy="-2.9" font-size="6.4">1</tspan></text>
<line x1="456.35" y1="113.2" x2="456.35" y2="114.5" stroke="#777" stroke-width="0.45"/>
<line x1="460.82" y1="113.2" x2="460.82" y2="114.5" stroke="#777" stroke-width="0.45"/>
<line x1="463.99" y1="113.2" x2="463.99" y2="114.5" stroke="#777" stroke-width="0.45"/>
<line x1="466.45" y1="113.2" x2="466.45" y2="114.5" stroke="#777" stroke-width="0.45"/>
<line x1="468.47" y1="113.2" x2="468.47" y2="114.5" stroke="#777" stroke-width="0.45"/>
<line x1="470.17" y1="113.2" x2="470.17" y2="114.5" stroke="#777" stroke-width="0.45"/>
<line x1="471.64" y1="113.2" x2="471.64" y2="114.5" stroke="#777" stroke-width="0.45"/>
<line x1="472.94" y1="113.2" x2="472.94" y2="114.5" stroke="#777" stroke-width="0.45"/>
<line x1="474.1" y1="113.2" x2="474.1" y2="115.8" stroke="#555" stroke-width="0.9"/>
<text transform="translate(470.1,125.5) scale(0.88,1)" font-size="8.2" fill="#222">10<tspan dy="-2.9" font-size="6.4">2</tspan></text>
<line x1="481.75" y1="113.2" x2="481.75" y2="114.5" stroke="#777" stroke-width="0.45"/>
<line x1="486.22" y1="113.2" x2="486.22" y2="114.5" stroke="#777" stroke-width="0.45"/>
<line x1="489.39" y1="113.2" x2="489.39" y2="114.5" stroke="#777" stroke-width="0.45"/>
<line x1="491.85" y1="113.2" x2="491.85" y2="114.5" stroke="#777" stroke-width="0.45"/>
<line x1="493.87" y1="113.2" x2="493.87" y2="114.5" stroke="#777" stroke-width="0.45"/>
<line x1="495.57" y1="113.2" x2="495.57" y2="114.5" stroke="#777" stroke-width="0.45"/>
<line x1="497.04" y1="113.2" x2="497.04" y2="114.5" stroke="#777" stroke-width="0.45"/>
<line x1="498.34" y1="113.2" x2="498.34" y2="114.5" stroke="#777" stroke-width="0.45"/>
<line x1="499.5" y1="113.2" x2="499.5" y2="115.8" stroke="#555" stroke-width="0.9"/>
<text transform="translate(495.5,125.5) scale(0.88,1)" font-size="8.2" fill="#222">10<tspan dy="-2.9" font-size="6.4">3</tspan></text>
<line x1="507.15" y1="113.2" x2="507.15" y2="114.5" stroke="#777" stroke-width="0.45"/>
<line x1="511.62" y1="113.2" x2="511.62" y2="114.5" stroke="#777" stroke-width="0.45"/>
<rect x="444.4" y="26" width="62.900000000000034" height="40.2" fill="none" stroke="#b5284b" stroke-width="1.35"/>
<text transform="translate(482,35.3)" font-size="7.7" fill="#222">39%</text>
<text transform="translate(466.8,17.6)" font-size="10.2" text-anchor="middle" fill="#222">Severe</text>
<text transform="translate(176.1,107.6) rotate(-90) scale(0.745,1)" font-size="10" fill="#222">CD41</text>
<line x1="172.5" y1="84.4" x2="172.5" y2="34" stroke="#111" stroke-width="1"/>
<path d="M172.5 29L175.1 35L172.5 33.8L169.9 35Z" fill="#111"/>
<text transform="translate(201.8,140) scale(0.745,1)" font-size="10" fill="#222">CD14</text>
<line x1="224" y1="136.9" x2="506.8" y2="136.9" stroke="#111" stroke-width="1.1"/>
<path d="M511.8 136.9L505.8 139.5L507 136.9L505.8 134.3Z" fill="#111"/>
<text transform="translate(7,168.8) scale(1.05,1)" font-size="12" font-weight="bold" fill="#000">B</text>
<line x1="50.3" y1="178.6" x2="50.3" y2="298.6" stroke="#111" stroke-width="1.3"/>
<line x1="49.7" y1="298" x2="157.5" y2="298" stroke="#111" stroke-width="1.3"/>
<line x1="47.1" y1="298" x2="50.3" y2="298" stroke="#111" stroke-width="1.0"/>
<text transform="translate(44.9,300.9)" font-size="8.3" text-anchor="end" fill="#222">0</text>
<line x1="47.1" y1="258.7" x2="50.3" y2="258.7" stroke="#111" stroke-width="1.0"/>
<text transform="translate(44.9,261.6)" font-size="8.3" text-anchor="end" fill="#222">25</text>
<line x1="47.1" y1="219.4" x2="50.3" y2="219.4" stroke="#111" stroke-width="1.0"/>
<text transform="translate(44.9,222.3)" font-size="8.3" text-anchor="end" fill="#222">50</text>
<line x1="47.1" y1="180.1" x2="50.3" y2="180.1" stroke="#111" stroke-width="1.0"/>
<text transform="translate(44.9,183)" font-size="8.3" text-anchor="end" fill="#222">75</text>
<text transform="translate(29.8,238.2) rotate(-90) scale(0.8,1)" font-size="10" text-anchor="middle" fill="#2b2b2b">CD14<tspan dy="-3.2" font-size="7">+</tspan><tspan dy="3.2">CD41</tspan><tspan dy="-3.2" font-size="7">+</tspan><tspan dy="3.2"> (%)</tspan></text>
<line x1="73.6" y1="298" x2="73.6" y2="301.4" stroke="#111" stroke-width="1.0"/>
<text transform="translate(73.6,311) scale(1.14,1)" font-size="7.7" text-anchor="middle" fill="#222">N = 7</text>
<line x1="103.9" y1="298" x2="103.9" y2="301.4" stroke="#111" stroke-width="1.0"/>
<text transform="translate(103.9,311) scale(1.14,1)" font-size="7.7" text-anchor="middle" fill="#222">N = 5</text>
<line x1="134.4" y1="298" x2="134.4" y2="301.4" stroke="#111" stroke-width="1.0"/>
<text transform="translate(134.4,311) scale(1.14,1)" font-size="7.7" text-anchor="middle" fill="#222">N = 35</text>
<line x1="71.2" y1="175.6" x2="134.9" y2="175.6" stroke="#333" stroke-width="1.0"/>
<text transform="translate(102.9,175.3)" font-size="6.4" text-anchor="middle" fill="#222">*</text>
<line x1="98.1" y1="192.2" x2="134.9" y2="192.2" stroke="#333" stroke-width="1.0"/>
<text transform="translate(116.4,191.7)" font-size="6.4" text-anchor="middle" fill="#222">*</text>
<line x1="73.6" y1="236.6" x2="109.6" y2="236.6" stroke="#333" stroke-width="1.0"/>
<text transform="translate(91.3,233.4)" font-size="7.2" text-anchor="middle" fill="#333">ns</text>
<rect x="62.3" y="267.11" width="23.2" height="10.45" fill="#fff" stroke="#231f20" stroke-width="0.9"/>
<line x1="62.3" y1="274.42" x2="85.5" y2="274.42" stroke="#231f20" stroke-width="0.9"/>
<line x1="73.9" y1="267.11" x2="73.9" y2="245.81" stroke="#231f20" stroke-width="0.9"/>
<line x1="73.9" y1="277.56" x2="73.9" y2="287" stroke="#231f20" stroke-width="0.9"/>
<line x1="68.7" y1="245.81" x2="79.1" y2="245.81" stroke="#231f20" stroke-width="0.9"/>
<line x1="68.7" y1="287" x2="79.1" y2="287" stroke="#231f20" stroke-width="0.9"/>
<circle cx="73.6" cy="245.8" r="2.45" fill="#2d4f9a" stroke="#0a0a0a" stroke-width="0.8"/>
<circle cx="73.6" cy="267.1" r="2.45" fill="#2d4f9a" stroke="#0a0a0a" stroke-width="0.8"/>
<circle cx="64.8" cy="273.1" r="2.45" fill="#2d4f9a" stroke="#0a0a0a" stroke-width="0.8"/>
<circle cx="70.8" cy="276.6" r="2.45" fill="#2d4f9a" stroke="#0a0a0a" stroke-width="0.8"/>
<circle cx="77" cy="277.3" r="2.45" fill="#2d4f9a" stroke="#0a0a0a" stroke-width="0.8"/>
<circle cx="82.7" cy="275.2" r="2.45" fill="#2d4f9a" stroke="#0a0a0a" stroke-width="0.8"/>
<circle cx="73.6" cy="287" r="2.45" fill="#2d4f9a" stroke="#0a0a0a" stroke-width="0.8"/>
<rect x="92.1" y="263.31" width="23.5" height="25.5" fill="#fff" stroke="#231f20" stroke-width="0.9"/>
<line x1="92.1" y1="288.57" x2="115.6" y2="288.57" stroke="#231f20" stroke-width="0.9"/>
<line x1="103.85" y1="263.31" x2="103.85" y2="259.09" stroke="#231f20" stroke-width="0.9"/>
<line x1="103.85" y1="288.8" x2="103.85" y2="288.8" stroke="#231f20" stroke-width="0.9"/>
<line x1="98.65" y1="259.09" x2="109.05" y2="259.09" stroke="#231f20" stroke-width="0.9"/>
<line x1="98.65" y1="288.8" x2="109.05" y2="288.8" stroke="#231f20" stroke-width="0.9"/>
<line x1="92.1" y1="288.73" x2="115.6" y2="288.73" stroke="#231f20" stroke-width="1.3"/>
<circle cx="103.7" cy="259.1" r="2.45" fill="#6db33f" stroke="#0a0a0a" stroke-width="0.8"/>
<circle cx="103.7" cy="268.5" r="2.45" fill="#6db33f" stroke="#0a0a0a" stroke-width="0.8"/>
<circle cx="96.7" cy="288.8" r="2.45" fill="#f6a11a" stroke="#0a0a0a" stroke-width="0.8"/>
<circle cx="103.7" cy="289" r="2.45" fill="#6db33f" stroke="#0a0a0a" stroke-width="0.8"/>
<circle cx="111" cy="288.8" r="2.45" fill="#f6a11a" stroke="#0a0a0a" stroke-width="0.8"/>
<rect x="122" y="234.88" width="24.8" height="31.91" fill="#fff" stroke="#231f20" stroke-width="0.9"/>
<line x1="122" y1="257.6" x2="146.8" y2="257.6" stroke="#231f20" stroke-width="0.9"/>
<line x1="134.4" y1="234.88" x2="134.4" y2="208" stroke="#231f20" stroke-width="0.9"/>
<line x1="134.4" y1="266.8" x2="134.4" y2="285.27" stroke="#231f20" stroke-width="0.9"/>
<line x1="129.2" y1="208" x2="139.6" y2="208" stroke="#231f20" stroke-width="0.9"/>
<line x1="129.2" y1="285.27" x2="139.6" y2="285.27" stroke="#231f20" stroke-width="0.9"/>
<circle cx="123.24" cy="208.03" r="2.3" fill="#b3142e" stroke="#0a0a0a" stroke-width="0.8"/>
<circle cx="145.08" cy="209.08" r="2.3" fill="#b3142e" stroke="#0a0a0a" stroke-width="0.8"/>
<circle cx="127.23" cy="211.81" r="2.3" fill="#b3142e" stroke="#0a0a0a" stroke-width="0.8"/>
<circle cx="134.16" cy="210.76" r="2.3" fill="#b3142e" stroke="#0a0a0a" stroke-width="0.8"/>
<circle cx="141.09" cy="212.23" r="2.3" fill="#b3142e" stroke="#0a0a0a" stroke-width="0.8"/>
<circle cx="134.16" cy="218.53" r="2.3" fill="#b3142e" stroke="#0a0a0a" stroke-width="0.8"/>
<circle cx="137.73" cy="223.99" r="2.3" fill="#b3142e" stroke="#0a0a0a" stroke-width="0.8"/>
<circle cx="130.38" cy="230.71" r="2.3" fill="#b3142e" stroke="#0a0a0a" stroke-width="0.8"/>
<circle cx="125.76" cy="237.02" r="2.3" fill="#b3142e" stroke="#0a0a0a" stroke-width="0.8"/>
<circle cx="130.38" cy="238.7" r="2.3" fill="#b3142e" stroke="#0a0a0a" stroke-width="0.8"/>
<circle cx="134.16" cy="239.12" r="2.3" fill="#b3142e" stroke="#0a0a0a" stroke-width="0.8"/>
<circle cx="138.36" cy="237.65" r="2.3" fill="#b3142e" stroke="#0a0a0a" stroke-width="0.8"/>
<circle cx="142.14" cy="234.92" r="2.3" fill="#b3142e" stroke="#0a0a0a" stroke-width="0.8"/>
<circle cx="143.19" cy="241.22" r="2.3" fill="#b3142e" stroke="#0a0a0a" stroke-width="0.8"/>
<circle cx="125.34" cy="247.1" r="2.3" fill="#b3142e" stroke="#0a0a0a" stroke-width="0.8"/>
<circle cx="131.01" cy="248.57" r="2.3" fill="#b3142e" stroke="#0a0a0a" stroke-width="0.8"/>
<circle cx="136.89" cy="247.94" r="2.3" fill="#b3142e" stroke="#0a0a0a" stroke-width="0.8"/>
<circle cx="125.13" cy="253.82" r="2.3" fill="#b3142e" stroke="#0a0a0a" stroke-width="0.8"/>
<circle cx="131.01" cy="256.55" r="2.3" fill="#b3142e" stroke="#0a0a0a" stroke-width="0.8"/>
<circle cx="136.89" cy="256.97" r="2.3" fill="#b3142e" stroke="#0a0a0a" stroke-width="0.8"/>
<circle cx="142.98" cy="255.29" r="2.3" fill="#b3142e" stroke="#0a0a0a" stroke-width="0.8"/>
<circle cx="125.76" cy="258.66" r="2.3" fill="#b3142e" stroke="#0a0a0a" stroke-width="0.8"/>
<circle cx="129.96" cy="261.81" r="2.3" fill="#b3142e" stroke="#0a0a0a" stroke-width="0.8"/>
<circle cx="143.19" cy="260.13" r="2.3" fill="#b3142e" stroke="#0a0a0a" stroke-width="0.8"/>
<circle cx="134.16" cy="264.33" r="2.3" fill="#b3142e" stroke="#0a0a0a" stroke-width="0.8"/>
<circle cx="137.94" cy="263.91" r="2.3" fill="#b3142e" stroke="#0a0a0a" stroke-width="0.8"/>
<circle cx="127.86" cy="267.9" r="2.3" fill="#b3142e" stroke="#0a0a0a" stroke-width="0.8"/>
<circle cx="131.01" cy="267.06" r="2.3" fill="#b3142e" stroke="#0a0a0a" stroke-width="0.8"/>
<circle cx="136.26" cy="268.53" r="2.3" fill="#b3142e" stroke="#0a0a0a" stroke-width="0.8"/>
<circle cx="141.09" cy="266.43" r="2.3" fill="#b3142e" stroke="#0a0a0a" stroke-width="0.8"/>
<circle cx="132.06" cy="273.36" r="2.3" fill="#b3142e" stroke="#0a0a0a" stroke-width="0.8"/>
<circle cx="136.26" cy="273.36" r="2.3" fill="#b3142e" stroke="#0a0a0a" stroke-width="0.8"/>
<circle cx="140.04" cy="271.68" r="2.3" fill="#b3142e" stroke="#0a0a0a" stroke-width="0.8"/>
<circle cx="127.23" cy="278.4" r="2.3" fill="#b3142e" stroke="#0a0a0a" stroke-width="0.8"/>
<circle cx="141.09" cy="281.76" r="2.3" fill="#b3142e" stroke="#0a0a0a" stroke-width="0.8"/>
<circle cx="134.16" cy="285.34" r="2.3" fill="#b3142e" stroke="#0a0a0a" stroke-width="0.8"/>
<text transform="translate(175.6,168.8) scale(1.05,1)" font-size="12" font-weight="bold" fill="#000">C</text>
<line x1="217.7" y1="177.3" x2="217.7" y2="298.2" stroke="#111" stroke-width="1.3"/>
<line x1="217.1" y1="297.6" x2="357.8" y2="297.6" stroke="#111" stroke-width="1.3"/>
<line x1="214.5" y1="286.1" x2="217.7" y2="286.1" stroke="#111" stroke-width="1.0"/>
<text transform="translate(213.3,289)" font-size="8.3" text-anchor="end" fill="#222">0</text>
<line x1="229.8" y1="297.6" x2="229.8" y2="301" stroke="#111" stroke-width="1.0"/>
<text transform="translate(229.8,310.8)" font-size="8.3" text-anchor="middle" fill="#222">0</text>
<line x1="214.5" y1="250.34" x2="217.7" y2="250.34" stroke="#111" stroke-width="1.0"/>
<text transform="translate(213.3,253.24)" font-size="8.3" text-anchor="end" fill="#222">25</text>
<line x1="271.53" y1="297.6" x2="271.53" y2="301" stroke="#111" stroke-width="1.0"/>
<text transform="translate(271.53,310.8)" font-size="8.3" text-anchor="middle" fill="#222">25</text>
<line x1="214.5" y1="214.58" x2="217.7" y2="214.58" stroke="#111" stroke-width="1.0"/>
<text transform="translate(213.3,217.48)" font-size="8.3" text-anchor="end" fill="#222">50</text>
<line x1="313.25" y1="297.6" x2="313.25" y2="301" stroke="#111" stroke-width="1.0"/>
<text transform="translate(313.25,310.8)" font-size="8.3" text-anchor="middle" fill="#222">50</text>
<line x1="214.5" y1="178.81" x2="217.7" y2="178.81" stroke="#111" stroke-width="1.0"/>
<text transform="translate(213.3,181.71)" font-size="8.3" text-anchor="end" fill="#222">75</text>
<line x1="354.98" y1="297.6" x2="354.98" y2="301" stroke="#111" stroke-width="1.0"/>
<text transform="translate(354.98,310.8)" font-size="8.3" text-anchor="middle" fill="#222">75</text>
<text transform="translate(197.2,232.2) rotate(-90) scale(0.8,1)" font-size="10.2" text-anchor="middle" fill="#2b2b2b">CD14<tspan dy="-3.2" font-size="7">+</tspan><tspan dy="3.2">CD41</tspan><tspan dy="-3.2" font-size="7">+</tspan><tspan dy="3.2"> (%)</tspan></text>
<text transform="translate(292,328.6) scale(0.8,1)" font-size="10.2" text-anchor="middle" fill="#2b2b2b">CD14<tspan dy="-3.2" font-size="7">+</tspan><tspan dy="3.2">CD62P</tspan><tspan dy="-3.2" font-size="7">+</tspan><tspan dy="3.2"> (%)</tspan></text>
<path d="M232 250.75L234.98 249.66L237.97 248.56L240.95 247.43L243.94 246.29L246.92 245.12L249.91 243.92L252.89 242.69L255.88 241.43L258.86 240.12L261.85 238.76L264.83 237.35L267.82 235.88L270.8 234.36L273.79 232.77L276.77 231.11L279.76 229.4L282.74 227.63L285.73 225.81L288.71 223.95L291.7 222.04L294.68 220.09L297.67 218.12L300.65 216.11L303.64 214.08L306.62 212.03L309.61 209.97L312.59 207.89L315.58 205.79L318.56 203.69L321.55 201.57L324.53 199.45L327.52 197.32L330.5 195.18" fill="none" stroke="#333" stroke-width="0.8" stroke-dasharray="0.9 1.6"/>
<path d="M232 271.75L234.98 269.67L237.97 267.61L240.95 265.56L243.94 263.54L246.92 261.54L249.91 259.57L252.89 257.63L255.88 255.73L258.86 253.87L261.85 252.06L264.83 250.31L267.82 248.61L270.8 246.97L273.79 245.39L276.77 243.87L279.76 242.42L282.74 241.02L285.73 239.67L288.71 238.37L291.7 237.11L294.68 235.89L297.67 234.7L300.65 233.53L303.64 232.39L306.62 231.28L309.61 230.17L312.59 229.09L315.58 228.01L318.56 226.95L321.55 225.9L324.53 224.86L327.52 223.82L330.5 222.79" fill="none" stroke="#333" stroke-width="0.8" stroke-dasharray="0.9 1.6"/>
<line x1="232" y1="261.25" x2="330" y2="209.25" stroke="#111" stroke-width="1.3"/>
<circle cx="237.5" cy="230.5" r="2.25" fill="#b3142e" stroke="#0a0a0a" stroke-width="0.8"/>
<circle cx="243" cy="239.5" r="2.25" fill="#b3142e" stroke="#0a0a0a" stroke-width="0.8"/>
<circle cx="255.75" cy="234.25" r="2.25" fill="#b3142e" stroke="#0a0a0a" stroke-width="0.8"/>
<circle cx="249.5" cy="246.75" r="2.25" fill="#b3142e" stroke="#0a0a0a" stroke-width="0.8"/>
<circle cx="252.5" cy="248.25" r="2.25" fill="#b3142e" stroke="#0a0a0a" stroke-width="0.8"/>
<circle cx="245.75" cy="250.5" r="2.25" fill="#b3142e" stroke="#0a0a0a" stroke-width="0.8"/>
<circle cx="244.5" cy="254.5" r="2.25" fill="#b3142e" stroke="#0a0a0a" stroke-width="0.8"/>
<circle cx="233.25" cy="262" r="2.25" fill="#b3142e" stroke="#0a0a0a" stroke-width="0.8"/>
<circle cx="235.5" cy="267.5" r="2.25" fill="#b3142e" stroke="#0a0a0a" stroke-width="0.8"/>
<circle cx="271.25" cy="213.75" r="2.25" fill="#b3142e" stroke="#0a0a0a" stroke-width="0.8"/>
<circle cx="279.5" cy="218.25" r="2.25" fill="#b3142e" stroke="#0a0a0a" stroke-width="0.8"/>
<circle cx="276.25" cy="224.5" r="2.25" fill="#b3142e" stroke="#0a0a0a" stroke-width="0.8"/>
<circle cx="268.25" cy="228.75" r="2.25" fill="#b3142e" stroke="#0a0a0a" stroke-width="0.8"/>
<circle cx="280" cy="230.75" r="2.25" fill="#b3142e" stroke="#0a0a0a" stroke-width="0.8"/>
<circle cx="282.5" cy="232" r="2.25" fill="#b3142e" stroke="#0a0a0a" stroke-width="0.8"/>
<circle cx="265.75" cy="240.5" r="2.25" fill="#b3142e" stroke="#0a0a0a" stroke-width="0.8"/>
<circle cx="268.75" cy="247.5" r="2.25" fill="#b3142e" stroke="#0a0a0a" stroke-width="0.8"/>
<circle cx="268.75" cy="252.5" r="2.25" fill="#b3142e" stroke="#0a0a0a" stroke-width="0.8"/>
<circle cx="278" cy="250.75" r="2.25" fill="#b3142e" stroke="#0a0a0a" stroke-width="0.8"/>
<circle cx="272.5" cy="258.25" r="2.25" fill="#b3142e" stroke="#0a0a0a" stroke-width="0.8"/>
<circle cx="285.5" cy="240.5" r="2.25" fill="#b3142e" stroke="#0a0a0a" stroke-width="0.8"/>
<circle cx="286.25" cy="255.75" r="2.25" fill="#b3142e" stroke="#0a0a0a" stroke-width="0.8"/>
<circle cx="285.75" cy="258.75" r="2.25" fill="#b3142e" stroke="#0a0a0a" stroke-width="0.8"/>
<circle cx="285.25" cy="263.75" r="2.25" fill="#b3142e" stroke="#0a0a0a" stroke-width="0.8"/>
<circle cx="289.5" cy="203.75" r="2.25" fill="#b3142e" stroke="#0a0a0a" stroke-width="0.8"/>
<circle cx="292" cy="208" r="2.25" fill="#b3142e" stroke="#0a0a0a" stroke-width="0.8"/>
<circle cx="295" cy="206.5" r="2.25" fill="#b3142e" stroke="#0a0a0a" stroke-width="0.8"/>
<circle cx="298.75" cy="231.75" r="2.25" fill="#b3142e" stroke="#0a0a0a" stroke-width="0.8"/>
<circle cx="299.5" cy="245.5" r="2.25" fill="#b3142e" stroke="#0a0a0a" stroke-width="0.8"/>
<circle cx="328" cy="204.75" r="2.25" fill="#b3142e" stroke="#0a0a0a" stroke-width="0.8"/>
<circle cx="332" cy="207.75" r="2.25" fill="#b3142e" stroke="#0a0a0a" stroke-width="0.8"/>
<circle cx="231.75" cy="250.5" r="2.25" fill="#6db33f" stroke="#0a0a0a" stroke-width="0.8"/>
<circle cx="246.25" cy="258.75" r="2.25" fill="#6db33f" stroke="#0a0a0a" stroke-width="0.8"/>
<circle cx="249.5" cy="278" r="2.25" fill="#6db33f" stroke="#0a0a0a" stroke-width="0.8"/>
<circle cx="240" cy="278" r="2.25" fill="#f7c325" stroke="#0a0a0a" stroke-width="0.8"/>
<circle cx="244.25" cy="278" r="2.25" fill="#f7c325" stroke="#0a0a0a" stroke-width="0.8"/>
<text transform="translate(313.7,257)" font-size="7.4" fill="#333">n = 36</text>
<text transform="translate(313.7,268.6)" font-size="7.4" fill="#333">r = 0.610</text>
<text transform="translate(313.7,280)" font-size="7.4" fill="#333">p = 0.001</text>
<circle cx="358.7" cy="210.1" r="2.8" fill="#2d4f9a" stroke="#0a0a0a" stroke-width="0.8"/>
<text transform="translate(365,212.9)" font-size="7.9" fill="#2b2b2b">Control</text>
<circle cx="358.7" cy="221.55" r="2.8" fill="#f7c325" stroke="#0a0a0a" stroke-width="0.8"/>
<text transform="translate(365,224.35)" font-size="7.9" fill="#2b2b2b">Asymptomatic</text>
<circle cx="358.7" cy="233" r="2.8" fill="#6db33f" stroke="#0a0a0a" stroke-width="0.8"/>
<text transform="translate(365,235.8)" font-size="7.9" fill="#2b2b2b">Mild</text>
<circle cx="358.7" cy="244.45" r="2.8" fill="#b3142e" stroke="#0a0a0a" stroke-width="0.8"/>
<text transform="translate(365,247.25)" font-size="7.9" fill="#2b2b2b">Severe</text>
<text transform="translate(7,356.4) scale(1.08,1)" font-size="12" font-weight="bold" fill="#000">D</text>
<text transform="translate(65.8,369.4)" font-size="10.2" text-anchor="middle" fill="#222">Control</text>
<text transform="translate(186.2,369.4)" font-size="10.2" text-anchor="middle" fill="#222">Mild</text>
<text transform="translate(306.4,369.4)" font-size="10.2" text-anchor="middle" fill="#222">Severe</text>
<rect x="7.3" y="375.3" width="117.7" height="117.3" fill="#020402"/>
<rect x="128.3" y="375.3" width="117.2" height="117.3" fill="#020402"/>
<rect x="249" y="375.3" width="117.3" height="117.3" fill="#020402"/>
<rect x="372.6" y="375.6" width="126.2" height="117" fill="#020402"/>
<g filter="url(#mblur)" clip-path="url(#c1)">
<ellipse cx="8" cy="388.8" rx="1.9" ry="2.1" fill="#27ad30" fill-opacity="0.75"/>
<ellipse cx="20.3" cy="390.7" rx="2.1" ry="2.1" fill="#27ad30" fill-opacity="0.8"/>
<ellipse cx="65.7" cy="400.3" rx="5.0" ry="4.4" fill="#114a18" fill-opacity="0.6"/>
<ellipse cx="65.7" cy="400.3" rx="4.2" ry="3.6" fill="#1c8424" fill-opacity="0.07" stroke="#1c8424" stroke-width="0.9" stroke-opacity="0.2"/>
<ellipse cx="58.4" cy="415.2" rx="4.4" ry="4.8" fill="#114a18" fill-opacity="0.9"/>
<ellipse cx="58.4" cy="415.2" rx="3.8" ry="4.2" fill="#1c8424" fill-opacity="0.17" stroke="#1c8424" stroke-width="0.9" stroke-opacity="0.5"/>
<ellipse cx="51.8" cy="415.8" rx="4.2" ry="6.6" fill="#1a2bcc" fill-opacity="1.0" transform="rotate(12 51.8 415.8)"/>
<ellipse cx="50.8" cy="413.4" rx="2.6" ry="3.2" fill="#2a3ce0" fill-opacity="0.85"/>
<ellipse cx="85.1" cy="411.6" rx="3.4" ry="3.4" fill="#1c8424" fill-opacity="0.75"/>
<ellipse cx="85.1" cy="411.6" rx="2.8" ry="2.8" fill="#27ad30" fill-opacity="0.24" stroke="#27ad30" stroke-width="1.0" stroke-opacity="0.7"/>
<ellipse cx="85.1" cy="411.6" rx="1.2" ry="1.2" fill="#041004" fill-opacity="0.8"/>
<ellipse cx="23" cy="437.4" rx="2.3" ry="2.5" fill="#27ad30" fill-opacity="0.8"/>
<ellipse cx="23.4" cy="441.8" rx="2.1" ry="2.5" fill="#27ad30" fill-opacity="0.75"/>
<ellipse cx="115.7" cy="453.8" rx="2.9" ry="2.9" fill="#27ad30" fill-opacity="1.0"/>
<ellipse cx="115.7" cy="453.8" rx="1.3" ry="1.3" fill="#7cf07c" fill-opacity="0.6"/>
<ellipse cx="58.7" cy="464.2" rx="1.8" ry="1.8" fill="#27ad30" fill-opacity="0.95"/>
<ellipse cx="35" cy="448" rx="1.2" ry="1.2" fill="#1a2bcc" fill-opacity="0.3"/>
<ellipse cx="97" cy="402" rx="0.9" ry="0.9" fill="#1a2bcc" fill-opacity="0.35"/>
<ellipse cx="122" cy="404" rx="0.8" ry="0.8" fill="#1a2bcc" fill-opacity="0.35"/>
<ellipse cx="76" cy="406" rx="0.7" ry="0.7" fill="#1a2bcc" fill-opacity="0.35"/>
</g>
<rect x="110.7" y="485.9" width="11" height="0.8" fill="#c8c8c8"/>
<rect x="113.7" y="484" width="5" height="1" fill="#999" opacity="0.6"/>
<g filter="url(#mblur)">
<ellipse cx="142.43" cy="406.89" rx="5.6" ry="5.2" fill="#1a2bcc" fill-opacity="1.0"/>
<ellipse cx="142.43" cy="406.89" rx="5.9" ry="5.5" fill="#1c8424" fill-opacity="0.17" stroke="#1c8424" stroke-width="0.7" stroke-opacity="0.5"/>
<ellipse cx="143.24" cy="406.08" rx="3.0" ry="2.6" fill="#2a3ce0" fill-opacity="0.9"/>
<ellipse cx="145.68" cy="381.76" rx="1.9" ry="1.9" fill="#114a18" fill-opacity="0.9"/>
<ellipse cx="159.73" cy="383.38" rx="2.2" ry="2.2" fill="#114a18" fill-opacity="1"/>
<ellipse cx="178.92" cy="398.24" rx="2.1" ry="2.1" fill="#1c8424" fill-opacity="0.7"/>
<ellipse cx="228.11" cy="405.54" rx="1.9" ry="1.9" fill="#114a18" fill-opacity="0.55"/>
<ellipse cx="185.41" cy="416.35" rx="2.1" ry="2.1" fill="#27ad30" fill-opacity="0.3"/>
<ellipse cx="185.41" cy="416.35" rx="1.9320000000000002" ry="1.9320000000000002" fill="#27ad30" fill-opacity="0.25" stroke="#27ad30" stroke-width="0.8" stroke-opacity="0.72"/>
<ellipse cx="181.62" cy="423.11" rx="2.3" ry="2.3" fill="#27ad30" fill-opacity="0.3"/>
<ellipse cx="181.62" cy="423.11" rx="2.116" ry="2.116" fill="#27ad30" fill-opacity="0.25" stroke="#27ad30" stroke-width="0.8" stroke-opacity="0.72"/>
<ellipse cx="187.57" cy="423.11" rx="2.3" ry="2.3" fill="#27ad30" fill-opacity="0.3"/>
<ellipse cx="187.57" cy="423.11" rx="2.116" ry="2.116" fill="#27ad30" fill-opacity="0.25" stroke="#27ad30" stroke-width="0.8" stroke-opacity="0.72"/>
<ellipse cx="192.43" cy="422.3" rx="2.1" ry="2.1" fill="#27ad30" fill-opacity="0.27"/>
<ellipse cx="192.43" cy="422.3" rx="1.9320000000000002" ry="1.9320000000000002" fill="#27ad30" fill-opacity="0.23" stroke="#27ad30" stroke-width="0.8" stroke-opacity="0.648"/>
<ellipse cx="180.81" cy="429.32" rx="2.5" ry="2.5" fill="#27ad30" fill-opacity="0.3"/>
<ellipse cx="180.81" cy="429.32" rx="2.3000000000000003" ry="2.3000000000000003" fill="#27ad30" fill-opacity="0.25" stroke="#27ad30" stroke-width="0.8" stroke-opacity="0.72"/>
<ellipse cx="186.22" cy="432.57" rx="2.5" ry="2.5" fill="#27ad30" fill-opacity="0.27"/>
<ellipse cx="186.22" cy="432.57" rx="2.3000000000000003" ry="2.3000000000000003" fill="#27ad30" fill-opacity="0.23" stroke="#27ad30" stroke-width="0.8" stroke-opacity="0.648"/>
<ellipse cx="192.97" cy="428.51" rx="2.0" ry="2.0" fill="#27ad30" fill-opacity="0.3"/>
<ellipse cx="192.97" cy="428.51" rx="1.84" ry="1.84" fill="#27ad30" fill-opacity="0.25" stroke="#27ad30" stroke-width="0.8" stroke-opacity="0.72"/>
<ellipse cx="199.73" cy="429.86" rx="2.5" ry="2.5" fill="#27ad30" fill-opacity="0.3"/>
<ellipse cx="199.73" cy="429.86" rx="2.3000000000000003" ry="2.3000000000000003" fill="#27ad30" fill-opacity="0.25" stroke="#27ad30" stroke-width="0.8" stroke-opacity="0.72"/>
<ellipse cx="205.95" cy="428.51" rx="2.3" ry="2.3" fill="#27ad30" fill-opacity="0.3"/>
<ellipse cx="205.95" cy="428.51" rx="2.116" ry="2.116" fill="#27ad30" fill-opacity="0.25" stroke="#27ad30" stroke-width="0.8" stroke-opacity="0.72"/>
<ellipse cx="198.38" cy="433.92" rx="2.3" ry="2.3" fill="#27ad30" fill-opacity="0.255"/>
<ellipse cx="198.38" cy="433.92" rx="2.116" ry="2.116" fill="#27ad30" fill-opacity="0.21" stroke="#27ad30" stroke-width="0.8" stroke-opacity="0.612"/>
<ellipse cx="207.03" cy="437.97" rx="2.6" ry="2.6" fill="#27ad30" fill-opacity="0.27"/>
<ellipse cx="207.03" cy="437.97" rx="2.3920000000000003" ry="2.3920000000000003" fill="#27ad30" fill-opacity="0.23" stroke="#27ad30" stroke-width="0.8" stroke-opacity="0.648"/>
<ellipse cx="205.14" cy="449.59" rx="2.2" ry="2.2" fill="#27ad30" fill-opacity="0.255"/>
<ellipse cx="205.14" cy="449.59" rx="2.0240000000000005" ry="2.0240000000000005" fill="#27ad30" fill-opacity="0.21" stroke="#27ad30" stroke-width="0.8" stroke-opacity="0.612"/>
<ellipse cx="190.81" cy="426.62" rx="1.6" ry="1.6" fill="#27ad30" fill-opacity="0.3"/>
<ellipse cx="190.81" cy="426.62" rx="1.4720000000000002" ry="1.4720000000000002" fill="#27ad30" fill-opacity="0.25" stroke="#27ad30" stroke-width="0.8" stroke-opacity="0.72"/>
<ellipse cx="205.95" cy="427.7" rx="1.0" ry="1.0" fill="#a0ffa0" fill-opacity="0.9"/>
<ellipse cx="178.92" cy="441.22" rx="5.9" ry="5.9" fill="#27ad30" fill-opacity="1.0"/>
<ellipse cx="179.73" cy="441.49" rx="3.7" ry="3.7" fill="#1a2bcc" fill-opacity="1.0"/>
<ellipse cx="177.84" cy="440.68" rx="1.2" ry="2.6" fill="#90ff90" fill-opacity="0.7" transform="rotate(20 177.84 440.68)"/>
<ellipse cx="203.24" cy="473.11" rx="2.7" ry="3.0" fill="#1c8424" fill-opacity="0.95" transform="rotate(30 203.24 473.11)"/>
<ellipse cx="192.16" cy="465" rx="1.1" ry="1.1" fill="#1a2bcc" fill-opacity="0.8"/>
<ellipse cx="123.24" cy="403.65" rx="0.8" ry="0.8" fill="#1a2bcc" fill-opacity="0.5"/>
</g>
<rect x="231.3" y="486.6" width="11" height="0.8" fill="#c8c8c8"/>
<rect x="234.3" y="484.7" width="5" height="1" fill="#999" opacity="0.6"/>
<g filter="url(#mblur)">
<ellipse cx="265.27" cy="405.54" rx="1.3" ry="1.3" fill="#1c8424" fill-opacity="0.9"/>
<ellipse cx="301.76" cy="428.51" rx="1.3" ry="1.3" fill="#2fcc38" fill-opacity="0.95"/>
<ellipse cx="312.57" cy="428.78" rx="1.9" ry="1.9" fill="#2fcc38" fill-opacity="0.95"/>
<ellipse cx="318.24" cy="430.41" rx="2.1" ry="2.1" fill="#2fcc38" fill-opacity="0.95"/>
<ellipse cx="315.81" cy="436.35" rx="2.2" ry="2.2" fill="#2fcc38" fill-opacity="0.95"/>
<ellipse cx="311.22" cy="437.97" rx="1.9" ry="1.9" fill="#2fcc38" fill-opacity="0.95"/>
<ellipse cx="304.46" cy="440.95" rx="2.3" ry="2.3" fill="#2fcc38" fill-opacity="0.95"/>
<ellipse cx="308.78" cy="443.92" rx="2.5" ry="2.5" fill="#2fcc38" fill-opacity="0.95"/>
<ellipse cx="303.11" cy="436.08" rx="1.6" ry="1.6" fill="#2fcc38" fill-opacity="0.95"/>
<ellipse cx="313.11" cy="433.11" rx="1.5" ry="1.5" fill="#2fcc38" fill-opacity="0.95"/>
<ellipse cx="306.62" cy="432.57" rx="4.0" ry="4.0" fill="#27ad30" fill-opacity="0.19" stroke="#27ad30" stroke-width="0.8" stroke-opacity="0.55"/>
<ellipse cx="306.62" cy="432.57" rx="3.4" ry="3.4" fill="#1a2bcc" fill-opacity="1.0"/>
<ellipse cx="320.68" cy="474.46" rx="0.8" ry="0.8" fill="#1a2bcc" fill-opacity="0.4"/>
</g>
<rect x="352.15" y="379" width="11.5" height="0.8" fill="#c8c8c8"/>
<rect x="355.4" y="377.1" width="5" height="1" fill="#999" opacity="0.6"/>
<rect x="290.1" y="414.2" width="38.7" height="39.4" fill="none" stroke="#cfcfcf" stroke-width="1"/>
<line x1="328.8" y1="414.2" x2="372.6" y2="376" stroke="#c4c4c4" stroke-width="1.0" stroke-dasharray="3 1.7"/>
<line x1="328.8" y1="453.6" x2="372.6" y2="492.3" stroke="#c4c4c4" stroke-width="1.0" stroke-dasharray="3 1.7"/>
<g filter="url(#mblur2)" clip-path="url(#c4)">
<g clip-path="url(#c5)">
<ellipse cx="424.91" cy="387.65" rx="8.2" ry="8.4" fill="#1a2bcc" fill-opacity="1.0"/>
<ellipse cx="424.61" cy="384.67" rx="5" ry="3.6" fill="#2436d8" fill-opacity="0.9"/>
</g>
<ellipse cx="435.64" cy="392.42" rx="2.2" ry="1.7" fill="#27ad30" fill-opacity="1.0"/>
<ellipse cx="448.46" cy="392.72" rx="2.6" ry="1.7" fill="#27ad30" fill-opacity="0.9"/>
<ellipse cx="415.67" cy="392.72" rx="1.8" ry="1.4" fill="#1c8424" fill-opacity="0.8"/>
<ellipse cx="443.09" cy="392.72" rx="1.4" ry="1.2" fill="#1c8424" fill-opacity="0.7"/>
<ellipse cx="485.42" cy="432.06" rx="7.4" ry="7.4" fill="#1a2bcc" fill-opacity="1.0"/>
<ellipse cx="487.21" cy="430.57" rx="4" ry="4" fill="#2436d8" fill-opacity="0.9"/>
<ellipse cx="479.46" cy="443.09" rx="3.0" ry="3.0" fill="#27ad30" fill-opacity="0.9"/>
<ellipse cx="478.26" cy="452.03" rx="2.2" ry="5" fill="#1c8424" fill-opacity="0.7"/>
<ellipse cx="479.16" cy="426.1" rx="2.0" ry="2.5" fill="#1c8424" fill-opacity="0.6"/>
<ellipse cx="425.8" cy="432.36" rx="10.2" ry="10.2" fill="#27ad30" fill-opacity="0.26" stroke="#27ad30" stroke-width="1.4" stroke-opacity="0.75"/>
<ellipse cx="424.61" cy="432.36" rx="8.2" ry="8.2" fill="#1a2bcc" fill-opacity="1.0"/>
<ellipse cx="423.42" cy="430.57" rx="4.5" ry="4.5" fill="#2436d8" fill-opacity="0.8"/>
<ellipse cx="415.07" cy="422.53" rx="1.9" ry="1.9" fill="#48f552" fill-opacity="1.0"/>
<ellipse cx="435.64" cy="431.17" rx="2.5" ry="3.5" fill="#55ff60" fill-opacity="1.0"/>
<ellipse cx="449.35" cy="427.59" rx="3.1" ry="3.1" fill="#3ae044" fill-opacity="0.35" stroke="#3ae044" stroke-width="1.4" stroke-opacity="1.0"/>
<ellipse cx="426.1" cy="443.09" rx="3.5" ry="3.0" fill="#48f552" fill-opacity="1.0"/>
<ellipse cx="438.03" cy="441.01" rx="3.6" ry="3.6" fill="#3ae044" fill-opacity="0.35" stroke="#3ae044" stroke-width="1.6" stroke-opacity="1.0"/>
<ellipse cx="445.48" cy="437.43" rx="3.6" ry="3.2" fill="#27ad30" fill-opacity="0.30" stroke="#27ad30" stroke-width="1.2" stroke-opacity="0.85"/>
<ellipse cx="418.65" cy="447.56" rx="4.6" ry="4.2" fill="#1c8424" fill-opacity="0.26" stroke="#1c8424" stroke-width="1.0" stroke-opacity="0.75"/>
<ellipse cx="427.59" cy="454.42" rx="4.6" ry="4.8" fill="#114a18" fill-opacity="0.33" stroke="#114a18" stroke-width="1.0" stroke-opacity="0.95"/>
<ellipse cx="434.15" cy="438.03" rx="2.0" ry="2.4" fill="#27ad30" fill-opacity="0.8"/>
<ellipse cx="441.9" cy="432.96" rx="1.6" ry="1.6" fill="#27ad30" fill-opacity="0.8"/>
<ellipse cx="431.17" cy="444.88" rx="2.2" ry="2.0" fill="#1c8424" fill-opacity="0.8"/>
</g>
<g fill="none" stroke-width="0.65">
<rect x="378.4" y="379.4" width="98.4" height="15.4" stroke="#1c8c26"/>
<rect x="378.4" y="395.6" width="98.4" height="92.2" stroke="#1c24a8"/>
<rect x="477.2" y="395.4" width="15.4" height="92.4" stroke="#a01414"/>
<path d="M426.1 379.4V487.8" stroke="#a81414"/>
<path d="M378.4 429.1H492.6" stroke="#1c8f26"/>
<path d="M481.3 395.6V487.8" stroke="#1c24a8"/>
<path d="M378.4 390.4H476.8" stroke="#1c24a8" stroke-opacity="0.7"/>
</g>
<rect x="385.3" y="480.4" width="12" height="0.8" fill="#c8c8c8"/>
<rect x="388.8" y="478.5" width="5" height="1" fill="#999" opacity="0.6"/>
<rect x="0.5" y="0.5" width="519" height="499" fill="none" stroke="#000" stroke-width="1.4"/>
</svg>
</body></html>
